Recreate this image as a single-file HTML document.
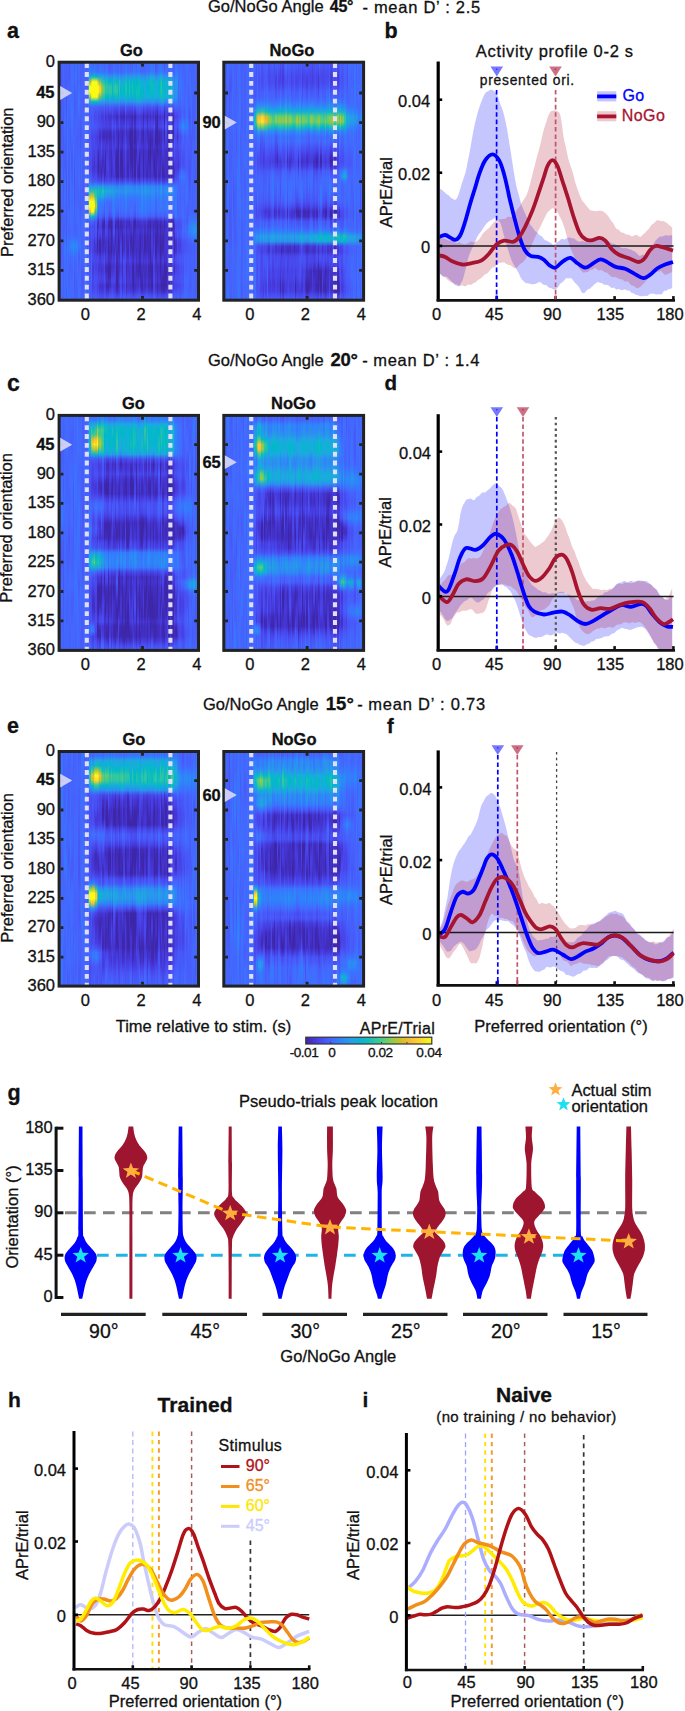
<!DOCTYPE html>
<html lang="en"><head><meta charset="utf-8"><title>Figure</title>
<style>html,body{margin:0;padding:0;background:#fff}
#fig{position:relative;width:685px;height:1711px;overflow:hidden;background:#fff;font-family:"Liberation Sans",Arial,sans-serif}
.hm{position:absolute;overflow:hidden}
.hm i{position:absolute;top:0;height:100%;display:block}
svg{position:absolute;left:0;top:0}
text{font-family:"Liberation Sans",Arial,sans-serif;fill:#111;stroke:#111;stroke-width:.3px}
</style></head>
<body><div id="fig">
<div class="hm" style="left:58.6px;top:61.8px;width:140.4px;height:239.0px"><i style="left:0.00px;width:1.70px;background:linear-gradient(#416bfe,#416bfe,#4269fe,#4466fd,#4563fd,#4563fd,#4465fd,#4367fd,#4269fe,#416bfe,#406cfe,#3f6eff,#3d70ff,#3d71ff,#3e6fff,#406dfe,#416bfe,#416bfe,#406cfe,#406dfe,#3f6efe,#406dfe,#406dfe,#406dfe,#3f6dfe,#406dfe,#416cfe,#426afe,#4368fe,#4466fd,#4564fd,#4563fc,#4563fd,#4465fd,#4368fe,#416bfe,#406dfe,#406dfe,#416bfe,#4368fe,#4466fd,#4465fd,#4466fd,#4368fe,#416bfe,#3f6efe,#3e6fff,#3f6fff,#3f6efe)"></i><i style="left:1.40px;width:1.70px;background:linear-gradient(#4465fd,#4464fd,#4564fd,#4564fd,#4465fd,#4367fd,#4368fd,#4367fd,#4466fd,#4367fd,#4269fe,#406cfe,#3f6eff,#3f6efe,#406cfe,#426afe,#4367fd,#4564fd,#4661fc,#465efb,#465efb,#465efb,#465ffb,#4660fc,#4660fb,#465ffb,#465ffb,#4561fc,#4563fc,#4464fd,#4464fd,#4563fc,#4660fc,#465efb,#475dfa,#475cfa,#475cfa,#475cfa,#475af9,#4758f8,#4756f7,#4757f7,#4759f9,#475dfa,#465ffb,#4561fc,#4563fc,#4564fd,#4465fd)"></i><i style="left:2.81px;width:1.70px;background:linear-gradient(#4561fc,#465ffb,#465efb,#465dfa,#475cfa,#475cfa,#475cfa,#465dfb,#465ffb,#465ffb,#465ffb,#465ffb,#465efb,#465efb,#465efb,#465ffb,#465ffb,#4660fc,#4561fc,#4563fd,#4465fd,#4367fd,#4269fe,#426afe,#416bfe,#416bfe,#426afe,#4368fd,#4465fd,#4562fc,#4660fc,#4660fb,#4661fc,#4563fc,#4465fd,#4466fd,#4465fd,#4563fd,#4661fc,#4660fc,#4562fc,#4466fd,#426afe,#406dfe,#3f6dfe,#406cfe,#4269fe,#4367fd,#4465fd)"></i><i style="left:4.21px;width:1.70px;background:linear-gradient(#4466fd,#4367fd,#4466fd,#4465fd,#4464fd,#4564fd,#4564fd,#4563fc,#4660fc,#465efb,#475bfa,#475bf9,#475dfa,#465efb,#465ffb,#465efb,#475bfa,#475af9,#475af9,#475cfa,#465dfa,#475dfa,#475cfa,#475bf9,#475bf9,#475bf9,#475bf9,#475dfa,#4660fb,#4562fc,#4563fd,#4562fc,#465ffb,#475cfa,#475bf9,#475dfa,#4661fc,#4465fd,#4466fd,#4464fd,#4561fc,#465ffb,#465efb,#465ffb,#4561fc,#4562fc,#4562fc,#4660fc,#465ffb)"></i><i style="left:5.62px;width:1.70px;background:linear-gradient(#4561fc,#4660fb,#4660fb,#4660fb,#4660fc,#4660fc,#4561fc,#4562fc,#4563fd,#4465fd,#4367fd,#4369fe,#426afe,#426afe,#4368fe,#4367fd,#4465fd,#4563fc,#4660fc,#465efb,#465efb,#4660fc,#4563fd,#4466fd,#4368fe,#426afe,#416cfe,#406cfe,#416cfe,#426afe,#4367fd,#4464fd,#4563fc,#4563fc,#4465fd,#4269fe,#3d70ff,#3876fe,#3875fe,#3c71ff,#406dfe,#426afe,#426afe,#416afe,#416bfe,#416cfe,#416bfe,#416afe,#426afe)"></i><i style="left:7.02px;width:1.70px;background:linear-gradient(#475af9,#475bf9,#475bfa,#475cfa,#475bf9,#475af9,#4758f8,#4757f7,#4756f7,#4757f7,#4759f8,#475bf9,#465dfa,#465efb,#465ffb,#465ffb,#465ffb,#465ffb,#465ffb,#465efb,#475cfa,#475af9,#4759f8,#4758f8,#4757f7,#4758f8,#4759f8,#475af9,#475bf9,#475bf9,#475bf9,#475af9,#4759f8,#4759f8,#4759f8,#475af9,#465ffb,#4564fd,#4465fd,#4464fd,#4465fd,#4466fd,#4466fd,#4466fd,#4466fd,#4564fd,#4561fc,#465efb,#475cfa)"></i><i style="left:8.42px;width:1.70px;background:linear-gradient(#4368fe,#4466fd,#4563fd,#4562fc,#4563fc,#4465fd,#4367fd,#4369fe,#426afe,#416bfe,#416bfe,#416cfe,#406dfe,#3f6eff,#3d71ff,#3a73fe,#3974fe,#3a74fe,#3b73fe,#3b72fe,#3b73fe,#3a74fe,#3975fe,#3875fe,#3975fe,#3b72fe,#3e70ff,#3f6dfe,#406cfe,#416bfe,#416bfe,#416bfe,#416cfe,#406dfe,#3f6eff,#3d70ff,#3876fe,#337afd,#3777fe,#3b72ff,#3d70ff,#3e70ff,#3f6fff,#3f6fff,#3e70ff,#3d71ff,#3c72ff,#3c71ff,#3d71ff)"></i><i style="left:9.83px;width:1.70px;background:linear-gradient(#475bf9,#475af9,#475bf9,#465dfa,#4561fc,#4465fd,#4368fe,#4269fe,#4368fd,#4466fd,#4465fd,#4465fd,#4465fd,#4465fd,#4465fd,#4465fd,#4464fd,#4563fd,#4661fc,#465efb,#475cfa,#475cfa,#475dfa,#465efb,#465efb,#465efb,#465dfb,#465efb,#465ffb,#4561fc,#4564fd,#4466fd,#4466fd,#4465fd,#4464fd,#4466fd,#3f6fff,#3777fe,#3c72ff,#416bfe,#4368fe,#4367fd,#4464fd,#4562fc,#4562fc,#4464fd,#4367fd,#426afe,#426afe)"></i><i style="left:11.23px;width:1.70px;background:linear-gradient(#4564fd,#4564fd,#4564fd,#4563fd,#4563fc,#4563fd,#4465fd,#4368fe,#426afe,#426afe,#4368fe,#4465fd,#4563fc,#4561fc,#465ffb,#465ffb,#465ffb,#4562fc,#4466fd,#426afe,#406dfe,#3f6eff,#3e6fff,#3e70ff,#3d71ff,#3d71ff,#3e70ff,#3e6fff,#3f6fff,#3e6fff,#3e6fff,#3f6eff,#416cfe,#4369fe,#4366fd,#4269fe,#3875fe,#307ffb,#3a74fe,#4465fd,#465ffb,#465ffb,#4562fc,#4466fd,#4269fe,#426afe,#4269fe,#4367fd,#4465fd)"></i><i style="left:12.64px;width:1.70px;background:linear-gradient(#4269fe,#416bfe,#406cfe,#406cfe,#416cfe,#416bfe,#416bfe,#416bfe,#3f6efe,#3d70ff,#3c72ff,#3c72ff,#3d70ff,#3f6efe,#416bfe,#4368fe,#4464fd,#4660fb,#475cfa,#475af9,#475af9,#475bfa,#465dfa,#465ffb,#4561fc,#4564fd,#4465fd,#4367fd,#4367fd,#4368fe,#4369fe,#426afe,#416bfe,#416bfe,#426afe,#406dfe,#327cfc,#2d88f6,#317dfc,#406dfe,#4367fd,#4564fd,#4563fc,#4563fd,#4466fd,#4368fe,#4368fe,#4367fd,#4465fd)"></i><i style="left:14.04px;width:1.70px;background:linear-gradient(#4269fe,#416bfe,#3f6efe,#3d70ff,#3d71ff,#3e70ff,#3e6fff,#3f6eff,#3f6eff,#3f6eff,#406cfe,#426afe,#4367fd,#4466fd,#4367fd,#426afe,#3f6eff,#3b72ff,#3974fe,#3975fe,#3974fe,#3a73fe,#3c71ff,#3e6fff,#3f6dfe,#406dfe,#3f6efe,#3d70ff,#3c72ff,#3c72ff,#3d70ff,#406cfe,#4368fe,#4464fd,#4564fd,#426afe,#3080fb,#2c90f0,#2e87f7,#3777fe,#3c71ff,#3d71ff,#3d70ff,#3e70ff,#3e6fff,#3e6fff,#3d70ff,#3c71ff,#3c71ff)"></i><i style="left:15.44px;width:1.70px;background:linear-gradient(#475cfa,#465dfb,#465ffb,#4660fc,#465ffb,#475cfa,#4759f8,#4757f7,#4758f8,#475af9,#475cfa,#465efb,#465ffb,#4660fc,#4561fc,#4562fc,#4562fc,#4561fc,#465ffb,#465dfa,#475bf9,#4757f7,#4854f5,#4852f4,#4852f4,#4853f5,#4755f6,#4756f7,#4758f8,#4759f8,#475bf9,#475cfa,#465dfa,#465ffb,#4562fc,#4368fe,#337afd,#2e87f7,#3678fd,#4465fd,#465efb,#475cfa,#475af9,#4758f8,#4757f7,#4758f8,#4759f8,#475af9,#475bf9)"></i><i style="left:16.85px;width:1.70px;background:linear-gradient(#406dfe,#3d70ff,#3c71ff,#3d71ff,#3f6efe,#426afe,#4465fd,#4562fc,#465ffb,#465ffb,#4660fc,#4563fc,#4464fd,#4465fd,#4563fd,#4562fc,#4561fc,#4562fc,#4564fd,#4465fd,#4466fd,#4466fd,#4367fd,#4367fd,#4466fd,#4464fd,#4562fc,#4562fc,#4564fd,#4366fd,#4368fe,#4367fd,#4564fd,#4561fc,#4660fc,#4466fd,#3578fd,#2e86f7,#327cfc,#406cfe,#4367fd,#4465fd,#4563fd,#4660fc,#465ffb,#465efb,#465ffb,#4661fc,#4562fc)"></i><i style="left:18.25px;width:1.70px;background:linear-gradient(#465efb,#475cfa,#475cfa,#475cfa,#475cfa,#465dfb,#4660fb,#4562fc,#4564fd,#4465fd,#4464fd,#4564fd,#4563fd,#4562fc,#4660fb,#465efb,#475cfa,#475dfa,#465ffb,#4561fc,#4562fc,#4562fc,#4661fc,#4660fb,#465ffb,#465efb,#465efb,#4660fb,#4563fc,#4466fd,#4369fe,#4269fe,#4368fe,#4466fd,#4465fd,#4368fe,#3677fe,#2e85f8,#2f80fa,#3777fe,#3b73fe,#3e6fff,#426afe,#4466fd,#4564fd,#4562fc,#4561fc,#465ffb,#465efb)"></i><i style="left:19.66px;width:1.70px;background:linear-gradient(#416bfe,#416bfe,#426afe,#4369fe,#4368fe,#416bfe,#3f6fff,#3b73fe,#3974fe,#3b72ff,#406dfe,#4367fd,#4563fc,#4660fb,#465ffb,#465ffb,#4661fc,#4562fc,#4464fd,#4466fd,#4367fd,#4367fd,#4368fd,#4368fe,#4269fe,#4368fe,#4465fd,#4562fc,#4562fc,#4563fd,#4466fd,#4368fe,#4269fe,#426afe,#426afe,#416bfe,#3d70ff,#3c72ff,#4367fd,#465ffb,#465ffb,#4562fc,#4465fd,#4367fd,#4368fe,#416bfe,#3f6efe,#3e70ff,#3d70ff)"></i><i style="left:21.06px;width:1.70px;background:linear-gradient(#465efb,#465efb,#475dfa,#475cfa,#475cfa,#465efb,#4561fc,#4563fd,#4564fd,#4563fc,#4561fc,#4660fb,#465dfb,#475bf9,#4758f8,#4756f6,#4756f6,#4757f7,#475af9,#465dfa,#465efb,#465ffb,#465ffb,#465ffb,#465ffb,#465ffb,#465ffb,#465dfb,#475cfa,#475cfa,#465dfa,#4660fb,#4562fc,#4564fd,#4465fd,#4367fd,#3f6eff,#3974fe,#3d70ff,#416bfe,#4369fe,#4269fe,#4269fe,#4368fe,#4367fd,#4466fd,#4466fd,#4367fd,#4367fd)"></i><i style="left:22.46px;width:1.70px;background:linear-gradient(#4466fd,#4466fd,#4465fd,#4465fd,#4465fd,#4466fd,#4367fd,#4366fd,#4465fd,#4563fc,#4562fc,#4561fc,#4660fc,#465efb,#475bfa,#475af9,#475dfa,#4562fc,#4367fd,#406cfe,#3e6fff,#3e70ff,#3f6efe,#416afe,#4367fd,#4466fd,#4466fd,#4466fd,#4367fd,#4367fd,#4466fd,#4466fd,#4367fd,#4367fd,#4465fd,#4563fd,#4464fd,#4367fd,#4465fd,#4561fc,#465ffb,#475bfa,#4758f8,#4757f8,#4759f8,#475af9,#475bf9,#475cfa,#465efb)"></i><i style="left:23.87px;width:1.70px;background:linear-gradient(#475dfa,#465efb,#4660fc,#4562fc,#4563fc,#4562fc,#4561fc,#4660fb,#465ffb,#465ffb,#4661fc,#4563fd,#4466fd,#4466fd,#4464fd,#4562fc,#4561fc,#4561fc,#4661fc,#4660fc,#465ffb,#465efb,#465dfb,#475cfa,#475bf9,#475af9,#475af9,#475cfa,#465ffb,#4562fc,#4466fd,#4269fe,#416bfe,#426afe,#4368fe,#4466fd,#4465fd,#4466fd,#4465fd,#4563fd,#4561fc,#465ffb,#475bf9,#4758f8,#4758f8,#475af9,#465efb,#4660fc,#4562fc)"></i><i style="left:25.27px;width:1.70px;background:linear-gradient(#416bfe,#416bfe,#416afe,#426afe,#4269fe,#4368fd,#4465fd,#4562fc,#4660fc,#4660fc,#4563fc,#4366fd,#4269fe,#426afe,#4369fe,#4368fe,#4367fd,#4466fd,#4563fd,#4660fc,#465efb,#465dfa,#475dfa,#465dfa,#465efb,#4660fb,#4562fc,#4465fd,#4367fd,#426afe,#406cfe,#3f6efe,#3f6efe,#406dfe,#416bfe,#4269fe,#426afe,#416bfe,#416cfe,#426afe,#4367fd,#4464fd,#4562fc,#4563fc,#4465fd,#4369fe,#416bfe,#416cfe,#416bfe)"></i><i style="left:26.68px;width:1.70px;background:linear-gradient(#4466fd,#4564fd,#4562fc,#4561fc,#4562fc,#4562fc,#4563fc,#4563fc,#4564fd,#4466fd,#4368fe,#426afe,#426afe,#4269fe,#4368fe,#4366fd,#4466fd,#4466fd,#4366fd,#4367fd,#4368fe,#426afe,#406cfe,#3f6dfe,#3f6dfe,#406cfe,#416bfe,#4269fe,#4367fd,#4465fd,#4464fd,#4464fd,#4465fd,#4564fd,#4562fc,#4561fc,#4563fd,#4368fe,#3f6efe,#3b72ff,#3974fe,#3a73fe,#3c71ff,#3e6fff,#3f6fff,#3f6eff,#3f6eff,#406cfe,#416bfe)"></i><i style="left:28.08px;width:1.70px;background:linear-gradient(#4466fd,#4367fd,#4367fd,#4466fd,#4464fd,#4561fc,#465ffb,#465ffb,#465ffb,#465ffb,#4660fc,#4562fc,#4465fd,#4366fd,#4465fd,#4561fc,#475dfa,#4758f8,#4854f6,#4852f4,#4852f4,#4854f5,#4756f6,#4758f8,#475af9,#475cfa,#475cfa,#475bfa,#475af9,#4758f8,#4757f7,#4756f7,#4755f6,#4755f6,#4755f6,#4854f5,#4853f5,#4854f5,#4755f6,#4756f7,#4757f7,#4758f8,#4758f8,#4759f8,#475af9,#475bfa,#475cfa,#465dfb,#465efb)"></i><i style="left:29.48px;width:1.70px;background:linear-gradient(#4369fe,#426afe,#416bfe,#3578fd,#2c8ff1,#1fa6e2,#1da8e0,#2a93ee,#337bfd,#406cfe,#4269fe,#4465fd,#4562fc,#465efb,#475bf9,#475bfa,#465ffb,#4563fc,#4564fd,#4563fd,#4562fc,#4561fc,#4563fd,#4367fd,#406dfe,#337bfc,#2d89f5,#2c90f0,#249de6,#23a0e5,#2d8bf4,#3e6fff,#4562fc,#4561fc,#4564fd,#4465fd,#4465fd,#4368fd,#4369fe,#4369fe,#4465fd,#465efb,#475bf9,#475cfa,#4660fc,#4465fd,#406cfe,#3c72ff,#3a73fe)"></i><i style="left:30.89px;width:1.70px;background:linear-gradient(#3876fe,#3677fe,#337bfd,#20a4e3,#93ca4b,#f9fb15,#f9fb15,#9fc941,#259ce7,#4660fb,#4759f8,#4757f7,#465dfa,#4561fc,#475cfa,#4757f7,#4757f7,#4755f6,#4850f2,#484df0,#484aee,#484aee,#484ff2,#4758f8,#4466fd,#269ae8,#2bc3a8,#c1c32c,#f9fb15,#f9fb15,#f9bb3d,#21a3e3,#475cfa,#4849ed,#484bee,#484bef,#4746ea,#4744e8,#4744e8,#484bef,#484ff2,#484ff2,#4852f4,#4757f7,#4759f8,#4756f6,#4759f8,#465dfa,#465ffb)"></i><i style="left:32.29px;width:1.70px;background:linear-gradient(#3e6fff,#3e6fff,#3975fe,#15afd9,#fccf30,#f9fb15,#f9fb15,#f5e427,#14b0d8,#4464fd,#475af9,#4854f5,#4755f6,#4854f5,#484aed,#4745e9,#484aee,#484ef1,#484df0,#484cf0,#4849ed,#4848ec,#484cf0,#4853f4,#465dfa,#2895ec,#2cc4a7,#f0ba36,#f9fb15,#f9fb15,#f9fb15,#1dc0b3,#406dfe,#4756f6,#4757f7,#4756f6,#484df0,#484ef1,#4853f5,#4561fc,#4367fd,#4563fc,#4661fc,#4562fc,#465ffb,#4757f7,#475af9,#465ffb,#4562fc)"></i><i style="left:33.70px;width:1.70px;background:linear-gradient(#4564fd,#4269fe,#3578fd,#09bcbe,#f9fb15,#f9fb15,#f9fb15,#f9fb15,#05b6cd,#4465fd,#475bfa,#4757f7,#475bf9,#475cfa,#484ff2,#4746ea,#4848ec,#4849ed,#4744e8,#4743e7,#463bdc,#4538d7,#463adb,#4746ea,#4755f6,#2895ec,#2ec4a5,#e0bc2a,#f9fb15,#f9fb15,#f9fb15,#05bbc1,#4562fc,#484bef,#4850f2,#484ff2,#4746ea,#4744e8,#4742e6,#484aee,#4747eb,#463cde,#463bdc,#4742e6,#4746eb,#4742e6,#484aee,#4755f6,#475af9)"></i><i style="left:35.10px;width:1.70px;background:linear-gradient(#3975fe,#3579fd,#2f81fa,#1cc0b3,#f9fb15,#f9fb15,#f9fb15,#f9fb15,#08bcbf,#4562fc,#4851f4,#4847ec,#484df0,#4853f5,#484aee,#484aee,#484aee,#4849ed,#473fe3,#4538d8,#43c,#4332ca,#4539d9,#4744e8,#4755f6,#2896ec,#22c1b0,#67cd6c,#f5e327,#f9fb15,#debc2a,#23a1e5,#4853f5,#4743e7,#4849ed,#4745e9,#4536d2,#4433cd,#4536d3,#4746ea,#484bee,#4747eb,#484aee,#484ef1,#4850f3,#484cef,#484ff1,#4759f8,#465dfb)"></i><i style="left:36.50px;width:1.70px;background:linear-gradient(#4269fe,#426afe,#3b72fe,#01b8c9,#f9fb15,#f9fb15,#f9fb15,#f9fb15,#01bac6,#4660fb,#4850f2,#484aee,#4851f3,#4756f6,#484bee,#4740e4,#4744e8,#4848ec,#4746ea,#4745ea,#4741e4,#463de0,#4740e4,#4848ec,#4757f7,#269ae8,#29c3aa,#2fc5a3,#73cd62,#bfc32e,#36c898,#2b92ee,#475bf9,#4757f7,#4756f6,#4851f3,#4742e6,#463adb,#4537d5,#4743e8,#4746ea,#473ee2,#4743e7,#484bef,#484ff2,#484bef,#4850f2,#475bf9,#465ffb)"></i><i style="left:37.91px;width:1.70px;background:linear-gradient(#4466fd,#4269fe,#3d71ff,#11b1d6,#fcd030,#f9fb15,#f9fb15,#f5ea24,#09b4d1,#4562fc,#4853f4,#484ef1,#484ff2,#4852f4,#4745e9,#463adb,#463ee1,#473fe2,#4538d7,#4536d3,#4332ca,#4230c3,#4332cb,#463adb,#484df0,#2a92ee,#07bcbf,#17aedb,#22a2e4,#1ea7e1,#2b91ef,#4464fd,#463adb,#402ab4,#4332c9,#3e28ad,#3e26a8,#3e26a8,#3f28ad,#4741e4,#484aed,#4746ea,#4744e9,#484aee,#4849ed,#463ddf,#4744e8,#4851f4,#4757f7)"></i><i style="left:39.31px;width:1.70px;background:linear-gradient(#465efb,#4660fc,#426afe,#1da9e0,#cfc028,#f9fb15,#f9fb15,#e3bc2c,#1ca9df,#475cfa,#484cef,#4742e6,#4848ec,#484ff2,#4744e8,#463de0,#4742e6,#463ee1,#4230c3,#3e27a9,#3e26a8,#3e26a8,#3e26a8,#4433cd,#4851f3,#249ee6,#2cc4a7,#18aedb,#2e86f7,#337bfc,#416afe,#4852f4,#4331c6,#4330c5,#4741e5,#4746ea,#4538d7,#4538d8,#4536d3,#4745e9,#4744e8,#4536d3,#4536d3,#4742e6,#4849ed,#4741e5,#484aee,#475af9,#4562fc)"></i><i style="left:40.72px;width:1.70px;background:linear-gradient(#3e6fff,#3c72ff,#3678fd,#1baade,#70cd65,#fdcc32,#feca33,#5ecd74,#23a0e5,#465dfa,#484ff2,#4746ea,#4849ed,#484aee,#4435d1,#412ebe,#4535d2,#463cde,#4539d8,#4539d9,#4434cf,#4331c8,#4331c6,#4536d3,#484bee,#2b92ee,#04bbc2,#20a4e3,#307ffb,#327bfc,#3777fe,#4367fd,#484aed,#473fe2,#4745e9,#463adb,#3e27ab,#3e26a8,#3e26a8,#4434ce,#463cdf,#4536d3,#4538d7,#4741e5,#4740e4,#4332ca,#463adb,#484ef1,#4757f7)"></i><i style="left:42.12px;width:1.70px;background:linear-gradient(#4367fd,#406cfe,#3975fe,#1da9e0,#47cb87,#c5c22a,#c0c32d,#3dca90,#249fe5,#475bf9,#4747eb,#4539d9,#4742e6,#4849ed,#473ee1,#463cde,#484aee,#4852f4,#484bef,#4744e8,#4536d2,#412dbd,#3e27aa,#412cba,#4744e8,#2b90ef,#0bbdbd,#1fa6e2,#327cfc,#3974fe,#3d70ff,#4563fc,#4747eb,#473ee1,#4849ed,#4745e9,#4537d5,#4536d4,#4433cd,#4740e3,#4741e5,#4433cd,#4332ca,#463bdd,#463ee1,#4433cb,#463bdd,#484cf0,#4854f5)"></i><i style="left:43.52px;width:1.70px;background:linear-gradient(#4367fd,#416cfe,#3a74fe,#20a4e3,#2fc5a3,#6ecd66,#6acd6a,#2bc3a8,#249de6,#475dfa,#4849ed,#463bdd,#4740e3,#4743e7,#4330c4,#402bb7,#4535d2,#463cde,#4435d1,#4331c8,#412cba,#422fc1,#43c,#4741e4,#4756f7,#23a0e5,#25c2ae,#1ca9e0,#317dfc,#3b72ff,#426afe,#4758f8,#4330c5,#3e27ac,#4331c5,#4331c6,#402ab5,#412dbc,#422fc1,#473fe2,#4746ea,#4639da,#4538d7,#4741e5,#4741e4,#4332ca,#463adc,#484df0,#4755f6)"></i><i style="left:44.93px;width:1.70px;background:linear-gradient(#4660fb,#4562fc,#426afe,#259de7,#23c1af,#55cc7c,#58cc79,#2dc4a6,#21a3e3,#4466fd,#4854f5,#4849ed,#4849ed,#4744e8,#4230c3,#402ab4,#4536d3,#4740e3,#463cdf,#463adb,#4434ce,#422fc2,#3f29b1,#4029b2,#463de0,#2f81fa,#1caadf,#2c8ef1,#4368fd,#4660fb,#4759f9,#484aee,#3e26a8,#3e26a8,#4331c6,#4433cd,#4230c3,#4433cd,#4537d6,#484bef,#4854f5,#4746ea,#4743e7,#484df0,#484ef1,#473ee2,#4849ed,#4756f6,#475cfa)"></i><i style="left:46.33px;width:1.70px;background:linear-gradient(#416cfe,#3f6efe,#3c71ff,#249de6,#08bcbf,#2bc3a8,#23c1af,#04b6cd,#2c8ef1,#4850f3,#463de0,#422fc3,#4538d7,#4741e5,#4434cf,#4230c4,#4537d6,#4537d6,#412dbb,#3e27a9,#3e26a8,#3e26a8,#3f28af,#4434ce,#484ff2,#2798ea,#02bac4,#23a0e5,#327cfc,#3479fd,#347afd,#3f6efe,#4853f5,#4745e9,#484cef,#4740e3,#4331c7,#422ebf,#412dbb,#4536d4,#463ada,#412dbc,#412ebe,#463bdc,#4741e5,#4536d4,#4744e8,#4854f5,#475dfa)"></i><i style="left:47.74px;width:1.70px;background:linear-gradient(#416cfe,#3e6fff,#3875fe,#22a2e4,#15bfb7,#30c5a1,#2ac3a9,#02bac4,#2797ea,#475cfa,#484aee,#463cdf,#4741e5,#4742e6,#422fc0,#3f29b0,#4332c8,#463adb,#4539d9,#463ddf,#4740e4,#4741e5,#463cde,#463adc,#484bee,#2d8cf3,#1aacdd,#2c8ff1,#406cfe,#426afe,#406dfe,#4464fd,#4747ec,#463cde,#4745e9,#463ee1,#4536d2,#4536d5,#4536d3,#473ee1,#463ee0,#412cba,#402ab5,#4331c8,#4432cb,#3e27ab,#4332cb,#484aee,#4756f6)"></i><i style="left:49.14px;width:1.70px;background:linear-gradient(#465efb,#465efb,#4564fd,#2a93ed,#01b8c9,#25c2ad,#20c1b1,#04b6cd,#2c8ff0,#4853f4,#4740e3,#4433cb,#463de0,#4745e9,#4434d0,#4331c8,#463adb,#4742e6,#463cdf,#463cdf,#4740e4,#4744e8,#4743e7,#4743e7,#4851f3,#2c8ff0,#1caadf,#2c8ef2,#3e6fff,#416bfe,#4368fd,#4759f9,#4332ca,#3f29b2,#4332c9,#412dbb,#3e26a8,#3e26a8,#3e26a8,#402bb7,#412dbb,#3e26a8,#3e26a8,#3e27ac,#412dbd,#3e27a9,#43c,#484bef,#4756f6)"></i><i style="left:50.54px;width:1.70px;background:linear-gradient(#475cfa,#475bf9,#4660fc,#2b91ef,#01b8c9,#2bc3a8,#2fc5a3,#10beba,#259ce7,#465efb,#484bee,#4434d0,#4538d8,#463de0,#412cba,#402ab3,#4331c6,#4536d4,#4332c9,#4332c8,#4434cf,#4435d1,#4434ce,#4536d2,#484cef,#2c8ff1,#1babde,#2c8ef1,#406cfe,#4563fd,#475dfa,#484ff1,#402ab4,#3e27a9,#4435d1,#4435d0,#422fc3,#412ebe,#402bb6,#4330c4,#4331c6,#3e26a8,#3e26a8,#3f29b2,#4330c5,#412dbc,#473fe3,#4756f7,#4561fc)"></i><i style="left:51.95px;width:1.70px;background:linear-gradient(#465dfb,#465efb,#4465fd,#2895ec,#02bac4,#2dc4a6,#2cc4a6,#05bbc1,#2797ea,#4759f8,#4743e7,#43c,#463cdf,#4744e8,#4331c7,#412dbb,#4330c4,#4434cd,#412ebe,#412dbb,#422ebf,#412dbd,#412cb9,#422ebf,#4848ec,#2d89f6,#23a0e5,#2e86f7,#416bfe,#4465fd,#4661fc,#4852f4,#3e27a9,#3e26a8,#3e26a8,#3e26a8,#3e26a8,#3e26a8,#3e26a8,#422fc0,#4538d8,#4331c6,#4434d0,#463ee1,#4743e7,#4539d9,#4746ea,#4757f7,#465ffb)"></i><i style="left:53.35px;width:1.70px;background:linear-gradient(#4465fd,#4561fc,#4562fc,#2d8bf4,#19addc,#01b8c9,#02bac3,#06b5ce,#2797eb,#465efb,#484ef1,#4741e5,#4850f2,#4759f8,#4742e6,#463cdf,#4740e3,#4745e9,#463cde,#4539d9,#4536d5,#4434cf,#4434cf,#4538d8,#4854f5,#2994ed,#1ca9df,#2994ed,#307ffb,#337afd,#3974fe,#4563fd,#4537d6,#422ec0,#4536d3,#4332c9,#422fc0,#4330c5,#4332c9,#463bdc,#473fe3,#43c,#4435d0,#463ee0,#4745e9,#463de0,#484cef,#465efb,#4367fd)"></i><i style="left:54.76px;width:1.70px;background:linear-gradient(#416afe,#406cfe,#3c72ff,#249fe6,#0bbdbd,#2bc3a7,#25c2ad,#01b9c6,#2896eb,#4759f8,#4743e7,#4434ce,#4740e3,#4849ed,#4434ce,#4331c6,#4435d0,#463ddf,#463ada,#463de0,#4741e5,#4741e5,#463cdf,#4538d7,#484df0,#2d89f5,#249de6,#2d8cf3,#327cfc,#327cfc,#327cfc,#3e6fff,#484ff2,#4848ec,#4852f4,#4747eb,#4539d9,#4332c9,#422ebf,#4434cf,#463cde,#4434cf,#4639d9,#4742e7,#4747eb,#463adb,#4742e6,#4854f5,#465dfb)"></i><i style="left:56.16px;width:1.70px;background:linear-gradient(#4563fc,#4464fd,#416bfe,#259be8,#0ebebb,#34c79c,#33c69e,#0bbdbc,#2896ec,#4854f5,#463cdf,#4332ca,#4744e9,#4854f5,#4741e5,#473ee1,#473fe2,#4740e4,#4433cd,#422ebf,#402bb8,#402bb8,#422ebf,#4332cb,#484cf0,#2d89f5,#2797eb,#3080fa,#406dfe,#416bfe,#4368fe,#475af9,#422fc1,#3e26a8,#402bb8,#3f29b2,#402bb7,#4332ca,#4639da,#4848ec,#484ff2,#4740e4,#463de0,#463ee1,#463ee0,#4332cb,#463adb,#4850f2,#475af9)"></i><i style="left:57.56px;width:1.70px;background:linear-gradient(#4562fc,#4563fd,#4368fd,#2896eb,#01bac5,#2ac3a9,#2dc4a6,#0abdbe,#2797eb,#4755f6,#463ddf,#412cba,#4435d0,#463ee1,#422fc2,#4331c7,#4434cf,#4535d2,#3f29b0,#3e26a8,#3e26a8,#3e26a8,#3e26a8,#3e26a8,#4741e5,#2f82f9,#2895ec,#2f82f9,#3c71ff,#416cfe,#4464fd,#4854f6,#412dbb,#402bb8,#4538d7,#4537d5,#4434ce,#4331c7,#412dbb,#412dbc,#402bb7,#3e26a8,#3e26a8,#3e26a8,#3e26a8,#3e26a8,#412cba,#4747eb,#4755f6)"></i><i style="left:58.97px;width:1.70px;background:linear-gradient(#4563fd,#4561fc,#4660fc,#2e87f7,#1ea7e1,#0cb3d3,#02b7cb,#08b4d0,#2895ec,#475af9,#4848ec,#4535d2,#463ddf,#4740e4,#402ab4,#3e26a8,#3e26a8,#3e27ac,#3e26a8,#3e26a8,#3e26a8,#3e26a8,#3e26a8,#3e26a8,#463ee1,#317efb,#2b91ef,#307ffb,#3f6dfe,#4466fd,#475dfa,#484bef,#3e26a8,#3e26a8,#3e27a9,#3e26a8,#3e26a8,#3e27ac,#402ab5,#4433cb,#4538d8,#412dbd,#402bb8,#412dbd,#4331c6,#412cb9,#4434cf,#484aee,#4853f5)"></i><i style="left:60.37px;width:1.70px;background:linear-gradient(#3e70ff,#3a73fe,#327cfc,#1ca9df,#28c3ab,#36c799,#2fc5a3,#0ebdbb,#249ee6,#4562fc,#484ff2,#473fe2,#484aee,#484ff2,#4435d1,#4434cd,#4538d7,#4743e7,#473ee2,#473fe3,#463cdf,#4539d8,#4537d5,#4538d7,#4755f6,#2b92ee,#249de6,#2d8af5,#327bfc,#3579fd,#3876fe,#4366fd,#4538d8,#4331c6,#4435d0,#422fc2,#412cb9,#402bb6,#402ab3,#422fc1,#4435d1,#422fc1,#4433cd,#4639da,#473ee2,#4535d2,#4639d9,#484ef1,#4757f7)"></i><i style="left:61.78px;width:1.70px;background:linear-gradient(#4564fd,#4562fc,#4563fd,#2d8cf3,#1aacdd,#06b5cf,#02b7cb,#11b1d6,#2d8df2,#4850f2,#4537d6,#402ab5,#4434cf,#463de0,#422ebf,#4230c4,#4332ca,#4434cf,#3f29b2,#3e26a8,#3e26a8,#3e26a8,#3e27a9,#402ab3,#4746ea,#2f82f9,#2d8df2,#347afd,#406dfe,#416bfe,#4368fe,#475af9,#412dbc,#3f28ae,#4331c7,#4433cd,#463adc,#4742e6,#4745e9,#4849ed,#484bee,#463cdf,#473fe2,#4745e9,#484cf0,#4746ea,#484ff2,#465dfb,#4465fd)"></i><i style="left:63.18px;width:1.70px;background:linear-gradient(#4367fd,#4368fe,#416cfe,#2797eb,#04b6cd,#0abdbd,#09bcbe,#06b5cf,#2c8ff1,#4850f3,#4639da,#412dbc,#4536d4,#463cde,#3f28ae,#3e27a9,#3f29b0,#422fc0,#3f29b0,#3f28ae,#3e27aa,#3e26a8,#3e26a8,#3e26a8,#4741e4,#2f80fa,#2c90f0,#2f81fa,#3776fe,#3975fe,#3d70ff,#4660fb,#4433cb,#402ab5,#412dbd,#3e27ab,#3e26a8,#3e26a8,#3e26a8,#412dbc,#4435d1,#422ebf,#422fc1,#4331c7,#4434d0,#422fc3,#4537d6,#484ef1,#4758f8)"></i><i style="left:64.58px;width:1.70px;background:linear-gradient(#4368fe,#4368fe,#426afe,#2a92ee,#14b0d8,#05b6ce,#05b6cd,#14b0d8,#2d8cf3,#484ff2,#4434d0,#3e28ac,#4433cd,#4740e3,#4332ca,#4435d1,#4538d8,#473ee1,#4536d3,#4434d0,#43c,#4331c8,#4330c5,#4230c3,#4849ed,#2e83f9,#2d8cf3,#347afd,#3f6dfe,#416cfe,#4269fe,#475cfa,#4434ce,#4332ca,#463adc,#4434cf,#4330c5,#4331c6,#4435d0,#4742e6,#4850f2,#4848ec,#4848ec,#4747eb,#4746ea,#463cde,#4744e9,#4758f8,#4562fc)"></i><i style="left:65.99px;width:1.70px;background:linear-gradient(#3b73fe,#3875fe,#327cfc,#1fa6e2,#13beb8,#23c1af,#1dc0b3,#07bcbf,#249fe5,#4465fd,#4852f4,#473fe2,#4849ed,#4852f4,#473fe2,#4743e7,#4849ed,#4853f4,#484aee,#4848ec,#4744e9,#4741e5,#473fe3,#4741e5,#475cfa,#2699e9,#20a4e3,#2b92ee,#2e83f9,#317efb,#3678fe,#4269fe,#473ee2,#463adb,#4743e7,#463ee1,#463ee0,#4740e4,#4743e7,#484aee,#4851f3,#4745e9,#4848ec,#484ef1,#4853f5,#4848ec,#484cef,#475cfa,#4564fd)"></i><i style="left:67.39px;width:1.70px;background:linear-gradient(#3d70ff,#3a74fe,#3579fd,#21a3e3,#0cbdbc,#20c1b1,#1fc1b1,#0abdbd,#259de7,#465dfa,#4744e8,#422fc1,#4435d1,#463cde,#412ebe,#4332ca,#4639d9,#4742e6,#4539d9,#4536d4,#4435d0,#4434cf,#4434cf,#4435d0,#484ef1,#2d8cf3,#2699e9,#2d8af5,#3080fb,#327cfc,#3a74fe,#4561fc,#4332ca,#402bb7,#422fc2,#402bb7,#402bb8,#422ebe,#4230c3,#4434cf,#4537d6,#412cb9,#402ab5,#412cba,#4230c3,#402ab3,#4230c3,#4847ec,#4853f5)"></i><i style="left:68.80px;width:1.70px;background:linear-gradient(#4466fd,#4466fd,#426afe,#2896eb,#09b4d1,#01b9c7,#01b8c8,#0eb2d4,#2c8ff1,#4852f4,#463bdd,#4230c4,#463ddf,#4747eb,#43c,#4332ca,#4332cb,#4536d4,#422fc2,#422ec0,#412dbc,#402bb8,#402ab5,#412cb8,#4849ed,#2e86f7,#2c90f0,#327cfc,#406cfe,#4269fe,#4466fd,#475bf9,#4332c9,#4330c5,#4538d8,#4433cd,#422fc1,#402bb8,#402ab3,#4330c5,#4639da,#4433cd,#4435d1,#4537d5,#463adb,#4435d0,#473fe2,#4756f7,#4561fc)"></i><i style="left:70.20px;width:1.70px;background:linear-gradient(#4368fd,#426afe,#3c71ff,#23a0e5,#0fbebb,#27c2ab,#26c2ad,#07bcc0,#2797eb,#4755f6,#463bdd,#412dbd,#4537d6,#463ddf,#3f29b0,#3e27ac,#402bb6,#4433cd,#4331c6,#43c,#4435d0,#4536d4,#4538d8,#463adb,#4852f4,#2d8df2,#2895ec,#2f80fa,#3d70ff,#416bfe,#4466fd,#4758f8,#412dbd,#402bb7,#4435d0,#4535d2,#463ada,#473fe2,#4740e3,#4743e7,#4744e8,#4434cf,#4331c8,#4332cb,#4536d5,#4433cd,#463de0,#4755f6,#465ffb)"></i><i style="left:71.60px;width:1.70px;background:linear-gradient(#465efb,#4562fc,#426afe,#2699e9,#03b7cc,#02bac4,#01b9c6,#09b4d1,#2b91ef,#4853f5,#463cdf,#412dbd,#4434d0,#4537d6,#3e26a8,#3e26a8,#3e26a8,#3e26a8,#3e26a8,#3e26a8,#3e27aa,#402bb6,#422fc3,#4433cd,#484df0,#2d87f7,#2c8ff1,#347afd,#406cfe,#406cfe,#406dfe,#4563fc,#463adb,#4331c8,#4332c9,#402ab3,#3e27ac,#402ab3,#422ebe,#4537d5,#4740e4,#4538d7,#4538d8,#4539d9,#4639da,#4332c9,#4639da,#4851f3,#475dfa)"></i><i style="left:73.01px;width:1.70px;background:linear-gradient(#465dfb,#465ffb,#4368fd,#259be8,#09bcbe,#22c1b0,#1dc0b3,#01b9c6,#2a92ee,#4850f3,#4536d3,#3e26a8,#412cb9,#4230c4,#3e26a8,#3e26a8,#3e26a8,#3e27ac,#3e26a8,#3e26a8,#3e26a8,#3e26a8,#3e26a8,#3f29b1,#4745e9,#2e85f8,#2b90f0,#317dfc,#3e6fff,#3f6dfe,#406dfe,#4562fc,#473fe2,#463adb,#463de0,#4332c9,#402bb7,#3f29b0,#3f29af,#422ebf,#4332cb,#3f28ae,#3e26a8,#3e27ab,#402bb7,#3f29b1,#4434cf,#484ff2,#475cfa)"></i><i style="left:74.41px;width:1.70px;background:linear-gradient(#3876fe,#3777fe,#3677fe,#249ee6,#02b7cb,#02bac3,#08bcbf,#02bac3,#259be8,#465dfa,#4849ed,#4435d1,#473fe2,#4747eb,#4433cd,#4332ca,#4331c7,#43c,#402bb7,#412dbb,#4230c4,#43c,#4434ce,#4332c9,#4848ec,#2e83f9,#2d8df2,#327cfc,#3e6fff,#416bfe,#4466fd,#4758f8,#422ebf,#3f29b2,#402bb8,#3e26a8,#3e26a8,#3e26a8,#3e27ac,#412ebe,#4330c5,#3e26a8,#3e26a8,#3e26a8,#3e26a8,#3e26a8,#402bb7,#4747eb,#4755f6)"></i><i style="left:75.82px;width:1.70px;background:linear-gradient(#4369fe,#416afe,#3e70ff,#259ce7,#01b8c9,#03bbc2,#03bbc3,#03b6cc,#2a93ee,#4852f4,#4535d2,#3e26a8,#402bb8,#4332c9,#3e26a8,#3e26a8,#3e26a8,#402bb7,#3e26a8,#3e27aa,#3e26a8,#3e26a8,#3e26a8,#3e26a8,#463de0,#337bfc,#2d88f6,#3876fe,#4368fd,#4562fc,#475dfa,#484ff2,#3e26a8,#3e26a8,#422fc1,#422ec0,#422fc1,#4230c3,#4331c6,#4537d7,#473fe3,#4435d1,#4433cd,#4332c9,#4332cb,#412dbb,#4536d2,#4850f2,#475cfa)"></i><i style="left:77.22px;width:1.70px;background:linear-gradient(#4563fd,#4563fd,#4369fe,#2796eb,#04b6cd,#07bcc0,#14bfb8,#0fbeba,#23a1e4,#4562fc,#484aee,#4435d0,#463ee1,#4746ea,#4331c8,#422fc0,#412cba,#422ec0,#3f29b2,#422ebf,#4536d3,#463ee1,#4743e8,#4744e8,#4756f7,#2c8ef1,#2895ec,#2f82fa,#3776fe,#3876fe,#3a73fe,#4465fd,#4538d8,#4332ca,#4538d7,#4434ce,#4332cb,#4331c6,#422ebe,#422fc3,#4432cb,#402ab5,#412cba,#4330c5,#4435d1,#4331c7,#463adc,#4854f5,#4660fb)"></i><i style="left:78.62px;width:1.70px;background:linear-gradient(#3d71ff,#3b73fe,#3777fe,#23a0e5,#01b9c6,#08bcbf,#0fbebb,#08bcbe,#249fe5,#4561fc,#484df0,#4538d8,#4741e5,#4848ec,#4433cb,#4434ce,#4639da,#4745e9,#473fe2,#463bdd,#4434d0,#422ec0,#402bb6,#402ab5,#4747eb,#2e85f8,#2c90f0,#317efb,#3d70ff,#3f6efe,#416bfe,#465efb,#43c,#4230c3,#4537d5,#4433cd,#4332ca,#4332c9,#4331c6,#4434ce,#4537d5,#412cb8,#402ab5,#412dbc,#43c,#4433cb,#4740e3,#4758f8,#4563fd)"></i><i style="left:80.03px;width:1.70px;background:linear-gradient(#3f6eff,#3c72ff,#3579fd,#20a5e2,#0cbdbc,#14bfb8,#14beb8,#0abdbd,#22a1e4,#4367fd,#4756f6,#4740e4,#4849ed,#4850f2,#463bdd,#463cdf,#463cdf,#463bdd,#412cb9,#3e26a8,#3e26a8,#3e26a8,#3e26a8,#3e26a8,#463cde,#317dfc,#2c8ef1,#2e83f9,#337bfd,#337afd,#3777fe,#4466fd,#4538d8,#4330c5,#4434cf,#422fc2,#422ebf,#412dbd,#402ab5,#402bb7,#412cba,#3e26a8,#3e27a9,#422fc0,#4639d9,#4538d8,#4743e7,#4757f8,#4661fc)"></i><i style="left:81.43px;width:1.70px;background:linear-gradient(#4367fd,#4367fd,#426afe,#2994ed,#12b1d7,#06b6ce,#01b9c7,#01b9c7,#259be7,#465efb,#4849ed,#4536d3,#4742e6,#484df0,#463bdc,#463bdc,#4639da,#463bdd,#4332c9,#4332ca,#4434ce,#4536d4,#4536d4,#4433cd,#4848ec,#307ffb,#2e87f7,#3777fe,#3f6eff,#3c71ff,#3c71ff,#4563fd,#4536d4,#422ebf,#4230c4,#3f28af,#3e26a8,#3e26a8,#3e26a8,#3f29b1,#412cba,#3e26a8,#3e26a8,#3e26a8,#412cb8,#412dbd,#463cdf,#4757f7,#4563fc)"></i><i style="left:82.84px;width:1.70px;background:linear-gradient(#4561fc,#4562fc,#4466fd,#2b92ee,#15afd9,#0bb4d2,#04b6cd,#03b7cc,#269ae9,#465ffb,#484aee,#4536d4,#463ee1,#4743e7,#412ebe,#412dbb,#422fc0,#4536d2,#4332ca,#4435d0,#4536d4,#4538d7,#4539d9,#463adc,#4854f6,#2b92ef,#249ee6,#2c8ff1,#2e86f7,#2e84f8,#307ffb,#416bfe,#463bdd,#4332ca,#4536d3,#4330c5,#422fc3,#4331c7,#4433cb,#4539d8,#463ee0,#4331c8,#422ebe,#402bb7,#402bb6,#3e26a8,#422fc1,#484ef1,#465dfa)"></i><i style="left:84.24px;width:1.70px;background:linear-gradient(#4660fc,#4562fc,#4368fe,#2797eb,#06b6ce,#01b9c7,#01b8c8,#0ab4d1,#2c8ff1,#484ff2,#4535d2,#3e27a9,#422ebf,#4434cf,#3e26a8,#3f28ad,#402bb7,#4330c5,#3f28af,#3e26a9,#3e26a8,#3e26a8,#3e26a8,#3e26a8,#463cdf,#347afd,#2d8af4,#307efb,#3678fd,#3479fd,#3876fe,#4464fd,#4639d9,#4433cd,#463bdc,#4537d6,#4536d3,#4434ce,#4230c3,#4331c6,#4435d0,#412ebe,#4331c6,#4434cf,#4537d6,#4331c6,#4536d3,#484bef,#4854f5)"></i><i style="left:85.64px;width:1.70px;background:linear-gradient(#4563fd,#4563fd,#4366fd,#2c8ef1,#1ea8e0,#1caadf,#18addb,#15afd9,#2a93ee,#4759f8,#4742e6,#4433cd,#4741e4,#484cf0,#4538d8,#4536d4,#4435d1,#4538d7,#4331c7,#4332cb,#4434ce,#4434cf,#4435d0,#4536d3,#4852f4,#2c8ff1,#269ae9,#2d89f5,#317efb,#327cfc,#3678fe,#4466fd,#4536d4,#412ebd,#422fc2,#3f28af,#3e26a8,#3e27ab,#3f29b2,#4331c8,#4539d9,#4230c4,#422ebf,#422ebe,#4330c5,#412dbc,#4537d6,#4853f5,#4660fb)"></i><i style="left:87.05px;width:1.70px;background:linear-gradient(#426afe,#416cfe,#3c71ff,#249de6,#01b8ca,#01b8c8,#02b7cb,#0bb3d2,#2a92ee,#4756f7,#473fe3,#4331c6,#463cde,#4747eb,#4435d1,#4536d5,#4538d8,#463cdf,#43c,#4332ca,#4331c7,#422fc1,#412cba,#402bb6,#4746eb,#2e87f7,#2896ec,#2e87f7,#317dfc,#327cfc,#3479fd,#426afe,#4740e3,#4537d7,#463bdc,#4433cb,#422ec0,#412dbc,#412dbd,#4433cd,#4639da,#422fc3,#422fc1,#4331c6,#4536d4,#4435d1,#4744e8,#475cfa,#4367fd)"></i><i style="left:88.45px;width:1.70px;background:linear-gradient(#4465fd,#4368fd,#3f6eff,#259be8,#04b6cd,#03b7cc,#08b4d1,#16afda,#2d8bf4,#484ef1,#4537d5,#3f28af,#4230c3,#4435d1,#3f28ad,#412cba,#4332ca,#463adb,#43c,#4331c8,#422fc1,#412cbb,#402bb6,#402bb6,#4745e9,#2e84f9,#2b91ef,#2f82fa,#3677fe,#3776fe,#3b72fe,#4562fc,#4434ce,#402bb6,#412dbc,#3e27ac,#3e27ab,#402ab5,#422ec0,#4536d3,#463de0,#43c,#4433cb,#4434d0,#4538d8,#4434ce,#463de0,#4854f5,#465ffb)"></i><i style="left:89.86px;width:1.70px;background:linear-gradient(#426afe,#426afe,#406dfe,#2797eb,#0fb2d5,#08b4d1,#08b4d0,#12b1d6,#2c90f0,#4854f6,#4740e3,#4433cb,#473fe2,#4747ec,#4331c8,#422ebe,#402bb7,#412dbd,#3e27aa,#3f29af,#402bb8,#422fc1,#4331c7,#4332c9,#484bee,#2e86f7,#2b92ef,#2f82f9,#3678fd,#3875fe,#3e6fff,#465efb,#422fc2,#402ab5,#4331c5,#412dbc,#412cb9,#402bb8,#402ab5,#422ec0,#4433cb,#402ab3,#3f29b2,#402ab4,#412dbc,#402ab4,#4435d1,#4852f4,#465ffb)"></i><i style="left:91.26px;width:1.70px;background:linear-gradient(#3f6efe,#3a74fe,#327cfc,#1da8e0,#0ebdbb,#04bbc2,#04b6cc,#14b0d8,#2d8df2,#4851f3,#463adb,#422fc0,#463bdd,#4743e7,#412ebd,#3f29b0,#3e26a8,#3f28ad,#3e26a8,#3e26a8,#3e27a9,#3f29b2,#402bb7,#402bb6,#4744e8,#307ffb,#2d89f5,#3777fe,#416bfe,#4269fe,#4466fd,#4757f7,#402ab5,#3e26a8,#402bb6,#3e28ac,#3e27ac,#3e28ac,#3e26a8,#3e27ac,#402ab3,#3e26a8,#3e26a8,#402ab5,#4331c7,#422ebf,#4536d3,#484ef1,#4759f8)"></i><i style="left:92.66px;width:1.70px;background:linear-gradient(#3a73fe,#3776fe,#327cfc,#20a5e2,#08bcbf,#0bbdbd,#07bcbf,#01b9c8,#2798ea,#475bf9,#4745e9,#4535d2,#4742e6,#4849ed,#4331c7,#412cbb,#402bb6,#422fc2,#412cba,#4332c9,#4537d5,#4639da,#4538d7,#4435d1,#484df1,#2d89f5,#2796eb,#2d88f6,#317efb,#337afd,#3a73fe,#4562fc,#4434cf,#4331c7,#463bdd,#463bdd,#463ee0,#463de0,#4538d8,#4535d2,#4332ca,#3e26a8,#3e26a8,#3e26a8,#3e26a8,#3e26a8,#422ebf,#484cef,#4759f8)"></i><i style="left:94.07px;width:1.70px;background:linear-gradient(#416bfe,#406cfe,#3b73fe,#23a0e5,#06bcc0,#0ebdbb,#06bcc0,#06b5cf,#2c90f0,#4851f4,#4536d4,#412cb9,#463adb,#4849ed,#4537d6,#4538d7,#4537d5,#4538d7,#422ebf,#412cb8,#402bb6,#412cba,#422fc1,#4331c7,#484df0,#2d88f6,#2a93ed,#2e85f8,#317dfc,#327cfc,#3876fe,#4563fc,#4331c6,#402ab3,#422fc0,#402bb7,#412cba,#4331c6,#4536d3,#4742e6,#484cef,#4742e6,#4742e7,#4745e9,#4747eb,#463de0,#4743e7,#4758f8,#4562fc)"></i><i style="left:95.47px;width:1.70px;background:linear-gradient(#317dfc,#317dfc,#317efb,#23a0e5,#0bb3d2,#11b1d6,#12b1d6,#13b0d7,#2a93ee,#4759f8,#4743e7,#4537d6,#484aed,#4757f7,#4740e4,#463bdc,#4535d2,#4435d0,#402bb6,#3f28af,#3e26a9,#3e26a8,#3e26a8,#3f29b1,#4849ed,#2d89f5,#2796eb,#2d88f6,#317efb,#347afd,#3b72fe,#4660fc,#4330c5,#412ebe,#4538d7,#4539d9,#463cde,#473fe2,#4740e3,#4745e9,#484aee,#473fe3,#4742e6,#4747eb,#484cf0,#4743e8,#484bef,#465ffb,#416bfe)"></i><i style="left:96.88px;width:1.70px;background:linear-gradient(#4757f7,#4759f8,#4660fb,#2c8ff1,#17aeda,#12b1d6,#12b1d6,#18aedb,#2d8bf4,#484ff2,#4539d9,#3f29b0,#412dbc,#422ec0,#3e26a8,#3e26a8,#3e26a8,#422ebf,#402bb6,#402cb8,#402bb7,#402bb6,#4029b3,#3f28ad,#463ee1,#3677fe,#2f82f9,#3d71ff,#4466fd,#4564fd,#4660fc,#4854f5,#412cba,#3f29b1,#412dbc,#3e26a8,#3e26a8,#3e26a8,#3e26a8,#3f29b1,#4332cb,#422fc1,#4332ca,#4435d0,#4537d5,#4331c6,#4539d9,#484ff2,#475af9)"></i><i style="left:98.28px;width:1.70px;background:linear-gradient(#4561fc,#4563fd,#4368fd,#2b92ee,#19addc,#18aedb,#17aeda,#1babde,#2e86f7,#4746eb,#412cb9,#3e26a8,#3e26a8,#3f28ae,#3e26a8,#3e26a8,#3e26a8,#3e27aa,#3e27aa,#412cbb,#4332c8,#4536d3,#463adb,#463de0,#4853f5,#2c90f0,#259be8,#2d88f6,#327cfc,#3777fe,#3e6fff,#475bf9,#402bb8,#3e26a8,#3e26a8,#3e26a8,#3e27ab,#412ebd,#4332c8,#4537d5,#463ada,#422ebf,#412dbb,#412dbc,#422ebf,#3e28ac,#412dbd,#4744e9,#4850f3)"></i><i style="left:99.68px;width:1.70px;background:linear-gradient(#406dfe,#3f6fff,#3b73fe,#259de7,#03b7cc,#02b7cb,#04b6cd,#0bb4d2,#2994ed,#4759f8,#4747eb,#4435d1,#463ddf,#4741e5,#412cb9,#402ab3,#402ab5,#4331c6,#412dbd,#4230c4,#4331c7,#4230c4,#412dbd,#402ab3,#4740e4,#337afd,#2e87f7,#347afd,#3b73fe,#3a74fe,#3e70ff,#465ffb,#4433cb,#412dbd,#4332cb,#422ebf,#412dbd,#422fc0,#4230c3,#4435d0,#4639da,#4330c5,#4331c7,#4433cd,#4536d3,#422fc2,#4435d1,#484cf0,#4757f7)"></i><i style="left:101.09px;width:1.70px;background:linear-gradient(#3677fe,#3479fd,#317dfc,#1fa6e2,#0cbdbc,#17bfb6,#1abfb5,#0bbdbd,#259ce7,#475bf9,#4742e6,#4331c8,#463cdf,#4745e9,#4331c7,#422fc1,#422ebf,#4332c9,#412cb9,#412cba,#412cba,#412cb9,#412dbb,#422fc1,#484cef,#2d8cf3,#2798ea,#2e87f7,#347afd,#3876fe,#3e70ff,#465efb,#412dbd,#3e26a8,#3e27a9,#3e26a8,#3e26a8,#3e26a8,#3e26a8,#3e27ac,#402bb7,#3e26a8,#3e26a8,#3f29b1,#422fc2,#412cbb,#4435d0,#484ef1,#4759f8)"></i><i style="left:102.49px;width:1.70px;background:linear-gradient(#3e70ff,#3876fe,#307ffb,#19addc,#29c3aa,#2bc3a8,#25c2ae,#12beb9,#23a0e5,#4563fd,#484ff2,#4539d9,#4740e4,#4745e9,#422fc1,#412cba,#412cba,#4332c9,#422ec0,#4332c8,#4434cf,#4536d4,#4539d9,#463cde,#4756f7,#2a93ed,#249ee6,#2d8bf3,#317efb,#3678fd,#3e6fff,#465dfb,#422fc2,#412cba,#4433cd,#4230c3,#412cbb,#402ab3,#3f28ae,#412dbc,#4434ce,#412dbd,#422ebe,#412dbc,#402bb8,#3e26a8,#402bb7,#4849ed,#4759f9)"></i><i style="left:103.90px;width:1.70px;background:linear-gradient(#4269fe,#416cfe,#3c72ff,#249de7,#01b8ca,#02bbc3,#0abdbd,#0abdbe,#23a0e5,#4561fc,#484bef,#4537d6,#4743e7,#484df0,#4639d9,#463adc,#463de0,#4743e7,#4639da,#4435d1,#4230c4,#402bb7,#3e27ac,#3e26a8,#463de0,#3677fe,#2e83f9,#3776fe,#3e70ff,#3b72ff,#3c71ff,#4564fd,#4537d5,#422fc0,#4230c4,#3f29af,#3e26a8,#3e27ac,#402bb7,#4435d1,#473ee1,#4433cd,#422fc1,#402ab4,#3f28ae,#3e26a8,#402ab4,#4848ec,#4758f8)"></i><i style="left:105.30px;width:1.70px;background:linear-gradient(#475bf9,#465dfa,#4563fc,#2b92ee,#11b1d6,#08b5d0,#07b5d0,#13b0d7,#2d89f5,#4747eb,#402bb7,#3e26a8,#3e26a8,#412dbc,#3e26a8,#3e26a8,#412cb9,#4535d2,#43c,#4435d1,#4434cf,#4331c8,#412dbd,#3f29b2,#463ee1,#347afd,#2d88f6,#3678fd,#406dfe,#426afe,#4564fd,#4854f5,#402ab4,#3e27ab,#422fc2,#4230c3,#4332ca,#4434ce,#4331c8,#4330c4,#412dbc,#3e26a8,#3e26a8,#3e26a8,#3e26a8,#3e26a8,#402ab3,#4848ec,#4758f8)"></i><i style="left:106.70px;width:1.70px;background:linear-gradient(#4369fe,#4269fe,#406dfe,#2797eb,#11b1d6,#0fb2d5,#12b1d6,#18addb,#2d8cf3,#4853f5,#4745e9,#463cde,#4850f3,#465efb,#4849ed,#4744e8,#463cdf,#4639da,#422fc1,#422ebf,#422fc2,#422fc3,#422ec0,#412dbc,#4745e9,#2f81fa,#2c8ef1,#3080fa,#3677fe,#3777fe,#3b72fe,#4561fc,#4435d0,#422fc2,#4435d1,#43c,#4434ce,#4434d0,#4332ca,#4433cb,#43c,#3e28ac,#3e26a8,#3e27ab,#3f29b2,#3e26a8,#4230c3,#484df0,#475bfa)"></i><i style="left:108.11px;width:1.70px;background:linear-gradient(#426afe,#4269fe,#416bfe,#2994ed,#17aeda,#13b0d8,#11b1d6,#13b1d7,#2a92ee,#4758f8,#4743e7,#4332ca,#463adb,#473fe3,#412dbb,#412dbc,#4230c3,#4536d3,#4230c4,#4330c5,#4330c5,#4330c5,#422fc2,#412dbd,#4746ea,#2e83f9,#2b92ee,#2e86f7,#317efb,#317dfc,#3579fd,#4369fe,#463cde,#4435d0,#463ada,#4435d1,#4435d0,#4536d4,#4538d7,#463ee1,#4742e6,#4433cd,#4330c5,#4331c6,#4434d0,#4331c8,#463bdd,#4854f6,#4660fb)"></i><i style="left:109.51px;width:1.70px;background:linear-gradient(#4466fd,#4465fd,#426afe,#2896eb,#09b4d1,#01b7ca,#01b8ca,#0ab4d2,#2c8ff0,#4851f3,#4639da,#422fc2,#463de0,#4744e8,#412dbb,#3e27aa,#3e26a8,#3e27a9,#3e26a8,#3e26a8,#3e26a8,#3e26a8,#3e26a8,#4029b3,#4747ec,#2e84f8,#2d8df2,#3579fd,#416bfe,#426afe,#4368fe,#475cfa,#4331c6,#412cb9,#4330c5,#402cb8,#402bb7,#422ebf,#4432cb,#463cde,#4744e8,#4538d7,#4434cf,#4332c9,#4332c8,#402bb6,#4332ca,#484df0,#475af9)"></i><i style="left:110.92px;width:1.70px;background:linear-gradient(#3e6fff,#3b73fe,#3578fd,#22a2e4,#01b9c7,#01b9c7,#01b9c8,#02b7cb,#269ae8,#4660fc,#484ff2,#463cdf,#4747eb,#484ff2,#463bdd,#463ee1,#4741e5,#4747eb,#463ddf,#463bdc,#4538d7,#4434d0,#4332cb,#4332ca,#484ef1,#2d8cf3,#2798ea,#2e86f8,#3777fe,#3d70ff,#4269fe,#475bf9,#4331c6,#4331c7,#463bdd,#4538d7,#4435d1,#4433cb,#4331c7,#4535d2,#463cde,#4434ce,#4537d5,#463adc,#463de0,#4434cf,#4539d8,#4850f2,#475bf9)"></i><i style="left:112.32px;width:1.70px;background:linear-gradient(#4561fc,#4465fd,#3f6fff,#249fe5,#05bbc1,#0ebebb,#0fbebb,#02bbc3,#2699e9,#4759f8,#4741e5,#4331c7,#463cdf,#4847ec,#4535d2,#4536d4,#4537d6,#463adc,#4330c5,#422ebf,#412dbc,#412cb9,#3f29b2,#3e26a8,#463bdd,#3b73fe,#317efb,#406dfe,#4563fc,#4561fc,#465efb,#4852f4,#3e27a9,#3e26a8,#402ab3,#3e27aa,#3e27ab,#3f29b1,#402bb6,#4331c8,#4538d8,#4331c6,#4332c9,#4433cb,#43c,#402ab5,#422ebf,#4746ea,#4852f4)"></i><i style="left:113.72px;width:1.70px;background:linear-gradient(#4563fd,#4562fc,#4563fc,#2e84f8,#259be8,#249ee6,#23a1e4,#23a1e4,#2e85f8,#4851f3,#4538d7,#3f28ad,#412cba,#4230c3,#3e26a8,#3e26a8,#4230c3,#463ddf,#4539d9,#4536d3,#4331c8,#412dbb,#402ab4,#412cb9,#4746ea,#317efb,#2d8bf4,#3080fb,#3777fe,#3c72ff,#4368fe,#4854f6,#3e28ad,#3e26a8,#4331c6,#4536d2,#463adb,#4741e5,#4743e7,#484cf0,#4850f3,#473fe2,#463de0,#4741e5,#4743e7,#4538d8,#4744e8,#4757f7,#4660fc)"></i><i style="left:115.13px;width:1.70px;background:linear-gradient(#4563fd,#4660fc,#465efb,#3a73fe,#2e85f8,#2d89f5,#2c8ef1,#2b91ef,#307efb,#465ffb,#484df0,#463cdf,#4848ec,#4852f4,#4849ed,#4848ec,#4757f7,#4755f6,#4755f6,#484ef1,#473fe3,#4435d0,#4331c7,#4536d3,#484cef,#406dfe,#3875fe,#3f6efe,#426afe,#416cfe,#416bfe,#4465fd,#463ddf,#4230c4,#4435d1,#422fc2,#3e26a8,#3e26a8,#3e26a8,#4332ca,#463de0,#422fc1,#422fc2,#463cdf,#4746ea,#4740e4,#484ff2,#4563fd,#416bfe)"></i><i style="left:116.53px;width:1.70px;background:linear-gradient(#3d70ff,#3b72ff,#3975fe,#2e86f7,#2995ec,#2796eb,#2895ec,#2c90f0,#317dfc,#4562fc,#4851f3,#4745e9,#4851f4,#475bfa,#484df1,#4848ec,#484aee,#484bef,#4744e8,#4743e7,#463ee1,#463bdd,#473fe3,#4848ec,#4758f8,#3b72ff,#337bfc,#3479fd,#3479fd,#337bfd,#3479fd,#3975fe,#4853f4,#484aee,#484ef1,#4848ec,#43c,#4330c5,#4433cb,#4848ec,#484cf0,#4740e3,#4740e3,#484aed,#484df0,#4742e6,#484cef,#475bf9,#4562fc)"></i><i style="left:117.94px;width:1.70px;background:linear-gradient(#416bfe,#3e6fff,#3876fe,#2e85f8,#2c90f0,#2c8ff0,#2d8cf3,#2e87f7,#3579fd,#4465fd,#4854f5,#4746ea,#484cef,#484ff2,#463de0,#4330c5,#463de0,#4743e7,#4741e5,#4742e6,#463ee1,#463de0,#4746ea,#4852f4,#465dfa,#406cfe,#416bfe,#4561fc,#475bf9,#475af9,#465efb,#4564fd,#4852f4,#4851f3,#475cfa,#4759f8,#484cef,#4747eb,#4848ec,#4755f6,#4757f8,#484aee,#4849ed,#484cf0,#484cf0,#4742e6,#484ff1,#465ffb,#4368fe)"></i><i style="left:119.34px;width:1.70px;background:linear-gradient(#4564fd,#4464fd,#4464fd,#4269fe,#416bfe,#4367fd,#4466fd,#4367fd,#4564fd,#475dfa,#4854f5,#484df0,#4757f7,#465efb,#484ef1,#4746ea,#484bef,#484cf0,#4744e8,#473fe2,#4538d8,#4332c9,#4742e6,#4851f3,#4757f7,#4465fd,#416bfe,#416bfe,#4269fe,#4367fd,#4465fd,#4563fc,#484ef1,#4848ec,#4850f2,#484df0,#463de0,#463cdf,#473fe2,#484ef1,#4850f2,#4745e9,#4743e7,#484aee,#484df0,#4848ec,#4756f7,#4366fd,#3f6efe)"></i><i style="left:120.74px;width:1.70px;background:linear-gradient(#4465fd,#4367fd,#426afe,#3e70ff,#3a73fe,#3c71ff,#3f6eff,#416bfe,#4466fd,#465ffb,#4756f7,#4852f4,#4562fc,#416cfe,#475af9,#484df0,#4850f3,#4852f4,#484cf0,#4849ed,#4744e9,#4745e9,#4758f8,#426afe,#4563fd,#4465fd,#4464fd,#4562fc,#4562fc,#4563fd,#4564fd,#4464fd,#4853f5,#4850f2,#4755f6,#4851f3,#4741e5,#473ee2,#4743e7,#4853f5,#4758f8,#4850f3,#484df1,#4851f3,#4850f3,#4848ec,#484ff2,#4759f8,#465efb)"></i><i style="left:122.15px;width:1.70px;background:linear-gradient(#4269fe,#426afe,#416bfe,#3e6fff,#3b73fe,#3974fe,#3875fe,#3875fe,#3c71ff,#4269fe,#4661fc,#465ffb,#3a74fe,#3080fb,#4369fe,#4757f7,#4757f7,#475af9,#4759f8,#475af9,#4759f8,#475af9,#3e6fff,#3080fa,#3e6fff,#406cfe,#426afe,#4368fe,#4367fd,#4367fd,#4466fd,#4465fd,#4755f6,#4852f4,#4759f8,#4757f7,#484aee,#4746ea,#4745e9,#4850f2,#4853f5,#484ff2,#4850f2,#4755f6,#4756f7,#4850f2,#4755f6,#465efb,#4562fc)"></i><i style="left:123.55px;width:1.70px;background:linear-gradient(#4563fd,#4563fc,#4464fd,#4368fe,#416bfe,#416bfe,#416bfe,#426afe,#4368fe,#4465fd,#4660fc,#4563fd,#327cfc,#2d8bf3,#3677fe,#4564fd,#4561fc,#465efb,#4756f7,#4852f4,#484ff1,#4851f3,#4367fd,#337afd,#416bfe,#4368fe,#4368fd,#4367fd,#4368fd,#4269fe,#416bfe,#406dfe,#4464fd,#4465fd,#416bfe,#4464fd,#4755f6,#4850f3,#484ff2,#4757f7,#4758f8,#4851f4,#4850f2,#4853f5,#4854f5,#4851f3,#475af9,#4564fd,#4369fe)"></i><i style="left:124.96px;width:1.70px;background:linear-gradient(#4367fd,#4465fd,#4562fc,#4562fc,#4563fc,#4464fd,#4465fd,#4465fd,#4563fc,#465ffb,#475bf9,#465dfb,#3b73fe,#307ffb,#426afe,#4758f8,#4757f7,#4758f8,#4854f6,#4853f5,#4850f3,#4852f4,#4563fd,#3b73fe,#4368fe,#4367fd,#4466fd,#4564fd,#4563fc,#4562fc,#4562fc,#4563fc,#475dfa,#4660fb,#4465fd,#465ffb,#4853f5,#4852f4,#4756f6,#4561fc,#4466fd,#4563fd,#4464fd,#4368fe,#4269fe,#4465fd,#426afe,#3d70ff,#3b72ff)"></i><i style="left:126.36px;width:1.70px;background:linear-gradient(#426afe,#4368fe,#4465fd,#4563fd,#4563fc,#4563fc,#4464fd,#4368fd,#426afe,#4369fe,#4563fd,#4562fc,#3c71ff,#327cfc,#416bfe,#465ffb,#4561fc,#4562fc,#465ffb,#465dfa,#475af9,#475af9,#4465fd,#3f6fff,#4269fe,#4368fe,#4367fd,#4367fd,#4368fe,#4269fe,#4269fe,#416bfe,#4367fd,#406dfe,#3d71ff,#4367fd,#4759f8,#4854f5,#4853f5,#475af9,#475cfa,#475bf9,#465dfa,#4563fc,#4465fd,#4561fc,#4564fd,#4368fd,#4269fe)"></i><i style="left:127.76px;width:1.70px;background:linear-gradient(#426afe,#406cfe,#406cfe,#406cfe,#416bfe,#4269fe,#4369fe,#4269fe,#416bfe,#416cfe,#416bfe,#406dfe,#337bfc,#2f81fa,#3e6fff,#4661fc,#465ffb,#465ffb,#465efb,#465efb,#475cfa,#475cfa,#4562fc,#4368fe,#426afe,#3f6eff,#3e70ff,#3e6fff,#416bfe,#4465fd,#465ffb,#465dfa,#475bf9,#4464fd,#416bfe,#4564fd,#4759f8,#4758f8,#475af9,#4660fb,#4561fc,#465ffb,#4660fc,#4465fd,#4368fe,#4465fd,#4367fd,#426afe,#4269fe)"></i><i style="left:129.17px;width:1.70px;background:linear-gradient(#4269fe,#4368fe,#4466fd,#4564fd,#4562fc,#4660fb,#465efb,#465dfb,#465efb,#465efb,#475bf9,#475af9,#4562fc,#4269fe,#4563fc,#465efb,#4660fb,#465ffb,#475bfa,#4759f8,#4755f6,#4854f5,#4757f7,#475bf9,#465efb,#4660fc,#4660fb,#465ffb,#465efb,#465dfa,#465dfb,#4562fc,#4369fe,#3578fd,#317efb,#3e70ff,#465efb,#4759f8,#4759f9,#4660fb,#4563fc,#4562fc,#4563fc,#4465fd,#4465fd,#4660fb,#4660fc,#4563fc,#4564fd)"></i><i style="left:130.57px;width:1.70px;background:linear-gradient(#4465fd,#4367fd,#4368fe,#426afe,#416afe,#426afe,#4269fe,#4367fd,#4465fd,#4661fc,#475bf9,#4757f7,#475bf9,#465ffb,#475cfa,#475af9,#475cfa,#475cfa,#4759f8,#4758f8,#4755f6,#4853f5,#4853f5,#4854f5,#4756f7,#475af9,#475cfa,#465ffb,#4562fc,#4564fd,#4465fd,#4369fe,#3d70ff,#3080fa,#2e84f8,#3974fe,#4561fc,#475bf9,#475bf9,#465ffb,#4660fc,#465efb,#465dfb,#465dfb,#475dfa,#475bf9,#4660fb,#4465fd,#4368fd)"></i><i style="left:131.98px;width:1.70px;background:linear-gradient(#4465fd,#4563fd,#4561fc,#4661fc,#4562fc,#4464fd,#4367fd,#4269fe,#416cfe,#3f6eff,#3f6eff,#3f6eff,#3e6fff,#406cfe,#4563fc,#475bf9,#4759f8,#4759f8,#4759f8,#475af9,#475cfa,#465efb,#4561fc,#4465fd,#4269fe,#416cfe,#426afe,#4367fd,#4465fd,#4465fd,#4465fd,#426afe,#3a74fe,#2e85f8,#2d89f6,#3677fe,#4562fc,#475bf9,#475bf9,#465ffb,#4660fc,#465efb,#475dfa,#465efb,#465efb,#465efb,#4561fc,#4465fd,#4367fd)"></i><i style="left:133.38px;width:1.70px;background:linear-gradient(#4561fc,#4562fc,#4564fd,#4466fd,#4466fd,#4465fd,#4464fd,#4564fd,#4563fc,#4561fc,#465efb,#475bf9,#475cfa,#465dfb,#475cfa,#465efb,#4561fc,#4564fd,#4563fd,#4464fd,#4465fd,#4367fd,#4368fd,#4366fd,#4564fd,#4561fc,#465efb,#465efb,#4660fb,#4561fc,#4562fc,#4368fe,#3975fe,#2d88f6,#2d8df2,#317dfc,#4269fe,#4563fc,#4562fc,#4564fd,#4563fc,#4660fb,#4660fb,#4563fc,#4465fd,#4465fd,#4368fd,#426afe,#416bfe)"></i><i style="left:134.78px;width:1.70px;background:linear-gradient(#4564fd,#4563fd,#4564fd,#4465fd,#4367fd,#4367fd,#4564fd,#4660fc,#465efb,#465efb,#465efb,#465efb,#4660fb,#4660fb,#465dfa,#475cfa,#465ffb,#4660fc,#4660fb,#4660fb,#465ffb,#465ffb,#465ffb,#465ffb,#4660fb,#4562fc,#4563fc,#4564fd,#4465fd,#4465fd,#4465fd,#426afe,#3777fe,#2d8bf3,#2b91ef,#307ffb,#4368fe,#465dfb,#475af9,#475cfa,#465efb,#465ffb,#4562fc,#4464fd,#4464fd,#4562fc,#4562fc,#4563fd,#4564fd)"></i><i style="left:136.19px;width:1.70px;background:linear-gradient(#4368fe,#4368fe,#4367fd,#4466fd,#4465fd,#4464fd,#4562fc,#4661fc,#4660fb,#4660fb,#4660fb,#4660fc,#4563fd,#4466fd,#4366fd,#4367fd,#4369fe,#4368fe,#4466fd,#4563fd,#4661fc,#465efb,#475cfa,#475dfa,#4660fb,#4563fd,#4465fd,#4464fd,#4563fd,#4562fc,#4563fc,#416afe,#327bfc,#2b90ef,#2994ed,#2f81fa,#426afe,#4561fc,#4661fc,#4564fd,#4465fd,#4562fc,#4660fc,#465ffb,#465efb,#475cfa,#465dfb,#465ffb,#4561fc)"></i><i style="left:137.59px;width:1.70px;background:linear-gradient(#4661fc,#465ffb,#465dfa,#475cfa,#475dfa,#465ffb,#4563fc,#4366fd,#4269fe,#416bfe,#416bfe,#416bfe,#406cfe,#406cfe,#426afe,#4367fd,#4367fd,#4366fd,#4465fd,#4563fc,#4561fc,#4660fc,#4661fc,#4561fc,#4563fd,#4564fd,#4563fc,#4661fc,#465ffb,#465ffb,#4660fb,#4466fd,#3c72ff,#2e83f9,#2e87f7,#3578fd,#4368fe,#4564fd,#4465fd,#4367fd,#4368fe,#4367fd,#4465fd,#4563fc,#465ffb,#475dfa,#465efb,#4561fc,#4563fd)"></i><i style="left:139.00px;width:1.70px;background:linear-gradient(#3d71ff,#3b73fe,#3a73fe,#3c71ff,#3f6efe,#4269fe,#4465fd,#4562fc,#4660fc,#465efb,#475cfa,#475bf9,#475dfa,#4661fc,#4465fd,#4269fe,#406dfe,#3f6efe,#416bfe,#4368fd,#4464fd,#4562fc,#4561fc,#4660fc,#4661fc,#4561fc,#4561fc,#4563fc,#4465fd,#4466fd,#4368fe,#406cfe,#3777fe,#2e86f8,#2d89f5,#327bfc,#416bfe,#4464fd,#4562fc,#4563fc,#4563fc,#4563fc,#4465fd,#4369fe,#416bfe,#406cfe,#3f6fff,#3d70ff,#3d70ff)"></i></div><div class="hm" style="left:223.2px;top:61.8px;width:140.8px;height:239.0px"><i style="left:0.00px;width:1.71px;background:linear-gradient(#4466fd,#4466fd,#4466fd,#4367fd,#4368fe,#4269fe,#4269fe,#4367fd,#4564fd,#4561fc,#465ffb,#465ffb,#4660fb,#4563fc,#4466fd,#426afe,#416cfe,#416cfe,#426afe,#4368fd,#4367fd,#4367fd,#4269fe,#416bfe,#416bfe,#4269fe,#4367fd,#4466fd,#4367fd,#4368fe,#4368fe,#4368fd,#4367fd,#4466fd,#4465fd,#4465fd,#4564fd,#4563fd,#4563fc,#4564fd,#4465fd,#4466fd,#4465fd,#4563fd,#4563fc,#4563fd,#4564fd,#4564fd,#4564fd)"></i><i style="left:1.41px;width:1.71px;background:linear-gradient(#4368fe,#4369fe,#4368fe,#4466fd,#4563fd,#4660fc,#465ffb,#4660fb,#4562fc,#4466fd,#4368fe,#4368fe,#4466fd,#4563fd,#4562fc,#4562fc,#4465fd,#426afe,#3e6fff,#3b73fe,#3974fe,#3a73fe,#3c71ff,#3f6eff,#416bfe,#4369fe,#4367fd,#4367fd,#4367fd,#4366fd,#4465fd,#4563fc,#4562fc,#4562fc,#4563fd,#4465fd,#4369fe,#416bfe,#406dfe,#416cfe,#4269fe,#4367fd,#4466fd,#4465fd,#4465fd,#4465fd,#4466fd,#4367fd,#4368fe)"></i><i style="left:2.82px;width:1.71px;background:linear-gradient(#4759f8,#4759f8,#475af9,#475cfa,#475dfa,#475cfa,#475bf9,#475af9,#475cfa,#465efb,#4660fb,#4561fc,#4561fc,#4561fc,#4562fc,#4562fc,#4563fd,#4563fd,#4562fc,#4561fc,#465ffb,#465dfb,#475cfa,#475af9,#4759f8,#4758f8,#4758f8,#475af9,#465dfb,#4660fc,#4562fc,#4563fc,#4564fd,#4465fd,#4466fd,#4466fd,#4466fd,#4465fd,#4464fd,#4564fd,#4563fd,#4563fd,#4563fd,#4564fd,#4464fd,#4465fd,#4465fd,#4564fd,#4562fc)"></i><i style="left:4.22px;width:1.71px;background:linear-gradient(#3c71ff,#3d70ff,#3f6eff,#416bfe,#4368fe,#4367fd,#4367fd,#4269fe,#426afe,#426afe,#4368fe,#4367fd,#4466fd,#4368fe,#416bfe,#3f6eff,#3d70ff,#3d70ff,#3e70ff,#3f6fff,#3f6dfe,#406dfe,#406dfe,#3f6eff,#3d71ff,#3b73fe,#3b73fe,#3c71ff,#3e6fff,#406dfe,#416cfe,#416bfe,#416bfe,#416bfe,#416bfe,#406cfe,#406cfe,#416bfe,#4269fe,#4367fd,#4465fd,#4564fd,#4564fd,#4465fd,#4367fd,#416bfe,#3d71ff,#3975fe,#3777fe)"></i><i style="left:5.63px;width:1.71px;background:linear-gradient(#4661fc,#4661fc,#465ffb,#475cfa,#4758f8,#4755f6,#4755f6,#4756f7,#4758f8,#4759f8,#4759f8,#4758f8,#4758f8,#4758f8,#475af9,#475dfa,#465ffb,#465ffb,#465efb,#475bf9,#4759f8,#4759f8,#475bf9,#465ffb,#4562fc,#4563fd,#4562fc,#465ffb,#475bf9,#4758f8,#4757f7,#4756f7,#4756f6,#4756f7,#4757f7,#4759f9,#475cfa,#465dfb,#465efb,#465efb,#465efb,#465dfa,#465efb,#4660fb,#4563fc,#4465fd,#4465fd,#4562fc,#465ffb)"></i><i style="left:7.04px;width:1.71px;background:linear-gradient(#4465fd,#4562fc,#465dfa,#4759f8,#4757f7,#4757f7,#4759f9,#475dfa,#465ffb,#4561fc,#4562fc,#4562fc,#4563fc,#4562fc,#4562fc,#4661fc,#4660fc,#465ffb,#465efb,#475dfa,#475cfa,#475dfa,#465ffb,#4561fc,#4561fc,#4660fc,#465efb,#465dfa,#475dfa,#475dfa,#475dfa,#475cfa,#475bf9,#4759f8,#4759f8,#4759f8,#475bfa,#465efb,#4660fc,#4561fc,#4562fc,#4562fc,#4562fc,#4563fc,#4563fc,#4562fc,#4660fc,#465ffb,#465efb)"></i><i style="left:8.45px;width:1.71px;background:linear-gradient(#3f6dfe,#416bfe,#4368fe,#4466fd,#4466fd,#4368fe,#416bfe,#406dfe,#406dfe,#416cfe,#426afe,#4367fd,#4465fd,#4562fc,#4660fc,#465ffb,#465ffb,#465ffb,#4561fc,#4564fd,#4466fd,#4366fd,#4466fd,#4466fd,#4367fd,#4368fe,#4269fe,#416bfe,#406cfe,#3f6eff,#3f6fff,#3f6efe,#406cfe,#406cfe,#3f6efe,#3d70ff,#3d71ff,#3e6fff,#416cfe,#4269fe,#4367fd,#4466fd,#4466fd,#4367fd,#4368fe,#4269fe,#416afe,#416bfe,#416cfe)"></i><i style="left:9.86px;width:1.71px;background:linear-gradient(#4465fd,#4466fd,#4367fd,#4368fe,#4368fe,#4367fd,#4564fd,#4561fc,#4660fc,#4561fc,#4465fd,#4269fe,#406dfe,#3f6fff,#3f6efe,#416bfe,#4368fe,#4366fd,#4465fd,#4564fd,#4563fd,#4561fc,#465ffb,#475cfa,#4759f9,#4758f8,#4756f7,#4755f6,#4755f6,#4757f7,#4759f8,#475cfa,#465dfa,#465efb,#465efb,#465ffb,#4561fc,#4464fd,#4368fd,#426afe,#426afe,#4368fd,#4465fd,#4563fc,#4562fc,#4563fc,#4563fc,#4561fc,#4660fb)"></i><i style="left:11.26px;width:1.71px;background:linear-gradient(#4660fb,#4661fc,#4563fc,#4464fd,#4465fd,#4465fd,#4465fd,#4465fd,#4464fd,#4564fd,#4563fd,#4563fd,#4563fd,#4563fd,#4563fd,#4563fd,#4563fd,#4563fd,#4564fd,#4464fd,#4466fd,#4367fd,#4367fd,#4466fd,#4563fd,#4661fc,#465efb,#475cfa,#475cfa,#475cfa,#465dfa,#465efb,#465efb,#475dfa,#475cfa,#475dfa,#465ffb,#4562fc,#4564fd,#4464fd,#4464fd,#4464fd,#4465fd,#4465fd,#4466fd,#4466fd,#4366fd,#4366fd,#4466fd)"></i><i style="left:12.67px;width:1.71px;background:linear-gradient(#465ffb,#465dfa,#475bf9,#4759f9,#4759f8,#4759f8,#475bf9,#465efb,#4661fc,#4563fc,#4564fd,#4563fc,#4661fc,#465efb,#475bfa,#475af9,#475af9,#475af9,#475cfa,#465ffb,#4563fc,#4466fd,#4368fe,#4367fd,#4465fd,#4562fc,#4660fc,#4661fc,#4562fc,#4464fd,#4465fd,#4465fd,#4564fd,#4561fc,#465ffb,#465efb,#465efb,#4660fb,#4562fc,#4564fd,#4466fd,#4368fe,#426afe,#426afe,#4269fe,#4367fd,#4465fd,#4564fd,#4563fd)"></i><i style="left:14.08px;width:1.71px;background:linear-gradient(#4366fd,#4367fd,#4269fe,#426afe,#426afe,#4368fe,#4367fd,#4367fd,#4367fd,#4368fe,#426afe,#416cfe,#406dfe,#406cfe,#426afe,#4368fd,#4466fd,#4466fd,#4367fd,#4269fe,#416bfe,#3f6efe,#3e70ff,#3c71ff,#3c72ff,#3c71ff,#3d70ff,#3e6fff,#3f6eff,#406dfe,#416cfe,#416bfe,#416afe,#426afe,#426afe,#4269fe,#4269fe,#426afe,#416cfe,#406dfe,#406dfe,#3f6dfe,#3f6efe,#3f6eff,#3e70ff,#3c71ff,#3b73fe,#3a73fe,#3b72ff)"></i><i style="left:15.49px;width:1.71px;background:linear-gradient(#406dfe,#416bfe,#426afe,#4269fe,#416afe,#406cfe,#3f6eff,#3e70ff,#3d70ff,#3d70ff,#3d70ff,#3c71ff,#3b73fe,#3974fe,#3875fe,#3875fe,#3975fe,#3a74fe,#3a74fe,#3975fe,#3876fe,#3777fe,#3777fe,#3876fe,#3a73fe,#3c71ff,#3e6fff,#3e6fff,#3f6eff,#3f6dfe,#416cfe,#426afe,#4368fd,#4367fd,#4269fe,#416bfe,#3f6dfe,#3f6fff,#3e6fff,#3f6eff,#3f6efe,#406dfe,#3f6dfe,#3e6fff,#3c71ff,#3a73fe,#3a74fe,#3a74fe,#3a73fe)"></i><i style="left:16.90px;width:1.71px;background:linear-gradient(#4562fc,#4562fc,#4564fd,#4466fd,#4368fe,#426afe,#426afe,#416bfe,#416cfe,#406dfe,#3f6eff,#3e6fff,#3f6efe,#426afe,#4465fd,#4660fc,#465efb,#465dfa,#465efb,#4660fb,#4561fc,#4562fc,#4563fc,#4563fd,#4465fd,#4269fe,#3f6dfe,#3c71ff,#3a73fe,#3a74fe,#3b73fe,#3d71ff,#3e6fff,#3e6fff,#3e70ff,#3d71ff,#3c72ff,#3c72ff,#3d71ff,#3f6fff,#406cfe,#426afe,#4368fd,#4466fd,#4464fd,#4465fd,#4366fd,#4369fe,#426afe)"></i><i style="left:18.30px;width:1.71px;background:linear-gradient(#465dfb,#465dfa,#465efb,#465efb,#465ffb,#4660fb,#4660fb,#4660fc,#4660fb,#465ffb,#465dfa,#475cfa,#475cfa,#465efb,#4661fc,#4564fd,#4465fd,#4465fd,#4564fd,#4562fc,#4561fc,#4561fc,#4562fc,#4563fc,#4563fc,#4562fc,#4561fc,#4561fc,#4563fc,#4465fd,#4465fd,#4563fd,#465ffb,#475dfa,#475cfa,#465dfa,#465efb,#465ffb,#465ffb,#465efb,#465efb,#465ffb,#4660fc,#4660fb,#465efb,#475cfa,#475bf9,#475cfa,#465efb)"></i><i style="left:19.71px;width:1.71px;background:linear-gradient(#4466fd,#4465fd,#4465fd,#4466fd,#4466fd,#4367fd,#4367fd,#4367fd,#4368fe,#4269fe,#416afe,#416bfe,#426afe,#426afe,#426afe,#426afe,#416afe,#416bfe,#416bfe,#416afe,#426afe,#4368fe,#4368fd,#4368fe,#4269fe,#416cfe,#3f6eff,#3d70ff,#3d71ff,#3e70ff,#3f6eff,#406dfe,#416cfe,#416afe,#4369fe,#4367fd,#4466fd,#4367fd,#4269fe,#406dfe,#3e6fff,#3e70ff,#3e70ff,#3e6fff,#3e6fff,#3d70ff,#3d70ff,#3e70ff,#3f6fff)"></i><i style="left:21.12px;width:1.71px;background:linear-gradient(#4561fc,#4660fc,#465ffb,#465ffb,#465ffb,#465ffb,#465ffb,#465efb,#465efb,#465efb,#465efb,#465efb,#465dfa,#465efb,#465ffb,#4562fc,#4465fd,#4367fd,#4368fe,#4269fe,#4369fe,#4466fd,#4562fc,#465efb,#475cfa,#475cfa,#465efb,#4660fc,#4562fc,#4563fc,#4564fd,#4465fd,#4465fd,#4465fd,#4465fd,#4465fd,#4465fd,#4465fd,#4465fd,#4466fd,#4366fd,#4367fd,#4368fe,#4368fe,#4367fd,#4466fd,#4464fd,#4563fd,#4563fc)"></i><i style="left:22.53px;width:1.71px;background:linear-gradient(#4563fd,#4563fd,#4564fd,#4465fd,#4466fd,#4367fd,#4368fe,#4367fd,#4367fd,#4367fd,#4369fe,#416cfe,#3e6fff,#3d71ff,#3d71ff,#3e6fff,#3f6dfe,#416cfe,#416bfe,#426afe,#4269fe,#4269fe,#4269fe,#416bfe,#406dfe,#3f6eff,#3f6eff,#3f6eff,#3d70ff,#3a73fe,#3876fe,#3677fe,#3677fe,#3876fe,#3a74fe,#3c72ff,#3d70ff,#3e6fff,#3e6fff,#3e6fff,#3d70ff,#3c71ff,#3c72ff,#3d70ff,#406dfe,#426afe,#4369fe,#4368fe,#4368fd)"></i><i style="left:23.94px;width:1.71px;background:linear-gradient(#4368fe,#4368fe,#4368fd,#4368fe,#426afe,#416bfe,#416bfe,#4269fe,#4269fe,#426afe,#416cfe,#3f6dfe,#3f6efe,#406dfe,#416cfe,#426afe,#4269fe,#4368fe,#4368fe,#4368fd,#4367fd,#4367fd,#4368fd,#4269fe,#416bfe,#406cfe,#3f6dfe,#3f6efe,#406dfe,#406cfe,#416bfe,#416bfe,#416bfe,#426afe,#4368fe,#4367fd,#4369fe,#406cfe,#3e70ff,#3b73fe,#3a74fe,#3b73fe,#3e70ff,#416cfe,#4368fe,#4466fd,#4367fd,#4369fe,#416bfe)"></i><i style="left:25.34px;width:1.71px;background:linear-gradient(#416bfe,#426afe,#4366fd,#4563fd,#4561fc,#4561fc,#4561fc,#4562fc,#4562fc,#4561fc,#465ffb,#465dfb,#475cfa,#475bf9,#475bf9,#475cfa,#465efb,#4561fc,#4564fd,#4466fd,#4367fd,#4367fd,#4466fd,#4465fd,#4563fc,#4561fc,#4660fb,#4660fb,#4561fc,#4562fc,#4562fc,#4661fc,#465efb,#475cfa,#475bfa,#465dfb,#4561fc,#4464fd,#4466fd,#4367fd,#4466fd,#4465fd,#4466fd,#4367fd,#4369fe,#426afe,#416bfe,#426afe,#4369fe)"></i><i style="left:26.75px;width:1.71px;background:linear-gradient(#465efb,#475bfa,#475bf9,#475bf9,#475cfa,#465ffb,#4563fc,#4368fe,#406dfe,#3c72ff,#3a74fe,#3a73fe,#3d71ff,#3f6efe,#416bfe,#426afe,#4269fe,#4368fe,#4367fd,#4466fd,#4464fd,#4563fd,#4562fc,#4660fb,#465efb,#475cfa,#475bf9,#475af9,#475bf9,#475dfa,#465ffb,#4661fc,#4562fc,#4563fd,#4564fd,#4465fd,#4368fd,#416bfe,#3f6efe,#3f6eff,#406cfe,#426afe,#4368fe,#4367fd,#4465fd,#4563fd,#4561fc,#4561fc,#4562fc)"></i><i style="left:28.16px;width:1.71px;background:linear-gradient(#465efb,#465ffb,#4660fb,#4660fb,#465ffb,#465efb,#4660fb,#4563fd,#4367fd,#426afe,#426afe,#4369fe,#4367fd,#4465fd,#4563fc,#4563fc,#4465fd,#4369fe,#406dfe,#3d70ff,#3c71ff,#3e6fff,#416bfe,#4367fd,#4563fc,#4660fc,#465ffb,#465ffb,#4660fc,#4562fc,#4464fd,#4465fd,#4464fd,#4562fc,#465efb,#475cfa,#475bfa,#475dfa,#465ffb,#4561fc,#4562fc,#4561fc,#4562fc,#4563fd,#4465fd,#4368fe,#416bfe,#3f6efe,#3f6eff)"></i><i style="left:29.57px;width:1.71px;background:linear-gradient(#3974fe,#3776fe,#3b73fe,#416bfe,#4563fd,#465efb,#475cfa,#475bf9,#475cfa,#4660fb,#416bfe,#347afd,#327cfc,#3d70ff,#4561fc,#465ffb,#4564fd,#4368fe,#426afe,#4367fd,#4562fc,#465dfb,#475bfa,#475bfa,#465ffb,#4366fd,#3f6efe,#3b72fe,#3a73fe,#3c71ff,#3f6efe,#406dfe,#3e6fff,#3d70ff,#3776fe,#307ffb,#327cfc,#416cfe,#4368fe,#4368fe,#4269fe,#4269fe,#4368fd,#4563fd,#465dfa,#4758f8,#4755f6,#4756f7,#4759f8)"></i><i style="left:30.98px;width:1.71px;background:linear-gradient(#4562fc,#4660fb,#475cfa,#4758f8,#4756f7,#4756f7,#4757f8,#4758f8,#4561fc,#3876fe,#2798ea,#04bbc1,#1ac0b5,#1babde,#327cfc,#4367fd,#4562fc,#465dfa,#4758f8,#4755f6,#4853f5,#4757f7,#465dfb,#4561fc,#4562fc,#4561fc,#465ffb,#475dfa,#475bfa,#4759f8,#4755f6,#4756f7,#465efb,#4562fc,#3c71ff,#2d8cf3,#2d88f6,#4563fd,#4563fc,#4368fe,#4269fe,#426afe,#416bfe,#3f6eff,#3e6fff,#3f6eff,#406cfe,#406dfe,#416cfe)"></i><i style="left:32.38px;width:1.71px;background:linear-gradient(#4759f8,#4756f6,#4852f4,#4852f4,#4854f5,#4757f7,#475bf9,#465dfa,#426afe,#2e85f8,#16afd9,#56cc7b,#6acd6a,#01b9c6,#317dfc,#4562fc,#4660fb,#465efb,#475cfa,#475bf9,#475bf9,#4660fc,#4368fe,#4369fe,#4466fd,#4562fc,#475dfa,#4757f7,#4852f4,#484bef,#4745e9,#484aee,#475af9,#4563fd,#3479fd,#269ae9,#2c90f0,#4757f7,#4851f3,#4755f6,#4755f6,#4755f6,#4854f5,#4755f6,#4853f5,#4852f4,#4853f4,#475af9,#465ffb)"></i><i style="left:33.79px;width:1.71px;background:linear-gradient(#4466fd,#4368fe,#4368fe,#4368fe,#4368fe,#426afe,#406cfe,#406dfe,#337afd,#2896eb,#1cc0b3,#dabd28,#f2ba38,#48cb86,#2a92ee,#3b73fe,#406cfe,#4563fc,#4758f8,#484ef1,#4747eb,#484aee,#4854f5,#475af9,#4561fc,#4369fe,#3e6fff,#3c71ff,#3f6eff,#4464fd,#4756f7,#4853f5,#475cfa,#465dfa,#3e6fff,#2b91ef,#2d8bf4,#4851f3,#484ff2,#4755f6,#4853f5,#4850f3,#484df0,#484ff2,#4850f3,#4852f4,#4755f6,#475cfa,#4660fb)"></i><i style="left:35.20px;width:1.71px;background:linear-gradient(#465ffb,#475bfa,#4755f6,#4851f3,#4850f2,#4854f5,#475bf9,#465ffb,#3d70ff,#2b91ef,#1ec0b2,#f5ba3a,#fcd030,#7fcc5a,#259be8,#3677fe,#3e6fff,#4464fd,#475af9,#4852f4,#484cf0,#4852f4,#465ffb,#4564fd,#4466fd,#4465fd,#4562fc,#465ffb,#475bf9,#4853f5,#484aee,#484df0,#465dfa,#4661fc,#3a73fe,#2994ed,#2d8cf3,#484cf0,#484cef,#4759f8,#475bf9,#475cfa,#475bf9,#465dfa,#475af9,#4755f6,#4851f4,#4756f7,#475af9)"></i><i style="left:36.61px;width:1.71px;background:linear-gradient(#4466fd,#4367fd,#4563fd,#465efb,#475bf9,#475bf9,#465efb,#465ffb,#3f6fff,#2c90f0,#21c1b0,#fabb3d,#fdce31,#4ecc81,#2d89f6,#465ffb,#4756f6,#484cef,#4745e9,#4742e6,#4742e6,#484bef,#475bf9,#4561fc,#4465fd,#4465fd,#4564fd,#4561fc,#465efb,#4758f8,#484ff2,#4756f7,#406dfe,#3974fe,#2d88f6,#1da8e0,#269ae8,#484ff2,#4746ea,#484ef1,#484cf0,#484bee,#4848ec,#4849ed,#4747eb,#4745e9,#4747eb,#4852f4,#475af9)"></i><i style="left:38.02px;width:1.71px;background:linear-gradient(#4756f7,#4755f6,#484ff2,#484bef,#484bef,#4851f3,#475bf9,#4660fc,#3d71ff,#2a93ed,#30c5a1,#fbd22f,#f5eb23,#7acc5d,#2d8cf3,#4660fb,#4758f8,#4851f3,#484cf0,#4849ed,#4746ea,#484df0,#475bfa,#4561fc,#4465fd,#4366fd,#4465fd,#4561fc,#475cfa,#4851f3,#4743e7,#4746ea,#475bf9,#4561fc,#3875fe,#2699ea,#2c8ef2,#4744e8,#463ee1,#4849ed,#4849ed,#4849ed,#4848ec,#484aee,#4747eb,#4743e7,#4743e7,#484ff2,#4757f7)"></i><i style="left:39.42px;width:1.71px;background:linear-gradient(#465efb,#475cfa,#4755f6,#4851f3,#4850f3,#4755f6,#465dfa,#4660fb,#3e6fff,#2b91ef,#2bc4a7,#fec934,#f5e327,#7dcc5b,#2a92ee,#4368fe,#465ffb,#4853f5,#4747eb,#463de0,#4538d7,#4740e3,#4852f4,#4759f8,#465dfa,#465dfa,#475bf9,#4758f8,#4854f5,#484cef,#4740e3,#4747eb,#4561fc,#406dfe,#2e85f8,#1ca9e0,#259ce7,#484df0,#4747eb,#4755f6,#4757f7,#4756f6,#4850f2,#484df0,#4744e8,#463cdf,#463bdd,#4746eb,#4850f3)"></i><i style="left:40.83px;width:1.71px;background:linear-gradient(#475cfa,#465dfa,#475af9,#4757f7,#4757f8,#465efb,#4269fe,#3f6efe,#317dfc,#2699e9,#27c2ac,#f0ba36,#fec438,#4ecc81,#2d8df2,#4466fd,#475dfa,#4850f2,#4747eb,#4741e5,#473fe2,#4747eb,#4757f7,#475bf9,#465dfa,#465ffb,#4661fc,#4661fc,#475dfa,#4850f2,#463bdd,#463ee1,#4854f6,#475bf9,#3d71ff,#2896ec,#2c8ff0,#4746ea,#4745e9,#4755f6,#4755f6,#4850f2,#4848ec,#4848ec,#4746ea,#4745ea,#484aed,#4758f8,#4562fc)"></i><i style="left:42.24px;width:1.71px;background:linear-gradient(#465ffb,#4660fc,#475cfa,#4759f8,#4758f8,#475bfa,#4562fc,#4563fc,#3c71ff,#2c8ff0,#0bbdbd,#d1bf27,#f3ba38,#49cb85,#2b92ee,#3c71ff,#406cfe,#4563fc,#4759f9,#4850f3,#4747eb,#4849ed,#4756f7,#475bf9,#465ffb,#4562fc,#4561fc,#475dfa,#4755f6,#4848ec,#4435d1,#473fe2,#465dfb,#426afe,#2f81fa,#21a3e3,#2797ea,#4747eb,#4745e9,#4755f6,#4757f7,#4756f6,#4850f2,#484df1,#4745e9,#463ee1,#463ee1,#484cef,#4757f7)"></i><i style="left:43.65px;width:1.71px;background:linear-gradient(#4562fc,#465ffb,#4758f8,#4755f6,#4758f8,#4561fc,#3f6eff,#3a74fe,#2e83f9,#259ce7,#1bc0b4,#c1c32c,#d7be28,#37c897,#2b92ef,#3975fe,#3d70ff,#4564fd,#4758f8,#484ef1,#4745e9,#484ff2,#4660fc,#4367fd,#406cfe,#3e6fff,#3e6fff,#416bfe,#4564fd,#4755f6,#463ee1,#4741e5,#465ffb,#4368fd,#317dfc,#259be8,#2c8ff0,#4740e4,#4537d5,#4852f4,#475af9,#4660fb,#4561fc,#4466fd,#4562fc,#475bfa,#4759f8,#4563fc,#4269fe)"></i><i style="left:45.06px;width:1.71px;background:linear-gradient(#484ff2,#484ff2,#484aee,#4747ec,#4849ed,#4851f3,#465dfa,#4562fc,#3b72fe,#2c8ff1,#01b8c9,#8acb51,#a1c840,#22c1af,#2e84f8,#4368fe,#4367fd,#465efb,#4853f5,#4849ed,#4745e9,#4747eb,#4758f8,#465dfa,#465efb,#465dfa,#475af9,#4757f7,#4852f4,#4745e9,#4433cd,#4435d1,#4850f3,#4759f8,#3f6eff,#2a93ee,#2e87f7,#4435d1,#4331c6,#4745e9,#4849ed,#4747eb,#4740e4,#473fe2,#463adc,#463adb,#463ee1,#484ff2,#4759f8)"></i><i style="left:46.46px;width:1.71px;background:linear-gradient(#475bfa,#4759f8,#4851f3,#484bef,#484aee,#4851f3,#465efb,#4564fd,#3b73fe,#2d8bf4,#12b1d6,#5bcc76,#86cb55,#26c2ad,#2d8df2,#3b72fe,#3f6efe,#4660fc,#4852f4,#4745e9,#463adb,#4745e9,#475bf9,#4466fd,#416cfe,#406cfe,#426afe,#4465fd,#465ffb,#4851f4,#463ee1,#4740e4,#475cfa,#4464fd,#327dfc,#21a3e3,#259de7,#4850f2,#484aee,#4757f7,#4755f6,#4850f2,#4746ea,#4743e7,#463ddf,#4536d2,#463cdf,#484ef1,#475af9)"></i><i style="left:47.87px;width:1.71px;background:linear-gradient(#475af9,#4759f8,#4853f4,#484ef1,#484ef1,#4854f5,#465efb,#4661fc,#3e6fff,#2d8af5,#0fb2d5,#61cd71,#7fcc5a,#16bfb7,#2e84f8,#4368fd,#4563fd,#4758f8,#484ff2,#4848ec,#4747eb,#4850f3,#4465fd,#416bfe,#416cfe,#416bfe,#426afe,#4269fe,#4465fd,#4756f7,#4743e7,#4745ea,#4561fc,#416bfe,#2e83f9,#1ea7e1,#249ee6,#484df0,#4745ea,#4854f5,#4853f5,#4851f3,#484cef,#484cef,#4746ea,#4741e4,#4743e7,#4755f6,#4561fc)"></i><i style="left:49.28px;width:1.71px;background:linear-gradient(#4661fc,#465dfa,#4854f5,#484ef1,#484ef1,#4755f6,#4660fb,#4563fc,#3d71ff,#2d87f7,#1babde,#3ac993,#5bcc76,#15bfb7,#2d8cf3,#3a73fe,#3f6efe,#465ffb,#4852f4,#4848ec,#4740e4,#484ef1,#4366fd,#3d71ff,#3875fe,#3975fe,#3b73fe,#3e70ff,#426afe,#475cfa,#484bef,#484ef1,#4369fe,#3c72ff,#2e87f7,#1da8e0,#259de7,#4744e8,#4537d6,#4747ec,#4745e9,#4741e5,#463cdf,#4740e3,#4539d9,#4639da,#473ee2,#4853f5,#465efb)"></i><i style="left:50.69px;width:1.71px;background:linear-gradient(#4850f3,#484ff2,#484bef,#484bef,#484ef1,#4755f6,#4660fb,#4562fc,#3e6fff,#2e86f7,#1babde,#3cc992,#55cc7b,#06bcc0,#2e84f8,#416afe,#4466fd,#4759f9,#484ef1,#4744e8,#473ee1,#4848ec,#475cfa,#4660fc,#4660fc,#465ffb,#475cfa,#4758f8,#4851f3,#4742e7,#412cba,#4331c7,#4755f6,#4562fc,#327cfc,#22a2e4,#269ae9,#4746ea,#4740e3,#4852f4,#4852f4,#484ef1,#4745e9,#4742e6,#4538d7,#4536d3,#463bdc,#4850f3,#475dfa)"></i><i style="left:52.10px;width:1.71px;background:linear-gradient(#465efb,#475af9,#484ef1,#4743e7,#473fe2,#4744e8,#4851f3,#4758f8,#416cfe,#2d8cf3,#03b7cc,#81cc59,#8dcb4f,#09bcbe,#3579fd,#4759f8,#4854f5,#4849ed,#4740e4,#4537d5,#4434cf,#4741e5,#4758f8,#4660fc,#4563fd,#4562fc,#465dfb,#4758f8,#4851f4,#4744e8,#4332ca,#4639d9,#475af9,#4465fd,#337afd,#259ce7,#2c8ef1,#4435d0,#4332c8,#4848ec,#484cf0,#484cf0,#4747eb,#4747eb,#4744e8,#4741e5,#4745ea,#4854f6,#465ffb)"></i><i style="left:53.50px;width:1.71px;background:linear-gradient(#475af9,#475af9,#4755f6,#4853f5,#4854f6,#475af9,#4563fd,#4464fd,#3c71ff,#2d88f6,#17aeda,#4bcb84,#6bcd69,#0fbeba,#2f82f9,#4562fc,#4759f8,#4849ed,#463bdd,#412dbb,#402ab4,#463bdd,#4756f7,#4562fc,#426afe,#3f6eff,#3f6fff,#406dfe,#4367fd,#4758f8,#4849ed,#484cf0,#4465fd,#406cfe,#2f81fa,#21a3e4,#2798ea,#4740e3,#4639da,#484df0,#484ff2,#484df0,#4747eb,#4746eb,#473fe2,#463adb,#463cde,#4850f2,#465dfa)"></i><i style="left:54.91px;width:1.71px;background:linear-gradient(#475bf9,#4757f7,#484cf0,#4744e8,#4741e5,#4849ed,#4758f8,#4561fc,#3876fe,#2a92ee,#01b8ca,#76cc61,#8ccb50,#21c1b0,#2d8af4,#3d70ff,#406cfe,#465ffb,#4852f4,#4747eb,#463cde,#4743e7,#4758f8,#465ffb,#4465fd,#4367fd,#4465fd,#4660fc,#4757f7,#4746ea,#4330c5,#4537d6,#475cfa,#4367fd,#317dfc,#249fe5,#2994ed,#463adc,#4536d3,#484bef,#484df0,#484aed,#4742e6,#4743e7,#463cdf,#463bdd,#473ee1,#4851f3,#475bfa)"></i><i style="left:56.32px;width:1.71px;background:linear-gradient(#484df0,#4849ed,#4742e6,#473ee2,#4743e7,#4851f3,#4466fd,#3a73fe,#2e87f7,#249fe6,#08bcbf,#79cc5e,#89cb52,#29c3aa,#2b92ee,#327cfc,#3479fd,#4368fe,#4756f6,#4746eb,#4537d6,#463ee0,#4852f4,#4757f7,#4756f7,#4852f4,#484ff2,#4850f2,#4851f3,#484aee,#463de0,#4745e9,#4561fc,#426afe,#307ffb,#22a2e4,#2797ea,#463de0,#4536d4,#4848ec,#4747eb,#4741e5,#4538d7,#4536d4,#402bb7,#3e27ab,#3f29af,#473fe2,#484df0)"></i><i style="left:57.73px;width:1.71px;background:linear-gradient(#4756f7,#4854f5,#484ef1,#484aee,#484bee,#4851f4,#465efb,#4464fd,#3876fe,#2b90f0,#06b5cf,#66cd6d,#81cc59,#20c1b1,#2d8df3,#3875fe,#3974fe,#4367fd,#4758f8,#484bef,#463cde,#4743e7,#4759f8,#4561fc,#4368fd,#416bfe,#406cfe,#426afe,#4564fd,#4853f5,#473ee1,#4743e7,#4563fc,#406dfe,#2f82f9,#21a3e4,#2a93ed,#4331c5,#3e26a8,#463cde,#4740e4,#4743e7,#4742e6,#4747eb,#4743e8,#4740e4,#4742e6,#4853f5,#465efb)"></i><i style="left:59.14px;width:1.71px;background:linear-gradient(#484aee,#4847ec,#473fe2,#4639da,#463adc,#4744e8,#4854f5,#475cfa,#406dfe,#2d89f5,#0db3d3,#69cd6b,#89cb53,#1dc0b3,#2e86f8,#426afe,#4367fd,#475af9,#484df0,#4849ec,#4745e9,#484cef,#4465fd,#416cfe,#406dfe,#426afe,#4466fd,#4562fc,#475bfa,#484cef,#4539d9,#463bdc,#4757f7,#465efb,#3b73fe,#2797eb,#2d8bf4,#4330c5,#422ec0,#4745e9,#484aee,#4848ec,#473fe3,#463ddf,#4434ce,#412ebd,#412dbc,#473fe2,#484cef)"></i><i style="left:60.54px;width:1.71px;background:linear-gradient(#4758f8,#4757f8,#4851f3,#484cf0,#484bef,#4851f3,#475cfa,#4562fc,#3a74fe,#2c8ff0,#09b4d1,#5acc78,#6bcd69,#0ebdbb,#2e87f7,#406dfe,#4368fd,#4759f9,#484df0,#4741e5,#463cdf,#4849ed,#4562fc,#426afe,#3f6dfe,#3f6efe,#406cfe,#4269fe,#4564fd,#4854f5,#463bdd,#463bde,#465efb,#4269fe,#2f82f9,#1fa6e1,#259de7,#4740e4,#4536d4,#484aed,#4848ec,#4744e8,#473fe2,#4742e6,#463adc,#4537d7,#463adb,#4851f3,#465ffb)"></i><i style="left:61.95px;width:1.71px;background:linear-gradient(#3f6eff,#416bfe,#465ffb,#4854f6,#4851f3,#4758f8,#4369fe,#3b73fe,#2e87f7,#23a0e5,#1bc0b4,#acc738,#c1c32c,#36c899,#2994ed,#347afd,#3777fe,#426afe,#465efb,#4759f9,#4850f3,#4757f7,#4466fd,#416bfe,#3f6eff,#3c71ff,#3a74fe,#3974fe,#3d70ff,#4660fb,#484ef1,#484df1,#4367fd,#3f6efe,#2f82fa,#22a2e4,#2796eb,#4536d4,#4331c7,#484aee,#484ff2,#484ff2,#4849ec,#4848ec,#4740e4,#463bdd,#463de0,#4852f4,#465efb)"></i><i style="left:63.36px;width:1.71px;background:linear-gradient(#475cfa,#4758f8,#484ff2,#4849ed,#484aee,#4853f5,#4660fb,#4562fc,#3f6fff,#2e86f7,#19acdc,#44cb8a,#5ecd74,#06bcc0,#2f80fa,#4564fd,#465efb,#484ff2,#4741e5,#4332c9,#412cba,#4537d6,#4755f6,#465ffb,#4562fc,#4660fc,#475cfa,#4758f8,#4851f3,#4741e5,#402bb6,#412dbb,#484ef1,#4757f7,#3f6dfe,#2994ed,#2d8df3,#4332c9,#422ebf,#4743e7,#4743e7,#4740e4,#463bdd,#473fe2,#463de0,#463de0,#4742e6,#4853f5,#465ffb)"></i><i style="left:64.77px;width:1.71px;background:linear-gradient(#4562fc,#4660fb,#4758f8,#4853f5,#4854f5,#475bf9,#4465fd,#4368fe,#3776fe,#2c8ef1,#0db3d4,#59cc79,#79cc5e,#23c1af,#2c8ff1,#3578fd,#3876fe,#4367fd,#4758f8,#484cf0,#463ee0,#4743e7,#475af9,#4563fc,#426afe,#406dfe,#3f6eff,#406dfe,#4369fe,#475bf9,#484ef1,#4852f4,#4269fe,#3e6fff,#2f81fa,#21a2e4,#2896ec,#4435d0,#412dbb,#4741e5,#4743e7,#4744e8,#4741e5,#4746ea,#4747eb,#4746ea,#484aee,#4759f8,#4464fd)"></i><i style="left:66.18px;width:1.71px;background:linear-gradient(#475dfa,#465dfa,#4756f7,#4851f3,#4850f3,#4757f7,#4564fd,#426afe,#317dfc,#2798ea,#05bbc1,#8acb51,#95ca49,#1ec0b2,#2e87f7,#406cfe,#4368fe,#475af9,#484bef,#463bde,#4331c6,#4537d5,#4854f5,#4661fc,#426afe,#3f6eff,#3f6eff,#416bfe,#4464fd,#4853f5,#463cde,#463cde,#475bf9,#4464fd,#347afd,#259de7,#2b90ef,#4331c7,#412ebe,#4747eb,#484df0,#484df0,#4747eb,#4746ea,#473fe2,#463adb,#463de0,#4851f3,#465dfb)"></i><i style="left:67.58px;width:1.71px;background:linear-gradient(#4759f8,#4756f6,#484bef,#4743e7,#4741e5,#4848ec,#4757f7,#465ffb,#3c71ff,#2d8df2,#0bb3d2,#63cd70,#7dcc5b,#14bfb8,#2f82fa,#4563fd,#465dfa,#4850f2,#4744e8,#463adb,#4537d5,#4746ea,#465ffb,#426afe,#3f6fff,#3e6fff,#3f6fff,#416cfe,#4464fd,#4850f3,#4435d1,#4331c8,#4850f3,#475bf9,#3875fe,#23a0e5,#2797eb,#463ada,#4434cd,#4747eb,#4848ec,#4745ea,#473fe3,#4742e6,#463ee0,#463bdd,#4740e4,#4852f4,#465efb)"></i><i style="left:68.99px;width:1.71px;background:linear-gradient(#475bfa,#4759f8,#4850f3,#484aee,#4849ed,#4850f3,#475bfa,#465efb,#416bfe,#2e84f8,#1aabdd,#42ca8b,#5dcc74,#07bcbf,#2e83f9,#4269fe,#4466fd,#4759f8,#484cf0,#4742e6,#463cdf,#484aee,#4561fc,#4269fe,#416bfe,#4269fe,#4367fd,#4563fd,#465dfa,#484cf0,#4435d0,#4536d5,#4758f8,#4562fc,#337bfd,#22a2e4,#2699ea,#4539d9,#4332ca,#4747eb,#484aee,#4849ed,#4744e8,#4747eb,#4742e6,#463de0,#4740e3,#4852f4,#465efb)"></i><i style="left:70.40px;width:1.71px;background:linear-gradient(#4660fb,#465ffb,#4759f8,#4756f6,#4757f7,#465dfb,#4368fe,#416bfe,#3677fe,#2d8df2,#14b0d8,#45cb88,#57cc7a,#02bac5,#2f81fa,#4367fd,#4466fd,#475cfa,#4853f5,#484df0,#4746ea,#4850f3,#4465fd,#406dfe,#3c72ff,#3b72ff,#3e6fff,#4269fe,#4660fb,#484df1,#4434ce,#4435d0,#4755f6,#475bf9,#406cfe,#2c8ef1,#2e85f8,#3f29b2,#402ab4,#4746ea,#484bef,#484cef,#4747eb,#484bef,#4746ea,#4741e5,#4743e7,#4756f6,#4562fc)"></i><i style="left:71.81px;width:1.71px;background:linear-gradient(#4758f8,#4756f6,#484df0,#4746ea,#4746ea,#484df0,#4758f8,#475bf9,#4269fe,#2e83f9,#1babde,#43ca8b,#62cd71,#11beba,#2d89f5,#3a73fe,#3a73fe,#4466fd,#4758f8,#4852f4,#4745e9,#484bee,#475cfa,#4561fc,#4561fc,#465dfa,#4758f8,#4854f5,#4850f2,#4744e8,#4434cf,#463ee1,#4660fb,#4269fe,#317efb,#21a2e4,#2796eb,#4535d2,#4331c5,#4746ea,#4849ed,#4747eb,#463ee1,#4639da,#422ebe,#3e26a8,#3e26a8,#463bdc,#484cef)"></i><i style="left:73.22px;width:1.71px;background:linear-gradient(#4759f8,#4758f8,#484ef1,#4746ea,#4744e8,#484bef,#4759f9,#4661fc,#3b73fe,#2c8ff1,#03b7cb,#84cc56,#acc739,#32c69f,#2b91ef,#3777fe,#3b73fe,#4464fd,#4757f7,#4852f4,#4849ed,#4852f4,#4562fc,#4368fe,#4369fe,#4465fd,#465efb,#4755f6,#484bef,#463adb,#3e26a8,#412cb9,#4852f4,#465ffb,#3678fd,#22a2e4,#2798ea,#4536d4,#4331c7,#4747ec,#484cef,#484bee,#4745e9,#4744e8,#463de0,#4538d8,#463adc,#484ef1,#475af9)"></i><i style="left:74.62px;width:1.71px;background:linear-gradient(#4852f4,#4851f4,#484bef,#4747ec,#4848ec,#484ff2,#475bf9,#465ffb,#3f6efe,#2e87f7,#17aeda,#4ecc81,#72cd63,#1cc0b3,#2d8bf4,#3b72ff,#3f6fff,#465efb,#484bef,#4536d4,#3f29b2,#422ebf,#484cef,#4759f8,#4562fc,#4465fd,#4562fc,#475bf9,#4851f3,#463ddf,#3e26a8,#3e27ab,#484df0,#4759f9,#3d71ff,#2699e9,#2c90f0,#4331c8,#4331c6,#4849ed,#484df0,#484bef,#4747eb,#484aee,#4745e9,#463de0,#463cde,#484df0,#4758f8)"></i><i style="left:76.03px;width:1.71px;background:linear-gradient(#4758f8,#4756f6,#484ef1,#4849ed,#484bee,#4755f6,#4465fd,#3f6fff,#2f80fa,#2797ea,#01b9c8,#7acc5e,#9fc942,#31c6a0,#2994ed,#347afd,#3974fe,#4464fd,#4757f7,#4852f4,#484bee,#4755f6,#4465fd,#416bfe,#3f6dfe,#3f6eff,#406cfe,#4466fd,#475af9,#4745e9,#402bb6,#412dbc,#4852f4,#465efb,#3579fd,#1fa6e1,#239fe5,#4741e5,#463cdf,#4851f4,#4854f5,#4852f4,#4850f2,#4850f3,#4849ec,#473fe3,#463cdf,#484df0,#4758f8)"></i><i style="left:77.44px;width:1.71px;background:linear-gradient(#465efb,#475cfa,#4756f6,#4852f4,#4854f5,#475af9,#4561fc,#465efb,#4367fd,#327cfc,#23a1e5,#2bc3a8,#39c994,#05b6ce,#317dfb,#4465fd,#4563fd,#4756f7,#4848ec,#4536d4,#412ebe,#4536d3,#4757f7,#4465fd,#3e6fff,#3974fe,#3974fe,#3e70ff,#4367fd,#4755f6,#4742e6,#484bee,#406cfe,#347afd,#2b91ef,#02bac5,#0db3d4,#4759f8,#484df0,#4757f7,#4854f5,#484ef1,#4746ea,#4745e9,#463ddf,#4435d0,#4536d2,#484ef1,#465dfa)"></i><i style="left:78.85px;width:1.71px;background:linear-gradient(#4756f7,#4850f3,#4744e8,#463bdc,#463adb,#4741e6,#4850f2,#4757f7,#426afe,#2d89f5,#09b4d1,#6ecd66,#87cb54,#1bc0b4,#2e86f7,#416afe,#4466fd,#4756f7,#4747eb,#4538d8,#4331c6,#4639d9,#4854f5,#465ffb,#4367fd,#406cfe,#3e6fff,#3f6eff,#4368fd,#4854f6,#463cde,#463adb,#4758f8,#4563fd,#307ffb,#17aeda,#1fa6e2,#4848ec,#4740e3,#484ff2,#484df0,#4746ea,#463cde,#463cde,#4538d7,#4434cf,#4537d6,#484cf0,#475af9)"></i><i style="left:80.26px;width:1.71px;background:linear-gradient(#4758f8,#4854f6,#484bee,#4744e8,#4746ea,#4850f2,#465ffb,#4465fd,#3975fe,#2c8ef1,#0ab4d2,#61cd72,#7ccc5c,#1bc0b4,#2d88f6,#406dfe,#4367fd,#4758f8,#484aee,#463de0,#4536d3,#4740e4,#475af9,#4561fc,#4464fd,#4563fd,#465ffb,#4758f8,#484ff2,#463de0,#3e26a8,#402bb7,#4851f3,#475cfa,#3974fe,#22a2e4,#259be8,#463bdd,#4639da,#4850f3,#4851f3,#484bef,#4742e6,#4745e9,#4744e8,#4741e4,#4743e7,#4854f5,#465efb)"></i><i style="left:81.66px;width:1.71px;background:linear-gradient(#465efb,#4759f9,#484ff2,#4747eb,#4747eb,#484ff2,#475bf9,#4661fc,#3b72fe,#2c8ef2,#0ab4d2,#58cc79,#64cd6f,#06bcc1,#2e83f9,#416bfe,#426afe,#475dfa,#484ef1,#4741e5,#4539d8,#4745ea,#4660fc,#416bfe,#3d70ff,#3e6fff,#416bfe,#4464fd,#475bf9,#4746eb,#402bb8,#412cb9,#4850f2,#475bfa,#3974fe,#22a1e4,#2797eb,#4434ce,#4433cb,#484cef,#484ff2,#484aee,#473fe2,#463bdd,#4332cb,#412cba,#4330c5,#484bef,#475cfa)"></i><i style="left:83.07px;width:1.71px;background:linear-gradient(#4759f8,#4758f8,#484df0,#4742e6,#463ddf,#4742e6,#4850f2,#4757f7,#4368fe,#2e84f8,#18aedb,#4dcc82,#66cd6d,#08bcbf,#2f81fa,#4466fd,#4562fc,#4852f4,#4742e6,#4434d0,#422fc1,#4639d9,#4853f4,#475af9,#475dfa,#475bfa,#4758f8,#4854f5,#484ef1,#473fe2,#412cb9,#422fc1,#484ef1,#4757f7,#3f6eff,#249fe6,#2895ec,#4330c5,#402bb7,#463ee1,#463ee1,#4538d8,#412ebe,#422ec0,#402ab4,#3e26a8,#3e26a8,#463adb,#484aee)"></i><i style="left:84.48px;width:1.71px;background:linear-gradient(#4855f6,#4854f5,#484ef1,#4849ed,#484aee,#4852f4,#4660fb,#4466fd,#3875fe,#2d8df2,#16afd9,#38c896,#38c895,#13b0d8,#3b72fe,#475bfa,#475af9,#484ff2,#4742e6,#4536d4,#4433cb,#4742e6,#4660fc,#3f6eff,#3876fe,#3974fe,#406cfe,#4661fc,#4852f4,#463cde,#3e26a8,#3e26a8,#484aee,#4756f7,#3f6dfe,#259ce7,#2a93ee,#4230c3,#422fc1,#4747ec,#484aed,#4743e7,#4434cf,#4331c7,#402bb8,#3e26a8,#3f29b1,#4742e6,#4851f4)"></i><i style="left:85.89px;width:1.71px;background:linear-gradient(#475af9,#4755f6,#484bef,#4745ea,#4848ec,#4852f4,#4660fc,#4465fd,#3a73fe,#2d8af4,#17aeda,#41ca8c,#51cc7f,#01b8c9,#337bfd,#465efb,#4759f8,#484df0,#4744e8,#463ee1,#463cde,#4848ec,#475cfa,#4661fc,#4661fc,#465dfa,#4759f8,#4854f5,#484ef1,#4740e4,#412cb9,#4332c9,#4756f7,#4561fc,#347afd,#1caadf,#239fe5,#4539d8,#4434ce,#4849ed,#4848ec,#473fe3,#4230c4,#422ebe,#402bb6,#3e28ac,#412cb9,#4745e9,#4755f6)"></i><i style="left:87.30px;width:1.71px;background:linear-gradient(#4854f5,#4852f4,#484aee,#4744e8,#4744e8,#484aee,#4757f8,#465efb,#3c72ff,#2c90f0,#02b7ca,#7dcc5b,#99c946,#28c3ab,#2d8cf3,#3e70ff,#426afe,#475af9,#484bef,#4740e4,#463bdd,#484aed,#4561fc,#426afe,#3f6efe,#406dfe,#4368fe,#4562fc,#475af9,#484bef,#4639da,#4742e6,#4563fd,#3f6eff,#2e86f7,#08b4d1,#1da8e0,#473ee1,#4435d0,#4747eb,#4745e9,#463bdd,#412cb9,#412dbc,#412dbd,#412dbb,#4434cf,#484ff2,#465ffb)"></i><i style="left:88.70px;width:1.71px;background:linear-gradient(#484ff2,#484aee,#4741e4,#463cde,#463ee0,#4848ec,#4758f8,#4561fc,#3876fe,#2a93ee,#01b9c7,#7ecc5b,#8fcb4e,#1dc0b3,#2d87f7,#406cfe,#4367fd,#4758f8,#484aed,#473ee2,#463cde,#484df0,#4464fd,#416bfe,#416bfe,#4367fd,#4562fc,#465dfb,#4757f7,#4848ec,#4332ca,#4537d6,#465dfa,#416bfe,#2e85f8,#09b4d1,#1ea7e1,#4639da,#4330c5,#4746ea,#4848ec,#4741e5,#4538d8,#463cdf,#463cde,#4537d5,#463adb,#4851f3,#4660fb)"></i><i style="left:90.11px;width:1.71px;background:linear-gradient(#4852f4,#4851f3,#484bee,#4746ea,#4746ea,#484ef1,#475af9,#4660fb,#3d70ff,#2d8bf4,#11b1d6,#52cc7e,#61cd72,#03bbc3,#307ffb,#4466fd,#4563fd,#4755f6,#4746ea,#4538d8,#422ebe,#43c,#484bef,#4854f5,#4759f8,#475af9,#4759f8,#4757f7,#4852f4,#4742e6,#412cba,#412cb9,#484aed,#4854f5,#3f6fff,#1da8e0,#249fe5,#4536d3,#422fc1,#4740e4,#473ee1,#4434ce,#402ab4,#422ec0,#4332ca,#4332c8,#4537d5,#484bee,#4757f7)"></i><i style="left:91.52px;width:1.71px;background:linear-gradient(#4758f8,#4756f7,#484ff2,#484cef,#484ff1,#4757f7,#4562fc,#4464fd,#3c71ff,#2d89f5,#17aeda,#47cb87,#5fcd73,#08bcbf,#2e83f9,#4368fe,#4563fc,#4853f5,#4744e8,#4435d0,#412dbb,#4434d0,#4852f4,#465efb,#4466fd,#426afe,#4368fe,#4562fc,#475af9,#4849ed,#4536d3,#463de0,#465efb,#4367fd,#317dfc,#19addc,#23a1e4,#4536d4,#4331c6,#4746ea,#4744e8,#4537d6,#412dbc,#4230c4,#4230c4,#402bb7,#422ec0,#4848ec,#4759f8)"></i><i style="left:92.93px;width:1.71px;background:linear-gradient(#4757f7,#4755f6,#484cf0,#4745e9,#4745e9,#484cef,#4758f8,#465dfa,#406cfe,#2e86f7,#18aedb,#50cc7f,#79cc5e,#1ec0b2,#2d88f6,#416bfe,#4563fc,#4850f3,#463ee1,#412cb8,#3e26a8,#402cb8,#484aee,#4756f7,#475dfa,#465efb,#475dfa,#4759f8,#4852f4,#4741e5,#3f29b2,#402bb6,#484df1,#475af9,#3578fd,#0cb3d3,#18addb,#4848ec,#4740e4,#4850f2,#484bef,#463de0,#412dbb,#412dbb,#412cba,#3f28af,#412dbc,#4848ec,#4759f8)"></i><i style="left:94.34px;width:1.71px;background:linear-gradient(#4852f4,#484ef1,#4742e6,#4539d9,#4535d2,#463adc,#4848ec,#4852f4,#4466fd,#2e86f7,#0db3d3,#73cd62,#9ac945,#29c3aa,#2d89f5,#406cfe,#4466fd,#4756f7,#4747eb,#463bde,#4435d2,#4742e6,#475af9,#4564fd,#4368fe,#4368fe,#4367fd,#4367fd,#4465fd,#4759f8,#484cef,#484cef,#4561fc,#4368fd,#307ffb,#0ab4d2,#1ea7e1,#4536d4,#402bb8,#463bdc,#4537d5,#3e27ab,#3e26a8,#3e26a8,#3e26a8,#3e26a8,#3e26a8,#463cdf,#484ef1)"></i><i style="left:95.74px;width:1.71px;background:linear-gradient(#426afe,#4465fd,#4758f8,#484df0,#484aed,#4850f2,#475cfa,#4660fb,#3e6fff,#2d89f5,#0fb2d4,#6ccd68,#9dc943,#2fc5a2,#2b91ef,#3875fe,#3c71ff,#4465fd,#4759f8,#4852f4,#4744e8,#4747eb,#4759f9,#465ffb,#4562fc,#4464fd,#4464fd,#4563fc,#465efb,#484ff2,#463de0,#4746eb,#4367fd,#3b72ff,#2d89f5,#01b9c8,#16aeda,#4745e9,#473ee1,#4851f3,#484df0,#463bdd,#402ab3,#402ab4,#412dbb,#412dbd,#4536d4,#4855f6,#4466fd)"></i><i style="left:97.15px;width:1.71px;background:linear-gradient(#4758f8,#4755f6,#484df0,#4849ed,#484cef,#4755f6,#4563fd,#4369fe,#3677fe,#2c8ef1,#12b1d6,#4ccb83,#60cd72,#06bcc0,#2f82f9,#4466fd,#4660fb,#484ff1,#463ee1,#412cba,#3e26a8,#422fc1,#4850f3,#465ffb,#416bfe,#3a74fe,#3578fd,#3678fd,#3b72ff,#4660fb,#484df0,#484cf0,#4367fd,#3d71ff,#2d8bf4,#09bdbe,#09b4d1,#484aee,#4740e3,#4851f3,#484cf0,#463bdd,#3f29b0,#3e26a8,#3e26a8,#3e26a8,#3e26a8,#4742e6,#4755f6)"></i><i style="left:98.56px;width:1.71px;background:linear-gradient(#4756f7,#4853f4,#4849ed,#4744e8,#4745e9,#484ef1,#475bf9,#4660fc,#3d70ff,#2d8af4,#14b0d8,#48cb86,#57cc7a,#02bac4,#2f82f9,#406cfe,#406cfe,#4661fc,#4854f5,#484ef1,#4744e8,#484ef1,#4660fb,#4466fd,#4368fe,#4367fd,#4466fd,#4564fd,#465efb,#484df1,#4536d4,#4536d4,#4756f7,#465ffb,#3678fe,#16aeda,#22a2e4,#4332ca,#422ebe,#4746ea,#4849ed,#4744e8,#4639d9,#4740e3,#4743e7,#463ee1,#463de0,#4851f4,#465efb)"></i><i style="left:99.97px;width:1.71px;background:linear-gradient(#4852f4,#4850f3,#484aee,#4747eb,#4849ed,#4850f3,#475cfa,#465ffb,#406dfe,#2e86f8,#1babde,#3bc993,#4fcc80,#02bac4,#2e84f8,#3f6dfe,#416cfe,#465efb,#4850f2,#4745e9,#463ee1,#484aee,#4561fc,#4368fe,#426afe,#4368fd,#4562fc,#475cfa,#4854f5,#4743e8,#412dbd,#4433cd,#4759f9,#4465fd,#2f81fa,#01b8ca,#14b0d8,#4743e7,#463cde,#4851f3,#4850f2,#4745e9,#4332ca,#4331c7,#422fc1,#402ab4,#412cba,#4849ed,#475bf9)"></i><i style="left:101.38px;width:1.71px;background:linear-gradient(#4757f7,#4756f7,#484ff2,#484bef,#484bef,#4851f3,#475af9,#475cfa,#426afe,#2e84f8,#18aedb,#59cc78,#90ca4d,#32c69f,#2896eb,#317dfb,#3876fe,#4661fc,#484df0,#463ddf,#4434ce,#463de0,#4758f8,#4561fc,#4464fd,#4563fd,#465ffb,#4759f8,#4850f2,#463ddf,#3e26a8,#3e27a9,#484bef,#4759f8,#3678fd,#05b6ce,#15afd9,#4741e5,#4536d3,#4746ea,#4740e4,#4331c6,#3e26a8,#3f29b0,#3f29b1,#3e26a8,#3e26a8,#4639d9,#484bee)"></i><i style="left:102.78px;width:1.71px;background:linear-gradient(#4759f8,#4756f6,#484df1,#4849ed,#484df0,#4759f8,#4269fe,#3e6fff,#327cfc,#2c8ff0,#14b0d8,#3dc990,#47cb87,#03b7cc,#327cfc,#4563fc,#4562fc,#4757f7,#484cf0,#4744e8,#463de0,#484bee,#4562fc,#406cfe,#3f6fff,#416afe,#4562fc,#4756f7,#4849ed,#4537d6,#3e26a8,#402ab5,#4755f6,#4464fd,#2f82fa,#02bac4,#0db3d3,#4747ec,#4742e6,#4853f5,#484ef1,#463de0,#412dbb,#422fc3,#4332ca,#422fc1,#422ebe,#4746ea,#4755f6)"></i><i style="left:104.19px;width:1.71px;background:linear-gradient(#4853f5,#4852f4,#484cf0,#4849ed,#484cef,#4755f6,#4464fd,#426afe,#3579fd,#2b91ef,#07b5d0,#61cd72,#73cd63,#0cbdbc,#2f82f9,#4368fe,#4367fd,#475bf9,#484ff2,#4847ec,#473ee1,#4848ec,#465dfa,#4466fd,#4269fe,#4269fe,#4368fe,#4465fd,#4660fb,#4850f2,#473fe2,#4744e9,#4661fc,#4367fd,#317efb,#07b5d0,#1da8e0,#4435d1,#4330c5,#4746ea,#4745ea,#463cde,#422fc0,#4331c5,#4331c7,#422fc0,#4332c9,#484cf0,#475dfa)"></i><i style="left:105.60px;width:1.71px;background:linear-gradient(#475dfa,#475dfa,#4758f8,#4757f7,#475dfa,#4269fe,#327cfc,#2f82f9,#2c8ff1,#22a2e4,#0cbdbc,#7bcc5d,#87cb54,#25c2ae,#2c90f0,#3777fe,#3e70ff,#475cfa,#484bee,#463adb,#4535d2,#4746ea,#4465fd,#3a74fe,#327cfc,#3080fb,#307efb,#3578fd,#416cfe,#4755f6,#4538d7,#4537d6,#475bf9,#4466fd,#2e84f9,#08bcbf,#09b4d1,#4741e5,#4537d6,#484ef1,#484ff1,#4745e9,#4538d7,#463de0,#4743e7,#4743e8,#484aee,#4660fb,#3f6dfe)"></i><i style="left:107.01px;width:1.71px;background:linear-gradient(#484ff2,#484bef,#4740e3,#4539d9,#4639da,#4743e7,#4853f5,#475bf9,#406dfe,#2d8af4,#07b5d0,#78cc5f,#95ca49,#20c1b1,#2e84f9,#4465fd,#465efb,#484cef,#463adb,#402ab5,#3e26a8,#422ebf,#484df0,#465dfb,#426afe,#3e6fff,#406cfe,#4562fc,#4755f6,#473fe2,#3e27ac,#3e26a8,#4742e6,#484aed,#4464fd,#1caadf,#21a3e3,#43c,#4331c8,#4747eb,#4848ec,#4741e5,#4332c8,#4332ca,#4332c9,#422ebf,#4331c6,#4848ec,#4757f7)"></i><i style="left:108.42px;width:1.71px;background:linear-gradient(#4758f8,#4853f5,#4848ec,#4740e4,#4740e4,#484aee,#475cfa,#4367fd,#317dfc,#269ae9,#0ebebb,#a0c941,#b2c535,#32c69f,#2b92ee,#3776fe,#3f6eff,#4759f8,#4744e8,#4331c7,#402ab4,#4434ce,#4851f4,#475af9,#4660fb,#4562fc,#4563fc,#4661fc,#475bf9,#484bef,#4537d5,#463cde,#475cfa,#4564fd,#317dfc,#01b9c7,#10b2d5,#4743e7,#4742e6,#4757f7,#4755f6,#484cef,#4536d3,#43c,#4330c5,#412cba,#4230c4,#484cef,#475cfa)"></i><i style="left:109.82px;width:1.71px;background:linear-gradient(#465dfa,#475cfa,#4854f5,#484ef1,#484ef1,#4757f7,#4464fd,#426afe,#347afd,#2a93ee,#01b8c8,#86cb54,#acc738,#35c79a,#2797eb,#307ffb,#327bfc,#426afe,#475af9,#4850f3,#4745e9,#484cef,#465ffb,#4466fd,#426afe,#406cfe,#3f6eff,#3f6eff,#416bfe,#475cfa,#484cf0,#484ef1,#4368fe,#3b72ff,#2c8ef1,#32c69f,#1abfb5,#4755f6,#4848ec,#4854f5,#484ef1,#473fe3,#4331c7,#4332cb,#4332ca,#422ebf,#4332cb,#484ff2,#465ffb)"></i><i style="left:111.23px;width:1.71px;background:linear-gradient(#4759f8,#4759f9,#4852f4,#484cf0,#484aee,#484ff2,#4759f8,#465dfa,#406cfe,#2e87f7,#15afd9,#4bcb84,#59cc78,#01b9c7,#317dfc,#4564fd,#4561fc,#4851f3,#473fe3,#4230c4,#3f29b2,#4433cd,#484ff2,#4759f8,#465efb,#465ffb,#465dfa,#4758f8,#484ff2,#463cde,#3e26a8,#3e26a8,#4746ea,#4851f3,#406dfe,#0db3d3,#1ea7e1,#412dbc,#3f28ad,#473fe3,#4745e9,#4743e7,#4535d2,#43c,#412cba,#3e26a8,#3e26a8,#463cde,#484cf0)"></i><i style="left:112.64px;width:1.71px;background:linear-gradient(#4465fd,#4464fd,#475cfa,#4853f5,#4850f2,#4853f5,#475cfa,#465efb,#406dfe,#2d88f6,#0db3d3,#78cc5f,#aac73a,#33c69d,#2b92ee,#3876fe,#3e70ff,#465ffb,#4850f2,#4743e7,#4536d4,#463bdc,#4852f4,#4759f8,#475cfa,#465dfa,#475cfa,#4757f7,#484ff2,#463ddf,#3e26a8,#412cb8,#4853f5,#4561fc,#2f80fa,#14beb8,#05b6ce,#463de0,#4537d5,#484df1,#4850f2,#484df0,#4740e3,#463ee1,#4435d2,#3f29b0,#3e27ab,#473fe3,#4850f2)"></i><i style="left:114.05px;width:1.71px;background:linear-gradient(#4853f4,#484df0,#4742e7,#463cde,#463cde,#4745e9,#4854f5,#465efb,#3875fe,#2796eb,#10beba,#a1c840,#96ca49,#03bbc2,#3776fe,#4759f8,#4756f6,#484df0,#4746ea,#4740e3,#463de0,#4848ec,#465efb,#4465fd,#4368fe,#426afe,#416bfe,#426afe,#4563fc,#4851f4,#463bdc,#463ddf,#475cfa,#4367fd,#2e84f9,#1dc0b3,#04b6cd,#463de0,#4433cd,#4747eb,#4745e9,#463cde,#412cb9,#402ab5,#3e26a8,#3e26a8,#3e26a8,#463adb,#484cef)"></i><i style="left:115.46px;width:1.71px;background:linear-gradient(#4757f7,#4854f5,#484df0,#4849ed,#484aed,#4851f3,#465efb,#4464fd,#3975fe,#2d8df2,#11b1d6,#49cb85,#5acc78,#03bbc3,#2e86f7,#3b73fe,#3875fe,#3f6efe,#4564fd,#4758f8,#4853f5,#4854f6,#4368fe,#3b72ff,#3a74fe,#3974fe,#3c71ff,#426afe,#465ffb,#484cef,#4331c7,#4332ca,#4853f5,#465efb,#317dfb,#16bfb7,#01b8c9,#484bee,#4743e7,#4755f6,#4756f7,#4851f3,#4747eb,#4742e6,#4537d5,#402ab5,#402ab3,#4745e9,#4756f7)"></i><i style="left:116.86px;width:1.71px;background:linear-gradient(#4367fd,#4367fd,#4562fc,#465dfa,#475bf9,#465dfa,#4464fd,#4368fe,#337afd,#2798ea,#16bfb7,#bdc32e,#d2bf27,#38c896,#2a92ee,#3974fe,#406dfe,#4561fc,#4757f7,#4850f3,#484df1,#4757f7,#3c71ff,#317efb,#3e6fff,#406dfe,#3f6efe,#3f6eff,#416bfe,#465efb,#484bee,#4849ed,#475bf9,#465efb,#3678fe,#01b8c8,#17aeda,#4744e8,#463de0,#484ff2,#4853f5,#4854f5,#484ff2,#4853f5,#4852f4,#484ef1,#4851f3,#4660fb,#426afe)"></i><i style="left:118.27px;width:1.71px;background:linear-gradient(#475dfa,#475af9,#4854f5,#4852f4,#4853f5,#4758f8,#465efb,#465ffb,#416bfe,#2e84f8,#17aeda,#57cc7a,#72cd64,#05bbc1,#317efb,#4563fc,#4660fb,#475af9,#4755f6,#4850f3,#484df0,#4854f5,#3579fd,#2c90f0,#4269fe,#4660fb,#4660fc,#4562fc,#4562fc,#475bf9,#484bee,#4747eb,#4853f5,#4854f5,#3f6eff,#03b7cc,#16afda,#4746eb,#473fe2,#484bef,#484bef,#4848ec,#4741e5,#4742e6,#4740e3,#463adc,#473ee1,#4852f4,#465dfa)"></i><i style="left:119.68px;width:1.71px;background:linear-gradient(#465dfa,#475cfa,#4758f8,#4755f6,#4854f6,#4758f8,#465dfb,#465ffb,#406dfe,#2d88f6,#0bb3d2,#6bcd69,#7ccc5c,#09bcbe,#2f80fa,#4466fd,#4562fc,#475af9,#4853f5,#484ef1,#484cef,#4854f5,#2d88f6,#1caadf,#3e6fff,#4561fc,#4561fc,#4561fc,#4660fb,#4758f8,#484bef,#4849ed,#4756f7,#475af9,#3579fd,#20c1b1,#05bbc1,#4758f8,#4852f4,#475cfa,#475cfa,#4757f7,#484ff2,#484cf0,#4747eb,#473fe3,#4740e4,#484ef1,#4756f7)"></i><i style="left:121.09px;width:1.71px;background:linear-gradient(#4465fd,#4465fd,#4563fd,#4561fc,#4562fc,#4465fd,#416bfe,#3f6efe,#3678fe,#2d8af5,#1babde,#31c6a0,#35c799,#0ab4d2,#2e86f7,#3974fe,#3b72ff,#416bfe,#4563fc,#475cfa,#4759f8,#4660fb,#2b92ee,#13b0d7,#3579fd,#4368fe,#4368fd,#4368fe,#4369fe,#4464fd,#475bf9,#475cfa,#4269fe,#3f6fff,#2e85f8,#1ec0b2,#01b8c8,#4660fc,#4757f7,#465ffb,#465efb,#475bf9,#4755f6,#4755f6,#4851f3,#484aee,#484bef,#4758f8,#4660fb)"></i><i style="left:122.50px;width:1.71px;background:linear-gradient(#4561fc,#4660fb,#465dfa,#475cfa,#475cfa,#465ffb,#4563fd,#4464fd,#4269fe,#3776fe,#2b91ef,#12b1d6,#06b5cf,#23a0e5,#317efb,#3b73fe,#3b72ff,#406cfe,#4466fd,#465ffb,#475bf9,#465ffb,#2f82fa,#269ae9,#3678fe,#3f6eff,#416cfe,#4367fd,#4562fc,#475af9,#4851f3,#4853f5,#4660fb,#4465fd,#3777fe,#0fb2d4,#1ea7e1,#4756f7,#484ef1,#4757f7,#475af9,#475cfa,#475cfa,#465efb,#475dfa,#4757f7,#4759f8,#4465fd,#406cfe)"></i><i style="left:123.90px;width:1.71px;background:linear-gradient(#475bfa,#4757f8,#4852f4,#484ff2,#484ff2,#4854f5,#475bf9,#4660fb,#4466fd,#3c72ff,#2d8bf3,#1da9e0,#1caadf,#2c90f0,#3e6fff,#4466fd,#4466fd,#4564fd,#4661fc,#465efb,#475bf9,#465dfa,#416bfe,#3a74fe,#4466fd,#4465fd,#4368fd,#4367fd,#4563fd,#475cfa,#4854f5,#4756f7,#4562fc,#4465fd,#3b73fe,#18addb,#22a2e4,#4758f8,#4853f4,#475bf9,#465ffb,#4660fc,#465ffb,#465ffb,#475bf9,#4854f5,#4853f4,#475bf9,#4660fb)"></i><i style="left:125.31px;width:1.71px;background:linear-gradient(#416cfe,#406dfe,#416cfe,#426afe,#4368fe,#4367fd,#4466fd,#4464fd,#4466fd,#3e70ff,#2d89f5,#20a5e3,#1fa6e1,#2c8ff1,#3975fe,#406cfe,#426afe,#4465fd,#465ffb,#475bf9,#4757f7,#475af9,#4563fc,#426afe,#416cfe,#3f6fff,#3d70ff,#3e6fff,#406dfe,#4367fd,#4660fc,#4660fb,#4367fd,#4367fd,#3c72ff,#1ca9df,#23a0e5,#465ffb,#475af9,#4561fc,#4563fc,#4562fc,#4660fb,#465ffb,#475cfa,#4758f8,#475af9,#4562fc,#4368fd)"></i><i style="left:126.72px;width:1.71px;background:linear-gradient(#416cfe,#416bfe,#4367fd,#4563fd,#4562fc,#4564fd,#4368fe,#426afe,#406cfe,#3b73fe,#2d87f7,#249fe5,#249fe6,#2d87f7,#3e70ff,#4369fe,#4368fd,#4564fd,#465ffb,#475af9,#4756f7,#4759f8,#4660fc,#4564fd,#4464fd,#4464fd,#4464fd,#4465fd,#4466fd,#4464fd,#465ffb,#465efb,#4563fd,#4464fd,#3f6fff,#1ea6e1,#239fe5,#4563fc,#465ffb,#4464fd,#4465fd,#4564fd,#4562fc,#4562fc,#4660fc,#475dfa,#475cfa,#4561fc,#4464fd)"></i><i style="left:128.13px;width:1.71px;background:linear-gradient(#4368fd,#4367fd,#4465fd,#4564fd,#4465fd,#4367fd,#426afe,#416bfe,#406cfe,#3c72ff,#2e85f8,#259be8,#269ae8,#2e85f8,#3b72ff,#406dfe,#416bfe,#4466fd,#4661fc,#475cfa,#475bf9,#465dfb,#4563fc,#4564fd,#4563fc,#4561fc,#4660fb,#4660fb,#4561fc,#4561fc,#465ffb,#465ffb,#4564fd,#4464fd,#3f6efe,#21a4e3,#259de7,#4564fd,#4660fc,#4367fd,#426afe,#416bfe,#4269fe,#4369fe,#4465fd,#4660fc,#465ffb,#4464fd,#4367fd)"></i><i style="left:129.54px;width:1.71px;background:linear-gradient(#4368fe,#4369fe,#4367fd,#4564fd,#4561fc,#4660fc,#4561fc,#4563fd,#4368fe,#3a74fe,#2d8bf4,#21a3e3,#21a3e3,#2d8df2,#3579fd,#3c71ff,#3e6fff,#406cfe,#426afe,#4269fe,#4368fd,#4369fe,#416bfe,#416cfe,#416bfe,#4368fe,#4464fd,#4660fc,#475cfa,#4758f8,#4854f5,#4854f6,#475bf9,#465ffb,#416bfe,#22a2e4,#259de7,#4368fd,#4564fd,#4368fe,#4269fe,#4368fe,#4367fd,#4367fd,#4367fd,#4466fd,#4368fe,#3f6efe,#3e6fff)"></i><i style="left:130.94px;width:1.71px;background:linear-gradient(#406cfe,#3f6fff,#3d71ff,#3b72fe,#3b73fe,#3a74fe,#3975fe,#3a74fe,#3c72ff,#3b73fe,#2f80fa,#2a92ee,#2b92ee,#307ffb,#3f6eff,#426afe,#416bfe,#406dfe,#3f6fff,#3e6fff,#406dfe,#406cfe,#406dfe,#406cfe,#406dfe,#3f6dfe,#3f6efe,#3f6fff,#3d70ff,#3d70ff,#3f6efe,#406dfe,#3e6fff,#3f6eff,#3875fe,#20a4e3,#259ce7,#4368fe,#4562fc,#4465fd,#4465fd,#4466fd,#4367fd,#4269fe,#426afe,#4368fe,#4368fe,#406cfe,#3f6eff)"></i><i style="left:132.35px;width:1.71px;background:linear-gradient(#475cfa,#465efb,#4660fb,#4561fc,#4561fc,#4661fc,#4561fc,#4561fc,#4564fd,#416bfe,#317dfc,#2b91ef,#2c8ef1,#3677fe,#4465fd,#465ffb,#465ffb,#465efb,#465dfa,#475cfa,#475bf9,#465efb,#4563fd,#4367fd,#4368fe,#4367fd,#4465fd,#4563fc,#4561fc,#465ffb,#475cfa,#475af9,#475cfa,#475bf9,#4562fc,#2994ed,#2c8ef1,#465dfa,#4759f8,#475cfa,#465dfb,#465ffb,#465ffb,#465efb,#475cfa,#4759f9,#4759f8,#475cfa,#465efb)"></i><i style="left:133.76px;width:1.71px;background:linear-gradient(#3c72ff,#3c72ff,#3d70ff,#3f6efe,#416bfe,#416bfe,#416bfe,#416bfe,#416bfe,#3d70ff,#3080fa,#2b91ef,#2c8ff1,#327cfc,#3f6eff,#406cfe,#406dfe,#416cfe,#4369fe,#4465fd,#4563fc,#4563fd,#4367fd,#4269fe,#416cfe,#406dfe,#3f6efe,#3f6eff,#3f6eff,#406cfe,#4368fe,#4464fd,#4563fd,#4562fc,#4368fd,#2895ec,#2b92ee,#4269fe,#4269fe,#3f6eff,#3c71ff,#3b73fe,#3b73fe,#3b73fe,#3c71ff,#3f6eff,#3f6efe,#3e6fff,#3e6fff)"></i><i style="left:135.17px;width:1.71px;background:linear-gradient(#4464fd,#4564fd,#4563fd,#4465fd,#4367fd,#416bfe,#406dfe,#416bfe,#4368fd,#4466fd,#3e6fff,#327cfc,#327bfc,#406dfe,#4563fd,#4563fc,#4465fd,#4466fd,#4465fd,#4564fd,#4562fc,#4562fc,#4465fd,#4368fe,#416bfe,#406dfe,#406dfe,#416bfe,#4269fe,#4466fd,#4563fc,#4562fc,#4564fd,#4466fd,#406dfe,#2699ea,#2a92ee,#4368fe,#4564fd,#4466fd,#4367fd,#4367fd,#4466fd,#4367fd,#4368fe,#4269fe,#416bfe,#3f6eff,#3f6eff)"></i><i style="left:136.58px;width:1.71px;background:linear-gradient(#4466fd,#4465fd,#4465fd,#4465fd,#4466fd,#4466fd,#4466fd,#4464fd,#4563fd,#4465fd,#3d70ff,#307ffb,#317efb,#3e6fff,#4366fd,#4466fd,#4368fe,#4369fe,#4269fe,#4369fe,#4368fe,#4368fe,#4368fd,#4465fd,#4561fc,#475cfa,#4758f8,#4755f6,#4755f6,#4756f7,#4758f8,#475bf9,#465efb,#465ffb,#4564fd,#2d8cf3,#2d88f6,#4563fc,#4561fc,#4464fd,#4465fd,#4465fd,#4464fd,#4464fd,#4563fd,#4561fc,#465ffb,#4660fb,#4661fc)"></i><i style="left:137.98px;width:1.71px;background:linear-gradient(#3f6dfe,#406cfe,#426afe,#4368fe,#4466fd,#4367fd,#4269fe,#406cfe,#3e70ff,#3876fe,#2f83f9,#2b90f0,#2c90f0,#2e83f9,#337afd,#3578fd,#3677fe,#3975fe,#3c72ff,#3f6fff,#406dfe,#416cfe,#416cfe,#416bfe,#426afe,#4369fe,#4368fe,#4367fd,#4465fd,#4562fc,#4561fc,#4563fc,#4368fd,#416bfe,#3a73fe,#2699e9,#2994ed,#3c72ff,#3e6fff,#3d70ff,#3e6fff,#406dfe,#406cfe,#406dfe,#3f6efe,#3f6eff,#3f6efe,#406dfe,#416cfe)"></i><i style="left:139.39px;width:1.71px;background:linear-gradient(#475cfa,#465dfa,#465dfb,#465dfa,#475cfa,#475af9,#475af9,#475bf9,#475cfa,#465ffb,#4368fe,#3a74fe,#3b72ff,#4466fd,#465dfb,#475cfa,#475dfa,#475dfa,#475cfa,#475bf9,#475af9,#475bf9,#475dfa,#465efb,#4660fb,#4660fc,#4660fc,#4661fc,#4561fc,#4562fc,#4562fc,#4561fc,#4561fc,#4660fb,#4563fc,#2e85f8,#317dfb,#475bf9,#4757f7,#4758f8,#4758f8,#4757f7,#4757f7,#4756f7,#4756f6,#4755f6,#4756f7,#4759f8,#475bf9)"></i></div><div class="hm" style="left:58.6px;top:414.9px;width:140.4px;height:236.0px"><i style="left:0.00px;width:1.70px;background:linear-gradient(#3e70ff,#3d70ff,#3c71ff,#3a74fe,#3875fe,#3975fe,#3b72fe,#3d70ff,#3f6fff,#3f6eff,#3f6efe,#406cfe,#426afe,#4367fd,#4465fd,#4466fd,#4368fe,#416bfe,#3f6efe,#3e70ff,#3d71ff,#3c71ff,#3c71ff,#3d71ff,#3d70ff,#3d70ff,#3d71ff,#3b72ff,#3a73fe,#3a73fe,#3c72ff,#3e6fff,#406cfe,#426afe,#4269fe,#4269fe,#416bfe,#3f6efe,#3d71ff,#3c72ff,#3d71ff,#3f6eff,#406dfe,#406cfe,#406cfe,#406cfe,#406cfe,#406cfe,#406dfe)"></i><i style="left:1.40px;width:1.70px;background:linear-gradient(#4464fd,#4564fd,#4464fd,#4465fd,#4465fd,#4465fd,#4465fd,#4368fe,#416bfe,#3e6fff,#3c72ff,#3b72ff,#3c71ff,#3e6fff,#406cfe,#4369fe,#4466fd,#4564fd,#4563fd,#4564fd,#4465fd,#4367fd,#416bfe,#3f6eff,#3d71ff,#3c72ff,#3c71ff,#3f6fff,#416bfe,#4368fe,#4466fd,#4464fd,#4464fd,#4464fd,#4465fd,#4366fd,#4367fd,#4368fd,#4368fd,#4368fe,#4368fe,#4368fe,#4466fd,#4564fd,#4563fc,#4563fd,#4465fd,#4368fd,#4269fe)"></i><i style="left:2.81px;width:1.70px;background:linear-gradient(#4367fd,#4368fd,#4369fe,#4269fe,#4368fe,#4466fd,#4564fd,#4562fc,#4660fc,#4660fc,#4562fc,#4465fd,#4368fe,#416cfe,#3f6eff,#3d70ff,#3c72ff,#3b73fe,#3a74fe,#3875fe,#3776fe,#3876fe,#3b72fe,#3f6dfe,#4368fe,#4564fd,#4660fc,#465dfb,#475bf9,#475af9,#475cfa,#465ffb,#4564fd,#4367fd,#426afe,#416bfe,#406dfe,#406dfe,#416bfe,#4368fe,#4465fd,#4564fd,#4564fd,#4464fd,#4465fd,#4564fd,#4563fd,#4564fd,#4464fd)"></i><i style="left:4.21px;width:1.70px;background:linear-gradient(#4563fc,#4563fd,#4562fc,#4660fc,#465efb,#475dfa,#475cfa,#475bfa,#475cfa,#465efb,#4660fc,#4561fc,#4660fb,#475dfa,#475af9,#475af9,#475cfa,#4561fc,#4367fd,#416bfe,#3f6efe,#3f6efe,#416bfe,#4466fd,#4561fc,#475dfa,#475af9,#4758f8,#4757f7,#4758f8,#4758f8,#4758f8,#4758f8,#4757f7,#4756f6,#4755f6,#4855f6,#4756f6,#4758f8,#475af9,#475af9,#475bf9,#475bf9,#475cfa,#465dfb,#465ffb,#4660fb,#4660fc,#4561fc)"></i><i style="left:5.62px;width:1.70px;background:linear-gradient(#426afe,#4269fe,#4367fd,#4466fd,#4466fd,#4367fd,#4368fe,#4269fe,#4368fe,#4367fd,#4366fd,#4367fd,#4368fe,#426afe,#416bfe,#416bfe,#426afe,#4269fe,#416afe,#406cfe,#406cfe,#416bfe,#4269fe,#4367fd,#4366fd,#4367fd,#4368fd,#4368fe,#4368fe,#4368fe,#4269fe,#416afe,#416bfe,#426afe,#4269fe,#4368fe,#4368fe,#4368fd,#4367fd,#4367fd,#4368fe,#4269fe,#416afe,#416afe,#4269fe,#4367fd,#4466fd,#4466fd,#4466fd)"></i><i style="left:7.02px;width:1.70px;background:linear-gradient(#4368fd,#4368fe,#4369fe,#4269fe,#426afe,#426afe,#426afe,#4368fe,#4366fd,#4465fd,#4563fd,#4563fc,#4563fc,#4562fc,#4561fc,#4660fb,#465ffb,#465ffb,#4561fc,#4563fd,#4366fd,#4269fe,#416bfe,#426afe,#4367fd,#4563fd,#4660fb,#465efb,#465ffb,#4561fc,#4464fd,#4368fd,#426afe,#426afe,#4368fe,#4367fd,#4466fd,#4466fd,#4464fd,#4562fc,#465ffb,#475dfa,#475cfa,#475dfa,#465ffb,#4562fc,#4464fd,#4466fd,#4366fd)"></i><i style="left:8.42px;width:1.70px;background:linear-gradient(#4269fe,#416bfe,#406dfe,#3f6eff,#3f6eff,#3f6eff,#3f6eff,#3f6efe,#406cfe,#426afe,#4367fd,#4564fd,#4561fc,#4561fc,#4562fc,#4464fd,#4367fd,#4369fe,#426afe,#426afe,#426afe,#426afe,#426afe,#416afe,#426afe,#4269fe,#4466fd,#4562fc,#465efb,#475cfa,#475bfa,#465dfa,#4660fb,#4563fc,#4465fd,#4366fd,#4466fd,#4465fd,#4563fc,#4561fc,#4561fc,#4563fc,#4466fd,#4368fe,#4269fe,#426afe,#4269fe,#4269fe,#4269fe)"></i><i style="left:9.83px;width:1.70px;background:linear-gradient(#4563fc,#4464fd,#4466fd,#4367fd,#4368fe,#4367fd,#4466fd,#4465fd,#4465fd,#4465fd,#4367fd,#4368fe,#4368fe,#4367fd,#4465fd,#4562fc,#4561fc,#4562fc,#4464fd,#4367fd,#4366fd,#4564fd,#4661fc,#465efb,#475cfa,#475af9,#475af9,#475bf9,#465efb,#4660fb,#4562fc,#4564fd,#4466fd,#4369fe,#426afe,#4368fe,#4466fd,#4465fd,#4465fd,#4465fd,#4465fd,#4465fd,#4564fd,#4563fc,#4562fc,#4561fc,#4660fc,#4561fc,#4562fc)"></i><i style="left:11.23px;width:1.70px;background:linear-gradient(#4368fd,#4366fd,#4465fd,#4564fd,#4564fd,#4564fd,#4465fd,#4465fd,#4466fd,#4367fd,#4367fd,#4368fe,#426afe,#416bfe,#416bfe,#426afe,#4367fd,#4465fd,#4465fd,#4465fd,#4466fd,#4367fd,#4368fe,#4367fd,#4466fd,#4464fd,#4563fd,#4563fd,#4564fd,#4465fd,#4368fd,#426afe,#416bfe,#406cfe,#416cfe,#426afe,#4369fe,#4367fd,#4367fd,#4366fd,#4466fd,#4466fd,#4465fd,#4464fd,#4563fd,#4562fc,#4661fc,#4660fc,#4562fc)"></i><i style="left:12.64px;width:1.70px;background:linear-gradient(#4466fd,#4466fd,#4465fd,#4562fc,#4660fb,#465efb,#465efb,#465ffb,#4562fc,#4465fd,#4368fe,#4269fe,#4269fe,#426afe,#426afe,#416bfe,#416cfe,#416bfe,#416bfe,#426afe,#426afe,#426afe,#4369fe,#4366fd,#4464fd,#4563fc,#4562fc,#4562fc,#4561fc,#4660fc,#4660fb,#4561fc,#4563fd,#4466fd,#4367fd,#4466fd,#4562fc,#465efb,#475cfa,#475cfa,#465efb,#4561fc,#4563fd,#4466fd,#4367fd,#4367fd,#4367fd,#4368fd,#4368fd)"></i><i style="left:14.04px;width:1.70px;background:linear-gradient(#465efb,#465efb,#465ffb,#4660fc,#4562fc,#4465fd,#4367fd,#4367fd,#4367fd,#4465fd,#4464fd,#4464fd,#4563fd,#4561fc,#465dfa,#4759f9,#4757f7,#4755f6,#4756f6,#4757f7,#4759f9,#475bf9,#475cfa,#475cfa,#475cfa,#475cfa,#475dfa,#465dfb,#465efb,#465ffb,#465ffb,#4660fc,#4563fc,#4465fd,#4465fd,#4564fd,#4562fc,#4661fc,#4561fc,#4563fd,#4466fd,#4368fe,#426afe,#426afe,#4269fe,#4368fe,#4465fd,#4563fc,#4661fc)"></i><i style="left:15.44px;width:1.70px;background:linear-gradient(#3e6fff,#3e6fff,#3f6efe,#416cfe,#426afe,#426afe,#426afe,#4269fe,#4369fe,#426afe,#406cfe,#3e70ff,#3a73fe,#3876fe,#3776fe,#3876fe,#3975fe,#3a74fe,#3b73fe,#3d71ff,#3f6eff,#406cfe,#406cfe,#3f6dfe,#3e6fff,#3e70ff,#3f6fff,#406cfe,#426afe,#426afe,#416bfe,#406cfe,#3f6efe,#3e6fff,#3e6fff,#3f6efe,#406dfe,#406cfe,#406cfe,#416bfe,#4269fe,#4466fd,#4564fd,#4564fd,#4465fd,#4466fd,#4466fd,#4466fd,#4466fd)"></i><i style="left:16.85px;width:1.70px;background:linear-gradient(#4367fd,#4367fd,#4367fd,#4368fd,#4368fe,#4367fd,#4466fd,#4465fd,#4466fd,#4368fe,#406cfe,#3f6fff,#3e6fff,#3e6fff,#3e70ff,#3d70ff,#3d70ff,#3e6fff,#406cfe,#4269fe,#4367fd,#4466fd,#4466fd,#4367fd,#4269fe,#416bfe,#416cfe,#416cfe,#406cfe,#406dfe,#3f6eff,#3e70ff,#3d70ff,#3d71ff,#3d71ff,#3d70ff,#3e6fff,#406dfe,#426afe,#4368fe,#4368fd,#4367fd,#4367fd,#4465fd,#4563fd,#4561fc,#4660fc,#4661fc,#4563fc)"></i><i style="left:18.25px;width:1.70px;background:linear-gradient(#3677fe,#3579fd,#3579fd,#3678fe,#3876fe,#3a74fe,#3a73fe,#3a73fe,#3b72ff,#3e6fff,#406cfe,#4269fe,#4368fd,#4368fd,#4368fe,#4368fe,#4368fe,#4368fe,#4368fe,#4269fe,#426afe,#416afe,#416bfe,#406dfe,#3e6fff,#3c71ff,#3b72ff,#3c72ff,#3d70ff,#3f6eff,#416cfe,#426afe,#4269fe,#4269fe,#416bfe,#3f6eff,#3c72ff,#3975fe,#3777fe,#3677fe,#3777fe,#3876fe,#3a74fe,#3c71ff,#3e6fff,#3f6eff,#3e6fff,#3d70ff,#3c71ff)"></i><i style="left:19.66px;width:1.70px;background:linear-gradient(#4465fd,#4465fd,#4367fd,#4369fe,#426afe,#426afe,#4269fe,#4369fe,#4368fe,#4367fd,#4465fd,#4464fd,#4465fd,#4366fd,#4368fe,#426afe,#416bfe,#406dfe,#3e6fff,#3d71ff,#3c71ff,#3c71ff,#3d71ff,#3d70ff,#3e70ff,#3f6eff,#406cfe,#416afe,#426afe,#426afe,#426afe,#4368fe,#4465fd,#4562fc,#465ffb,#465ffb,#4661fc,#4562fc,#4464fd,#4465fd,#4465fd,#4464fd,#4564fd,#4464fd,#4466fd,#4367fd,#4367fd,#4367fd,#4367fd)"></i><i style="left:21.06px;width:1.70px;background:linear-gradient(#4465fd,#4465fd,#4466fd,#4369fe,#416bfe,#406cfe,#416cfe,#416bfe,#426afe,#4368fe,#4466fd,#4464fd,#4564fd,#4465fd,#4466fd,#4466fd,#4465fd,#4564fd,#4563fd,#4563fd,#4563fd,#4562fc,#4661fc,#465efb,#475cfa,#475cfa,#475cfa,#465efb,#465ffb,#4660fb,#4561fc,#4563fc,#4465fd,#4368fe,#426afe,#416bfe,#416bfe,#426afe,#4368fe,#4466fd,#4464fd,#4464fd,#4464fd,#4564fd,#4562fc,#4660fc,#465efb,#465dfb,#465efb)"></i><i style="left:22.46px;width:1.70px;background:linear-gradient(#426afe,#426afe,#426afe,#4369fe,#4368fe,#4369fe,#4269fe,#4269fe,#4368fe,#4367fd,#4464fd,#4561fc,#465ffb,#475cfa,#475cfa,#475cfa,#465efb,#4661fc,#4562fc,#4563fd,#4564fd,#4563fd,#4562fc,#465ffb,#475cfa,#4759f8,#4758f8,#4759f8,#475cfa,#4660fb,#4563fd,#4465fd,#4466fd,#4466fd,#4367fd,#4367fd,#4367fd,#4465fd,#4562fc,#465ffb,#465dfa,#475bf9,#475af9,#4759f8,#4759f8,#475af9,#475cfa,#465efb,#4660fc)"></i><i style="left:23.87px;width:1.70px;background:linear-gradient(#465efb,#465dfa,#475cfa,#475cfa,#465efb,#4660fc,#4562fc,#4564fd,#4464fd,#4564fd,#4562fc,#465ffb,#475dfa,#475bf9,#475bf9,#475bf9,#475bf9,#475af9,#4759f8,#4757f7,#4757f7,#4758f8,#4759f8,#475af9,#475bf9,#475bf9,#475af9,#4759f8,#4757f7,#4756f7,#4756f6,#4756f7,#4758f8,#475bf9,#465ffb,#4563fc,#4466fd,#4367fd,#4466fd,#4465fd,#4563fc,#4660fc,#465efb,#475cfa,#475af9,#475af9,#475cfa,#465efb,#4660fb)"></i><i style="left:25.27px;width:1.70px;background:linear-gradient(#4269fe,#4368fe,#4368fd,#4367fd,#4368fd,#4368fe,#4369fe,#4369fe,#4369fe,#4269fe,#416bfe,#406cfe,#3f6efe,#3e6fff,#3e6fff,#3f6eff,#406cfe,#416bfe,#426afe,#426afe,#416bfe,#406cfe,#406dfe,#406cfe,#416bfe,#4369fe,#4368fe,#4269fe,#416bfe,#416cfe,#416bfe,#416afe,#426afe,#4269fe,#4368fe,#4367fd,#4367fd,#4368fd,#4369fe,#4368fe,#4466fd,#4563fc,#4660fc,#4660fc,#4563fd,#4368fe,#3f6eff,#3b72ff,#3b73fe)"></i><i style="left:26.68px;width:1.70px;background:linear-gradient(#4563fc,#4561fc,#465ffb,#465ffb,#465ffb,#4660fb,#4660fc,#4561fc,#4562fc,#4562fc,#4562fc,#4561fc,#465ffb,#465dfa,#475bfa,#475bfa,#465efb,#4562fc,#4466fd,#4368fe,#4368fe,#4466fd,#4564fd,#4561fc,#465efb,#475bfa,#4759f8,#4758f8,#4758f8,#475af9,#465dfa,#4660fc,#4562fc,#4562fc,#4562fc,#4562fc,#4564fd,#4465fd,#4466fd,#4466fd,#4466fd,#4466fd,#4367fd,#4368fe,#4367fd,#4466fd,#4465fd,#4564fd,#4563fd)"></i><i style="left:28.08px;width:1.70px;background:linear-gradient(#4564fd,#4368fe,#406cfe,#3f6eff,#3f6eff,#406dfe,#416bfe,#426afe,#4269fe,#4368fe,#4368fd,#4466fd,#4465fd,#4464fd,#4465fd,#4465fd,#4563fd,#465ffb,#475af9,#4756f7,#4755f6,#4755f6,#4757f7,#4758f8,#4758f8,#4757f7,#4756f7,#4757f7,#475af9,#465dfb,#465ffb,#465ffb,#465dfa,#475af9,#475af9,#475cfa,#4661fc,#4465fd,#4367fd,#4367fd,#4464fd,#4562fc,#4660fb,#465efb,#475dfa,#475bf9,#475af9,#475af9,#475bf9)"></i><i style="left:29.48px;width:1.70px;background:linear-gradient(#426afe,#406dfe,#317dfc,#2e86f8,#2e86f7,#2c8ff0,#2896ec,#2c90f0,#2e83f9,#3d70ff,#416bfe,#4269fe,#4269fe,#4368fe,#4466fd,#4563fd,#4562fc,#4563fd,#4368fd,#416bfe,#406cfe,#406dfe,#3f6eff,#3e70ff,#406dfe,#4367fd,#4465fd,#4464fd,#3f6dfe,#3776fe,#337afd,#3a73fe,#4368fd,#4465fd,#4367fd,#4368fe,#426afe,#416bfe,#4269fe,#4368fe,#4369fe,#416bfe,#3f6dfe,#406dfe,#4269fe,#4661fc,#465ffb,#4660fb,#4562fc)"></i><i style="left:30.89px;width:1.70px;background:linear-gradient(#3f6eff,#3975fe,#259ce7,#19acdc,#1baade,#01b9c7,#0ebdbb,#18aedb,#2d8bf3,#4756f7,#4852f4,#4853f5,#4756f6,#4853f5,#4850f3,#4850f2,#4853f5,#475bf9,#4366fd,#416afe,#4367fd,#4563fd,#4269fe,#3876fe,#3677fe,#406dfe,#416bfe,#406dfe,#2a93ed,#16afda,#05b6ce,#239fe5,#406dfe,#475bfa,#4757f7,#484ff2,#484aee,#4849ed,#484cef,#484ef1,#4850f3,#4851f4,#4852f4,#4465fd,#406dfe,#484ff2,#4759f9,#4465fd,#406cfe)"></i><i style="left:32.29px;width:1.70px;background:linear-gradient(#3b73fe,#2f81fa,#01b8ca,#39c895,#4ccb83,#cac129,#ebba31,#5ecd74,#1ca9df,#475af9,#484ff1,#484cf0,#484df0,#4746ea,#4740e3,#473fe3,#4746ea,#4854f5,#4563fd,#4369fe,#4564fd,#465ffb,#4561fc,#4269fe,#4465fd,#4758f8,#4759f8,#465dfb,#2a93ee,#02b7cb,#1cc0b4,#1aabdd,#406cfe,#4757f7,#4854f5,#484cef,#4746ea,#4744e8,#4744e8,#4744e8,#4746eb,#484cf0,#4854f5,#327cfc,#2d88f6,#484bee,#484ef1,#4756f7,#465dfa)"></i><i style="left:33.70px;width:1.70px;background:linear-gradient(#4368fd,#3d71ff,#1da8e0,#11beb9,#33c69d,#e0bc2a,#fbd12f,#a6c83d,#10b2d5,#4758f8,#4848ec,#4745e9,#4746ea,#4740e3,#463bdd,#463de0,#4745e9,#4853f4,#4661fc,#4661fc,#4755f6,#484aed,#4747eb,#484ef1,#484df1,#4744e8,#484cef,#4755f6,#2896eb,#17bfb6,#3bc993,#0cb3d2,#4466fd,#484aee,#4747eb,#473fe2,#4537d6,#4332cb,#4230c3,#422fc2,#4536d4,#463de0,#4747eb,#406cfe,#347afd,#463ddf,#4743e7,#484bef,#4851f4)"></i><i style="left:35.10px;width:1.70px;background:linear-gradient(#3f6efe,#3777fe,#16aeda,#24c1af,#42ca8c,#febf3b,#f6f020,#d4bf28,#01b9c6,#465ffb,#4851f3,#4851f3,#4854f5,#4849ed,#463bdd,#4536d4,#463ee1,#4850f3,#4465fd,#4368fe,#475cfa,#484ff2,#484bef,#4853f5,#4851f3,#4746eb,#4850f3,#475bf9,#22a1e4,#33c69e,#62cd70,#03bbc2,#3f6eff,#4850f3,#484ff2,#4848ec,#463ee1,#4537d5,#4332c9,#4230c3,#4332c8,#463cdf,#4746ea,#4759f8,#4563fc,#4849ed,#4758f8,#4563fd,#4269fe)"></i><i style="left:36.50px;width:1.70px;background:linear-gradient(#4369fe,#3a73fe,#17aedb,#29c3aa,#45cb88,#f8ba3d,#f7dc2a,#9dc943,#15afd9,#4755f6,#4848ec,#484bef,#4852f4,#4848ec,#463bdd,#4538d8,#4741e4,#4757f7,#3e70ff,#3975fe,#4369fe,#475bf9,#4756f6,#475bf9,#4755f6,#4745e9,#484bee,#484ef1,#2c8ef2,#05b6ce,#1dc0b3,#1aabdd,#4562fc,#4848ec,#484cef,#4747eb,#4743e7,#4741e5,#4741e4,#473fe3,#4741e5,#484aee,#4850f2,#484df1,#484aee,#463bdd,#484df0,#4758f8,#4661fc)"></i><i style="left:37.91px;width:1.70px;background:linear-gradient(#3678fe,#2d89f5,#29c3aa,#97ca47,#cdc028,#f5e924,#f9fb15,#eeba34,#0abdbd,#465efb,#484bef,#484cf0,#4854f6,#4853f5,#4849ed,#4745e9,#4747eb,#4854f6,#4269fe,#406cfe,#4660fc,#4851f3,#4747eb,#4848ec,#4740e3,#422fc2,#473fe3,#4849ed,#2c8ef1,#04b6cc,#16bfb7,#21a3e3,#4853f4,#4434cf,#4433cd,#3e26a8,#3e26a8,#3e26a8,#3e26a8,#3e27a9,#402bb6,#4332c9,#4639d9,#3e26a8,#3e26a8,#3e26a8,#463adb,#4848ec,#4854f5)"></i><i style="left:39.31px;width:1.70px;background:linear-gradient(#3d71ff,#2f81fa,#07bcc0,#47cb87,#45cb88,#a2c83f,#b9c430,#31c5a1,#259ce7,#4746ea,#4639d9,#463cdf,#4744e8,#4537d7,#422ec0,#422fc0,#4538d8,#4850f2,#4466fd,#4466fd,#4755f6,#4743e7,#463cdf,#4744e8,#4745e9,#4742e6,#4850f3,#475af9,#249de6,#0fbeba,#2cc4a7,#1aabdd,#475af9,#4537d6,#4433cb,#3e26a8,#3e26a8,#3e26a8,#3e26a8,#3e26a8,#3e26a8,#422fc1,#4536d4,#402ab4,#3f28af,#4029b3,#4742e6,#484ff2,#4758f8)"></i><i style="left:40.72px;width:1.70px;background:linear-gradient(#3f6eff,#327cfc,#05b6ce,#33c79d,#37c897,#8ecb4f,#c0c32d,#5fcd73,#11b1d6,#4756f6,#4740e4,#473fe3,#4746ea,#4539d8,#422ebf,#412dbc,#4536d4,#484ff2,#4367fd,#4368fe,#4759f8,#4745e9,#4535d2,#463adc,#4435d0,#4331c7,#4746ea,#4853f5,#2797ea,#03b7cc,#0abdbd,#20a4e3,#4758f8,#4538d7,#4434ce,#3e27ab,#3e26a8,#3e26a8,#3e27a9,#412dbc,#4536d4,#4746ea,#484bef,#4331c6,#3f28ad,#3e26a8,#4536d4,#4744e8,#4851f3)"></i><i style="left:42.12px;width:1.70px;background:linear-gradient(#317dfc,#2d8cf3,#1dc0b3,#57cc7a,#43ca8b,#66cd6d,#78cc5f,#38c896,#18aedb,#4755f6,#4740e4,#4741e5,#484aee,#463cdf,#412ebe,#3f29b1,#4230c3,#484bef,#4369fe,#3b72fe,#416cfe,#475dfa,#4756f6,#484ff2,#4743e7,#4536d3,#4746ea,#484bef,#2e85f8,#259be7,#22a2e4,#2d8cf3,#4849ed,#402ab4,#3f28ae,#3e26a8,#3e26a8,#3e26a8,#402ab3,#4230c4,#4435d1,#4744e8,#484ff2,#463ddf,#4741e5,#4746ea,#475bf9,#416afe,#3a73fe)"></i><i style="left:43.52px;width:1.70px;background:linear-gradient(#2e84f9,#2c8ef1,#0ebebb,#3eca8f,#32c69e,#3bc992,#49cb85,#35c79a,#05b6ce,#4466fd,#4757f7,#4755f6,#4757f7,#484ef1,#473fe3,#463de0,#4742e6,#4854f5,#4367fd,#4367fd,#475cfa,#484cf0,#463de0,#463de0,#463bdc,#4536d5,#484aee,#484ef1,#2e85f8,#2796eb,#249ee6,#2b92ee,#4758f8,#4742e6,#4741e5,#43c,#4332ca,#4537d6,#463de0,#4742e6,#4743e7,#484cef,#484ff1,#4537d7,#4538d7,#463cde,#4756f7,#4269fe,#3974fe)"></i><i style="left:44.93px;width:1.70px;background:linear-gradient(#3f6eff,#3479fd,#17aedb,#09bcbe,#03b7cb,#02b7cb,#01b9c6,#05b6ce,#249ee6,#484bef,#4537d5,#4536d3,#463ee1,#4332c9,#3f28ae,#3f29b0,#412dbb,#4740e4,#4854f5,#4854f5,#4848ec,#4537d6,#3f28af,#3f28af,#3f28ad,#3e26a8,#4537d7,#473fe3,#3777fe,#2e86f7,#2d89f5,#3777fe,#463adb,#3e26a8,#3e26a8,#3e26a8,#3f28ae,#422fc2,#4433cb,#4331c7,#412dbb,#4330c5,#4536d3,#402ab4,#412cba,#412cba,#463cde,#484aed,#4853f5)"></i><i style="left:46.33px;width:1.70px;background:linear-gradient(#3a73fe,#2f81fa,#09b4d1,#1cc0b3,#01bac5,#03b7cc,#02b7cb,#07b5cf,#22a2e4,#4853f5,#4746eb,#4848ec,#484aee,#4538d8,#3f28ad,#3e26a8,#3f29b0,#4741e5,#4758f8,#4758f8,#484bef,#4538d7,#3e27aa,#3e27ab,#402ab3,#422ebf,#4744e9,#484aee,#2f81fa,#2d8df2,#2b91ef,#2e87f7,#4852f4,#4744e8,#4743e7,#422fc2,#3f29af,#3e26a8,#3e26a8,#3e26a8,#3e26a8,#412cb8,#4536d4,#412dbd,#422fc2,#422fc1,#4741e5,#4850f3,#475cfa)"></i><i style="left:47.74px;width:1.70px;background:linear-gradient(#3479fd,#2e84f9,#10b2d5,#06bcc0,#0ab4d1,#14b0d8,#16aeda,#1baade,#2994ed,#4743e7,#422ec0,#422fc1,#4639da,#412cb8,#3e26a8,#3e26a8,#3e26a8,#4538d8,#484df0,#484ef1,#4747eb,#4537d6,#3f28ad,#3e27ab,#402ab4,#412cb9,#473ee1,#4745e9,#327cfc,#2d89f5,#2b91ef,#2d8bf4,#4757f7,#4848ec,#4743e7,#4230c4,#412cb8,#402ab5,#412cba,#4330c5,#4433cd,#463ada,#463ee1,#412cba,#3f28ae,#3e26a8,#4537d5,#484cef,#475af9)"></i><i style="left:49.14px;width:1.70px;background:linear-gradient(#4562fc,#416bfe,#239fe5,#06b5cf,#03b7cc,#01b9c8,#01b9c7,#08b4d1,#269ae9,#4741e5,#412cb8,#402bb7,#4435d1,#402ab4,#3e26a8,#3e26a8,#3e26a8,#4538d7,#484bee,#484cef,#4746ea,#4435d1,#3e26a8,#3e26a8,#3e26a8,#3e26a8,#3f29b1,#4332c9,#4563fd,#416bfe,#406dfe,#4564fd,#4433cb,#3e26a8,#3e26a8,#3e26a8,#3e26a8,#3e26a8,#3e26a8,#3f28ae,#3e27ac,#3f29b1,#412cba,#3e26a8,#3e26a8,#3e26a8,#412ebe,#4741e4,#484ff2)"></i><i style="left:50.54px;width:1.70px;background:linear-gradient(#416bfe,#3a74fe,#21a3e3,#07b5cf,#07b5cf,#03b7cc,#01b8c9,#06b5cf,#23a0e5,#484bef,#4538d8,#463bdc,#4745e9,#463de0,#4536d3,#4536d3,#4536d2,#4848ec,#475bf9,#475af9,#4850f3,#463cde,#3f29b0,#3f28af,#3f28af,#3f29af,#4538d8,#4742e6,#317dfc,#2d89f5,#2c8ef2,#2e85f8,#484ef1,#463cde,#463bdd,#422ec0,#412cba,#412cb9,#412ebe,#4330c5,#4433cb,#4538d8,#4741e5,#4536d3,#4538d8,#463cdf,#4854f6,#465ffb,#426afe)"></i><i style="left:51.95px;width:1.70px;background:linear-gradient(#3f6fff,#3579fd,#1ca9e0,#01bac5,#02bac4,#04bbc1,#09bcbe,#04bbc2,#1da9e0,#4852f4,#463de0,#463bdd,#4742e6,#4536d3,#412ebd,#402ab5,#3e26a8,#4538d7,#4849ed,#484aee,#4747eb,#4538d7,#412dbc,#4332ca,#4536d3,#4537d5,#4746ea,#4746ea,#337afd,#2f80fa,#2f80fa,#3876fe,#4740e4,#412ebe,#422fc1,#3e26a8,#3e26a8,#3e26a8,#3f28ad,#402ab5,#412cbb,#4332c9,#463bdd,#4331c6,#422ebf,#402ab3,#4434cf,#4745ea,#4852f4)"></i><i style="left:53.35px;width:1.70px;background:linear-gradient(#3479fd,#2e86f7,#07b5d0,#20c1b1,#12beb9,#01b9c6,#0db3d3,#1ca9df,#2b91ef,#4742e6,#422ebe,#4331c7,#463de0,#402ab5,#3e26a8,#3e26a8,#3e26a8,#4536d3,#4854f5,#475bf9,#475bfa,#4853f5,#4741e5,#4742e6,#473fe3,#463adb,#4743e7,#4746ea,#317dfc,#2e86f7,#2d89f5,#2f80fa,#4848ec,#4432cb,#4536d3,#4230c4,#4332ca,#4435d1,#4538d8,#463adc,#463adc,#463bdd,#4740e4,#4433cb,#4332cb,#4434cd,#4747ec,#475af9,#4367fd)"></i><i style="left:54.76px;width:1.70px;background:linear-gradient(#4465fd,#3f6eff,#249ee6,#0eb2d4,#07b5d0,#03b7cc,#01b8c8,#04b6cd,#23a1e4,#484bee,#4433cd,#4435d0,#4740e4,#4536d4,#43c,#4435d1,#4536d3,#484cef,#4759f8,#4758f8,#4853f4,#4744e8,#4434ce,#4332ca,#422ebf,#402ab3,#43c,#463adb,#3876fe,#3080fa,#2e83f9,#337bfd,#4744e8,#4230c3,#4330c5,#3e27ab,#3e27aa,#402ab4,#422fc2,#4332ca,#4331c7,#422fc1,#4332ca,#3f28ae,#3f28af,#3f29b1,#4538d7,#484ef1,#475cfa)"></i><i style="left:56.16px;width:1.70px;background:linear-gradient(#4369fe,#3875fe,#1ea8e1,#01b9c8,#01b9c8,#01b8c9,#04b6cd,#12b1d7,#2796eb,#473fe2,#3f29b1,#412cba,#4538d7,#422fc2,#412cb9,#412cb8,#402ab3,#4537d7,#4848ec,#4746ea,#4741e5,#4331c7,#3f28ae,#412cba,#422ec0,#422ebe,#4537d6,#463cdf,#3b73fe,#327cfc,#307efb,#3876fe,#4740e4,#4331c8,#4536d4,#4230c3,#412ebe,#412cb8,#402bb6,#402bb6,#402bb7,#412cba,#4332c9,#3e27a9,#3e26a8,#3e26a8,#412cb8,#4742e6,#4853f5)"></i><i style="left:57.56px;width:1.70px;background:linear-gradient(#3579fd,#2f82fa,#18aedb,#08bcbf,#19bfb5,#29c3aa,#30c5a1,#2ac3a9,#0fb2d4,#475cfa,#4848ec,#4747eb,#484ff2,#463ddf,#4434d0,#43c,#43c,#4849ed,#475bf9,#475bfa,#4756f6,#4742e6,#412ebe,#402ab3,#3e27ac,#3f28ad,#4535d2,#4742e6,#317efb,#2d88f6,#2d8cf3,#2e87f7,#4756f7,#4851f3,#4758f8,#484cef,#4741e5,#4536d2,#422ebf,#402ab3,#3e27aa,#3e26a8,#402bb7,#3e26a8,#3f29b0,#422fc0,#4743e7,#4758f8,#4465fd)"></i><i style="left:58.97px;width:1.70px;background:linear-gradient(#347afd,#2e86f7,#0cb3d3,#0ebebb,#02bac4,#03b7cc,#09b4d1,#14b0d8,#259be8,#4849ed,#463adc,#4744e8,#4852f4,#473fe2,#4434cd,#422ebf,#4029b3,#4537d6,#484cef,#484ef1,#484cef,#463bdd,#412dbb,#412cb9,#412dbb,#4330c5,#4742e6,#484ff2,#2e84f9,#2d8bf3,#2d8cf3,#307ffb,#4742e6,#3f29b2,#3f29b0,#3e26a8,#3e26a8,#3e26a8,#3e26a8,#3e26a8,#402ab4,#4332c9,#4746ea,#4744e8,#4746ea,#4742e6,#484df0,#4757f8,#4563fd)"></i><i style="left:60.37px;width:1.70px;background:linear-gradient(#3777fe,#2e83f9,#13b0d7,#02bac3,#06b5cf,#14b0d8,#19addc,#1babde,#2699e9,#4747eb,#4435d1,#4536d3,#463de0,#422fc0,#402ab4,#402ab3,#3f29b0,#4537d6,#4849ed,#4849ed,#4746ea,#4535d2,#3f28ae,#3e27aa,#3e26a8,#3e26a8,#4230c3,#4536d4,#3f6dfe,#3c71ff,#406dfe,#465ffb,#412cb8,#3e26a8,#3e26a8,#3e26a8,#3e26a8,#3e26a8,#3e26a8,#3f28ad,#412cba,#4230c3,#4538d7,#422ebf,#402ab4,#3e26a8,#4230c3,#4743e7,#4852f4)"></i><i style="left:61.78px;width:1.70px;background:linear-gradient(#3b72ff,#317dfc,#1baadf,#03b7cc,#0bb3d2,#15afd9,#1babde,#21a3e3,#2d8bf4,#463adb,#3f28af,#4331c6,#4742e6,#4537d7,#4435d1,#4536d2,#4435d2,#4747eb,#4854f6,#4852f4,#484df0,#463de0,#4331c6,#4332c8,#4332ca,#4434ce,#4743e7,#4850f3,#2e85f8,#2d8df2,#2d8df2,#2f81fa,#4745e9,#422fc1,#4331c6,#412dbb,#422fc2,#4433cb,#4536d3,#4538d7,#4536d4,#4332ca,#4434cf,#3f29b1,#3f28ad,#3f29b1,#4538d8,#484ff2,#465efb)"></i><i style="left:63.18px;width:1.70px;background:linear-gradient(#3777fe,#2f81fa,#19addc,#01bac5,#01b9c6,#01b9c6,#01bac5,#03b7cc,#22a1e4,#484bef,#4535d2,#4537d5,#4742e7,#4536d4,#4435d1,#4538d7,#4538d7,#484aee,#4757f7,#4756f7,#4851f3,#473fe3,#422ebf,#402bb6,#3f28af,#3f28ad,#4332cb,#463bde,#3677fe,#2f81fa,#2e83f9,#3578fd,#473ee2,#402ab4,#412dbb,#3f28ae,#3e27aa,#3e26a8,#3e26a8,#3e26a8,#3e26a8,#3e26a8,#3f28ae,#3e26a8,#3e26a8,#3e26a8,#4433cb,#4849ed,#4759f8)"></i><i style="left:64.58px;width:1.70px;background:linear-gradient(#3b73fe,#317dfc,#1caadf,#04b6cd,#0cb3d3,#13b0d7,#15afd8,#17aeda,#259be8,#4849ed,#4537d6,#463adb,#4744e8,#4433cd,#412ebe,#412cba,#402bb6,#4639da,#484cef,#484df0,#4849ed,#4538d7,#402bb6,#3f29b2,#3f29b0,#402ab3,#4536d3,#4742e6,#327dfc,#2e87f7,#2d8cf3,#2e85f8,#484ef1,#463cde,#463cde,#43c,#4331c6,#422fc0,#412dbd,#412dbd,#422ec0,#422fc2,#4435d1,#3f29b2,#3e26a8,#3e26a8,#3f29b2,#4742e6,#4755f6)"></i><i style="left:65.99px;width:1.70px;background:linear-gradient(#3b72fe,#337bfd,#1fa5e2,#0ab4d2,#09b4d1,#07b5d0,#06b5cf,#0fb2d4,#259de7,#4848ec,#4331c8,#4332c9,#4538d8,#402ab4,#3e26a8,#3e28ac,#402bb7,#4741e5,#4756f6,#4757f7,#4854f5,#4746ea,#463adc,#473fe2,#4742e6,#4741e5,#484df0,#4755f6,#2d88f6,#2c90f0,#2b90f0,#2e85f8,#484aed,#4434d0,#4536d3,#422fc0,#402bb8,#3f28af,#3e26a8,#3e26a8,#3e26a8,#3e26a8,#3e27a9,#3e26a8,#3e26a8,#3e28ac,#4535d2,#484ef1,#465ffb)"></i><i style="left:67.39px;width:1.70px;background:linear-gradient(#3e6fff,#3479fd,#1ea7e1,#08b5d0,#0db3d3,#0fb2d5,#10b2d5,#18aedb,#2797eb,#4741e5,#422fc1,#4330c5,#4537d6,#3f29b1,#3e26a8,#3e26a8,#3e26a8,#4230c4,#4743e7,#4743e7,#473fe2,#412cbb,#3e26a8,#3e26a8,#3e26a8,#3e26a8,#402bb7,#4331c6,#426afe,#3b73fe,#3876fe,#416cfe,#4434cf,#3e26a8,#3e26a8,#3e26a8,#3e26a8,#412dbb,#4331c8,#4332ca,#422fc1,#402ab3,#402bb7,#3e26a8,#3e26a8,#3e26a8,#402bb7,#4741e4,#4851f3)"></i><i style="left:68.80px;width:1.70px;background:linear-gradient(#3a74fe,#317dfc,#1da8e0,#0bb3d2,#14b0d8,#16aeda,#13b1d7,#12b1d6,#249fe5,#484cf0,#4538d7,#4639da,#4743e7,#4435d0,#4331c8,#4332c9,#4331c6,#473fe3,#484ff2,#484df0,#4848ec,#4435d0,#3f28af,#3e27a9,#3e26a8,#3e26a8,#3e27ab,#422fc1,#3f6efe,#3579fd,#327cfc,#3975fe,#473fe2,#412dbd,#4433cd,#4331c6,#4330c5,#422ebf,#402ab5,#3e26a8,#3e26a8,#3e26a8,#3e27a9,#3e26a8,#3e26a8,#3f28af,#4537d5,#484ef1,#465dfa)"></i><i style="left:70.20px;width:1.70px;background:linear-gradient(#3777fe,#2f81fa,#1aabdd,#01b8c8,#01b8c9,#01b8c8,#01b9c8,#04b6cd,#22a2e4,#484ff1,#4539d9,#463cdf,#4849ed,#4639da,#4435d0,#4435d1,#4537d5,#484df0,#465dfa,#475cfa,#4854f6,#463ee1,#412dbb,#402bb6,#402bb6,#412dbd,#463cde,#4848ec,#2f83f9,#2d8af4,#2d8cf3,#2e83f9,#484aee,#4434d0,#4538d8,#4536d3,#463bdd,#4740e4,#4743e7,#4741e5,#463bdd,#4435d0,#4536d3,#402ab5,#3e27ab,#3e26a8,#4230c4,#484aee,#475cfa)"></i><i style="left:71.60px;width:1.70px;background:linear-gradient(#3b72ff,#337afd,#1fa6e2,#03b7cc,#01bac5,#09bcbe,#0fbeba,#03bbc2,#20a5e2,#484cef,#422ec0,#412cb8,#4332c9,#3e27a9,#3e26a8,#3e26a8,#3e27ab,#4537d7,#484ff1,#484ff2,#484cef,#463adc,#4332c9,#4537d6,#463cdf,#473fe3,#484bef,#4850f3,#2f82fa,#2e85f8,#2f82f9,#3677fe,#473fe3,#402bb6,#422fc1,#412cb8,#412dbd,#4230c3,#4433cb,#4536d4,#4539d9,#4539d9,#463ee1,#4331c7,#412cba,#3f29b0,#4433cd,#484bef,#475bf9)"></i><i style="left:73.01px;width:1.70px;background:linear-gradient(#3d71ff,#327bfc,#1ea8e1,#04b6cc,#05b6cd,#07b5d0,#0cb3d3,#16afda,#2698ea,#4745e9,#412dbd,#422fc2,#4537d6,#402ab5,#3e26a8,#3e26a8,#3e27a9,#4536d5,#484ef1,#484ef1,#484bee,#4536d5,#402cb8,#412cb9,#412cba,#422ebe,#463bdd,#4848ec,#2e84f9,#2d8df2,#2c90f0,#2d88f6,#484ff2,#463bdc,#463ddf,#4536d3,#4536d3,#4537d6,#463bdc,#4740e3,#4743e7,#4743e7,#4747eb,#4538d7,#4433cb,#422ec0,#4538d7,#484ef1,#465efb)"></i><i style="left:74.41px;width:1.70px;background:linear-gradient(#327cfc,#2e87f7,#0bb3d2,#1ac0b5,#1cc0b3,#1fc0b2,#21c1b0,#18bfb6,#15afd9,#475bfa,#4848ec,#4744e9,#4745e9,#412ebd,#3e26a8,#3e26a8,#3e26a8,#463ada,#4853f5,#4755f6,#4852f4,#473fe2,#4332c8,#4332ca,#4433cb,#43c,#463ee1,#4745e9,#327cfc,#3080fa,#307ffb,#3975fe,#473fe2,#422ebe,#4537d5,#4537d5,#4539d9,#4537d5,#4433cb,#422fc1,#412cba,#412dbb,#4536d3,#4433cb,#4537d5,#463bdc,#484ef1,#4660fb,#3f6eff)"></i><i style="left:75.82px;width:1.70px;background:linear-gradient(#3876fe,#3080fa,#19addc,#07bcbf,#10beba,#14bfb8,#11beb9,#02bac4,#1fa5e2,#484ff2,#4536d5,#463adb,#484aed,#473fe3,#4740e4,#4744e8,#4745ea,#4758f8,#4561fc,#475bf9,#4850f3,#4538d8,#412dbb,#4330c5,#4434ce,#4537d6,#4746eb,#4852f4,#2d8af5,#2b92ee,#2a93ee,#2d88f6,#484df0,#4537d5,#463bdd,#4539d9,#473ee1,#4745e9,#484bef,#484df0,#4849ed,#4741e5,#4740e4,#4332c8,#422ebf,#412dbb,#463ada,#4852f4,#4562fc)"></i><i style="left:77.22px;width:1.70px;background:linear-gradient(#3d70ff,#327cfc,#1babde,#01b9c8,#03b7cb,#08b4d1,#10b2d5,#19addc,#2796eb,#4741e5,#402ab4,#3f28af,#412cb8,#3e26a8,#3e26a8,#3e26a8,#3e26a8,#412dbc,#4746ea,#4849ed,#4848ec,#4538d7,#412cb9,#412cba,#412dbb,#412ebe,#463adb,#4747eb,#3080fb,#2d89f5,#2d8cf3,#2f80fa,#4743e7,#3f29b2,#3e26a8,#3e26a8,#3e26a8,#3e26a8,#3e26a8,#3e26a8,#3e26a8,#3e26a8,#402bb7,#3e27a9,#3e26a8,#3e26a8,#422ebf,#4744e8,#4855f6)"></i><i style="left:78.62px;width:1.70px;background:linear-gradient(#416bfe,#3d70ff,#269ae9,#1baade,#18addb,#11b2d5,#05b6ce,#03b7cc,#1fa6e2,#4853f5,#473fe2,#4742e6,#484ff2,#473ee2,#4538d7,#4435d1,#43c,#4745e9,#4758f8,#4758f8,#4854f6,#4744e8,#4536d4,#4538d7,#4639d9,#4639d9,#4742e6,#4744e8,#3678fe,#327bfc,#317dfb,#3579fd,#4746ea,#4536d3,#463ddf,#4537d6,#4434cf,#4331c6,#4230c3,#4332c9,#4536d4,#4639da,#4741e5,#4434cf,#4230c4,#412ebe,#463bdd,#4854f5,#4464fd)"></i><i style="left:80.03px;width:1.70px;background:linear-gradient(#4563fc,#4269fe,#2895ec,#1ea7e1,#1baade,#16afd9,#0eb3d4,#11b1d6,#259be8,#4744e8,#4330c5,#4433cd,#473fe3,#4433cd,#4330c5,#422ebf,#3f29b2,#43c,#4742e7,#4742e6,#4740e4,#4432cb,#402bb6,#412ebe,#422fc1,#422fc0,#4538d7,#4740e3,#3777fe,#3080fb,#2f82fa,#3579fd,#4740e4,#422ebf,#4230c3,#3f29b1,#3e27aa,#3e26a8,#3e26a8,#3e26a8,#3e26a8,#3f28ad,#422fc0,#3e27ab,#3e26a9,#3e27a9,#4332ca,#4745e9,#4852f4)"></i><i style="left:81.43px;width:1.70px;background:linear-gradient(#3776fe,#307ffb,#1da8e0,#10b2d5,#1aacdd,#1da8e0,#1ea7e1,#1fa6e2,#2994ed,#4745e9,#4535d2,#463cdf,#484bee,#463cde,#4538d8,#4538d7,#4434ce,#473fe2,#484bef,#4847ec,#4742e6,#422fc0,#3e26a8,#3e26a8,#3e27a9,#3e27aa,#422fc2,#4434cf,#3f6eff,#3776fe,#337bfc,#3876fe,#4742e6,#4332ca,#4538d7,#43c,#4331c7,#422ebf,#412cb9,#412cb9,#412dbd,#4230c3,#4538d8,#4331c6,#412ebd,#3f29b2,#4332cb,#4747eb,#4756f7)"></i><i style="left:82.84px;width:1.70px;background:linear-gradient(#3e70ff,#337bfd,#1baadf,#02bac4,#08bcbf,#12beb9,#19bfb5,#0cbdbc,#1ca9df,#484ff2,#463bdc,#4639da,#4741e5,#4331c7,#412cb9,#402bb8,#402cb8,#463cdf,#484df0,#484aee,#4742e6,#412cba,#3e26a8,#3e26a8,#3e26a8,#3e26a8,#3f29b1,#4331c8,#406cfe,#3776fe,#347afd,#3d71ff,#463adc,#402ab4,#422fc2,#412dbd,#422fc1,#422fc2,#412ebd,#402bb6,#3f29b1,#3f29b0,#4331c6,#412cb9,#422ebe,#4230c4,#4740e3,#4851f3,#465ffb)"></i><i style="left:84.24px;width:1.70px;background:linear-gradient(#3c71ff,#3578fd,#23a0e5,#1aabdd,#1da9e0,#1baade,#14b0d8,#0bb4d2,#1fa6e2,#4757f7,#4848ec,#484df0,#4755f6,#473fe2,#4434d0,#4331c6,#422fc2,#4740e4,#4853f5,#4851f3,#4849ed,#4230c3,#3e26a8,#3e26a8,#402bb6,#4230c3,#463de0,#4848ec,#2e83f9,#2d8bf3,#2d8df2,#2e84f9,#4848ec,#4331c7,#4434d0,#4433cd,#4538d8,#463cde,#463cde,#4539d9,#4535d2,#43c,#4539d9,#4331c6,#4230c4,#4230c4,#4740e3,#4757f7,#4368fd)"></i><i style="left:85.64px;width:1.70px;background:linear-gradient(#2e84f9,#2b91ef,#06bcc0,#30c5a1,#2ac3a9,#1dc0b3,#0cbdbc,#01b8c9,#22a2e4,#484bef,#4331c7,#4332c9,#463ddf,#4433cd,#4435d0,#4538d7,#4536d5,#4744e9,#4853f5,#484ff2,#4849ed,#4434d0,#412cba,#4331c7,#4435d1,#4536d4,#473fe2,#4743e7,#347afd,#317efb,#307efb,#3777fe,#4742e6,#422ec0,#4332c9,#402bb7,#3e27ab,#3e26a8,#3e26a8,#3e26a8,#3e26a8,#3e27aa,#4331c7,#412dbc,#422ebf,#422fc1,#463ee1,#4755f6,#4465fd)"></i><i style="left:87.05px;width:1.70px;background:linear-gradient(#406cfe,#3974fe,#23a0e5,#14b0d8,#15afd9,#17aeda,#19acdc,#1ea7e1,#2c90f0,#463de0,#3f29b0,#412dbd,#4538d8,#412ebe,#402bb8,#412cb9,#402ab5,#4538d7,#484bee,#484aee,#4745e9,#4330c5,#3e26a8,#3e26a8,#3e26a8,#3e26a8,#402bb7,#4332c8,#3f6eff,#3777fe,#337afd,#3b72ff,#463bdd,#3e26a9,#3f28af,#3e26a8,#3e26a8,#3e26a8,#3f28ae,#412cbb,#4330c5,#43c,#463bdc,#43c,#4332c8,#4230c4,#463cde,#4850f2,#465efb)"></i><i style="left:88.45px;width:1.70px;background:linear-gradient(#3678fd,#2e83f9,#13b0d7,#15bfb7,#22c1af,#2bc3a8,#2fc5a3,#26c2ac,#10b2d5,#475cfa,#4848ec,#4848ec,#4851f3,#463de0,#4536d4,#4434d0,#4433cd,#4747ec,#475cfa,#465efb,#4759f8,#4745e9,#4433cb,#4330c5,#4230c3,#4230c3,#463adb,#4744e8,#2f80fa,#2d89f6,#2d8af4,#3080fa,#4745e9,#412cba,#422fc0,#402bb8,#422ebf,#4330c5,#4330c5,#412ebe,#402ab4,#3f28ae,#422ebf,#3f28ae,#3f28ad,#3e27ab,#4433cb,#484df0,#465efb)"></i><i style="left:89.86px;width:1.70px;background:linear-gradient(#337bfc,#2f83f9,#19acdc,#01b8ca,#04b6cd,#05b6ce,#07b5d0,#14b0d8,#2698ea,#4744e8,#4331c6,#4434cf,#463ee1,#422fc1,#3f29b2,#3f29af,#402ab3,#473ee1,#4755f6,#475af9,#4757f7,#4849ed,#4536d2,#4433cd,#4434ce,#4537d5,#4747eb,#4853f5,#2e87f7,#2c8ef1,#2c8ef1,#2e83f9,#4747eb,#4332ca,#4433cd,#412dbc,#402bb6,#3e27ab,#3e26a8,#3e26a8,#3e27ab,#402bb7,#4535d2,#4332ca,#4434cf,#4434cf,#4741e5,#4852f4,#465ffb)"></i><i style="left:91.26px;width:1.70px;background:linear-gradient(#3678fd,#2f82f9,#16aeda,#04bbc2,#02bbc3,#02bac4,#02bac4,#01b9c6,#1aabdd,#475bfa,#4851f3,#484ff2,#4850f2,#43c,#3e27a9,#3e26a8,#3e26a8,#4433cd,#484ff2,#4853f5,#4851f3,#473fe3,#422fc3,#412dbc,#402bb7,#402bb6,#4435d1,#463de0,#3579fd,#2f82fa,#2e83f9,#3579fd,#463de0,#3e26a8,#3e26a8,#3e26a8,#3e26a8,#3e26a8,#3e26a8,#3e26a8,#3e26a8,#3e26a8,#402ab3,#3e26a8,#3e26a8,#3f28ad,#4537d6,#4851f3,#4561fc)"></i><i style="left:92.66px;width:1.70px;background:linear-gradient(#426afe,#3875fe,#20a5e3,#06b5cf,#07b5d0,#0db3d3,#11b1d6,#17aeda,#269ae9,#4746ea,#422fc0,#4330c5,#463cdf,#4434ce,#4435d1,#4538d7,#4536d5,#4746ea,#4854f6,#4853f5,#484ff2,#463ee1,#4332c9,#4332ca,#4433cb,#4434cf,#4741e5,#4849ed,#317dfc,#2f80fa,#307ffb,#3876fe,#4740e4,#4230c4,#4435d0,#422ebf,#3f29b2,#3e26a8,#3e26a8,#3e26a8,#3e26a8,#3e26a8,#412dbd,#3f29b2,#422ebf,#4435d0,#484cef,#465efb,#406dfe)"></i><i style="left:94.07px;width:1.70px;background:linear-gradient(#3776fe,#2f81fa,#15afd8,#0abdbe,#08bcbf,#02bac4,#04b6cd,#19acdc,#2c8ff1,#4538d8,#3e26a8,#3f28af,#4435d2,#412cba,#402ab4,#402ab5,#402bb6,#463cde,#484ff2,#4850f2,#484bef,#4538d7,#402ab4,#3f28ae,#3e27aa,#3e27ab,#4332c9,#463adb,#3a73fe,#337bfd,#317dfc,#3975fe,#473fe3,#422ec0,#4332ca,#422ebf,#422ebf,#412dbd,#402bb6,#3e27ab,#3e26a8,#3e26a8,#412dbb,#3f29b2,#412cb8,#412dbc,#463cde,#4851f3,#4660fc)"></i><i style="left:95.47px;width:1.70px;background:linear-gradient(#3a73fe,#307ffb,#18addb,#03bbc3,#01bac5,#01b8c9,#04b6cd,#11b2d5,#269ae8,#4746ea,#422fc2,#4434ce,#4743e7,#4539d9,#4536d4,#4434cf,#422fc0,#4538d7,#484aee,#484aed,#4848ec,#463ada,#4432cb,#4536d4,#4538d7,#4538d7,#4744e8,#484df1,#2e84f8,#2d8cf3,#2d8cf3,#2f82fa,#4747eb,#4331c8,#4433cd,#422ebf,#412dbc,#402bb7,#3f29b1,#3f28ad,#3e27ab,#3e26a8,#402bb7,#3e26a8,#3e26a8,#3e26a8,#422fc1,#484bee,#465dfb)"></i><i style="left:96.88px;width:1.70px;background:linear-gradient(#3777fe,#307ffb,#1ea8e1,#07b5d0,#0ab4d1,#0cb3d3,#0ab4d2,#0cb3d3,#21a3e3,#4853f5,#473fe2,#4742e6,#484bee,#4537d5,#422fc1,#402bb7,#3f28ae,#4536d3,#484ef1,#4850f2,#484ef1,#463cdf,#4330c5,#422fc2,#412dbd,#412dbb,#4537d6,#4741e5,#317efb,#2e86f7,#2d88f6,#2f80fa,#4849ed,#4432cb,#4435d1,#422fc2,#412ebe,#412cba,#402bb7,#402ab4,#3f29b1,#3f29b0,#422fc2,#3f29b1,#3f29b2,#402ab4,#4537d6,#4851f3,#4660fc)"></i><i style="left:98.28px;width:1.70px;background:linear-gradient(#3776fe,#2f80fa,#1aacdd,#03b7cc,#08b4d1,#0ab4d1,#06b5cf,#08b4d1,#22a1e4,#484bef,#4536d3,#4536d2,#473ee1,#4332c8,#4230c4,#4331c6,#4331c6,#4742e7,#4755f6,#4757f7,#4755f6,#4849ed,#4536d2,#4330c5,#402bb7,#402ab3,#4435d1,#4742e6,#327cfc,#2e84f9,#2e83f9,#3776fe,#463cde,#3e27ac,#402ab3,#3e26a8,#3e26a8,#3e26a8,#3e26a8,#3e26a8,#3e27a9,#3f29b2,#4433cb,#412dbd,#412dbc,#412dbb,#4639d9,#484df1,#475cfa)"></i><i style="left:99.68px;width:1.70px;background:linear-gradient(#3e6fff,#3579fd,#1fa6e2,#01b8ca,#04bbc2,#12beb9,#1ec0b2,#17bfb6,#16aeda,#475af9,#484aee,#4851f4,#4562fc,#4854f5,#484df1,#4849ed,#4744e8,#4757f7,#4563fd,#4464fd,#4660fc,#4853f5,#4740e4,#463cde,#4538d8,#4536d3,#4740e4,#4849ed,#2f81fa,#2d88f6,#2d88f6,#307ffb,#4747eb,#4433cd,#4538d7,#43c,#4433cb,#4433cb,#4434ce,#4435d0,#4434cf,#4332ca,#4537d6,#422fc2,#422fc1,#422fc0,#463cde,#4853f5,#4563fd)"></i><i style="left:101.09px;width:1.70px;background:linear-gradient(#3579fd,#2e85f8,#0cb3d3,#16bfb7,#11beba,#08bcbf,#01b9c6,#0fb2d4,#2797ea,#473fe2,#3e26a8,#3e26a8,#402ab4,#3e26a8,#3e26a8,#412ebe,#4435d0,#484ef1,#465dfa,#475cfa,#4854f5,#473fe3,#422ec0,#412dbb,#402bb8,#402ab4,#4331c8,#4537d7,#3974fe,#3080fb,#2e86f7,#2f82fa,#484cef,#463cdf,#4741e5,#463adc,#4536d3,#4230c3,#3f29b2,#3e27ab,#3f29b2,#422fc0,#463cde,#4537d6,#4537d6,#4435d1,#4742e6,#4853f5,#4661fc)"></i><i style="left:102.49px;width:1.70px;background:linear-gradient(#3777fe,#2f81fa,#16aeda,#16bfb7,#28c2ab,#2cc4a6,#26c2ad,#06bcc0,#21a4e3,#484df0,#4435d1,#4639da,#4848ec,#463cdf,#463bdd,#463ee1,#473fe3,#4756f6,#4465fd,#4466fd,#4561fc,#4853f5,#4743e7,#4743e7,#4742e6,#473fe3,#4849ed,#4850f3,#2e87f7,#2c8ff0,#2b92ee,#2d89f5,#484ff1,#4434cf,#4331c7,#3e28ac,#3e26a8,#3f28af,#422fc1,#4536d4,#463cdf,#463cde,#473ee1,#4230c4,#412cba,#412dbb,#473fe2,#475af9,#406dfe)"></i><i style="left:103.90px;width:1.70px;background:linear-gradient(#3579fd,#2e84f8,#11b1d5,#10beba,#0cbdbc,#07bcc0,#03bbc2,#01b8c9,#20a4e3,#4850f2,#4639da,#463bdc,#4747eb,#4538d7,#4432cb,#422ebf,#3f28af,#4332c8,#4744e9,#4743e7,#4741e4,#422fc2,#3f28af,#412cb9,#412dbc,#412dbb,#4435d0,#463bdc,#3777fe,#2f81fa,#2d89f5,#2e87f7,#4853f5,#4746ea,#4747eb,#463de0,#463adb,#4537d6,#4434cd,#422fc1,#402ab4,#3e27ab,#412dbb,#3e27ab,#3f28af,#3f29b0,#4434cf,#484bef,#475bf9)"></i><i style="left:105.30px;width:1.70px;background:linear-gradient(#3f6eff,#3479fd,#1ea7e1,#01b9c8,#03bbc3,#0bbdbd,#17bfb6,#19bfb6,#0fb2d5,#465ffb,#484ef1,#4849ed,#484cf0,#4537d6,#4331c8,#4331c6,#4332c9,#4747eb,#475af9,#475bf9,#4756f6,#4743e7,#43c,#4331c8,#4330c5,#4331c6,#473ee1,#484df1,#2d88f6,#2a93ee,#2895ec,#2d89f5,#484bee,#422fc0,#402bb7,#3e26a8,#3e26a8,#3f29b0,#402bb7,#412cba,#412cb9,#402bb7,#4332c9,#402bb6,#3f29b1,#3e26a8,#422fc1,#4746ea,#4756f7)"></i><i style="left:106.70px;width:1.70px;background:linear-gradient(#3a74fe,#307ffb,#1aacdd,#01b9c6,#01b9c7,#01b9c7,#01b9c8,#07b5cf,#249fe6,#4849ed,#4332ca,#4536d3,#4742e6,#4535d2,#4433cd,#4435d1,#4536d4,#484bee,#475bf9,#4759f8,#4852f4,#463cde,#412cb8,#402ab5,#402bb7,#412dbc,#4538d7,#4741e5,#317dfc,#2e86f7,#2d89f5,#317efb,#4741e5,#3e27a9,#3e26a8,#3e26a8,#3e26a8,#3e26a8,#3e27ab,#3e28ac,#3f29b2,#412cba,#4536d4,#4332ca,#4434cd,#4434cf,#4744e8,#4757f7,#4466fd)"></i><i style="left:108.11px;width:1.70px;background:linear-gradient(#3e6fff,#337afd,#1caadf,#03bbc2,#0cbdbc,#10beba,#0cbdbc,#01b8c8,#249fe5,#4745e9,#402ab5,#402bb7,#4435d1,#402bb6,#3f28ad,#3e27ab,#3e26a8,#4434d0,#484aed,#4849ed,#4745e9,#4331c8,#3f29b2,#412dbc,#4330c5,#4433cb,#463ee1,#4745ea,#327bfc,#3080fb,#2f80fa,#3579fd,#4743e7,#422fc1,#422fc0,#3e26a8,#3e26a8,#3e26a8,#3f29b1,#422fc2,#4434cf,#4538d8,#4745e9,#473fe2,#4740e4,#4740e3,#484ef1,#475af9,#4466fd)"></i><i style="left:109.51px;width:1.70px;background:linear-gradient(#416bfe,#3c71ff,#259be8,#1da8e0,#1fa6e1,#1da8e0,#1aacdd,#1aabdd,#2995ec,#463de0,#3e26a8,#3e26a8,#412dbd,#3e26a8,#3e26a8,#3e26a8,#3f28af,#463bde,#484ff2,#484df1,#4746ea,#4332c8,#3e26a8,#3f28ad,#402ab4,#402bb7,#43c,#4538d8,#3d70ff,#3677fe,#3578fd,#3f6dfe,#4536d5,#3e26a8,#402bb6,#402ab5,#422ebf,#4330c5,#4331c6,#422fc2,#412cb9,#3f28ad,#402ab4,#3e26a8,#3e26a8,#3e26a8,#3f28af,#4740e4,#4852f4)"></i><i style="left:110.92px;width:1.70px;background:linear-gradient(#3875fe,#317dfc,#1ea7e1,#03b7cc,#01bac5,#0bbdbd,#18bfb6,#12beb9,#18aedb,#4757f7,#463bdc,#43c,#43c,#3e26a8,#3e26a8,#3e26a8,#3e26a8,#4538d7,#4851f3,#4852f4,#484ef1,#4538d8,#412cb9,#412cb9,#412dbc,#422fc1,#463adb,#4743e7,#317dfc,#2f82f9,#2f82f9,#3678fd,#473ee1,#3e26a8,#3e27aa,#3e26a8,#3e26a8,#3e26a8,#3f29b1,#422fc1,#43c,#4535d2,#473fe2,#4539d8,#463adb,#4639da,#4848ec,#4759f9,#4367fd)"></i><i style="left:112.32px;width:1.70px;background:linear-gradient(#3d70ff,#3677fe,#22a1e4,#17aeda,#19addc,#19addc,#18aedb,#1babde,#2994ed,#463ee1,#3e27aa,#3e26a8,#412cb8,#3e26a8,#3e26a8,#3e26a8,#3e26a8,#412ebd,#4747eb,#484bee,#4848ec,#4435d2,#3f29b0,#3e27ac,#3e26a8,#3e26a8,#3f29b2,#422ec0,#4367fd,#3e6fff,#3a73fe,#406cfe,#4536d3,#3e26a8,#3e26a8,#3e26a8,#3e26a8,#3e26a8,#3e26a8,#3e26a8,#3e26a8,#3e27aa,#4230c4,#402bb6,#402bb6,#402ab3,#4435d1,#4849ed,#4757f7)"></i><i style="left:113.72px;width:1.70px;background:linear-gradient(#3876fe,#307efb,#20a4e3,#10b2d5,#10b2d5,#0fb2d4,#0cb3d3,#13b0d8,#259be8,#484ef1,#4435d0,#4433cd,#463adc,#422fc2,#412cb9,#422fc1,#4330c5,#4745ea,#4757f7,#4756f6,#484ff2,#4537d6,#3e26a8,#3e26a8,#3e26a8,#3e27ab,#43c,#463cde,#3b72fe,#337bfc,#307ffb,#337bfd,#484aee,#4539d9,#463cde,#4331c6,#412dbb,#3f29b0,#3e26a8,#3e26a8,#3e26a8,#3e26a8,#402bb6,#3e26a8,#3e26a8,#3e26a8,#4434cf,#484df0,#475cfa)"></i><i style="left:115.13px;width:1.70px;background:linear-gradient(#406cfe,#3d71ff,#2d8cf3,#2797ea,#2797eb,#2995ec,#2b91ef,#2d8af5,#3479fd,#484bee,#463cdf,#4742e6,#484df0,#4740e4,#4433cb,#422fc0,#4434ce,#484aee,#475bf9,#465dfa,#4759f9,#484aed,#422ebe,#412dbb,#402bb7,#3f28af,#473fe2,#4747eb,#426afe,#3e6fff,#3c71ff,#416cfe,#484aee,#4434cf,#4536d4,#402bb8,#3e27a9,#402ab4,#422fc1,#4434ce,#463adb,#4848ec,#484cef,#43c,#422fc1,#412dbc,#4849ed,#475af9,#4466fd)"></i><i style="left:116.53px;width:1.70px;background:linear-gradient(#4464fd,#4367fd,#337afd,#2f82f9,#2f82fa,#2f82fa,#2f83f9,#2e83f9,#337bfd,#4758f8,#4849ed,#4849ed,#484ff2,#4744e8,#4538d8,#4537d5,#4740e4,#4854f5,#4464fd,#4466fd,#4661fc,#4850f3,#4536d3,#4330c5,#4331c7,#4331c7,#484aed,#4850f2,#416bfe,#3d70ff,#3974fe,#3a74fe,#475cfa,#4850f2,#4755f6,#484df0,#463ee1,#4536d2,#4332ca,#4331c6,#4332c9,#4539d9,#4740e3,#402bb8,#3e26a8,#3e27ac,#4743e8,#4853f5,#465ffb)"></i><i style="left:117.94px;width:1.70px;background:linear-gradient(#4465fd,#4368fe,#3875fe,#327cfc,#317dfc,#327cfc,#337afd,#3776fe,#3f6efe,#4854f6,#4849ed,#484df0,#4854f5,#484bee,#463ee1,#463cdf,#4848ec,#465ffb,#3b73fe,#3a74fe,#4269fe,#4755f6,#4537d5,#412dbb,#4331c7,#4536d4,#4759f8,#4562fc,#337bfd,#317dfc,#327cfc,#3677fe,#465ffb,#4850f3,#4854f5,#4848ec,#4742e6,#4744e8,#4849ed,#484df1,#4850f3,#4850f3,#4852f4,#463de0,#4435d0,#4434cf,#484df0,#4759f8,#4563fd)"></i><i style="left:119.34px;width:1.70px;background:linear-gradient(#406cfe,#416bfe,#3e6fff,#3e6fff,#3e6fff,#3c72ff,#3777fe,#337bfc,#3579fd,#4563fd,#4755f6,#4852f4,#4756f7,#484ff1,#4744e8,#4741e5,#4747eb,#4759f8,#416bfe,#3e6fff,#4368fe,#4758f8,#463de0,#412dbc,#412dbd,#4331c7,#4854f5,#475cfa,#3b72ff,#3678fd,#327cfc,#337bfd,#4367fd,#475bfa,#4661fc,#4757f7,#4851f4,#4851f3,#4853f5,#4854f5,#4851f3,#4756f7,#4758f8,#4747eb,#473fe3,#4740e3,#4755f6,#465ffb,#4466fd)"></i><i style="left:120.74px;width:1.70px;background:linear-gradient(#4465fd,#4466fd,#406dfe,#3c71ff,#3b72fe,#3b72fe,#3c71ff,#3f6eff,#4269fe,#475af9,#4851f3,#4853f5,#4759f8,#4854f5,#484df0,#484cf0,#4755f6,#4368fd,#347afd,#337bfc,#3d70ff,#465efb,#4745e9,#412cba,#3f29b2,#422fc0,#484bef,#4850f3,#4660fb,#4563fc,#4466fd,#4368fe,#465dfa,#4757f7,#465ffb,#4756f7,#4849ed,#4742e6,#473fe3,#463ee1,#4741e5,#484bef,#4853f5,#484aee,#4848ec,#484aee,#475bf9,#4563fc,#4368fe)"></i><i style="left:122.15px;width:1.70px;background:linear-gradient(#4466fd,#4368fe,#406dfe,#3f6fff,#3f6fff,#3f6eff,#3f6efe,#406cfe,#4369fe,#475bfa,#4852f4,#4852f4,#4756f6,#4850f3,#4849ed,#4848ec,#484ef1,#465efb,#3d70ff,#3a74fe,#426afe,#475bf9,#4747eb,#422fc2,#412ebe,#4539d9,#484ff2,#4851f3,#475bfa,#465efb,#4562fc,#4465fd,#465efb,#475bf9,#4367fd,#465efb,#484cf0,#4745e9,#4742e6,#4742e6,#4744e8,#4849ed,#484df0,#4744e8,#4743e7,#4747eb,#4757f7,#465ffb,#4564fd)"></i><i style="left:123.55px;width:1.70px;background:linear-gradient(#475bf9,#475bf9,#475cfa,#465dfb,#465efb,#4660fb,#4660fb,#465ffb,#475dfa,#4853f5,#484aee,#4849ed,#484aee,#4744e8,#473ee2,#4740e3,#484aed,#475cfa,#3f6dfe,#3f6efe,#4660fb,#484ef1,#463bdc,#3e26a8,#3e26a8,#4331c6,#4848ec,#484cf0,#4757f7,#4758f8,#475af9,#475cfa,#4755f6,#4854f5,#4465fd,#465ffb,#484bee,#4744e8,#4741e5,#4740e4,#4743e7,#4849ed,#484df0,#4744e8,#4740e3,#4740e4,#484df0,#4853f5,#4758f8)"></i><i style="left:124.96px;width:1.70px;background:linear-gradient(#4465fd,#4367fd,#426afe,#416bfe,#426afe,#4367fd,#4563fd,#4660fb,#465dfa,#4756f7,#4851f3,#4850f3,#4851f3,#484bef,#4745e9,#4745e9,#484ef1,#4561fc,#3579fd,#2f80fa,#3876fe,#4563fd,#4850f3,#463adb,#4434ce,#4745e9,#4757f7,#4758f8,#475cfa,#4758f8,#4756f7,#4757f7,#4852f4,#4854f6,#406dfe,#4368fd,#4850f3,#484bef,#484cef,#484df1,#4850f3,#4756f7,#475af9,#4852f4,#484ef1,#484cf0,#4854f5,#4757f7,#475bf9)"></i><i style="left:126.36px;width:1.70px;background:linear-gradient(#4369fe,#416bfe,#406dfe,#406dfe,#416bfe,#4368fe,#4466fd,#4465fd,#4466fd,#4563fd,#4660fc,#4660fb,#465efb,#4756f7,#484ef1,#484cf0,#4854f5,#4367fd,#327cfc,#2f81fa,#3876fe,#4466fd,#4757f7,#4746ea,#463ee1,#484aee,#4759f8,#475cfa,#4563fd,#4562fc,#4660fb,#475dfa,#4854f6,#4756f7,#3975fe,#3b72fe,#4757f7,#4851f4,#4852f4,#4853f4,#4756f6,#475bf9,#465efb,#4756f7,#4851f4,#4851f3,#475af9,#4660fb,#4464fd)"></i><i style="left:127.76px;width:1.70px;background:linear-gradient(#475cfa,#475cfa,#465efb,#4562fc,#4367fd,#426afe,#416bfe,#4368fe,#4563fc,#4759f8,#4852f4,#4853f5,#4759f8,#475cfa,#475cfa,#465dfa,#4660fc,#416bfe,#337bfd,#317efb,#3a74fe,#4466fd,#475bf9,#4852f4,#4850f3,#475cfa,#4368fe,#416cfe,#3b72ff,#3c72ff,#3e6fff,#416bfe,#4661fc,#4562fc,#2e83f9,#327cfc,#4757f7,#484ff2,#4851f3,#4755f6,#475af9,#4660fc,#4563fc,#475dfa,#475af9,#475af9,#4563fc,#4367fd,#4269fe)"></i><i style="left:129.17px;width:1.70px;background:linear-gradient(#465efb,#465efb,#4660fb,#4563fc,#4465fd,#4465fd,#4562fc,#465ffb,#475cfa,#4757f7,#4854f5,#4755f6,#4757f7,#4755f6,#4853f5,#4755f6,#475bf9,#4367fd,#3974fe,#3975fe,#426afe,#465ffb,#4758f8,#4853f5,#4851f3,#4755f6,#475af9,#475af9,#465efb,#465ffb,#4561fc,#4563fd,#4561fc,#4269fe,#2b92ee,#2d8cf3,#4660fb,#4854f5,#4852f4,#4851f3,#4852f4,#4756f7,#4759f8,#4756f7,#4755f6,#4756f6,#475cfa,#4660fb,#4562fc)"></i><i style="left:130.57px;width:1.70px;background:linear-gradient(#4465fd,#4562fc,#4660fc,#465efb,#475cfa,#475dfa,#465ffb,#4464fd,#426afe,#416cfe,#406dfe,#3e6fff,#3d70ff,#416cfe,#4466fd,#4563fc,#4464fd,#406dfe,#3579fd,#327cfc,#3875fe,#406cfe,#4465fd,#465efb,#475cfa,#465ffb,#4466fd,#4368fd,#416bfe,#426afe,#4368fe,#4466fd,#4563fc,#406cfe,#2699e9,#2896eb,#426afe,#465ffb,#4660fc,#4563fc,#4466fd,#4368fd,#4367fd,#4661fc,#465ffb,#4562fc,#426afe,#406dfe,#3f6dfe)"></i><i style="left:131.98px;width:1.70px;background:linear-gradient(#4562fc,#4561fc,#4660fc,#4660fc,#4660fc,#4561fc,#4562fc,#4562fc,#4562fc,#465ffb,#475bf9,#475af9,#475af9,#4758f8,#4755f6,#4755f6,#4759f9,#4564fd,#3d71ff,#3777fe,#3974fe,#3f6dfe,#4367fd,#4561fc,#465dfb,#465efb,#4561fc,#4561fc,#4563fd,#4562fc,#4660fb,#465efb,#475cfa,#4368fe,#2699e9,#2797eb,#4369fe,#475cfa,#475bfa,#475cfa,#465ffb,#4464fd,#4368fe,#4466fd,#4563fc,#4660fc,#4563fc,#4564fd,#4465fd)"></i><i style="left:133.38px;width:1.70px;background:linear-gradient(#4563fc,#4464fd,#4367fd,#426afe,#416bfe,#416bfe,#4369fe,#4465fd,#4562fc,#465dfb,#475bf9,#465efb,#4563fd,#4367fd,#4367fd,#4367fd,#4466fd,#4367fd,#426afe,#4269fe,#4564fd,#465efb,#475bf9,#475af9,#475cfa,#4660fc,#4367fd,#4269fe,#406cfe,#416bfe,#426afe,#4269fe,#4465fd,#3f6eff,#269ae8,#2895ec,#4368fe,#4660fb,#4563fd,#4466fd,#4466fd,#4564fd,#4561fc,#475bf9,#4758f8,#4758f8,#475cfa,#4660fb,#4563fd)"></i><i style="left:134.78px;width:1.70px;background:linear-gradient(#3875fe,#3677fe,#3678fe,#3876fe,#3a73fe,#3d71ff,#3e6fff,#3e6fff,#3e70ff,#3f6eff,#406dfe,#406dfe,#406dfe,#4369fe,#4564fd,#4561fc,#4562fc,#4367fd,#3f6efe,#3d71ff,#3e70ff,#406dfe,#426afe,#4369fe,#4269fe,#416bfe,#3f6dfe,#406cfe,#406dfe,#416cfe,#406cfe,#3f6efe,#3f6efe,#347afd,#1fa5e2,#22a2e4,#3777fe,#4269fe,#4466fd,#4564fd,#4562fc,#4563fd,#4564fd,#4561fc,#465ffb,#465efb,#4660fc,#4563fc,#4465fd)"></i><i style="left:136.19px;width:1.70px;background:linear-gradient(#4464fd,#4464fd,#4464fd,#4564fd,#4563fc,#4561fc,#465ffb,#475cfa,#475af9,#4757f7,#4755f6,#4757f7,#475bf9,#465dfa,#465efb,#465efb,#465ffb,#4561fc,#4465fd,#4366fd,#4367fd,#4367fd,#4465fd,#4562fc,#465ffb,#475dfa,#465dfa,#475cfa,#465efb,#465dfb,#465dfb,#465efb,#465efb,#4269fe,#2993ed,#2b90f0,#4466fd,#475bf9,#4759f8,#4759f8,#4759f8,#475af9,#475bf9,#475af9,#475bf9,#465dfa,#4561fc,#4563fd,#4564fd)"></i><i style="left:137.59px;width:1.70px;background:linear-gradient(#426afe,#416bfe,#416bfe,#4369fe,#4465fd,#4561fc,#465ffb,#4660fb,#4561fc,#4660fb,#465dfa,#475bf9,#475af9,#4759f8,#4759f8,#475af9,#475cfa,#465ffb,#4562fc,#4564fd,#4465fd,#4465fd,#4564fd,#4562fc,#4562fc,#4464fd,#4269fe,#406dfe,#3d70ff,#3e70ff,#3f6efe,#416cfe,#4368fe,#3f6eff,#2c8ff1,#2d8bf4,#4368fe,#4660fb,#465ffb,#465efb,#475cfa,#475bfa,#475bf9,#475af9,#475cfa,#465efb,#4563fc,#4465fd,#4367fd)"></i><i style="left:139.00px;width:1.70px;background:linear-gradient(#3f6efe,#416cfe,#426afe,#426afe,#406dfe,#3c71ff,#3974fe,#3974fe,#3c71ff,#406cfe,#4367fd,#4466fd,#4367fd,#4368fe,#4269fe,#416cfe,#3e6fff,#3a73fe,#3677fe,#3578fd,#3777fe,#3974fe,#3d71ff,#3e6fff,#3f6eff,#3e6fff,#3c72ff,#3b72ff,#3c72ff,#3f6fff,#416cfe,#416afe,#416bfe,#3776fe,#2797eb,#2699e9,#307ffb,#3776fe,#3b72ff,#3e6fff,#3f6eff,#3e6fff,#3e70ff,#3f6eff,#3f6efe,#3f6eff,#3d71ff,#3c72ff,#3b72ff)"></i></div><div class="hm" style="left:223.2px;top:414.9px;width:140.8px;height:236.0px"><i style="left:0.00px;width:1.71px;background:linear-gradient(#426afe,#416bfe,#406cfe,#406dfe,#3f6eff,#3e6fff,#3f6eff,#416bfe,#4367fd,#4562fc,#465ffb,#465efb,#465ffb,#4561fc,#4562fc,#4562fc,#4563fc,#4465fd,#4368fe,#426afe,#4269fe,#4367fd,#4465fd,#4464fd,#4564fd,#4564fd,#4465fd,#4466fd,#4367fd,#4367fd,#4465fd,#4563fc,#4660fb,#465efb,#465dfa,#465efb,#4561fc,#4466fd,#416bfe,#3d70ff,#3a73fe,#3975fe,#3974fe,#3a74fe,#3b73fe,#3d70ff,#406dfe,#4269fe,#4367fd)"></i><i style="left:1.41px;width:1.71px;background:linear-gradient(#416bfe,#416bfe,#416bfe,#416bfe,#426afe,#4368fd,#4466fd,#4465fd,#4465fd,#4368fe,#406cfe,#3e6fff,#3e70ff,#3f6dfe,#426afe,#4367fd,#4466fd,#4466fd,#4466fd,#4464fd,#4562fc,#465ffb,#465efb,#465ffb,#4660fc,#4563fc,#4465fd,#4466fd,#4466fd,#4466fd,#4466fd,#4466fd,#4367fd,#4368fe,#416bfe,#3f6eff,#3d70ff,#3d71ff,#3e70ff,#3f6efe,#406dfe,#406cfe,#416bfe,#4269fe,#4367fd,#4466fd,#4367fd,#4368fe,#426afe)"></i><i style="left:2.82px;width:1.71px;background:linear-gradient(#4369fe,#416afe,#416bfe,#426afe,#4367fd,#4464fd,#4562fc,#4660fb,#465efb,#475bf9,#4759f8,#4759f9,#475cfa,#465ffb,#4562fc,#4563fc,#4562fc,#4660fc,#465efb,#475dfa,#465dfa,#465efb,#4561fc,#4464fd,#4366fd,#4367fd,#4466fd,#4465fd,#4564fd,#4464fd,#4465fd,#4465fd,#4563fd,#4561fc,#4661fc,#4562fc,#4564fd,#4465fd,#4464fd,#4562fc,#4561fc,#4660fc,#4660fc,#4561fc,#4562fc,#4562fc,#4561fc,#4660fb,#465ffb)"></i><i style="left:4.22px;width:1.71px;background:linear-gradient(#3b72ff,#3875fe,#3777fe,#3776fe,#3a74fe,#3d70ff,#406cfe,#426afe,#4368fd,#4466fd,#4464fd,#4564fd,#4464fd,#4466fd,#4269fe,#406dfe,#3c72ff,#3875fe,#3777fe,#3876fe,#3b73fe,#3e6fff,#406dfe,#416cfe,#416cfe,#406cfe,#406cfe,#406cfe,#416bfe,#426afe,#426afe,#426afe,#426afe,#416bfe,#416cfe,#416bfe,#426afe,#4368fd,#4466fd,#4464fd,#4563fd,#4563fd,#4564fd,#4465fd,#4367fd,#4269fe,#406cfe,#3f6eff,#3e6fff)"></i><i style="left:5.63px;width:1.71px;background:linear-gradient(#4269fe,#4369fe,#4368fe,#4368fe,#4369fe,#4269fe,#426afe,#4269fe,#4368fe,#4466fd,#4465fd,#4465fd,#4366fd,#4269fe,#426afe,#4369fe,#4466fd,#4564fd,#4562fc,#4561fc,#4660fc,#465ffb,#465ffb,#465ffb,#4660fb,#4660fc,#4661fc,#4561fc,#4562fc,#4465fd,#4368fe,#406cfe,#3e6fff,#3e6fff,#406dfe,#426afe,#4367fd,#4464fd,#4562fc,#465ffb,#475cfa,#475af9,#4759f8,#4759f9,#475bf9,#475dfa,#465efb,#4660fb,#4561fc)"></i><i style="left:7.04px;width:1.71px;background:linear-gradient(#475bf9,#475af9,#475bf9,#475cfa,#465efb,#4660fc,#4562fc,#4563fc,#4562fc,#4660fc,#465efb,#475cfa,#475bfa,#475dfa,#4660fb,#4564fd,#4466fd,#4465fd,#4563fd,#4562fc,#4562fc,#4562fc,#4660fc,#465efb,#475bf9,#4759f8,#4759f8,#475bf9,#475dfa,#465efb,#465dfb,#475cfa,#475bfa,#475bfa,#465dfa,#4660fc,#4562fc,#4563fd,#4563fd,#4563fd,#4464fd,#4466fd,#4367fd,#4368fe,#4368fe,#4367fd,#4465fd,#4564fd,#4562fc)"></i><i style="left:8.45px;width:1.71px;background:linear-gradient(#4563fc,#4563fc,#4563fc,#4562fc,#4661fc,#465ffb,#465ffb,#465ffb,#4561fc,#4564fd,#4367fd,#4369fe,#4368fe,#4367fd,#4466fd,#4466fd,#4466fd,#4564fd,#4660fb,#475cfa,#475bf9,#475dfa,#4660fb,#4562fc,#4562fc,#4661fc,#4660fb,#465ffb,#465ffb,#465ffb,#465efb,#465efb,#465ffb,#465efb,#465dfa,#475bf9,#4759f9,#475af9,#475bfa,#465dfa,#465dfa,#475bf9,#4758f8,#4756f7,#4758f8,#475cfa,#4660fc,#4563fd,#4465fd)"></i><i style="left:9.86px;width:1.71px;background:linear-gradient(#3d71ff,#3a73fe,#3a73fe,#3b72ff,#3d70ff,#3e6fff,#3f6eff,#406cfe,#426afe,#4269fe,#426afe,#406dfe,#3e70ff,#3c72ff,#3b73fe,#3c72ff,#3e70ff,#3f6dfe,#406cfe,#406cfe,#3f6dfe,#3f6efe,#406dfe,#426afe,#4367fd,#4466fd,#4367fd,#4368fe,#4368fe,#4466fd,#4564fd,#4562fc,#4563fd,#4465fd,#4368fe,#426afe,#406cfe,#3f6dfe,#3f6eff,#3e6fff,#3f6fff,#3f6efe,#406cfe,#416bfe,#426afe,#426afe,#4269fe,#4368fe,#4367fd)"></i><i style="left:11.26px;width:1.71px;background:linear-gradient(#426afe,#416cfe,#406cfe,#416bfe,#4269fe,#4368fd,#4367fd,#4269fe,#416bfe,#406dfe,#3f6eff,#3f6efe,#406cfe,#416bfe,#4269fe,#4368fe,#4368fe,#4368fe,#4368fd,#4367fd,#4466fd,#4367fd,#4369fe,#416bfe,#416cfe,#426afe,#4466fd,#4563fc,#4660fb,#465dfb,#475cfa,#475cfa,#465ffb,#4562fc,#4465fd,#4466fd,#4465fd,#4563fc,#4661fc,#4660fb,#4660fb,#4562fc,#4367fd,#406dfe,#3a74fe,#3578fd,#3579fd,#3777fe,#3b73fe)"></i><i style="left:12.67px;width:1.71px;background:linear-gradient(#4660fb,#465efb,#465dfa,#465dfa,#465efb,#4660fc,#4561fc,#4562fc,#4561fc,#4661fc,#4561fc,#4562fc,#4564fd,#4465fd,#4368fe,#416afe,#406cfe,#406cfe,#416bfe,#4269fe,#4369fe,#4369fe,#4368fe,#4465fd,#4561fc,#475dfa,#4759f8,#4757f7,#4758f8,#475bf9,#465ffb,#4562fc,#4465fd,#4367fd,#4368fe,#4269fe,#4269fe,#4369fe,#4367fd,#4564fd,#4561fc,#465ffb,#465ffb,#4561fc,#4563fd,#4464fd,#4465fd,#4465fd,#4465fd)"></i><i style="left:14.08px;width:1.71px;background:linear-gradient(#3a74fe,#3b73fe,#3d71ff,#3f6eff,#406cfe,#416bfe,#426afe,#426afe,#426afe,#416cfe,#406cfe,#416cfe,#426afe,#4368fe,#4269fe,#416bfe,#3f6efe,#3f6efe,#416bfe,#4367fd,#4562fc,#465ffb,#465ffb,#4661fc,#4464fd,#4367fd,#4269fe,#426afe,#416bfe,#406cfe,#3f6efe,#3f6fff,#3f6efe,#416bfe,#4269fe,#4368fe,#4369fe,#4369fe,#4368fd,#4367fd,#4366fd,#4368fd,#4269fe,#416afe,#426afe,#4269fe,#4367fd,#4465fd,#4564fd)"></i><i style="left:15.49px;width:1.71px;background:linear-gradient(#4367fd,#4367fd,#4466fd,#4466fd,#4564fd,#4562fc,#4660fc,#4660fc,#4561fc,#4562fc,#4562fc,#4562fc,#4561fc,#4561fc,#4562fc,#4562fc,#4563fd,#4564fd,#4465fd,#4466fd,#4367fd,#4368fe,#4368fe,#4367fd,#4368fe,#426afe,#406dfe,#3e6fff,#3c72ff,#3a74fe,#3777fe,#3479fd,#347afd,#3678fd,#3974fe,#3d70ff,#406cfe,#4269fe,#4367fd,#4367fd,#4368fe,#426afe,#416cfe,#406dfe,#3f6efe,#3f6eff,#3e6fff,#3e6fff,#3f6eff)"></i><i style="left:16.90px;width:1.71px;background:linear-gradient(#4466fd,#4369fe,#416bfe,#406cfe,#416cfe,#416afe,#4269fe,#4269fe,#426afe,#416bfe,#416cfe,#416bfe,#426afe,#4368fe,#4367fd,#4466fd,#4466fd,#4465fd,#4464fd,#4563fd,#4563fd,#4563fd,#4564fd,#4465fd,#4465fd,#4465fd,#4465fd,#4562fc,#4660fb,#465efb,#465dfa,#465dfb,#465ffb,#4660fc,#4562fc,#4564fd,#4466fd,#4369fe,#416bfe,#406dfe,#3f6efe,#3f6efe,#406cfe,#416bfe,#4269fe,#4269fe,#4269fe,#426afe,#426afe)"></i><i style="left:18.30px;width:1.71px;background:linear-gradient(#4465fd,#4465fd,#4367fd,#4269fe,#416cfe,#3f6dfe,#3f6fff,#3e70ff,#3d70ff,#3d70ff,#3e70ff,#3e6fff,#3e6fff,#3f6efe,#416cfe,#416bfe,#416bfe,#416bfe,#4269fe,#4465fd,#4561fc,#465efb,#465dfa,#465dfa,#465ffb,#4563fd,#4367fd,#4269fe,#426afe,#4368fe,#4368fd,#4367fd,#4367fd,#4367fd,#4368fd,#426afe,#406cfe,#3e6fff,#3c72ff,#3c71ff,#3f6efe,#4269fe,#4465fd,#4563fd,#4564fd,#4465fd,#4466fd,#4465fd,#4465fd)"></i><i style="left:19.71px;width:1.71px;background:linear-gradient(#475af9,#475af9,#475bf9,#465dfa,#465ffb,#4660fc,#4562fc,#4563fd,#4564fd,#4563fd,#4563fc,#4563fd,#4465fd,#4466fd,#4466fd,#4465fd,#4562fc,#4660fc,#4660fb,#4561fc,#4564fd,#4465fd,#4464fd,#4562fc,#4660fc,#4660fb,#4660fc,#4561fc,#4561fc,#4562fc,#4464fd,#4367fd,#4269fe,#416bfe,#416bfe,#416cfe,#416bfe,#4269fe,#4466fd,#4561fc,#465efb,#475dfa,#465dfa,#465ffb,#4561fc,#4562fc,#4563fc,#4562fc,#4562fc)"></i><i style="left:21.12px;width:1.71px;background:linear-gradient(#3f6efe,#3e6fff,#3e6fff,#3e6fff,#3f6eff,#406dfe,#416bfe,#4269fe,#4368fd,#4368fd,#4368fe,#4369fe,#4369fe,#4368fe,#4367fd,#4466fd,#4466fd,#4368fe,#426afe,#406dfe,#3d70ff,#3c72ff,#3b72ff,#3d71ff,#3f6efe,#416bfe,#4368fe,#4466fd,#4465fd,#4466fd,#4368fe,#416afe,#416cfe,#416cfe,#426afe,#4368fd,#4465fd,#4564fd,#4564fd,#4564fd,#4465fd,#4367fd,#426afe,#406dfe,#406dfe,#416cfe,#4269fe,#4367fd,#4466fd)"></i><i style="left:22.53px;width:1.71px;background:linear-gradient(#406dfe,#3f6eff,#406dfe,#416bfe,#4367fd,#4563fd,#4561fc,#4562fc,#4464fd,#4367fd,#426afe,#426afe,#4367fd,#4563fc,#465efb,#475af9,#4759f8,#475af9,#465dfa,#4660fb,#4561fc,#4660fc,#465efb,#475cfa,#475bf9,#475cfa,#465ffb,#4562fc,#4465fd,#4466fd,#4367fd,#4368fe,#4269fe,#4368fe,#4466fd,#4564fd,#4563fc,#4562fc,#4562fc,#4660fc,#465efb,#475dfa,#475bf9,#4759f8,#4758f8,#4759f8,#475bf9,#465ffb,#4562fc)"></i><i style="left:23.94px;width:1.71px;background:linear-gradient(#4466fd,#4465fd,#4465fd,#4367fd,#4369fe,#4269fe,#426afe,#426afe,#406cfe,#3d70ff,#3975fe,#3777fe,#3776fe,#3b73fe,#3f6eff,#4269fe,#4465fd,#4563fc,#4464fd,#4368fe,#3f6eff,#3b72ff,#3a74fe,#3a73fe,#3b72ff,#3c72ff,#3b72fe,#3b72fe,#3c71ff,#3e70ff,#3e6fff,#3e6fff,#3e6fff,#3f6dfe,#406dfe,#3f6eff,#3c71ff,#3975fe,#3777fe,#3876fe,#3a73fe,#3e6fff,#406cfe,#416bfe,#406cfe,#3e6fff,#3c72ff,#3b72fe,#3c72ff)"></i><i style="left:25.34px;width:1.71px;background:linear-gradient(#3a73fe,#3975fe,#3974fe,#3c72ff,#3e6fff,#3f6eff,#3e6fff,#3d70ff,#3c71ff,#3c72ff,#3c71ff,#3d70ff,#3e6fff,#3f6efe,#406dfe,#416cfe,#416afe,#4369fe,#4367fd,#4466fd,#4466fd,#4368fe,#416bfe,#3f6dfe,#3e70ff,#3c71ff,#3c71ff,#3e70ff,#406dfe,#426afe,#4368fd,#4466fd,#4465fd,#4466fd,#4367fd,#426afe,#416cfe,#3f6dfe,#3f6fff,#3f6eff,#406cfe,#4269fe,#4465fd,#4563fc,#4561fc,#4660fc,#4660fb,#4660fc,#4561fc)"></i><i style="left:26.75px;width:1.71px;background:linear-gradient(#4366fd,#4367fd,#4368fe,#4269fe,#4269fe,#4369fe,#4367fd,#4367fd,#4367fd,#4368fd,#4269fe,#426afe,#426afe,#4368fe,#4466fd,#4563fc,#4660fc,#465ffb,#4660fc,#4563fd,#4367fd,#4269fe,#426afe,#4269fe,#4366fd,#4564fd,#4561fc,#4660fc,#4660fc,#4562fc,#4564fd,#4465fd,#4466fd,#4466fd,#4465fd,#4564fd,#4564fd,#4464fd,#4464fd,#4563fd,#4562fc,#4561fc,#4661fc,#4561fc,#4563fd,#4466fd,#4368fe,#4369fe,#4368fe)"></i><i style="left:28.16px;width:1.71px;background:linear-gradient(#4366fd,#4367fd,#4368fd,#4368fe,#4367fd,#4466fd,#4464fd,#4562fc,#4660fc,#465ffb,#465efb,#465efb,#465ffb,#4562fc,#4464fd,#4464fd,#4562fc,#4660fc,#4660fc,#4562fc,#4465fd,#4368fe,#416bfe,#3f6efe,#3e6fff,#3e6fff,#3e70ff,#3d70ff,#3d71ff,#3d70ff,#3f6eff,#406cfe,#416bfe,#426afe,#4269fe,#4367fd,#4465fd,#4563fd,#4564fd,#4466fd,#4368fe,#416bfe,#406dfe,#406cfe,#426afe,#4367fd,#4464fd,#4563fc,#4562fc)"></i><i style="left:29.57px;width:1.71px;background:linear-gradient(#3776fe,#347afd,#3080fa,#307ffb,#317dfc,#3080fa,#2e85f8,#2f81fa,#3777fe,#3f6efe,#3f6efe,#3b73fe,#347afd,#327cfc,#3974fe,#406cfe,#406dfe,#3e6fff,#3e6fff,#3f6eff,#416bfe,#4465fd,#465dfb,#4757f8,#4854f5,#4854f5,#4756f6,#4757f7,#475af9,#4563fc,#3d71ff,#317efb,#337bfd,#3e6fff,#3f6eff,#416bfe,#4269fe,#4366fd,#4562fc,#465efb,#475cfa,#475cfa,#465ffb,#4368fd,#3f6efe,#426afe,#4369fe,#4368fd,#4367fd)"></i><i style="left:30.98px;width:1.71px;background:linear-gradient(#465efb,#4562fc,#2e85f8,#2c90f0,#2798ea,#16afd9,#1fc0b2,#0abdbd,#21a3e3,#2e87f7,#2f82f9,#2d8df2,#23a0e5,#21a4e3,#2d88f6,#465efb,#4757f7,#4756f7,#4759f8,#465ffb,#4563fc,#4562fc,#475af9,#4853f5,#484ff2,#4850f2,#4755f6,#4755f6,#4759f9,#3876fe,#2699e9,#09b4d1,#22a2e4,#3c72ff,#4660fb,#4757f8,#4854f5,#4852f4,#4853f5,#4755f6,#4758f8,#4759f8,#475bf9,#3677fe,#2e86f7,#4466fd,#4563fc,#4465fd,#4466fd)"></i><i style="left:32.38px;width:1.71px;background:linear-gradient(#4755f6,#475af9,#2e84f8,#2b92ef,#2798ea,#0cb3d3,#33c79d,#19bfb6,#259be8,#3777fe,#3875fe,#2d8af4,#19acdc,#02b7cb,#2798ea,#4562fc,#4755f6,#4851f3,#484df1,#484df0,#484bef,#4747ec,#4741e4,#463ee1,#463cde,#463cdf,#4742e6,#4742e6,#484aee,#3f6eff,#259ce7,#0abdbd,#1aacdd,#3b72ff,#4562fc,#4759f8,#4854f5,#4851f3,#484ff2,#484cef,#4747ec,#473fe2,#463de0,#4368fe,#2e83f9,#4759f9,#4759f8,#465efb,#4660fc)"></i><i style="left:33.79px;width:1.71px;background:linear-gradient(#4269fe,#3e6fff,#249fe6,#17aeda,#09b4d1,#3cc991,#dabd28,#b3c534,#12beb9,#269ae9,#2a92ee,#23a1e5,#06bcc0,#1bc0b4,#259be8,#465dfb,#484ff2,#484ff2,#4851f3,#4755f6,#4854f5,#484ef1,#4740e4,#4742e6,#484aee,#4853f4,#465ffb,#465ffb,#4466fd,#2d8af4,#0ab4d2,#3cc991,#01b8c8,#317dfc,#416bfe,#4561fc,#475cfa,#4759f8,#4758f8,#4757f7,#4756f7,#4850f2,#484df1,#347afd,#2994ed,#4269fe,#4367fd,#4269fe,#4369fe)"></i><i style="left:35.20px;width:1.71px;background:linear-gradient(#406dfe,#3777fe,#1babde,#01b8c9,#02bac3,#63cd6f,#fec835,#febd3c,#44cb8a,#1aabdd,#22a1e4,#19addc,#2bc3a8,#31c6a0,#259be8,#4757f7,#4747eb,#4746ea,#4747eb,#484bee,#484aee,#4744e8,#4538d8,#4538d7,#463adc,#4741e5,#484ef1,#484ef1,#4757f8,#2f82fa,#10b2d5,#40ca8d,#01b8c9,#3974fe,#465ffb,#4850f2,#4849ed,#4746ea,#4848ec,#484bee,#484cf0,#4848ec,#4745e9,#4562fc,#317dfc,#4660fc,#4660fb,#4562fc,#4561fc)"></i><i style="left:36.61px;width:1.71px;background:linear-gradient(#3d70ff,#3678fe,#1da8e0,#0bb4d2,#06b5cf,#49cb85,#fec03a,#fcbd3d,#4ccb83,#12b1d6,#19acdc,#08bcbf,#8ecb4e,#a6c83d,#15afd8,#4561fc,#484aee,#4746ea,#4848ec,#484ef1,#4850f3,#484bee,#463cdf,#4537d5,#4435d1,#4639da,#4849ed,#484bef,#4759f8,#2d88f6,#01b9c7,#6bcd69,#19bfb5,#307ffb,#4466fd,#4852f4,#4848ec,#4743e7,#4744e8,#4745e9,#4745e9,#463bdd,#4538d8,#484df0,#4563fd,#465dfb,#4563fc,#4368fe,#416afe)"></i><i style="left:38.02px;width:1.71px;background:linear-gradient(#465dfa,#4660fb,#2c8ef1,#2699ea,#259de7,#08bcbf,#9bc945,#8dcb4f,#0abdbd,#269be8,#2699ea,#14b0d8,#60cd72,#94ca4a,#14b0d8,#4466fd,#4853f5,#4852f4,#4851f4,#4851f4,#484aee,#463adb,#3e27ab,#3e26a8,#3e26a8,#3e26a8,#463adb,#4741e5,#4852f4,#2f82f9,#08b4d0,#52cc7e,#07bcbf,#3678fe,#4660fb,#484aee,#463ee1,#4639da,#4539d9,#4537d6,#4331c6,#3f29b1,#3e26a8,#422fc0,#4745e9,#4849ed,#484cf0,#484ef1,#484ff2)"></i><i style="left:39.42px;width:1.71px;background:linear-gradient(#465efb,#4660fc,#2d8cf3,#2796eb,#249fe6,#07bcbf,#7acc5d,#7bcc5d,#1bc0b4,#20a4e3,#23a0e5,#12b1d7,#48cb86,#67cd6d,#1da9e0,#4660fb,#484bef,#484df1,#4853f5,#4758f8,#475af9,#4757f7,#4745e9,#463de0,#4639da,#463cde,#4848ec,#4746eb,#4851f3,#327bfc,#21a3e3,#10beba,#19addc,#3a73fe,#4465fd,#4755f6,#484ef1,#484ef1,#4850f2,#484ff2,#484df0,#4742e6,#463adb,#473fe3,#4851f3,#4757f7,#475bfa,#465efb,#465ffb)"></i><i style="left:40.83px;width:1.71px;background:linear-gradient(#4853f5,#4755f6,#317efb,#2d87f7,#2a93ee,#0cb3d3,#37c897,#33c79d,#10b2d5,#2c8ef1,#2e87f7,#2699e9,#12beb9,#34c79b,#22a2e4,#475dfa,#484df0,#4848ec,#4740e4,#463de0,#4537d5,#3e27aa,#3e26a8,#3e26a8,#3e26a8,#3e27a9,#4538d8,#463bdd,#4849ed,#3975fe,#259be7,#04b6cd,#20a4e3,#406dfe,#4660fb,#484cf0,#4849ed,#4848ec,#484aee,#4848ec,#4740e3,#4330c5,#3e27ab,#402bb6,#463de0,#4848ec,#484ff2,#4854f6,#4757f7)"></i><i style="left:42.24px;width:1.71px;background:linear-gradient(#4466fd,#416bfe,#2994ec,#259ce7,#1fa5e2,#02bac5,#30c5a2,#22c1b0,#17aeda,#2b90f0,#2d8df2,#23a0e5,#18bfb6,#30c5a1,#23a1e4,#4759f8,#463ddf,#4435d1,#4332c8,#4539d8,#4639da,#4433cb,#412cb8,#4330c5,#4332c9,#4332c8,#4741e5,#4744e8,#4854f6,#2e86f7,#1ca9df,#02bbc3,#1fa6e1,#3f6eff,#465dfa,#4744e8,#4538d7,#4536d4,#463adb,#463ddf,#463cde,#4331c6,#402ab5,#402bb7,#463de0,#4848ec,#4851f4,#4759f8,#465dfa)"></i><i style="left:43.65px;width:1.71px;background:linear-gradient(#4466fd,#4465fd,#2e86f7,#2e86f7,#2c90f0,#1aabdd,#15bfb7,#26c2ac,#01b9c8,#249fe5,#2896eb,#249fe5,#09b4d1,#07b5d0,#2d8df2,#484df0,#4433cd,#4539d8,#4744e8,#484ff2,#4851f4,#484aee,#4435d1,#4331c6,#422ebe,#412dbc,#463de0,#4741e5,#4851f3,#327cfc,#2994ed,#22a2e4,#2a93ed,#416bfe,#4563fc,#484ff2,#484bef,#484cef,#4851f3,#4852f4,#4850f2,#4742e6,#463de0,#463ee1,#484ff2,#4759f8,#4660fb,#4563fd,#4564fd)"></i><i style="left:45.06px;width:1.71px;background:linear-gradient(#465dfa,#475cfa,#317dfc,#3080fa,#2d8cf3,#21a4e3,#0db3d3,#0cb3d3,#1fa6e1,#2c90f0,#2c90f0,#23a1e4,#03b7cc,#01b9c7,#2797eb,#4854f5,#4433cd,#422fc1,#4230c4,#463bde,#463de0,#43c,#3f29b1,#412cb9,#4330c5,#4535d2,#484bef,#484ff2,#4759f8,#2e84f9,#2698ea,#22a1e4,#2b92ee,#406cfe,#4465fd,#484ff2,#4746ea,#463de0,#463bdc,#4639d9,#4538d8,#4331c7,#4435d1,#463ddf,#4755f6,#4563fc,#426afe,#426afe,#4466fd)"></i><i style="left:46.46px;width:1.71px;background:linear-gradient(#4759f8,#475cfa,#2f82fa,#2e85f8,#2b91ef,#1ea7e1,#0bb4d2,#07b5d0,#1aabdd,#2896eb,#2995ec,#21a2e4,#11b2d5,#18aedb,#2e86f7,#4743e7,#3e26a8,#3e26a8,#3f28ae,#4331c6,#4433cb,#402bb7,#3e26a8,#3e26a8,#3e28ad,#412cb9,#463ddf,#4740e3,#484df0,#327bfc,#2896ec,#21a4e3,#2699e9,#3875fe,#426afe,#484ef1,#4849ed,#4746ea,#4849ed,#484aee,#4746ea,#4435d0,#4330c4,#402bb8,#463adc,#4744e8,#484aee,#484df0,#484df0)"></i><i style="left:47.87px;width:1.71px;background:linear-gradient(#475cfa,#475af9,#327cfc,#307efb,#2d8bf4,#21a3e3,#11b1d6,#0bb3d2,#1baade,#2895ec,#2a93ed,#22a1e4,#12b1d6,#11b1d6,#2994ed,#4755f6,#4639da,#4536d3,#4537d5,#463ee1,#4740e3,#4539d8,#4433cb,#4536d4,#4538d7,#4537d5,#4741e5,#463ee1,#4849ed,#3b72ff,#2e85f8,#2d8cf3,#3080fb,#465efb,#4756f7,#473fe2,#4536d3,#4435d1,#4537d6,#4538d7,#4536d2,#402bb7,#402ab3,#3e27ab,#4639da,#4746eb,#4852f4,#4759f8,#475bf9)"></i><i style="left:49.28px;width:1.71px;background:linear-gradient(#4563fc,#4464fd,#2d89f5,#2c8ff1,#259ce7,#11b1d6,#02bbc3,#01b8c8,#1baade,#2c8ff0,#2d8af5,#2896ec,#20a4e3,#20a4e3,#2d8bf4,#484ff2,#422fc2,#402bb6,#402ab3,#422fc0,#4330c5,#412cba,#402ab3,#422fc2,#4332c9,#4433cb,#4740e4,#4746ea,#4759f8,#2d89f5,#259de7,#22a1e4,#2994ed,#3a74fe,#406cfe,#4853f5,#484bef,#4744e8,#4740e4,#463bdd,#4536d3,#402bb6,#3f29b1,#3e27aa,#4435d1,#4746ea,#484ff2,#4755f6,#4758f8)"></i><i style="left:50.69px;width:1.71px;background:linear-gradient(#4466fd,#4466fd,#2d89f6,#2d8df2,#269ae9,#18aedb,#04b6cd,#08b4d1,#1ca9e0,#2995ec,#2895ec,#20a4e3,#0db3d3,#0eb2d4,#2699e9,#475cfa,#463de0,#4639d9,#4538d8,#463cde,#4639da,#4230c3,#402ab3,#412dbb,#4230c3,#4331c7,#463cde,#463bdc,#484df0,#3579fd,#2d8df3,#2797eb,#2b91ef,#3876fe,#3d70ff,#4758f8,#4851f4,#484bef,#4849ed,#4744e8,#473ee2,#4433cd,#4332c9,#422fc2,#4740e4,#4852f4,#465efb,#4466fd,#4369fe)"></i><i style="left:52.10px;width:1.71px;background:linear-gradient(#4466fd,#4366fd,#2d89f5,#2d8cf3,#2699ea,#17aeda,#01b9c7,#01b8ca,#1baade,#2b90ef,#2d8cf3,#2699ea,#1ea7e1,#1da8e0,#2b90f0,#4757f7,#463ee1,#4741e5,#4747eb,#4852f4,#4853f5,#4746eb,#463adb,#4537d5,#4435d0,#4434d0,#4742e6,#4745e9,#4854f6,#2f82fa,#2994ed,#2699e9,#2c8ef1,#3f6dfe,#4465fd,#4849ed,#463bdc,#4435d0,#4433cd,#4332cb,#4332ca,#422fc2,#4435d1,#463adc,#4853f5,#475cfa,#4563fd,#4465fd,#4563fd)"></i><i style="left:53.50px;width:1.71px;background:linear-gradient(#4759f9,#4759f9,#327cfc,#307ffb,#2d8af4,#23a0e5,#14b0d8,#0ab4d2,#19addc,#2699e9,#2797eb,#21a3e3,#14b0d8,#16afda,#2995ec,#4758f8,#463cdf,#463bdd,#473fe2,#4849ed,#4849ed,#463bde,#4331c8,#422ebf,#402bb7,#402ab3,#43c,#4536d3,#4849ed,#3579fd,#2c8ef2,#2896eb,#2c8ef2,#3f6fff,#4367fd,#484aee,#473fe2,#4539d9,#4538d7,#4435d0,#4330c5,#3f28ad,#3e26a9,#3e26a8,#4537d6,#484bef,#4759f9,#4561fc,#4563fc)"></i><i style="left:54.91px;width:1.71px;background:linear-gradient(#4368fd,#416bfe,#2c8ef2,#2c8ff1,#2797eb,#1ca9df,#0bb4d2,#0cb3d3,#1da9e0,#2994ed,#2994ed,#20a4e3,#0cb3d3,#0fb2d4,#2798ea,#4759f8,#4639da,#4538d8,#463ee0,#484aee,#484df0,#4741e5,#4537d5,#4434ce,#4331c7,#4230c3,#4538d8,#4537d5,#4746eb,#3d70ff,#2f82fa,#2d8bf3,#2e87f7,#416cfe,#4466fd,#484aee,#463ee1,#463adb,#463cdf,#473fe2,#473ee2,#4537d5,#4536d3,#4434ce,#4747eb,#4755f6,#465ffb,#4563fc,#4561fc)"></i><i style="left:56.32px;width:1.71px;background:linear-gradient(#4757f8,#4758f8,#317dfc,#2f82f9,#2c8ff1,#21a2e4,#1aacdd,#1da8e0,#269ae9,#2f82fa,#3080fa,#2c8ff1,#249fe6,#249fe5,#2e85f8,#4747eb,#3f28af,#3e27aa,#402ab4,#4434ce,#4538d8,#4332cb,#4230c4,#4331c8,#4332c8,#4331c8,#463bde,#4740e3,#4850f3,#307ffb,#2b90ef,#2b92ee,#2f81fa,#475cfa,#4852f4,#4537d5,#402bb8,#402ab4,#412cb9,#412cb8,#3f29b2,#3e26a8,#3e26a8,#3e27ab,#4538d7,#4848ec,#4853f5,#4759f8,#475af9)"></i><i style="left:57.73px;width:1.71px;background:linear-gradient(#465dfa,#465efb,#2e83f9,#2d8af5,#2699e9,#13b0d7,#03bbc2,#01b9c7,#1baade,#2c8ef1,#2d88f6,#2895ec,#1fa6e2,#1babde,#2797eb,#465dfa,#4743e7,#4741e5,#4742e6,#4849ed,#4746ea,#4536d2,#412cba,#3f29b1,#3e28ac,#3f28ad,#4331c6,#4433cd,#4746eb,#3b73fe,#2e83f9,#2d8bf4,#2e86f8,#406cfe,#426afe,#4850f3,#4849ed,#4743e7,#4743e7,#4740e3,#463ada,#4330c4,#422ebf,#422fc2,#4746ea,#4757f7,#4562fc,#4466fd,#4563fd)"></i><i style="left:59.14px;width:1.71px;background:linear-gradient(#4755f6,#4854f6,#3876fe,#327cfc,#2d8bf3,#20a5e2,#0cb3d3,#0ab4d2,#1da8e0,#2b90f0,#2d8df2,#269be8,#1da9e0,#1da8e0,#2d8df2,#484ff1,#4331c7,#4230c3,#4331c7,#4536d3,#43c,#3e28ac,#3e26a8,#3e26a8,#3e27aa,#402ab4,#4536d3,#463de0,#4850f2,#3080fb,#2b91ef,#2895ec,#2d89f6,#4466fd,#475bf9,#4538d7,#3e27ac,#3e26a8,#3e26a8,#3f28ad,#412dbd,#422fc2,#43c,#43c,#4745e9,#4850f3,#475bf9,#465ffb,#465dfa)"></i><i style="left:60.54px;width:1.71px;background:linear-gradient(#4561fc,#4563fc,#2e85f8,#2e86f7,#2d8df2,#249ee6,#1ea7e1,#1ea7e1,#259ce7,#2d89f6,#2d88f6,#2797eb,#20a5e2,#20a4e3,#2d8af5,#484df1,#4230c3,#4331c8,#4539d9,#484bee,#4755f6,#4850f2,#484bef,#4745e9,#463adb,#4331c8,#4434cf,#4435d1,#4849ed,#3579fd,#2d89f5,#2d8af4,#327bfc,#475af9,#4854f5,#4536d3,#4330c5,#4331c7,#4535d2,#4538d8,#4539d9,#4536d4,#4537d6,#4537d5,#4848ec,#4854f5,#465dfb,#4561fc,#465ffb)"></i><i style="left:61.95px;width:1.71px;background:linear-gradient(#4464fd,#4466fd,#2d89f5,#2d8cf3,#2896ec,#1ca9df,#0ab4d2,#0cb3d3,#1ea7e1,#2c90f0,#2d8bf4,#2796eb,#21a3e3,#21a4e3,#2d8cf3,#484ff2,#422fc0,#402ab4,#3f29b0,#422ebf,#4230c3,#402ab5,#412cb9,#422fc2,#422fc1,#412dbc,#43c,#4537d5,#484ef1,#2f82fa,#2895ec,#2699e9,#2d8bf4,#4368fd,#465ffb,#4744e8,#4639da,#4536d4,#4538d8,#4539d9,#4539d9,#4536d3,#4537d5,#4435d1,#4743e8,#484ef1,#4756f6,#4759f8,#4759f8)"></i><i style="left:63.36px;width:1.71px;background:linear-gradient(#475cfa,#465dfa,#2f81fa,#2e86f8,#2c90f0,#22a2e4,#1caadf,#20a5e3,#2896ec,#2f81fa,#2e84f8,#2699e9,#18addb,#14b0d8,#2895ec,#4854f6,#4331c6,#422ec0,#4332ca,#463ee1,#4742e6,#4538d8,#4434ce,#4332c9,#422fc1,#412dbb,#4434ce,#4538d7,#484ff2,#2f81fa,#2994ed,#2699e9,#2c8ef2,#416cfe,#4660fb,#463adb,#412cb9,#3f29b1,#412dbd,#4330c5,#422fc2,#402bb6,#412cba,#4230c3,#4745e9,#4756f6,#4561fc,#4466fd,#4466fd)"></i><i style="left:64.77px;width:1.71px;background:linear-gradient(#4563fd,#4367fd,#2d8cf3,#2c8ff0,#269ae9,#19addc,#06b6ce,#0db3d3,#20a4e3,#2d89f5,#2e84f8,#2c90f0,#249ee6,#249fe6,#2e86f7,#484aee,#402bb7,#402ab3,#412dbc,#4536d5,#463adb,#4331c7,#412cbb,#3f29b2,#3e26a8,#3e26a8,#3e26a8,#3e26a8,#463cdf,#3f6eff,#2e85f8,#2c8ff1,#2d88f6,#426afe,#4563fc,#4745e9,#4536d4,#4331c8,#4332c8,#422fc2,#402ab5,#3e26a8,#3e26a8,#3e26a8,#4331c6,#4744e8,#4850f3,#4758f8,#475af9)"></i><i style="left:66.18px;width:1.71px;background:linear-gradient(#426afe,#416cfe,#2c8ef2,#2c8ff1,#2797ea,#1baade,#04b6cd,#01b9c7,#0ab4d1,#22a2e4,#23a0e5,#1baade,#0db3d3,#15afd9,#2994ed,#4757f7,#4538d7,#463adb,#4741e5,#484cf0,#4848ec,#4536d3,#422ebf,#412cb9,#402ab5,#3f29af,#412dbc,#412dbd,#4744e8,#3876fe,#2d8bf4,#2a93ed,#2d8af4,#406cfe,#4368fe,#4852f4,#484bef,#484aee,#484ef1,#484ef1,#4848ec,#463de0,#4435d1,#422ebe,#4538d7,#484aee,#4755f6,#475bf9,#475cfa)"></i><i style="left:67.58px;width:1.71px;background:linear-gradient(#4660fb,#465efb,#317efb,#2f80fa,#2d8df2,#20a5e2,#0bb3d2,#08b4d0,#1caadf,#2a92ee,#2c8ff0,#249de6,#19addc,#16afd9,#2797eb,#4758f8,#4539d9,#4435d0,#4535d2,#463ddf,#463cde,#4330c5,#412cb9,#402bb7,#402bb7,#402bb8,#4433cd,#4537d6,#484cf0,#317dfc,#2c8ef1,#2c90f0,#2f82fa,#4660fb,#4758f8,#463adc,#4433cb,#43c,#4538d7,#4539d9,#4536d2,#4331c6,#4332c9,#4434ce,#4747eb,#4853f5,#475cfa,#465ffb,#465efb)"></i><i style="left:68.99px;width:1.71px;background:linear-gradient(#4367fd,#4465fd,#2e84f8,#2e85f8,#2b90f0,#1ea7e1,#08b5d0,#06b5cf,#1ca9df,#2c8ff1,#2d88f6,#2a93ed,#20a5e2,#19addc,#259be8,#4562fc,#4746ea,#4741e5,#4742e6,#484ef1,#4851f4,#4848ec,#4747eb,#4747ec,#4744e8,#463ddf,#473ee1,#463cdf,#484ff2,#3080fb,#2b91ef,#2896ec,#2d8af5,#4269fe,#4561fc,#4743e7,#4536d3,#4332ca,#4332c9,#422fc0,#3f29b0,#3e26a8,#3e26a8,#3e26a8,#4435d0,#484cef,#475af9,#4661fc,#4561fc)"></i><i style="left:70.40px;width:1.71px;background:linear-gradient(#4564fd,#4564fd,#2e86f7,#2d88f6,#2c90f0,#239fe5,#1fa5e2,#22a1e4,#2896ec,#2e84f8,#2d88f6,#269ae8,#1aabdd,#18addb,#2895ec,#4757f8,#4435d1,#4330c5,#4331c8,#463adc,#463de0,#43c,#422fc0,#422ebf,#4230c3,#4332c9,#463bdd,#473fe3,#4853f5,#2e84f9,#2896ec,#2699e9,#2d8cf3,#416bfe,#4561fc,#4740e4,#4332c9,#412cba,#412cba,#412cba,#412cba,#402bb7,#422ebe,#4230c3,#4742e6,#4854f5,#4562fc,#426afe,#416bfe)"></i><i style="left:71.81px;width:1.71px;background:linear-gradient(#465ffb,#4660fb,#2f82fa,#2e84f9,#2c90f0,#1da8e0,#06b6ce,#05b6cd,#1da9e0,#2d8cf3,#2e83f9,#2d8bf3,#2797eb,#2796eb,#317efb,#4744e8,#3f29af,#402ab4,#4331c5,#463de0,#4740e4,#4434d0,#422ebf,#402ab5,#3e26a9,#3e26a8,#3f29b2,#412ebd,#4743e8,#3677fe,#2d8df2,#2b91ef,#2f82fa,#465dfb,#4854f5,#4434ce,#3f29b1,#3e27aa,#402ab6,#422ec0,#4332c9,#4435d1,#463de0,#4744e8,#4759f8,#475bfa,#4563fc,#4564fd,#4660fc)"></i><i style="left:73.22px;width:1.71px;background:linear-gradient(#475bf9,#4759f8,#3678fd,#3578fd,#2f82f9,#2797eb,#20a5e3,#1ea7e1,#249de6,#2d8af5,#2d8bf4,#259be8,#1aabdd,#19acdc,#2994ed,#4758f8,#4639da,#4538d7,#463cdf,#484bef,#4852f4,#4849ed,#4747eb,#4746ea,#4744e8,#4742e6,#484aee,#484bee,#4756f7,#2e84f8,#2895ec,#2698ea,#2d8bf3,#4368fe,#465dfa,#463adb,#412dbd,#402bb7,#4331c7,#4537d6,#463adc,#4539d8,#4639d9,#4538d8,#484cef,#4759f8,#4465fd,#416cfe,#426afe)"></i><i style="left:74.62px;width:1.71px;background:linear-gradient(#4561fc,#4660fb,#3080fb,#2f80fa,#2d8af5,#249ee6,#1ca9df,#1caadf,#22a1e4,#2a93ee,#2699e9,#16afda,#0bbdbd,#08bcbe,#22a2e4,#465efb,#463ddf,#4639d9,#463de0,#4849ed,#484bee,#463cde,#4435d2,#4332ca,#422fc2,#412dbc,#4332ca,#43c,#4746ea,#3975fe,#2e87f7,#2d8cf3,#2f82f9,#4563fd,#465efb,#4744e8,#463adc,#4539d9,#463adb,#4537d6,#4331c7,#3f29b1,#3e26a8,#3e26a8,#3e27aa,#4536d4,#473fe2,#4747eb,#484ef1)"></i><i style="left:76.03px;width:1.71px;background:linear-gradient(#465ffb,#465efb,#307ffb,#3080fb,#2d8af5,#23a0e5,#17aeda,#14b0d8,#20a5e2,#2c8ff1,#2c8ef2,#259ce7,#1babde,#1da9e0,#2c8ef1,#4851f3,#4434ce,#43c,#4434cf,#463adb,#4538d7,#412ebe,#412cb9,#422fc0,#4332ca,#4537d6,#4746ea,#484cf0,#4757f8,#2e83f9,#2c8ef1,#2d8bf3,#327bfc,#475cfa,#4758f8,#473fe2,#4538d7,#4538d7,#463cdf,#463ddf,#4538d8,#4331c7,#412dbd,#402ab4,#4536d3,#4747eb,#4853f5,#475af9,#475bf9)"></i><i style="left:77.44px;width:1.71px;background:linear-gradient(#4562fc,#4564fd,#2e86f7,#2d88f6,#2b90ef,#21a3e3,#13b0d7,#0db3d3,#1aacdd,#2699e9,#269ae8,#1caadf,#05b6cd,#08b4d1,#269ae9,#475af9,#463adc,#4538d7,#463adc,#4744e9,#4746eb,#463cde,#463ada,#463bdc,#463adb,#4537d6,#463ada,#4535d2,#4745e9,#3c72ff,#2e84f8,#2d8cf3,#2e84f9,#4367fd,#4564fd,#484ef1,#4745e9,#4743e7,#4744e9,#473fe3,#4435d1,#402ab3,#3e27a9,#402ab3,#4743e7,#4759f9,#4368fd,#416bfe,#4466fd)"></i><i style="left:78.85px;width:1.71px;background:linear-gradient(#4759f8,#4759f8,#327cfc,#2f81fa,#2c8ff1,#1fa6e2,#0db3d3,#0bb4d2,#1da9e0,#2b91ef,#2d8cf3,#2796eb,#23a1e4,#249de6,#2f81fa,#4745e9,#3e27ab,#3e26a9,#3e28ad,#412cb9,#3f29b0,#3e26a8,#3e26a8,#3e26a8,#3e26a8,#3e26a8,#3e26a8,#3f28ae,#463de0,#3f6fff,#2e84f8,#2d89f5,#327bfc,#4759f8,#4850f3,#4331c6,#3e27ab,#3e26a8,#3e27aa,#3f29b0,#402ab5,#402ab4,#412cba,#412cba,#4639da,#4747ec,#4852f4,#4757f8,#4758f8)"></i><i style="left:80.26px;width:1.71px;background:linear-gradient(#4563fd,#4366fd,#2d8bf3,#2c90f0,#269ae9,#1aacdd,#07b5d0,#0eb2d4,#20a5e2,#2d8cf3,#2d88f6,#2895ec,#20a4e3,#1fa6e2,#2c8ff0,#4755f6,#4639d9,#4639da,#463bdd,#4740e3,#463adb,#412dbd,#412cba,#4434cf,#473fe3,#4848ec,#4851f3,#484aee,#484ff2,#3777fe,#2e85f8,#2d8cf3,#2e87f7,#406dfe,#4369fe,#484ff2,#473fe3,#4538d8,#4537d5,#43c,#412dbc,#3e26a8,#3e26a8,#3f29b0,#463de0,#4852f4,#465efb,#4563fd,#4562fc)"></i><i style="left:81.66px;width:1.71px;background:linear-gradient(#4564fd,#4563fd,#2e84f9,#2e84f9,#2c8ef1,#20a5e2,#0ab4d2,#05b6ce,#1aacdd,#2896ec,#2995ec,#1fa5e2,#06b5cf,#03b7cb,#239fe5,#4660fc,#4742e6,#463ee0,#473fe3,#484aee,#484ef1,#4744e8,#4740e4,#473fe2,#463cdf,#4639da,#473ee1,#463cdf,#484cef,#3579fd,#2d89f5,#2c8ef1,#2e85f8,#4466fd,#4660fc,#4745e9,#463bdd,#463bdd,#4741e5,#4743e8,#4740e4,#4639d9,#4537d7,#4538d8,#484ff2,#465efb,#3f6efe,#3975fe,#3b73fe)"></i><i style="left:83.07px;width:1.71px;background:linear-gradient(#4660fb,#465ffb,#2f82f9,#2e85f8,#2c90f0,#21a4e3,#16afd9,#14b0d8,#1fa6e1,#2a93ee,#2b92ee,#239fe5,#19addc,#1aacdd,#2a93ee,#4755f6,#4536d2,#4434ce,#4536d4,#473fe2,#463ee1,#4331c8,#422ebe,#422fc1,#4331c6,#4332ca,#4539d9,#4538d7,#4848ec,#3876fe,#2d88f6,#2b91ef,#2d8af4,#406cfe,#4563fd,#4742e6,#4332c9,#412cba,#412cba,#402bb8,#3f29b0,#3e26a8,#3e26a8,#3e27aa,#4537d6,#484df0,#475cfa,#4465fd,#4367fd)"></i><i style="left:84.48px;width:1.71px;background:linear-gradient(#4564fd,#4562fc,#2f82f9,#2e85f8,#2a92ee,#1caadf,#02b7cb,#02b7cb,#1babde,#2b91ef,#2d8bf3,#2797ea,#1da8e0,#19addc,#259be7,#4465fd,#484ff2,#4850f3,#4851f3,#4755f6,#484df0,#4538d8,#4332c8,#4331c7,#4332c9,#4432cb,#463bdc,#4740e3,#4757f7,#2d8af4,#259de7,#23a0e5,#2a93ee,#3c72ff,#4269fe,#484df0,#4744e8,#4745e9,#484df0,#484ff2,#484bef,#4744e8,#4742e7,#4741e5,#4850f3,#4759f9,#4660fb,#4562fc,#4562fc)"></i><i style="left:85.89px;width:1.71px;background:linear-gradient(#4368fe,#416afe,#2d8df2,#2c8ff1,#2797ea,#1da9e0,#12b1d6,#19addc,#259de7,#2e85f8,#2e85f8,#2797ea,#1aacdd,#14b0d8,#2699e9,#475cfa,#463ee1,#463cdf,#4740e3,#4848ec,#4743e7,#4332c8,#402ab4,#3f29b0,#402ab4,#412dbb,#4536d3,#463bdc,#4851f3,#2e84f8,#2699e9,#22a1e4,#2798ea,#3578fd,#406cfe,#484bef,#4535d2,#422ebe,#4330c5,#4536d3,#463ddf,#4740e3,#4744e8,#4744e8,#4756f7,#465efb,#4269fe,#3f6eff,#416bfe)"></i><i style="left:87.30px;width:1.71px;background:linear-gradient(#465ffb,#4561fc,#2e86f7,#2d89f5,#2b92ee,#21a4e3,#19acdc,#1da9e0,#2699e9,#2f81fa,#307ffb,#2b91ef,#1ea7e1,#19addc,#2796eb,#4757f7,#43c,#412dbd,#422fc2,#463adc,#473fe3,#4435d1,#4230c3,#402cb8,#3f29b0,#3f29b0,#4332c9,#4537d6,#484df0,#317dfc,#2c8ef1,#2b91ef,#2e84f8,#4562fc,#475bf9,#463de0,#4434ce,#4433cb,#4536d2,#4536d4,#4434cf,#4230c4,#422fc1,#412dbc,#4539d9,#4848ec,#4852f4,#4758f8,#475af9)"></i><i style="left:88.70px;width:1.71px;background:linear-gradient(#475af9,#475bfa,#2f81fa,#2e85f8,#2b91ef,#20a4e3,#16afda,#19addc,#22a1e4,#2d8df2,#2c90f0,#21a3e3,#05b6ce,#01b8c9,#239fe5,#465dfa,#463cde,#4536d3,#4435d1,#463bdc,#4538d8,#412ebd,#402bb8,#412dbc,#422ebe,#412ebe,#4434cf,#4536d4,#484aee,#327cfc,#2c8ef1,#2b92ee,#2e84f9,#4660fc,#4757f7,#4537d5,#412dbc,#402bb6,#412dbc,#422ebf,#412ebe,#402bb6,#402bb7,#412cb9,#463cde,#484df0,#4759f8,#465efb,#465efb)"></i><i style="left:90.11px;width:1.71px;background:linear-gradient(#4562fc,#4563fd,#2e86f7,#2d89f6,#2994ed,#1baade,#02b7cb,#01b8c9,#16afd9,#2798ea,#2995ec,#21a3e3,#0db3d3,#09b4d1,#269ae8,#4758f8,#43c,#412dbd,#4230c3,#463bdd,#4742e6,#463bdd,#4539d9,#4536d4,#4331c8,#402bb8,#412ebe,#412ebe,#4742e6,#3c71ff,#2f82f9,#2e86f7,#327cfc,#4660fc,#4660fb,#484ef1,#4848ec,#4744e8,#473fe2,#4435d2,#412cba,#3e26a8,#3e26a8,#3e26a8,#4331c6,#4746ea,#4854f5,#475bf9,#475dfa)"></i><i style="left:91.52px;width:1.71px;background:linear-gradient(#465dfb,#4561fc,#2e86f7,#2d88f6,#2b90ef,#23a1e4,#1ca9e0,#1ea7e1,#259de7,#2d8bf4,#2c8ff1,#22a2e4,#0cb3d3,#0bb4d2,#2699e9,#4759f8,#463bdc,#4536d4,#4435d1,#4538d8,#4535d2,#402ab5,#3e27ac,#3e28ac,#3e28ac,#3f28ad,#422fc2,#43c,#4849ed,#317efb,#2994ed,#259be8,#2c8ff1,#416bfe,#4660fc,#473fe2,#422ebf,#3e28ac,#3f28ae,#402ab5,#412dbc,#422fc0,#4434cf,#463ada,#4850f3,#475af9,#4563fd,#4466fd,#4562fc)"></i><i style="left:92.93px;width:1.71px;background:linear-gradient(#4564fd,#4563fd,#2e84f8,#2e87f7,#2b91ef,#1fa6e2,#10b2d5,#0bb3d2,#19acdc,#269be8,#259be8,#1da8e0,#0cb3d3,#12b1d6,#2798ea,#475bf9,#463cde,#463ada,#463bdd,#4742e6,#4740e3,#4332c9,#422ebf,#4330c5,#4434cf,#4539d9,#4745e9,#4848ec,#4756f7,#2e84f9,#2a93ee,#2896eb,#2d8bf4,#416bfe,#4564fd,#4746eb,#4538d8,#4332cb,#4331c8,#422fc3,#412cba,#3f28ae,#3f29b1,#412cba,#4742e6,#4758f8,#4367fd,#3f6dfe,#406cfe)"></i><i style="left:94.34px;width:1.71px;background:linear-gradient(#4757f7,#4759f8,#2f80fa,#2d89f5,#269ae9,#10b2d5,#05bbc1,#01bac5,#19acdc,#2b91ef,#2d8cf3,#2699e9,#1da8e0,#1da8e0,#2d8df2,#484ef1,#412dbc,#402bb6,#412dbb,#4435d0,#4537d6,#4330c5,#4230c3,#4331c8,#43c,#4536d3,#4741e5,#4746ea,#4853f5,#307ffb,#2d8bf4,#2d89f5,#3677fe,#4755f6,#484df0,#422fc0,#3f29b0,#402ab5,#4332c8,#4538d7,#463bdc,#4537d7,#4536d3,#4332cb,#4740e3,#484df1,#4758f8,#465ffb,#465ffb)"></i><i style="left:95.74px;width:1.71px;background:linear-gradient(#4561fc,#4563fd,#2d89f5,#2c8ff0,#249de6,#0bb4d2,#0fbebb,#11beb9,#05b6ce,#23a1e5,#249ee6,#19acdc,#01b9c7,#01b9c7,#22a2e4,#4562fc,#4745e9,#4740e4,#4743e7,#484ef1,#4850f2,#4743e7,#463cdf,#4538d7,#4331c8,#402bb6,#412cb9,#402bb6,#473fe2,#3f6efe,#3080fb,#2e84f8,#3479fd,#475cfa,#4758f8,#463adb,#4331c6,#422fc0,#4332c9,#4435d0,#4535d2,#4434ce,#4537d6,#463bdd,#4853f5,#465efb,#4269fe,#406cfe,#4368fd)"></i><i style="left:97.15px;width:1.71px;background:linear-gradient(#4368fe,#4368fe,#2d89f5,#2d8af5,#2a93ee,#1da8e0,#07b5d0,#06b5cf,#1caadf,#2a92ee,#2c8ff1,#259ce7,#19acdc,#15afd9,#269ae9,#465dfb,#463cde,#4537d7,#4538d7,#4740e3,#473fe3,#4435d2,#4434d0,#4538d7,#463bdd,#463ddf,#4744e8,#4743e7,#4854f5,#2f82f9,#2994ed,#2699e9,#2b91ef,#3a73fe,#406cfe,#4850f3,#4741e5,#463cdf,#4741e5,#4744e9,#4743e7,#463adb,#4435d1,#4332c9,#4743e7,#4757f7,#4465fd,#406cfe,#406dfe)"></i><i style="left:98.56px;width:1.71px;background:linear-gradient(#4464fd,#4564fd,#2e86f8,#2d88f6,#2a93ed,#1da8e0,#0cb3d2,#0bb3d2,#1ca9df,#2994ed,#2a93ee,#23a0e5,#19addc,#1babde,#2b91ef,#4756f6,#4537d6,#4539d9,#463de0,#4745e9,#4742e6,#43c,#412dbd,#412cba,#412cba,#422ebe,#4537d5,#463cde,#4852f4,#2e86f8,#269ae8,#23a0e5,#2995ec,#3a74fe,#416afe,#484ff2,#4742e6,#473fe2,#4742e6,#4743e7,#4741e5,#463cde,#4539d9,#4434cf,#4740e4,#484ff2,#475bf9,#4562fc,#4564fd)"></i><i style="left:99.97px;width:1.71px;background:linear-gradient(#475cfa,#475af9,#337bfd,#317dfc,#2d89f5,#23a0e5,#17aeda,#17aeda,#22a1e4,#2d8af5,#2d88f6,#2798ea,#1ca9df,#1aacdd,#2a93ee,#4755f6,#43c,#4230c3,#4331c8,#463bdc,#473fe3,#4537d5,#4434ce,#4230c4,#402ab5,#3e27aa,#412dbb,#4330c4,#4745ea,#3a74fe,#2e84f8,#2d89f6,#317efb,#465ffb,#4757f7,#4536d4,#412dbc,#402bb7,#422fc0,#4330c5,#4330c5,#422fc0,#4331c7,#4433cd,#4747eb,#4755f6,#4660fc,#4465fd,#4564fd)"></i><i style="left:101.38px;width:1.71px;background:linear-gradient(#3b72ff,#3a74fe,#2994ed,#2994ed,#259be8,#1babde,#11b1d6,#19acdc,#259ce7,#2e83f9,#2f82fa,#2a93ed,#1da9e0,#16aeda,#2699ea,#475af9,#4536d5,#4432cb,#4435d1,#4741e5,#4745e9,#463adb,#4536d4,#4536d3,#4536d4,#4537d6,#4740e4,#4742e6,#4854f5,#2e84f8,#2896eb,#259ce7,#2a93ee,#3a74fe,#406cfe,#4850f3,#4740e3,#4538d7,#4536d4,#4433cd,#422ebf,#3e27ab,#3e26a8,#3e26a8,#4332ca,#4849ed,#4758f8,#4660fc,#4563fc)"></i><i style="left:102.78px;width:1.71px;background:linear-gradient(#4369fe,#426afe,#2d8cf3,#2c8ef2,#2798ea,#1babde,#0ab4d2,#11b2d5,#20a5e3,#2d8df2,#2d8cf3,#259be7,#19addb,#15afd9,#2896ec,#4755f6,#4332c9,#412dbc,#412dbd,#43c,#4331c8,#3e26a8,#3e26a8,#3e26a8,#3e26a8,#3e26a8,#3e27aa,#422fc0,#4849ed,#307efb,#2a93ee,#2798ea,#2d8bf3,#426afe,#4660fb,#4740e3,#4332ca,#412ebe,#422fc1,#422fc1,#412ebd,#402ab3,#3f29b0,#3e27a9,#4332ca,#4745e9,#4852f4,#475bf9,#465dfa)"></i><i style="left:104.19px;width:1.71px;background:linear-gradient(#426afe,#416bfe,#2d8df3,#2c8ff1,#2798ea,#1babde,#0ab4d1,#0fb2d4,#1fa6e2,#2c90f0,#2c8ef1,#249ee6,#15afd9,#12b1d6,#2798ea,#4756f7,#4230c4,#3f29b1,#3e27ac,#412cbb,#412dbc,#3e26a8,#3e26a8,#3e28ad,#412cb9,#4331c5,#463cdf,#4743e7,#4756f7,#2d88f6,#2798ea,#2699ea,#2d88f6,#4563fd,#4759f9,#4538d7,#422ec0,#412dbb,#4331c7,#4535d2,#463adb,#463cde,#4740e4,#473fe2,#484df0,#4854f5,#475bf9,#465dfa,#475cfa)"></i><i style="left:105.60px;width:1.71px;background:linear-gradient(#465efb,#465dfb,#317efb,#307ffb,#2d88f6,#259de7,#1baade,#1aabdd,#23a1e4,#2d8cf3,#2d8cf3,#259ce7,#19addc,#19acdc,#2b90ef,#484ff2,#402ab3,#3e26a8,#3f28ae,#43c,#4538d8,#4332c9,#422fc2,#422fc2,#422fc1,#422ebe,#4432cb,#4331c7,#4742e6,#3d70ff,#2e83f9,#2d8bf4,#2e83f9,#4465fd,#465ffb,#4741e5,#4434cf,#422fc2,#422ebf,#402bb8,#3f29b1,#3f28ae,#412ebe,#4433cd,#484aee,#4758f8,#4563fc,#4367fd,#4465fd)"></i><i style="left:107.01px;width:1.71px;background:linear-gradient(#4366fd,#4464fd,#2f82f9,#3080fa,#2d89f6,#249ee6,#19addc,#18aedb,#22a2e4,#2d8af4,#2d88f6,#2797eb,#1fa6e1,#1fa6e2,#2d8bf3,#484ef1,#4331c6,#4330c5,#4433cb,#463adc,#463cdf,#4433cd,#4331c6,#4331c7,#4230c4,#422ec0,#4332ca,#4330c5,#4740e3,#416cfe,#327cfc,#2f82fa,#3578fd,#475bfa,#4756f7,#4639d9,#4330c5,#422ebf,#4230c3,#422fc1,#412cba,#3f28ae,#3f28ae,#3f28af,#4537d6,#4848ec,#4854f5,#4759f8,#4758f8)"></i><i style="left:108.42px;width:1.71px;background:linear-gradient(#4660fc,#4562fc,#2e87f7,#2d8af4,#2a93ed,#1fa6e2,#14b0d8,#14b0d8,#1fa6e2,#2b92ee,#2994ed,#20a5e3,#0cb3d3,#11b1d6,#2796eb,#4758f8,#463adb,#463cdf,#4743e7,#484ef1,#484ff1,#473fe3,#4537d5,#4434d0,#4331c8,#412dbd,#4230c3,#4330c5,#4848ec,#3080fb,#2797eb,#249ee6,#2b91ef,#3f6dfe,#4563fd,#4745ea,#463adb,#4537d6,#4539d9,#4537d6,#4434ce,#4230c3,#422fc2,#422fc0,#463de0,#484ef1,#4759f8,#465efb,#465ffb)"></i><i style="left:109.82px;width:1.71px;background:linear-gradient(#4367fd,#416bfe,#2b92ef,#2699e9,#1ea7e1,#02bac5,#20c1b1,#13beb9,#0cb3d3,#259be8,#2797eb,#20a4e3,#11b2d5,#0fb2d4,#269ae8,#475bf9,#4536d4,#4332c9,#4434cf,#473fe3,#4743e7,#4435d2,#412dbc,#402ab5,#402ab5,#422ebf,#463adb,#4742e6,#4756f7,#2d89f5,#2699e9,#269ae8,#2d8cf3,#4269fe,#4561fc,#4740e3,#4331c7,#402bb7,#402bb6,#402bb6,#402ab4,#3f28ae,#3f29b2,#3f29b1,#4434cf,#4745e9,#484ef1,#4854f6,#4757f8)"></i><i style="left:111.23px;width:1.71px;background:linear-gradient(#475af9,#475af9,#327dfc,#307ffb,#2d8bf4,#23a1e5,#17aeda,#16aeda,#21a3e4,#2d8cf3,#2d8bf3,#259de7,#15afd9,#12b1d6,#2798ea,#475af9,#463cdf,#4539d9,#4536d4,#4539d9,#4538d8,#4331c6,#422fc1,#4331c8,#4332c8,#4330c5,#4435d0,#4537d6,#484cef,#307ffb,#2b91ef,#2a93ed,#2e86f7,#4366fd,#4561fc,#4742e6,#4435d0,#4230c3,#422ebf,#402bb7,#3e27ac,#3e26a8,#3e26a8,#3e26a8,#422ebf,#473fe3,#484aee,#4850f2,#4852f4)"></i><i style="left:112.64px;width:1.71px;background:linear-gradient(#4758f8,#4853f5,#3e6fff,#3e70ff,#317efb,#269be8,#16afd9,#0bb3d2,#1da9e0,#2c8ef1,#2e87f7,#2b91ef,#249ee6,#249fe5,#2e87f7,#484cef,#422fc2,#4331c6,#4535d2,#4741e4,#4743e7,#4434cf,#3f29b0,#3e26a8,#3e27ab,#402bb6,#4433cd,#4536d3,#4745e9,#3b72fe,#2f82fa,#2e84f8,#327cfc,#4465fd,#4368fe,#4746ea,#4535d2,#4230c4,#4330c5,#4331c8,#4332ca,#4332c9,#4435d2,#4537d6,#484aee,#4853f5,#475cfa,#465ffb,#465efb)"></i><i style="left:114.05px;width:1.71px;background:linear-gradient(#465dfb,#475bf9,#3975fe,#3974fe,#317dfc,#2c90f0,#259de7,#249ee6,#2994ed,#2f82f9,#2e83f9,#2a92ee,#23a0e5,#259de7,#2f82fa,#484aed,#402ab5,#402bb6,#422ebf,#4435d1,#463bdc,#4230c4,#3e28ac,#402bb7,#422fc1,#4332ca,#463cdf,#4742e6,#4852f4,#2f83f9,#2b92ee,#2b91ef,#2e86f7,#3777fe,#2f82fa,#4854f5,#4639da,#4434ce,#4434ce,#4331c7,#402cb8,#3e26a8,#3e26a8,#3e26a8,#412cba,#473fe2,#484aee,#4851f3,#4854f5)"></i><i style="left:115.46px;width:1.71px;background:linear-gradient(#4755f6,#4755f6,#4562fc,#4464fd,#416bfe,#3678fd,#2f80fa,#2f80fa,#3579fd,#416bfe,#416bfe,#3578fd,#2d89f5,#2c8ef2,#327cfc,#4755f6,#4435d1,#402ab5,#422ebe,#4435d0,#463cdf,#4539d9,#3e26a8,#3e26a8,#3e26a8,#3e27aa,#463bdd,#4742e6,#4758f8,#317dfc,#2d89f5,#2e84f8,#3579fd,#317dfc,#259de7,#4563fc,#4539d9,#4331c7,#4332ca,#4434d0,#4332c9,#402bb8,#402ab3,#4536d3,#484ff2,#465ffb,#4369fe,#406cfe,#426afe)"></i><i style="left:116.86px;width:1.71px;background:linear-gradient(#4563fd,#4562fc,#416bfe,#416cfe,#3d70ff,#337bfc,#2f82f9,#2e84f8,#2f81fa,#337afd,#327cfc,#2e86f7,#2b92ee,#2896ec,#2d89f5,#406cfe,#4851f4,#484cf0,#484bef,#4851f3,#4757f7,#4851f3,#4434cf,#4332c8,#4535d2,#4538d8,#484ef1,#484ff2,#4759f8,#3c71ff,#3974fe,#406dfe,#416bfe,#2c8ef2,#13beb8,#2d8cf3,#4851f3,#484aee,#484df1,#484ff2,#484ef1,#4746ea,#463bdd,#463cde,#484aed,#484ef1,#4851f3,#4854f6,#4757f7)"></i><i style="left:118.27px;width:1.71px;background:linear-gradient(#475cfa,#475af9,#465ffb,#465efb,#4561fc,#4368fe,#3f6eff,#3b72fe,#3b73fe,#3f6fff,#3e6fff,#3875fe,#317dfc,#307ffb,#3b72fe,#475cfa,#4747eb,#4746eb,#4849ed,#4850f2,#4756f7,#4851f3,#4330c5,#3e26a8,#3e26a8,#3e26a8,#473fe3,#4746ea,#4758f8,#3777fe,#317efb,#3b73fe,#3f6fff,#2798ea,#2dc4a6,#2d89f6,#463ee1,#4535d2,#463adb,#4740e4,#4743e7,#463adb,#4330c5,#4434cf,#4849ed,#4854f5,#475cfa,#4661fc,#4561fc)"></i><i style="left:119.68px;width:1.71px;background:linear-gradient(#3e6fff,#3e70ff,#3974fe,#3a73fe,#3b73fe,#3a73fe,#3a73fe,#3b72ff,#3b72ff,#3a74fe,#327cfc,#2d87f7,#2994ed,#2699e9,#2c8ef1,#3875fe,#475cfa,#4758f8,#4759f8,#4660fc,#426afe,#4466fd,#4746eb,#422fc1,#4331c7,#473fe2,#475af9,#4660fb,#3e70ff,#2d8cf3,#2b90f0,#2e83f9,#317efb,#1fa6e1,#4bcb84,#23a0e5,#475cfa,#4854f6,#4758f8,#475bf9,#475bfa,#4852f4,#4849ed,#484df0,#475af9,#4561fc,#4368fe,#3f6dfe,#3e70ff)"></i><i style="left:121.09px;width:1.71px;background:linear-gradient(#426afe,#416cfe,#3f6fff,#406dfe,#426afe,#4368fe,#4368fd,#4367fd,#4465fd,#4563fd,#4465fd,#3f6eff,#327cfc,#2e83f9,#3579fd,#4562fc,#484df0,#4849ed,#484bef,#4756f6,#4466fd,#4368fe,#484cef,#4433cd,#422fc1,#463cdf,#4851f3,#4854f5,#4563fc,#3080fa,#2e85f8,#3875fe,#3d70ff,#2896ec,#1bc0b4,#2b90f0,#4756f7,#4851f3,#4755f6,#475bf9,#475dfa,#4852f4,#4848ec,#484aee,#4757f7,#465ffb,#4465fd,#4368fe,#4368fd)"></i><i style="left:122.50px;width:1.71px;background:linear-gradient(#4756f7,#4755f6,#4757f7,#475af9,#465ffb,#4563fd,#4465fd,#4465fd,#4564fd,#4562fc,#4464fd,#3f6efe,#317efb,#2d89f5,#2f82f9,#3f6dfe,#4757f7,#484ff2,#484bef,#4850f3,#465efb,#4562fc,#4848ec,#4332c9,#4230c3,#463cde,#484cf0,#4851f3,#4561fc,#2f80fa,#2e84f8,#3e6fff,#4367fd,#307ffb,#21a3e3,#337afd,#4755f6,#4851f3,#4853f5,#4758f8,#4758f8,#484bef,#4741e5,#4744e8,#4850f3,#4758f8,#475cfa,#465ffb,#465ffb)"></i><i style="left:123.90px;width:1.71px;background:linear-gradient(#4368fd,#4466fd,#4367fd,#4368fe,#416bfe,#3f6efe,#3d70ff,#3b72fe,#3975fe,#3777fe,#337afd,#2f81fa,#2d8cf3,#2c90f0,#2e84f8,#3f6eff,#475bf9,#4757f7,#4758f8,#465ffb,#3e6fff,#3b73fe,#4757f7,#4744e8,#4742e6,#484ef1,#475cfa,#4561fc,#3c71ff,#2c8ff1,#2c90f0,#3579fd,#416cfe,#3777fe,#2a93ee,#3677fe,#465ffb,#475bfa,#465dfa,#4464fd,#416bfe,#4660fc,#4757f7,#4757f7,#465efb,#4562fc,#4465fd,#4367fd,#4368fe)"></i><i style="left:125.31px;width:1.71px;background:linear-gradient(#4465fd,#4464fd,#4563fd,#4561fc,#4561fc,#4562fc,#4563fd,#4563fd,#4562fc,#4660fb,#4562fc,#416bfe,#317dfc,#2d88f6,#2f82fa,#3e6fff,#465dfb,#4759f9,#4759f9,#4660fc,#3974fe,#317dfc,#4564fd,#4853f4,#484ef1,#4850f2,#4854f5,#4853f5,#4660fc,#3080fb,#2e84f8,#3e6fff,#4367fd,#3875fe,#22a1e4,#2f82fa,#4661fc,#465efb,#4561fc,#416bfe,#3b72ff,#4562fc,#4755f6,#4854f6,#475bf9,#465ffb,#4563fd,#4466fd,#4367fd)"></i><i style="left:126.72px;width:1.71px;background:linear-gradient(#4367fd,#4368fd,#4368fe,#4466fd,#4464fd,#4465fd,#4368fe,#3f6dfe,#3c71ff,#3b72ff,#3c72ff,#3777fe,#2e84f9,#2d8df2,#2e86f7,#3a74fe,#4563fd,#4660fb,#4660fb,#4466fd,#3479fd,#307ffb,#4564fd,#4853f5,#4852f4,#4758f8,#4561fc,#4563fc,#3d70ff,#2d8df2,#2c8ff1,#3974fe,#4367fd,#3678fd,#05b6ce,#2c8ef1,#465ffb,#465efb,#4563fc,#3d70ff,#3578fd,#4466fd,#4759f8,#475af9,#4563fc,#4369fe,#406dfe,#3e6fff,#3f6fff)"></i><i style="left:128.13px;width:1.71px;background:linear-gradient(#4466fd,#4465fd,#4466fd,#4369fe,#406cfe,#3e6fff,#3e70ff,#3e6fff,#3e6fff,#3d70ff,#3a73fe,#327dfc,#2d8cf3,#2994ed,#2d8af5,#3974fe,#4661fc,#475bf9,#475af9,#4562fc,#3578fd,#2f81fa,#4366fd,#4755f6,#4850f3,#4852f4,#4758f8,#475bf9,#426afe,#2d8af4,#2c8ff0,#3578fd,#406cfe,#327cfc,#04b6cd,#2d8df2,#465dfa,#475bfa,#4561fc,#3d71ff,#327cfc,#4368fe,#475af9,#475bf9,#4562fc,#4564fd,#4464fd,#4465fd,#4465fd)"></i><i style="left:129.54px;width:1.71px;background:linear-gradient(#3c71ff,#3d70ff,#406cfe,#4466fd,#4562fc,#4660fc,#4562fc,#4564fd,#4466fd,#4367fd,#426afe,#3974fe,#2e86f8,#2c90f0,#2d88f6,#3975fe,#4464fd,#4660fc,#4661fc,#4367fd,#327cfc,#2e83f9,#426afe,#475af9,#4758f8,#475bf9,#465ffb,#465ffb,#416bfe,#2d89f5,#2c8ef2,#3678fe,#406dfe,#3975fe,#2797eb,#347afd,#465dfa,#4759f8,#475bf9,#416bfe,#3578fd,#4367fd,#475bfa,#465efb,#4465fd,#4367fd,#4368fd,#4367fd,#4366fd)"></i><i style="left:130.94px;width:1.71px;background:linear-gradient(#4563fc,#4661fc,#465efb,#475af9,#4758f8,#4758f8,#4759f8,#4759f8,#4759f9,#475bf9,#465ffb,#426afe,#317dfc,#2d88f6,#2f81fa,#3f6eff,#465efb,#4759f8,#4759f8,#4660fb,#3777fe,#2e84f9,#3d71ff,#4466fd,#4465fd,#4466fd,#4367fd,#4466fd,#3f6fff,#2e87f7,#2e86f7,#416bfe,#465ffb,#4661fc,#3f6efe,#465ffb,#4852f4,#484ff2,#4854f5,#4269fe,#337bfc,#4269fe,#4759f8,#4755f6,#4758f8,#475bf9,#465ffb,#4562fc,#4464fd)"></i><i style="left:132.35px;width:1.71px;background:linear-gradient(#3d70ff,#3b73fe,#3975fe,#3974fe,#3b72fe,#3e70ff,#3f6dfe,#406cfe,#416cfe,#406cfe,#3f6eff,#3875fe,#2e83f9,#2d8cf3,#2d87f6,#337afd,#3e6fff,#406dfe,#3f6dfe,#3a73fe,#2e85f8,#2d8cf3,#3a74fe,#4563fc,#465efb,#465ffb,#4563fc,#4564fd,#3f6eff,#2d88f6,#2d8cf3,#3578fd,#3e70ff,#3975fe,#2d8bf4,#3777fe,#4465fd,#4464fd,#426afe,#317efb,#2d8af4,#3875fe,#4563fc,#4561fc,#4465fd,#4368fe,#426afe,#416bfe,#416bfe)"></i><i style="left:133.76px;width:1.71px;background:linear-gradient(#4269fe,#4269fe,#426afe,#426afe,#416bfe,#416cfe,#416cfe,#416bfe,#4368fe,#4465fd,#4564fd,#4369fe,#3776fe,#2f81fa,#307ffb,#3b73fe,#4369fe,#4466fd,#4465fd,#4269fe,#337afd,#2f82fa,#3f6efe,#4562fc,#4561fc,#4563fc,#4466fd,#4367fd,#3c72ff,#2d8bf4,#2c8ff1,#327bfc,#3c71ff,#317dfc,#1aacdd,#2d87f7,#4660fb,#465dfa,#4562fc,#3876fe,#2e85f8,#3a74fe,#4564fd,#4563fc,#4367fd,#426afe,#406dfe,#3f6efe,#406dfe)"></i><i style="left:135.17px;width:1.71px;background:linear-gradient(#4563fd,#4564fd,#4466fd,#4368fd,#426afe,#406cfe,#406dfe,#406dfe,#406cfe,#426afe,#4369fe,#406dfe,#3578fd,#2f82fa,#307ffb,#3a74fe,#4269fe,#4466fd,#4564fd,#4466fd,#3a74fe,#347afd,#4368fd,#465dfa,#475cfa,#465dfa,#465ffb,#4661fc,#416afe,#2f81fa,#2e83f9,#3f6eff,#4564fd,#3876fe,#07b5cf,#2b91ef,#4562fc,#4661fc,#4465fd,#3876fe,#2f82f9,#3b72fe,#4465fd,#4563fd,#4465fd,#4466fd,#4466fd,#4466fd,#4466fd)"></i><i style="left:136.58px;width:1.71px;background:linear-gradient(#416bfe,#416bfe,#426afe,#4367fd,#4464fd,#4563fc,#4561fc,#4661fc,#4660fc,#4661fc,#4563fc,#4368fe,#3b72ff,#3578fd,#3a73fe,#426afe,#4466fd,#4368fe,#416bfe,#3c72ff,#3080fa,#2e86f8,#3875fe,#4369fe,#4564fd,#4561fc,#4562fc,#4563fd,#406cfe,#307ffb,#307ffb,#416bfe,#4562fc,#3f6efe,#249ee6,#2e85f8,#4367fd,#4367fd,#416bfe,#3678fd,#2f81fa,#3b73fe,#4368fd,#4368fe,#406dfe,#3d70ff,#3b72ff,#3c71ff,#3e6fff)"></i><i style="left:137.98px;width:1.71px;background:linear-gradient(#4464fd,#4466fd,#4367fd,#4368fd,#4369fe,#416afe,#416cfe,#406cfe,#406cfe,#406dfe,#3f6eff,#3a73fe,#327cfc,#307ffb,#3677fe,#4269fe,#4660fb,#465dfa,#465efb,#4562fc,#406dfe,#3d71ff,#4562fc,#4759f8,#4756f7,#4757f7,#4759f9,#475cfa,#4464fd,#3876fe,#3876fe,#4465fd,#475dfa,#4660fb,#3b73fe,#4269fe,#4561fc,#4561fc,#4562fc,#4369fe,#406dfe,#4660fc,#4759f8,#475cfa,#4561fc,#4465fd,#4367fd,#4368fe,#4367fd)"></i><i style="left:139.39px;width:1.71px;background:linear-gradient(#4466fd,#4466fd,#4466fd,#4367fd,#426afe,#406dfe,#3f6eff,#406dfe,#406cfe,#3f6dfe,#3d70ff,#3876fe,#317dfc,#2f81fa,#327cfc,#3b72ff,#416bfe,#4368fe,#4369fe,#3f6efe,#337afd,#2f81fa,#3777fe,#3e6fff,#3f6dfe,#406dfe,#406dfe,#416bfe,#3f6eff,#337bfc,#327bfc,#3f6dfe,#4466fd,#4466fd,#4368fe,#4465fd,#4562fc,#4661fc,#4561fc,#4368fe,#3d70ff,#406cfe,#426afe,#406dfe,#3d70ff,#3d70ff,#3f6fff,#406cfe,#426afe)"></i></div><div class="hm" style="left:58.6px;top:751.0px;width:140.4px;height:235.6px"><i style="left:0.00px;width:1.70px;background:linear-gradient(#406cfe,#406cfe,#416bfe,#4369fe,#4466fd,#4563fd,#4561fc,#4561fc,#4563fd,#4466fd,#4366fd,#4465fd,#4561fc,#465efb,#475bf9,#4759f9,#475af9,#465dfa,#4562fc,#4466fd,#426afe,#406dfe,#3f6efe,#406dfe,#416cfe,#4269fe,#4367fd,#4564fd,#4562fc,#4661fc,#4561fc,#4563fc,#4466fd,#4368fe,#416bfe,#406cfe,#406dfe,#416bfe,#4368fe,#4464fd,#4561fc,#4660fb,#4661fc,#4562fc,#4464fd,#4367fd,#4269fe,#416afe,#416bfe)"></i><i style="left:1.40px;width:1.70px;background:linear-gradient(#4368fe,#426afe,#406cfe,#406cfe,#416bfe,#4369fe,#4367fd,#4465fd,#4465fd,#4367fd,#4269fe,#406cfe,#3f6eff,#3f6eff,#3f6dfe,#406cfe,#416bfe,#426afe,#426afe,#4269fe,#4368fe,#4367fd,#4367fd,#4367fd,#4367fd,#4466fd,#4466fd,#4466fd,#4367fd,#4367fd,#4367fd,#4367fd,#4367fd,#4367fd,#4368fe,#4368fe,#4367fd,#4465fd,#4563fd,#4562fc,#4561fc,#4562fc,#4465fd,#4269fe,#3f6dfe,#3d70ff,#3d71ff,#3e6fff,#406cfe)"></i><i style="left:2.81px;width:1.70px;background:linear-gradient(#3f6efe,#3e70ff,#3b73fe,#3876fe,#3777fe,#3776fe,#3875fe,#3975fe,#3876fe,#3678fe,#3578fd,#3776fe,#3b73fe,#3e6fff,#3f6efe,#3f6eff,#3f6eff,#406dfe,#426afe,#4367fd,#4465fd,#4464fd,#4464fd,#4564fd,#4564fd,#4465fd,#4466fd,#4368fd,#4368fe,#4367fd,#4367fd,#4368fd,#4369fe,#426afe,#416afe,#416bfe,#406cfe,#406dfe,#3f6efe,#3e6fff,#3d71ff,#3b73fe,#3a74fe,#3975fe,#3875fe,#3875fe,#3975fe,#3a74fe,#3b72fe)"></i><i style="left:4.21px;width:1.70px;background:linear-gradient(#4564fd,#4562fc,#4561fc,#4660fc,#4660fb,#4660fb,#4660fc,#4562fc,#4563fd,#4464fd,#4466fd,#4367fd,#4368fd,#4368fe,#4269fe,#426afe,#426afe,#426afe,#426afe,#4269fe,#4368fe,#4368fd,#4367fd,#4367fd,#4367fd,#4367fd,#4367fd,#4367fd,#4466fd,#4466fd,#4367fd,#4368fe,#426afe,#416bfe,#406cfe,#406dfe,#3f6dfe,#406dfe,#416bfe,#4368fe,#4465fd,#4562fc,#4661fc,#4661fc,#4562fc,#4562fc,#4562fc,#4561fc,#4561fc)"></i><i style="left:5.62px;width:1.70px;background:linear-gradient(#4369fe,#4368fe,#4367fd,#4465fd,#4563fd,#4562fc,#4561fc,#4561fc,#4562fc,#4562fc,#4562fc,#4561fc,#4562fc,#4464fd,#4368fe,#406dfe,#3e70ff,#3e70ff,#3e6fff,#3e6fff,#3d70ff,#3b73fe,#3975fe,#3975fe,#3b72ff,#3f6efe,#4269fe,#4466fd,#4466fd,#4367fd,#4369fe,#426afe,#426afe,#426afe,#4369fe,#4367fd,#4466fd,#4465fd,#4564fd,#4563fc,#4562fc,#4561fc,#4561fc,#4562fc,#4562fc,#4563fc,#4563fd,#4464fd,#4465fd)"></i><i style="left:7.02px;width:1.70px;background:linear-gradient(#3c71ff,#3d70ff,#3f6efe,#426afe,#4367fd,#4466fd,#4367fd,#426afe,#3f6efe,#3c72ff,#3875fe,#3678fe,#3579fd,#3677fe,#3974fe,#3d70ff,#416cfe,#4368fe,#4466fd,#4466fd,#4368fe,#406cfe,#3d71ff,#3974fe,#3875fe,#3a73fe,#3d70ff,#406cfe,#426afe,#4368fd,#4466fd,#4466fd,#4367fd,#4269fe,#406cfe,#3e6fff,#3d71ff,#3d71ff,#3e6fff,#406dfe,#416cfe,#416cfe,#3f6dfe,#3f6fff,#3e6fff,#3f6eff,#3f6eff,#3f6efe,#3f6dfe)"></i><i style="left:8.42px;width:1.70px;background:linear-gradient(#4464fd,#4465fd,#4466fd,#4464fd,#4563fc,#4562fc,#4563fc,#4564fd,#4466fd,#4466fd,#4466fd,#4464fd,#4562fc,#4661fc,#4660fb,#4661fc,#4562fc,#4563fd,#4563fd,#4562fc,#4661fc,#4660fb,#4661fc,#4562fc,#4563fd,#4564fd,#4465fd,#4465fd,#4367fd,#4368fe,#426afe,#416bfe,#416bfe,#426afe,#4367fd,#4564fd,#4561fc,#4661fc,#4561fc,#4562fc,#4564fd,#4465fd,#4466fd,#4465fd,#4561fc,#465efb,#475bf9,#475bf9,#475dfa)"></i><i style="left:9.83px;width:1.70px;background:linear-gradient(#4368fe,#4465fd,#4563fc,#4561fc,#4561fc,#4561fc,#4561fc,#4660fb,#465efb,#475dfa,#465dfa,#465efb,#4660fc,#4562fc,#4464fd,#4367fd,#4269fe,#426afe,#4368fd,#4563fd,#465ffb,#475cfa,#465dfa,#4660fb,#4564fd,#4367fd,#426afe,#416cfe,#406cfe,#416bfe,#4269fe,#4367fd,#4464fd,#4563fc,#4563fd,#4464fd,#4466fd,#4367fd,#4369fe,#426afe,#406cfe,#3f6dfe,#3f6efe,#416cfe,#4368fe,#4563fd,#4660fb,#465ffb,#4660fb)"></i><i style="left:11.23px;width:1.70px;background:linear-gradient(#4561fc,#4661fc,#4561fc,#4563fc,#4465fd,#4368fe,#416bfe,#3f6dfe,#3f6fff,#3e6fff,#3e6fff,#3f6efe,#416cfe,#426afe,#4368fe,#4368fe,#4269fe,#406cfe,#3f6eff,#3d71ff,#3c72ff,#3d70ff,#406cfe,#4367fd,#4562fc,#465ffb,#465ffb,#4561fc,#4464fd,#4368fe,#416cfe,#3f6fff,#3d70ff,#3e70ff,#406dfe,#4368fe,#4464fd,#4563fc,#4563fd,#4465fd,#4466fd,#4367fd,#4368fe,#4269fe,#4269fe,#426afe,#416bfe,#416bfe,#416bfe)"></i><i style="left:12.64px;width:1.70px;background:linear-gradient(#3e6fff,#3d70ff,#3f6eff,#426afe,#4466fd,#4564fd,#4563fc,#4562fc,#4562fc,#4561fc,#4561fc,#4661fc,#4561fc,#4562fc,#4563fc,#4464fd,#4466fd,#4367fd,#4367fd,#4466fd,#4564fd,#4661fc,#465dfa,#475bf9,#475af9,#475dfa,#4561fc,#4466fd,#426afe,#416cfe,#406cfe,#406cfe,#406cfe,#416bfe,#416bfe,#426afe,#426afe,#416afe,#416bfe,#426afe,#4369fe,#4367fd,#4466fd,#4564fd,#4562fc,#4561fc,#4661fc,#4562fc,#4563fd)"></i><i style="left:14.04px;width:1.70px;background:linear-gradient(#465ffb,#465ffb,#465efb,#465dfa,#465dfa,#465efb,#4660fb,#4562fc,#4564fd,#4564fd,#4563fc,#4562fc,#4561fc,#4661fc,#4660fb,#465ffb,#465dfb,#475cfa,#475bf9,#475bf9,#475bf9,#475bf9,#475cfa,#465dfa,#465ffb,#4562fc,#4465fd,#4367fd,#4368fe,#4368fe,#4367fd,#4367fd,#4466fd,#4465fd,#4564fd,#4562fc,#465ffb,#465dfa,#475cfa,#475cfa,#465efb,#4562fc,#4465fd,#4465fd,#4563fc,#465ffb,#475bf9,#4759f8,#4759f8)"></i><i style="left:15.44px;width:1.70px;background:linear-gradient(#4561fc,#4561fc,#4562fc,#4564fd,#4466fd,#4367fd,#4367fd,#4465fd,#4562fc,#4660fb,#4660fc,#4563fc,#4466fd,#4368fe,#4269fe,#426afe,#416bfe,#406cfe,#3f6dfe,#3f6eff,#3f6eff,#3f6eff,#3f6efe,#406dfe,#416afe,#4368fd,#4465fd,#4563fd,#4562fc,#4562fc,#4562fc,#4562fc,#4562fc,#4562fc,#4562fc,#4563fc,#4563fd,#4465fd,#4368fd,#426afe,#416bfe,#426afe,#4367fd,#4465fd,#4464fd,#4464fd,#4465fd,#4367fd,#4368fe)"></i><i style="left:16.85px;width:1.70px;background:linear-gradient(#4466fd,#4465fd,#4464fd,#4464fd,#4465fd,#4466fd,#4367fd,#4367fd,#4465fd,#4563fc,#4562fc,#4563fd,#4465fd,#4466fd,#4367fd,#4367fd,#4367fd,#4367fd,#4367fd,#4367fd,#4367fd,#4466fd,#4465fd,#4466fd,#4466fd,#4466fd,#4465fd,#4564fd,#4563fd,#4563fd,#4563fc,#4562fc,#4561fc,#4561fc,#4562fc,#4562fc,#4562fc,#4562fc,#4564fd,#4466fd,#4367fd,#4465fd,#4562fc,#465ffb,#465efb,#465ffb,#4561fc,#4564fd,#4465fd)"></i><i style="left:18.25px;width:1.70px;background:linear-gradient(#416bfe,#416bfe,#426afe,#4369fe,#4368fe,#4368fe,#4269fe,#4368fe,#4368fd,#4367fd,#4368fd,#4368fe,#4368fe,#4368fe,#4368fe,#4369fe,#426afe,#406cfe,#3f6efe,#3f6efe,#406dfe,#416bfe,#426afe,#426afe,#416afe,#416bfe,#416bfe,#416bfe,#4269fe,#4367fd,#4466fd,#4465fd,#4464fd,#4564fd,#4563fd,#4563fd,#4465fd,#4466fd,#4367fd,#4367fd,#4367fd,#4367fd,#4269fe,#416bfe,#3f6dfe,#3f6eff,#3f6eff,#3f6dfe,#406cfe)"></i><i style="left:19.66px;width:1.70px;background:linear-gradient(#475bf9,#465dfa,#4660fb,#4563fc,#4465fd,#4465fd,#4465fd,#4563fd,#4561fc,#465ffb,#465dfb,#465dfa,#465dfa,#465dfa,#465dfa,#475cfa,#475af9,#4759f9,#4758f8,#4757f7,#4756f7,#4756f6,#4755f6,#4854f6,#4854f5,#4853f5,#4755f6,#4759f8,#465dfb,#4660fc,#4561fc,#465efb,#475bf9,#4759f8,#475af9,#475cfa,#465ffb,#4660fc,#4561fc,#4561fc,#4561fc,#4561fc,#4660fc,#465efb,#475bfa,#4759f9,#4759f8,#475bf9,#465dfa)"></i><i style="left:21.06px;width:1.70px;background:linear-gradient(#465ffb,#465efb,#465ffb,#4561fc,#4563fd,#4465fd,#4465fd,#4465fd,#4464fd,#4465fd,#4466fd,#4368fe,#4269fe,#426afe,#4369fe,#4367fd,#4465fd,#4465fd,#4465fd,#4465fd,#4564fd,#4561fc,#4660fb,#4660fb,#4660fb,#4660fb,#465ffb,#4660fc,#4562fc,#4464fd,#4466fd,#4367fd,#4465fd,#4563fc,#4660fb,#465efb,#465ffb,#4660fb,#4561fc,#4661fc,#4660fb,#465ffb,#465efb,#465efb,#465dfb,#465dfa,#465dfb,#465efb,#4660fc)"></i><i style="left:22.46px;width:1.70px;background:linear-gradient(#3e6fff,#3c72ff,#3a74fe,#3a74fe,#3c72ff,#3f6fff,#406cfe,#406dfe,#3e6fff,#3c71ff,#3c72ff,#3e70ff,#406dfe,#426afe,#4367fd,#4367fd,#4367fd,#4367fd,#4367fd,#4367fd,#4466fd,#4466fd,#4367fd,#4368fe,#416bfe,#406dfe,#3f6efe,#406dfe,#406cfe,#416bfe,#416bfe,#3f6eff,#3b72ff,#3975fe,#3974fe,#3d71ff,#406cfe,#4367fd,#4563fd,#4661fc,#4660fb,#4660fb,#4561fc,#4562fc,#4564fd,#4465fd,#4366fd,#4367fd,#4368fe)"></i><i style="left:23.87px;width:1.70px;background:linear-gradient(#3579fd,#3677fe,#3a73fe,#3f6eff,#4269fe,#4367fd,#4466fd,#4368fd,#426afe,#416cfe,#406dfe,#416cfe,#426afe,#4368fd,#4367fd,#4269fe,#406dfe,#3e6fff,#3e70ff,#3f6eff,#406cfe,#406cfe,#406cfe,#406cfe,#416bfe,#4269fe,#4368fe,#4368fe,#4369fe,#4368fe,#4368fe,#4369fe,#416bfe,#406dfe,#3e6fff,#3d71ff,#3d71ff,#3e6fff,#416bfe,#4368fe,#4466fd,#4466fd,#4366fd,#4367fd,#4367fd,#4367fd,#4367fd,#4366fd,#4367fd)"></i><i style="left:25.27px;width:1.70px;background:linear-gradient(#475af9,#475af9,#475cfa,#465ffb,#4562fc,#4464fd,#4465fd,#4465fd,#4465fd,#4564fd,#4562fc,#4660fc,#465efb,#475dfa,#475cfa,#475bf9,#4759f9,#4758f8,#4757f7,#4758f8,#475af9,#465efb,#4660fb,#4660fc,#465ffb,#465efb,#475dfa,#475dfa,#465dfb,#465efb,#475dfa,#475bf9,#475af9,#475af9,#475cfa,#465efb,#4661fc,#4563fd,#4465fd,#4367fd,#4368fe,#4367fd,#4466fd,#4563fc,#4661fc,#465ffb,#465ffb,#4660fc,#4561fc)"></i><i style="left:26.68px;width:1.70px;background:linear-gradient(#4465fd,#4563fd,#4562fc,#4563fd,#4466fd,#4269fe,#3f6efe,#3d70ff,#3c71ff,#3d70ff,#3e6fff,#406dfe,#416bfe,#4368fe,#4466fd,#4465fd,#4466fd,#4368fe,#426afe,#416cfe,#416bfe,#4269fe,#4367fd,#4465fd,#4564fd,#4563fd,#4563fd,#4563fc,#4563fd,#4465fd,#4368fe,#416bfe,#3f6eff,#3e6fff,#3e6fff,#3f6efe,#406dfe,#416bfe,#4269fe,#4366fd,#4464fd,#4564fd,#4564fd,#4564fd,#4564fd,#4564fd,#4465fd,#4367fd,#4269fe)"></i><i style="left:28.08px;width:1.70px;background:linear-gradient(#426afe,#416bfe,#416bfe,#426afe,#4368fd,#4464fd,#4561fc,#465dfa,#4759f8,#4756f7,#4755f6,#4756f6,#4757f7,#4757f7,#4755f6,#4853f5,#4851f4,#4852f4,#4853f5,#4755f6,#4758f8,#475cfa,#4660fb,#4563fd,#4563fd,#4562fc,#4660fc,#4660fb,#465ffb,#465efb,#475cfa,#475cfa,#475dfa,#465ffb,#4561fc,#4562fc,#4562fc,#4561fc,#4661fc,#4661fc,#4660fc,#465ffb,#465efb,#465efb,#465ffb,#4660fc,#4562fc,#4562fc,#4562fc)"></i><i style="left:29.48px;width:1.70px;background:linear-gradient(#4660fc,#465efb,#4466fd,#4466fd,#426afe,#3f6fff,#426afe,#4660fb,#4757f7,#4850f2,#4852f4,#4854f5,#4756f7,#4759f8,#465dfa,#4562fc,#4368fe,#416bfe,#4367fd,#4561fc,#475cfa,#4759f9,#4758f8,#4756f7,#4756f6,#4757f8,#465efb,#416bfe,#2d8df2,#1aacdd,#14b0d8,#2797eb,#337afd,#406dfe,#4466fd,#4561fc,#465efb,#465efb,#4561fc,#4464fd,#4367fd,#426afe,#4368fe,#4564fd,#4563fd,#4465fd,#4367fd,#4369fe,#4269fe)"></i><i style="left:30.89px;width:1.70px;background:linear-gradient(#4563fc,#4367fd,#2d8cf3,#259be8,#05b6ce,#37c898,#29c3aa,#1fa5e2,#307efb,#4755f6,#4852f4,#4852f4,#4851f3,#484ff2,#484ef1,#4851f4,#475dfa,#4366fd,#4562fc,#4757f7,#484ef1,#4849ed,#4746ea,#4747eb,#4849ed,#4851f3,#465efb,#2f82f9,#62cd71,#f9fb15,#f9fb15,#7dcc5c,#2e85f8,#4853f5,#4747ec,#4747eb,#484bef,#484ff2,#4851f3,#4852f4,#4758f8,#4465fd,#4563fc,#4854f5,#484aee,#4849ed,#484cef,#484ff2,#4853f5)"></i><i style="left:32.29px;width:1.70px;background:linear-gradient(#426afe,#3974fe,#1ea7e1,#01b8c9,#59cc78,#e1bc2b,#a0c841,#01b8ca,#2e87f7,#4852f4,#484df1,#484ef1,#484df0,#484bef,#484cef,#4851f3,#4660fc,#406dfe,#4465fd,#4756f7,#484bef,#4745e9,#4741e5,#4740e4,#473fe2,#4743e7,#4850f3,#337afd,#8bcb51,#f9fb15,#f9fb15,#febf3b,#249fe5,#4561fc,#4755f6,#4852f4,#4851f4,#484ef1,#4849ed,#4746eb,#484ff1,#4367fd,#416bfe,#475cfa,#4854f6,#4756f7,#475af9,#475bf9,#475cfa)"></i><i style="left:33.70px;width:1.70px;background:linear-gradient(#465efb,#4661fc,#2c8ff0,#20a5e2,#36c799,#edba33,#bfc32d,#07bcc0,#2c8ff1,#4759f8,#4757f7,#4758f8,#4755f6,#4851f3,#484ff2,#4852f4,#4562fc,#3e6fff,#4464fd,#4852f4,#4743e7,#463cde,#4434d0,#4537d5,#463ada,#4848ec,#475bf9,#2d88f6,#c2c22c,#f9fb15,#f9fb15,#f6ba3b,#2896ec,#4853f5,#4743e7,#463ee0,#4743e7,#4746ea,#4849ed,#484df0,#475af9,#3479fd,#337bfc,#4563fd,#4757f7,#4757f7,#4759f8,#475af9,#475cfa)"></i><i style="left:35.10px;width:1.70px;background:linear-gradient(#4367fd,#406cfe,#249fe6,#09b4d1,#86cb55,#f5ec22,#fdce31,#38c896,#269ae8,#4759f8,#484ff2,#484aee,#4743e7,#463de0,#4741e4,#484df0,#4465fd,#3777fe,#4369fe,#4851f3,#473fe2,#4331c7,#422fc2,#4332ca,#4536d4,#4747eb,#465efb,#2d89f5,#b0c636,#f9fb15,#f9fb15,#cdc028,#2d8df2,#484df0,#463adc,#463bdc,#4743e7,#484bef,#484cf0,#484bef,#4853f5,#3b72ff,#3a74fe,#465dfa,#4853f5,#4759f8,#4660fb,#4562fc,#4563fd)"></i><i style="left:36.50px;width:1.70px;background:linear-gradient(#416bfe,#3b73fe,#1caadf,#0cbdbc,#c2c22c,#f9fb15,#f8da2b,#35c79a,#2796eb,#4756f7,#4852f4,#4851f3,#484df1,#4740e3,#4537d6,#463de0,#4853f5,#4465fd,#475bf9,#4747eb,#4538d7,#412cbb,#402bb8,#422ebf,#4230c4,#463ada,#4851f3,#3e6fff,#29c3aa,#fec636,#fdcc32,#36c799,#3776fe,#4744e8,#4434ce,#4331c8,#4434ce,#4537d5,#4539d9,#4740e4,#4852f4,#327cfc,#2f82fa,#426afe,#475bf9,#4759f8,#4758f8,#4757f7,#4759f8)"></i><i style="left:37.91px;width:1.70px;background:linear-gradient(#4562fc,#416cfe,#1ea7e1,#0bbdbd,#c5c22a,#f9fb15,#f6de29,#3ac993,#2797eb,#4851f3,#4746ea,#4743e7,#463cde,#4537d6,#4537d6,#463ee1,#4757f7,#426afe,#4562fc,#484ff2,#463ee1,#4332cb,#422ebf,#422fc2,#4332c9,#4740e3,#4755f6,#4369fe,#13b0d7,#54cc7d,#48cb86,#1caadf,#4661fc,#463bdd,#4332c9,#4331c6,#4435d0,#4538d7,#4538d8,#463cdf,#484aee,#3c71ff,#3677fe,#4562fc,#4853f5,#4851f3,#4851f3,#4851f4,#4755f6)"></i><i style="left:39.31px;width:1.70px;background:linear-gradient(#4367fd,#3e6fff,#1da8e0,#06bcc0,#9fc941,#f5e725,#fec13a,#2dc4a5,#2896eb,#4853f5,#4850f2,#484ef1,#4745e9,#463de0,#463cdf,#4746ea,#465ffb,#3876fe,#3e6fff,#475bf9,#4849ed,#4537d6,#412dbc,#402ab3,#3f29b1,#4434ce,#484cef,#475cfa,#269ae9,#02bbc3,#02b7cb,#2b91ef,#4755f6,#4535d2,#422ebf,#412ebe,#4331c7,#43c,#4434ce,#4639d9,#484aee,#426afe,#3f6eff,#465dfb,#4755f6,#4758f8,#465dfa,#465ffb,#4561fc)"></i><i style="left:40.72px;width:1.70px;background:linear-gradient(#406dfe,#3974fe,#1baade,#01bac5,#65cd6e,#fbbc3d,#cbc029,#0bbdbc,#2d8df2,#4848ec,#473fe2,#4741e4,#463de0,#463adb,#463bdc,#4742e6,#4759f8,#406dfe,#4367fd,#4756f7,#484bef,#4741e5,#463cde,#463adb,#4435d1,#463bdd,#484ef1,#4759f9,#2b91ef,#13b0d7,#1aabdd,#2d88f6,#4854f5,#4536d5,#412dbc,#3f29b0,#3f29b2,#402bb8,#422fc1,#4536d4,#4745e9,#465efb,#465ffb,#4854f5,#484ef1,#4852f4,#4755f6,#4756f7,#4758f8)"></i><i style="left:42.12px;width:1.70px;background:linear-gradient(#406cfe,#3b73fe,#1fa6e1,#0db3d3,#2fc5a3,#9ec942,#6ecd67,#02b7cb,#2c8ef2,#484cef,#4743e8,#4743e7,#463ee0,#463adb,#463cdf,#4746ea,#475bf9,#406cfe,#4563fd,#4850f3,#463ee1,#4435d1,#4435d1,#463adb,#473fe2,#484ef1,#465ffb,#4269fe,#259be8,#0bb3d2,#1aabdd,#2d87f7,#4853f5,#4332cb,#402ab5,#412cb9,#4332c9,#463adb,#473fe3,#4744e8,#484bef,#475cfa,#465efb,#4758f8,#4854f5,#4853f5,#4852f4,#4851f3,#4853f5)"></i><i style="left:43.52px;width:1.70px;background:linear-gradient(#4660fc,#4466fd,#259be8,#1caadf,#11beba,#67cd6d,#54cc7d,#04b6cd,#2d8cf3,#4742e6,#4331c7,#402bb7,#3e26a8,#3e26a8,#3f29b0,#4537d6,#4756f6,#3f6efe,#416bfe,#475bf9,#4851f3,#4741e5,#463ada,#4434ce,#412dbc,#422fc1,#4742e6,#484df1,#2e84f9,#20a4e3,#21a3e3,#2e85f8,#4854f6,#4639da,#4331c6,#4331c6,#4230c4,#422ebf,#402bb8,#3f29b0,#402ab5,#463cdf,#463ddf,#463bdc,#463de0,#4848ec,#4853f5,#475bfa,#4561fc)"></i><i style="left:44.93px;width:1.70px;background:linear-gradient(#4368fe,#3e6fff,#20a5e2,#12b1d6,#10beba,#44cb8a,#31c6a0,#18addb,#2e86f7,#4741e4,#4434cf,#4434ce,#4331c8,#4433cd,#463bdc,#4849ed,#475bf9,#426afe,#4661fc,#484ef1,#463ee1,#4435d1,#4537d6,#4639da,#4539d9,#473fe2,#4851f4,#475bf9,#2d8df2,#1fa6e2,#23a0e5,#2f82f9,#4854f5,#4639d9,#43c,#4434cf,#4434ce,#4433cb,#4331c8,#4331c7,#43c,#4744e8,#4742e7,#4741e5,#4743e7,#484bef,#4854f6,#475bf9,#4561fc)"></i><i style="left:46.33px;width:1.70px;background:linear-gradient(#406dfe,#3777fe,#18addb,#01b8ca,#26c2ad,#62cd71,#4dcb82,#01b8c8,#2b92ee,#4849ed,#463de0,#4639d9,#4331c6,#412cba,#412cba,#4434cf,#484cef,#475bfa,#4854f5,#4743e7,#4332ca,#422ebf,#4434ce,#4537d5,#4537d5,#473ee2,#4756f7,#4466fd,#249de6,#04b6cc,#13b0d7,#2d8df2,#4756f6,#43c,#402ab4,#402ab3,#402ab3,#3f29b0,#3e27aa,#3e26a8,#3f28ae,#463bde,#4745ea,#484cf0,#4756f7,#4561fc,#4368fe,#426afe,#426afe)"></i><i style="left:47.74px;width:1.70px;background:linear-gradient(#3f6dfe,#3975fe,#1baade,#06b6ce,#1fc0b2,#57cc7a,#44cb89,#02b7cb,#2b91ef,#4745e9,#4332c9,#3f28af,#3e26a8,#3e26a8,#3e26a8,#3e26a8,#4743e7,#4757f7,#4755f6,#4746eb,#4435d0,#412dbd,#422fc1,#4331c7,#4434ce,#463de0,#4756f7,#4563fd,#2995ec,#1da9e0,#23a0e5,#2f81fa,#4851f3,#4434ce,#4230c3,#4230c4,#422ebf,#412cba,#402bb8,#412dbb,#4230c3,#4743e7,#484aee,#4853f5,#4756f7,#4660fb,#4564fd,#4563fc,#4562fc)"></i><i style="left:49.14px;width:1.70px;background:linear-gradient(#3777fe,#2f81fa,#04b6cd,#0ebebb,#2ec4a4,#5ecc74,#44cb89,#01bac6,#259be8,#4757f7,#4854f6,#484cf0,#4639d9,#422fc1,#3f29b1,#402bb7,#4743e7,#4756f7,#4853f5,#4743e7,#412dbb,#3e26a8,#3e26a8,#3e26a8,#3e26a8,#3e27aa,#4746ea,#4759f9,#2b92ee,#1aabde,#1fa6e2,#2e86f7,#4851f3,#412dbb,#3e26a8,#3e26a8,#3e26a8,#3e27ac,#3f28af,#402ab3,#412cb9,#463cde,#4741e5,#4848ec,#484df0,#4755f6,#475bfa,#465efb,#4660fc)"></i><i style="left:50.54px;width:1.70px;background:linear-gradient(#416cfe,#3e6fff,#23a1e4,#1caadf,#05b6ce,#2cc4a7,#24c2ae,#18addb,#2d8bf4,#4746ea,#463de0,#463bdd,#4331c8,#422fc2,#422ebf,#43c,#484bee,#475bf9,#4855f6,#4742e6,#402bb7,#3e26a8,#3e26a8,#3e26a8,#3f29b1,#422fc2,#484aee,#4757f7,#2d88f6,#259de7,#2798ea,#317dfc,#484df0,#412dbb,#402bb6,#412cbb,#412ebe,#422ec0,#422ebf,#412dbc,#412cb9,#4536d4,#4539d9,#473fe2,#4848ec,#4853f4,#475bf9,#4660fb,#4564fd)"></i><i style="left:51.95px;width:1.70px;background:linear-gradient(#3578fd,#2f80fa,#0fb2d4,#01b9c7,#20c1b1,#50cc80,#40ca8d,#01b8c9,#2895ec,#484bee,#463bdc,#4435d1,#412dbc,#422fc2,#43c,#463de0,#4758f8,#406dfe,#4269fe,#4757f7,#4744e8,#4639da,#4539d9,#4539d8,#4537d6,#463ada,#4854f5,#4564fd,#2797ea,#1aabde,#20a5e2,#2d88f6,#4755f6,#43c,#4434d0,#463bde,#4742e6,#4745e9,#4743e7,#463de0,#4536d3,#463adb,#4536d3,#4538d7,#4745e9,#4852f4,#465efb,#4564fd,#4368fe)"></i><i style="left:53.35px;width:1.70px;background:linear-gradient(#4466fd,#416afe,#239fe5,#1aacdd,#01b9c8,#31c6a0,#25c2ae,#1babde,#2e86f7,#473fe2,#4434cf,#4434cf,#4330c5,#4332cb,#4332ca,#4433cb,#4747eb,#4756f7,#4852f4,#4742e6,#422fc1,#3f29b2,#402ab5,#412cb9,#412dbd,#4230c4,#4848ec,#4853f5,#307ffb,#2d8df2,#2e87f7,#3f6eff,#4741e5,#3e26a8,#3e27ac,#412dbc,#4331c6,#4433cb,#4434cf,#4535d2,#4536d4,#4743e7,#4744e8,#4848ec,#484cef,#4756f7,#465efb,#4563fd,#4367fd)"></i><i style="left:54.76px;width:1.70px;background:linear-gradient(#3c71ff,#3777fe,#1da9e0,#0eb2d4,#09bcbe,#39c995,#30c5a2,#10b2d5,#2c8ff1,#4746ea,#4536d4,#4331c7,#3f28ae,#3e26a8,#3e26a8,#3f28af,#4746ea,#475cfa,#475cfa,#484ff2,#463bdc,#43c,#4332ca,#43c,#4435d1,#463adc,#4758f8,#4269fe,#259be8,#17aedb,#18addb,#2699e9,#416bfe,#484ff2,#484aee,#4746eb,#4742e6,#463ee1,#463bdc,#4538d7,#4435d0,#463bdd,#4538d8,#463ada,#4744e8,#4850f2,#4758f8,#465dfa,#4561fc)"></i><i style="left:56.16px;width:1.70px;background:linear-gradient(#3c71ff,#3579fd,#19acdc,#0bb3d2,#05bbc1,#34c79c,#29c3aa,#19acdc,#2e84f8,#4434cf,#3e27ab,#3e26a8,#3e26a8,#3e26a8,#3e26a8,#3e26a8,#463ee1,#484ff2,#484bee,#463bdc,#3f28ad,#3e26a8,#3e27ac,#3f29b1,#402ab4,#412cb9,#4848ec,#475af9,#2b91ef,#1da8e0,#1baade,#2994ed,#4660fb,#463de0,#4537d5,#4434ce,#4332c9,#4331c6,#422fc2,#412ebe,#402bb8,#4332c9,#4433cb,#4537d6,#4741e4,#484bef,#4853f5,#4757f7,#475bf9)"></i><i style="left:57.56px;width:1.70px;background:linear-gradient(#426afe,#3f6eff,#23a1e4,#1aabdd,#01b9c7,#38c896,#35c79a,#07b5cf,#2b90ef,#4747eb,#4639da,#4536d4,#4230c4,#422fc1,#412dbd,#412ebe,#4745e9,#4756f7,#4851f4,#4740e4,#412ebe,#402bb7,#412ebe,#422fc1,#422fc2,#422fc1,#4848ec,#4758f8,#2d8df2,#22a2e4,#22a2e4,#2d8af5,#4853f5,#412cba,#3f28ae,#3e27aa,#3e26a8,#3e26a8,#3e26a8,#3e26a8,#3f29b2,#4537d6,#473fe3,#4849ed,#484ef1,#4758f8,#465efb,#4660fc,#4562fc)"></i><i style="left:58.97px;width:1.70px;background:linear-gradient(#3d70ff,#3777fe,#1baade,#0db3d3,#07bcc0,#37c897,#32c69f,#09b4d1,#2b90f0,#4745e9,#4434cf,#422ebf,#3e27ab,#3e27ab,#402ab3,#422fc1,#484cf0,#4562fc,#465ffb,#484bef,#4332c8,#3e27ac,#3e26a8,#3e26a8,#3f29b1,#402cb8,#4848ec,#4757f7,#2d89f5,#259be7,#259de7,#2d8af4,#4759f8,#4538d7,#4537d6,#4537d5,#4434cf,#4331c6,#412dbc,#402ab5,#3f29b1,#4230c4,#4331c7,#4434cf,#463ee1,#4849ed,#4851f3,#4756f6,#475bf9)"></i><i style="left:60.37px;width:1.70px;background:linear-gradient(#4465fd,#416bfe,#249fe5,#1baade,#04b6cc,#29c3a9,#20c1b1,#19acdc,#2e87f7,#4537d6,#402ab3,#3e26a8,#3e26a8,#3e26a8,#3e26a8,#3e26a8,#4538d8,#484cf0,#4849ed,#463adb,#3e26a8,#3e26a8,#3e26a8,#3e26a8,#3e26a8,#3e26a8,#4741e5,#4852f4,#2f82fa,#2b92ef,#2a93ee,#2e83f9,#4756f6,#4435d1,#4435d1,#4434ce,#4433cd,#4434cf,#4435d1,#4535d2,#4435d1,#463de0,#463cdf,#463de0,#4741e5,#4848ec,#484df1,#4852f4,#4758f8)"></i><i style="left:61.78px;width:1.70px;background:linear-gradient(#4465fd,#3f6eff,#1ea6e1,#0bb3d2,#10beba,#3bc992,#33c79c,#05b6ce,#2994ed,#484bef,#463bdd,#4435d2,#422fc0,#412dbd,#412dbc,#412dbc,#4746ea,#4759f8,#4755f6,#4743e7,#412dbd,#3f29b2,#402ab4,#402bb7,#402bb6,#3f29b1,#4743e7,#4851f3,#2f82f9,#2994ed,#2796eb,#2e86f7,#4756f6,#43c,#4331c8,#4230c4,#4230c3,#4331c6,#4332ca,#43c,#4332ca,#4639d9,#463bdd,#4742e6,#484bef,#4757f7,#465efb,#4660fb,#4561fc)"></i><i style="left:63.18px;width:1.70px;background:linear-gradient(#3b73fe,#337afd,#17aeda,#01b8ca,#20c1b1,#4ecc81,#4bcb84,#0dbdbb,#249ee6,#4757f7,#4746ea,#473fe3,#4539d9,#4538d8,#4538d8,#4639da,#4853f5,#4367fd,#4563fc,#4850f2,#4538d8,#4330c5,#412cb9,#3f28ad,#3e26a8,#3e26a8,#4743e7,#4755f6,#2e87f7,#2699e9,#259ce7,#2c8ef1,#4660fc,#4740e3,#463cdf,#4536d3,#4230c4,#402bb6,#3e27ab,#3e26a8,#3e26a8,#402cb8,#422ec0,#4435d0,#4744e8,#4755f6,#4562fc,#4368fe,#416bfe)"></i><i style="left:64.58px;width:1.70px;background:linear-gradient(#4464fd,#4367fd,#2699e9,#1fa5e2,#08b4d1,#26c2ac,#27c2ac,#0eb2d4,#2c90f0,#4743e7,#4434cf,#4230c4,#402bb6,#402ab5,#412cb9,#422fc2,#484ef1,#4466fd,#4563fd,#4852f4,#463cdf,#4537d6,#4639da,#463cdf,#473fe3,#4741e5,#475af9,#4367fd,#2a93ee,#259be8,#2895ec,#2f80fa,#4850f3,#412ebe,#4330c5,#4330c5,#422ec0,#402bb8,#3f29b2,#3f28ae,#3e28ac,#422ebf,#4331c7,#4538d7,#4745ea,#4852f4,#475bf9,#465efb,#4562fc)"></i><i style="left:65.99px;width:1.70px;background:linear-gradient(#3e6fff,#3579fd,#15afd9,#01b8c8,#1cc0b3,#35c79a,#27c2ab,#17aeda,#2d8af4,#4741e4,#4537d6,#4537d5,#4433cd,#4433cd,#4332ca,#4230c4,#4747eb,#4758f8,#4853f4,#473fe2,#3e27aa,#3e26a8,#3e26a8,#3e26a8,#3e27aa,#3f29b2,#4849ed,#465efb,#2a93ed,#21a3e3,#23a1e4,#2d8af4,#4756f6,#4331c7,#4434ce,#4538d8,#463bde,#463bde,#4639da,#4537d6,#4537d6,#4741e4,#4743e7,#4747eb,#4849ed,#484ef1,#4851f3,#4851f4,#4755f6)"></i><i style="left:67.39px;width:1.70px;background:linear-gradient(#4564fd,#406cfe,#20a4e3,#0fb2d5,#0abdbd,#31c6a0,#28c2ab,#14b0d8,#2d8bf4,#4741e5,#4538d7,#4538d8,#4536d4,#4536d4,#4435d1,#4433cd,#484aee,#475cfa,#4756f7,#4743e7,#422ebf,#402bb8,#412dbb,#412cbb,#402ab5,#3f28ad,#4740e4,#4850f2,#307ffb,#2c8ef2,#2d8df3,#3578fd,#4747eb,#3e26a8,#3e27aa,#402ab4,#412dbd,#422fc2,#4230c4,#4230c3,#422ebf,#4434cd,#4435d0,#463adb,#4744e8,#4851f4,#475cfa,#4561fc,#4465fd)"></i><i style="left:68.80px;width:1.70px;background:linear-gradient(#426afe,#3a74fe,#1aacdd,#05b6cd,#12beb9,#30c5a1,#20c1b1,#1caadf,#2f80fa,#4331c7,#3f29b1,#3f29b0,#3e26a8,#3e26a8,#3e26a8,#3e26a8,#473fe2,#4854f6,#4852f4,#4742e6,#422fc2,#422fc0,#4332ca,#4435d1,#4435d0,#4332c8,#4848ec,#4755f6,#2e85f8,#2895ec,#2896eb,#2e83f9,#484ff2,#3e27aa,#3e26a8,#3e26a8,#3e26a8,#3e26a8,#3e26a8,#3e26a8,#3e26a8,#422ebe,#4434d0,#463cde,#4744e9,#484ff2,#4756f6,#4758f8,#475bf9)"></i><i style="left:70.20px;width:1.70px;background:linear-gradient(#3975fe,#337afd,#1babde,#10b2d5,#01b9c6,#24c1ae,#23c1af,#0ab4d2,#2a92ee,#4747eb,#4538d8,#43c,#412cb9,#3f28ae,#3e26a8,#3e26a8,#4743e7,#475bfa,#475dfa,#484ef1,#4639da,#4435d1,#4536d4,#4537d6,#4536d3,#4331c8,#4849ed,#4757f7,#2d89f6,#269ae9,#259be8,#2d89f5,#4757f7,#4331c7,#4230c3,#422ebf,#412dbc,#402bb8,#3f29b1,#3e27aa,#3e26a8,#422fc1,#4435d2,#473fe3,#484aee,#4755f6,#465dfa,#4561fc,#4465fd)"></i><i style="left:71.60px;width:1.70px;background:linear-gradient(#3d70ff,#3876fe,#20a5e2,#1da8e0,#19addc,#06b5cf,#05b6cd,#1ca9df,#2c8ef1,#484df0,#4745e9,#4742e6,#4538d8,#4332c8,#402ab5,#3e26a8,#463bdc,#484df0,#484aee,#463de0,#412cbb,#412cbb,#412dbb,#3f29b2,#3e26a8,#3e26a8,#463cdf,#484ef1,#2f80fa,#2b92ee,#2a93ee,#307ffb,#484cef,#3e26a8,#3e26a8,#3e26a9,#402ab5,#4230c4,#4435d0,#4536d4,#4435d2,#463adb,#463bdd,#4743e7,#484df0,#475cfa,#4367fd,#416bfe,#406dfe)"></i><i style="left:73.01px;width:1.70px;background:linear-gradient(#416bfe,#3777fe,#12b1d6,#02bac4,#20c1b1,#32c69f,#29c3aa,#0fb2d5,#2d8bf3,#473fe2,#4331c8,#412dbc,#3e27ac,#3e26a8,#3e26a8,#3e26a8,#463cdf,#4851f3,#484df0,#4639d9,#3e26a8,#3e26a8,#3e26a8,#3e26a8,#3e26a8,#3e26a8,#4740e4,#4851f3,#2f80fa,#2d8cf3,#2e85f8,#406cfe,#463adb,#3e26a8,#3e26a8,#3e26a8,#3e26a8,#3e27aa,#3f28ae,#3e27aa,#3e26a8,#3f28ae,#402ab3,#4230c4,#463adc,#4745e9,#484bef,#484df1,#4851f3)"></i><i style="left:74.41px;width:1.70px;background:linear-gradient(#416cfe,#3b72ff,#1fa6e2,#19addc,#07b5cf,#0bbdbd,#10beba,#11b2d5,#2b91ef,#484cef,#463de0,#4536d4,#422fc0,#402bb8,#3f29b1,#3e28ac,#473fe3,#4853f4,#484ef1,#463ddf,#3f28ad,#3e26a8,#3e26a8,#3f28ae,#412dbc,#4332c9,#484ff2,#4661fc,#2b92ee,#249ee6,#2798ea,#317efb,#4746ea,#3e26a8,#3e26a8,#3e26a8,#3e27ac,#3f28af,#3e27a9,#3e26a8,#3e26a8,#3f29b2,#412dbc,#4434ce,#4740e3,#484ef1,#4759f9,#465efb,#4561fc)"></i><i style="left:75.82px;width:1.70px;background:linear-gradient(#416bfe,#3c72ff,#1fa6e2,#18addb,#08b5d0,#02bac4,#01b9c8,#1ca9df,#2d89f5,#4743e7,#4537d5,#4331c7,#3f29b0,#3e26a8,#3e26a8,#3e26a8,#463adb,#484ef1,#484aee,#4639da,#3e26a8,#3e26a8,#3e26a8,#3e26a8,#3f28ad,#3f29b1,#4745e9,#4756f7,#2d89f5,#2699e9,#2797eb,#307ffb,#4849ed,#3e26a8,#3e26a8,#3e26a8,#3e26a8,#3e26a8,#3e27ac,#3f29b1,#402bb6,#4332c8,#4434ce,#4538d8,#4741e5,#484df0,#4755f6,#4759f8,#475cfa)"></i><i style="left:77.22px;width:1.70px;background:linear-gradient(#3a74fe,#347afd,#1aabdd,#0db3d3,#02bbc3,#23c1af,#24c1ae,#07b5cf,#2b92ee,#4743e8,#4434ce,#422fc1,#3f29af,#3e26a8,#3e26a8,#3e26a8,#4539d8,#484cf0,#4849ed,#463bdc,#3e27aa,#3f28ad,#412ebd,#4433cd,#4538d8,#463cde,#4758f8,#426afe,#259ce7,#1baade,#1ea8e1,#2b91ef,#475cfa,#4434cf,#4332c9,#4331c6,#4332ca,#4536d4,#463cdf,#4740e4,#4740e4,#4743e7,#463ee1,#463adb,#4740e3,#4849ed,#4853f5,#475af9,#4561fc)"></i><i style="left:78.62px;width:1.70px;background:linear-gradient(#3b72ff,#3678fe,#1ca9df,#13b0d7,#01b8c9,#11beb9,#12beb9,#13b0d7,#2d8cf3,#473ee1,#4331c6,#412dbc,#402ab4,#412dbb,#4331c7,#4435d2,#484ff2,#4562fc,#475bf9,#4745e9,#422ebf,#402bb6,#412dbb,#422ec0,#4230c3,#4331c6,#484df0,#4660fb,#2994ed,#20a5e2,#1fa6e2,#2a93ed,#4561fc,#4742e6,#4741e5,#463ee1,#463bdc,#4538d7,#4536d4,#4435d1,#4435d1,#463ee1,#4743e7,#4849ed,#484cef,#4854f5,#4758f8,#4758f8,#4759f8)"></i><i style="left:80.03px;width:1.70px;background:linear-gradient(#3579fd,#307ffb,#16afda,#08b4d1,#02bac5,#0fbeba,#0bbdbd,#13b0d7,#2b91ef,#484aee,#4742e6,#4744e8,#4741e5,#4740e3,#463cdf,#463ada,#4854f6,#416bfe,#4269fe,#4759f8,#4848ec,#4743e7,#4742e7,#4740e4,#463bdd,#4435d1,#484ef1,#475cfa,#2c8ff0,#21a3e3,#1da8e0,#269ae9,#416bfe,#484bef,#4849ed,#4743e7,#463cde,#4434ce,#412cbb,#3f28ad,#3e27a9,#4230c3,#4538d7,#4746ea,#4853f4,#465ffb,#4367fd,#426afe,#406cfe)"></i><i style="left:81.43px;width:1.70px;background:linear-gradient(#4562fc,#4466fd,#2895ec,#259ce7,#1fa5e2,#16afd9,#0ab4d1,#19acdc,#2a93ee,#4853f5,#484aee,#4745ea,#463de0,#463bde,#463bdc,#4639d9,#484ff2,#465efb,#4755f6,#4741e4,#402ab3,#3f28ae,#412cb8,#422fc0,#422ec0,#402bb7,#4743e7,#4853f4,#2e86f8,#269ae9,#239fe5,#2b91ef,#4562fc,#4744e8,#4746ea,#4745e9,#4742e6,#463ddf,#4536d3,#422fc0,#3f28ae,#3f29b2,#402ab4,#4230c4,#473fe3,#484ff2,#475cfa,#4563fc,#4367fd)"></i><i style="left:82.84px;width:1.70px;background:linear-gradient(#426afe,#3c71ff,#1ea7e1,#0bb3d2,#10beba,#2dc4a5,#2fc5a3,#01b9c6,#2798ea,#4851f3,#4743e7,#473fe2,#4538d8,#4434d0,#4230c3,#402ab5,#4740e4,#4853f5,#4850f2,#4740e4,#412dbb,#3f29b2,#3f29b0,#3f28ae,#4029b2,#412dbd,#484df1,#4562fc,#2896ec,#1fa6e2,#1fa5e2,#2b92ee,#4660fb,#4740e4,#4740e3,#463de0,#4538d8,#43c,#422fc0,#402bb7,#3f29b2,#422fc1,#4331c8,#4536d4,#4741e5,#484ff2,#475bf9,#4563fc,#4369fe)"></i><i style="left:84.24px;width:1.70px;background:linear-gradient(#426afe,#3c72ff,#1ea8e1,#12b1d6,#01b9c6,#12beb9,#11beba,#13b0d7,#2d8cf3,#473fe2,#4332ca,#4230c4,#412ebe,#422fc2,#4331c8,#4434cd,#484df0,#4660fc,#475af9,#4745e9,#402cb8,#3e26a8,#3e26a8,#3e26a8,#3e26a8,#3e26a8,#4744e8,#475af9,#2c8ff1,#249ee6,#269ae9,#2e83f9,#4850f3,#4230c4,#4434cf,#4537d7,#4538d8,#4536d3,#4331c7,#402bb7,#3e26a8,#3f28af,#402ab5,#4332c9,#473fe3,#484df1,#4756f7,#475af9,#475dfa)"></i><i style="left:85.64px;width:1.70px;background:linear-gradient(#3e6fff,#3876fe,#1baadf,#07b5cf,#15bfb8,#2ec4a4,#2ec5a4,#01b8c8,#2994ed,#4746ea,#4536d4,#4434cf,#43c,#4536d3,#4537d6,#4536d4,#484ef1,#4660fc,#475af9,#4747eb,#4330c5,#412dbd,#422fc2,#4332ca,#4435d1,#4538d7,#4854f6,#4466fd,#2798ea,#1fa6e1,#1fa5e2,#2b92ee,#4660fb,#4740e4,#4744e8,#4848ec,#484aee,#4848ec,#4744e8,#463de0,#4537d6,#463bdd,#473fe2,#484aee,#4854f5,#4563fc,#406dfe,#3d70ff,#3c71ff)"></i><i style="left:87.05px;width:1.70px;background:linear-gradient(#416cfe,#3b73fe,#1ca9e0,#09b4d1,#11beb9,#2cc4a7,#2dc4a6,#02b7cb,#2b92ee,#4743e7,#4434ce,#4331c7,#4230c4,#4332cb,#43c,#4330c5,#4745e9,#4756f6,#484ff2,#463cde,#3e26a8,#3e26a8,#3e26a8,#3e26a8,#3e26a8,#3e26a8,#4742e6,#4756f7,#2d8bf3,#249de6,#249ee6,#2d8bf3,#475af9,#4538d8,#4537d7,#4434d0,#4230c3,#402bb6,#3f28ad,#3f28af,#412cb8,#4537d6,#4740e3,#484aee,#484ef1,#4757f7,#465dfa,#465ffb,#4563fc)"></i><i style="left:88.45px;width:1.70px;background:linear-gradient(#4466fd,#406cfe,#22a1e4,#1aacdd,#07b5cf,#02bac5,#01b9c6,#1babde,#2e87f7,#463bdd,#4230c3,#412cb9,#3e28ac,#3e27ab,#3e27ab,#3f28ad,#4741e4,#4854f5,#4850f3,#473fe3,#412dbd,#412dbb,#422fc0,#422fc3,#4230c3,#4230c3,#4849ed,#475af9,#2d8bf4,#2796eb,#2b91ef,#3579fd,#4746ea,#3e26a8,#3e26a8,#3e26a8,#3e26a8,#3e26a8,#3f29af,#402bb7,#412cb8,#4230c4,#422fc0,#422fc3,#4537d6,#4741e5,#484aee,#484ff2,#4854f5)"></i><i style="left:89.86px;width:1.70px;background:linear-gradient(#426afe,#3b73fe,#1ca9df,#08b5d0,#09bdbe,#1abfb5,#0fbeba,#14b0d8,#2d8df2,#4743e8,#4539d9,#4537d5,#4332c8,#422fc0,#402bb7,#3f29b2,#4743e8,#475af9,#475af9,#484df0,#473fe3,#4740e4,#4743e7,#4745ea,#4746ea,#4744e8,#4758f8,#4465fd,#2b91ef,#269ae8,#2896ec,#2f81fa,#484ff2,#402bb6,#402bb8,#412cba,#412dbd,#422ebe,#412dbc,#402bb7,#3f29b0,#422fc0,#4434cf,#4741e5,#484ef1,#475cfa,#4561fc,#465ffb,#465ffb)"></i><i style="left:91.26px;width:1.70px;background:linear-gradient(#3a74fe,#317dfc,#14b0d8,#06b5cf,#02bac4,#0dbdbb,#12beb9,#0ab4d2,#2a92ee,#4747ec,#4537d6,#4332ca,#412ebd,#412dbc,#412cba,#412cba,#4746ea,#475cfa,#4759f9,#4848ec,#43c,#4330c5,#43c,#4536d4,#4538d8,#4537d7,#484ff1,#475bfa,#2d8af5,#2797ea,#2896eb,#2f82f9,#484ff1,#3f28af,#3e27aa,#3e26a8,#3e27aa,#3f29b0,#402bb7,#412dbc,#412ebe,#43c,#4434ce,#4537d6,#4741e5,#484df1,#4758f8,#465dfb,#4562fc)"></i><i style="left:92.66px;width:1.70px;background:linear-gradient(#3d70ff,#3677fe,#1baade,#0db3d4,#01bac5,#0abdbd,#06bcc0,#16aeda,#2c8ef1,#4747eb,#473fe2,#473fe2,#4639da,#4537d6,#4435d1,#4434cf,#484ef1,#4562fc,#475cfa,#4848ec,#4230c4,#412dbc,#4230c3,#4434ce,#4537d5,#4538d7,#4853f4,#4562fc,#2b90f0,#269ae8,#2994ed,#317efb,#484df0,#412dbb,#4434ce,#463adb,#463bdd,#4536d4,#4230c3,#3f29b2,#3e26a8,#3f29b2,#402ab5,#422ec0,#463bdd,#4747eb,#4851f3,#4758f8,#465ffb)"></i><i style="left:94.07px;width:1.70px;background:linear-gradient(#3f6efe,#3974fe,#1ca9df,#0ab4d2,#0bbdbd,#22c1b0,#1cc0b3,#0fb2d5,#2d8df2,#4742e7,#4536d2,#4331c7,#402ab3,#3e26a8,#3e26a8,#3e26a8,#463adb,#484ff2,#484ff2,#4742e6,#4331c7,#4230c3,#4230c4,#4330c4,#4331c8,#43c,#484ef1,#465efb,#2c8ef1,#259be8,#2698ea,#2e83f9,#484ff1,#3f29b0,#3e27aa,#3e26a8,#3e26a8,#3e26a8,#3e26a8,#3e26a8,#3e26a8,#3f29b0,#402ab3,#422ebf,#463bde,#484bef,#4758f8,#4660fc,#4465fd)"></i><i style="left:95.47px;width:1.70px;background:linear-gradient(#475cfa,#4562fc,#259be8,#1caadf,#01b8c8,#20c1b1,#2cc4a7,#01b9c6,#2a93ee,#4745e9,#4330c4,#3f29b0,#3e26a8,#3e26a8,#3e27aa,#3f28ae,#473fe2,#4853f5,#484ff1,#463bdd,#3e26a8,#3e26a8,#3e26a8,#3e26a8,#3e26a8,#3e26a8,#4537d5,#4848ec,#317dfc,#2b92ee,#2995ec,#2f82fa,#484ff2,#422ebe,#402ab5,#3e27ab,#3e26a8,#3e27aa,#402ab4,#412dbb,#412dbc,#4332ca,#4434ce,#4639d9,#473fe2,#484aee,#4851f3,#4853f5,#4755f6)"></i><i style="left:96.88px;width:1.70px;background:linear-gradient(#406cfe,#3975fe,#1babde,#04b6cd,#19bfb5,#2fc5a2,#32c69f,#04bbc1,#2699e9,#484ef1,#463cdf,#4537d6,#4332c9,#4330c5,#422fc2,#4230c3,#484bee,#465ffb,#475bfa,#4849ed,#4331c7,#402bb7,#3f29b0,#3f28ad,#3f28ae,#402ab3,#4847ec,#4759f8,#2d89f5,#2797eb,#2994ed,#307ffb,#484df0,#3f29b1,#412dbc,#4331c6,#4332ca,#4331c6,#412cba,#3e27ab,#3e26a8,#402ab3,#422fc2,#4538d8,#4746ea,#4854f5,#465dfa,#4561fc,#4465fd)"></i><i style="left:98.28px;width:1.70px;background:linear-gradient(#4466fd,#406cfe,#21a3e3,#18addb,#04b6cc,#03bbc2,#03bbc3,#19addc,#2d88f6,#473fe2,#4433cb,#422fc2,#402bb7,#402bb8,#412cba,#412cba,#4742e6,#4755f6,#484ff2,#463bdd,#3e26a8,#3e26a8,#3e26a8,#3e28ac,#402ab5,#402bb7,#4741e5,#484ff2,#317dfb,#2d8bf3,#2d8af5,#3a74fe,#4742e6,#3e26a8,#3e26a8,#3e26a8,#3e27ac,#3f28af,#3f28ae,#3e27ac,#3f28af,#4331c7,#4536d4,#463de0,#4743e7,#484df0,#4852f4,#4853f5,#4755f6)"></i><i style="left:99.68px;width:1.70px;background:linear-gradient(#416bfe,#3e6fff,#23a0e5,#1ca9df,#07b5cf,#0bbdbc,#1ec0b2,#01b8ca,#2798ea,#484ff2,#473fe2,#463adc,#4435d1,#4434ce,#4433cd,#4435d2,#4853f5,#416cfe,#416bfe,#4759f8,#4744e9,#463bdd,#4639d9,#463adb,#463de0,#4742e6,#465dfb,#3f6eff,#259ce7,#1ea6e1,#22a2e4,#2d8cf3,#4758f8,#4331c7,#4331c7,#4332ca,#4434cf,#4537d6,#463bdc,#473fe3,#4744e8,#4850f3,#4853f5,#4756f7,#4855f6,#475cfa,#4561fc,#4563fc,#4465fd)"></i><i style="left:101.09px;width:1.70px;background:linear-gradient(#337bfd,#2e84f8,#02b7cb,#17bfb6,#30c5a1,#36c899,#2ec5a4,#04b6cc,#2a93ee,#4848ec,#4741e5,#4747eb,#4849ed,#484aee,#4745e9,#463cdf,#4850f3,#4660fb,#4759f8,#4746ea,#412cba,#3e27ac,#3e26a9,#3e26a9,#3e28ac,#402ab5,#484bef,#465efb,#2c8ff1,#269be8,#2798ea,#2e86f7,#4757f7,#4435d0,#4536d3,#4434cf,#4331c7,#422ebe,#402bb7,#402ab4,#402bb6,#4332ca,#4435d1,#4538d8,#4743e7,#484ef1,#4758f8,#465ffb,#4466fd)"></i><i style="left:102.49px;width:1.70px;background:linear-gradient(#4465fd,#4269fe,#249ee6,#1aabdd,#01bac5,#23c1af,#28c2ab,#07b5cf,#2d8df2,#463bdc,#412cba,#3f29b1,#3e26a8,#3e26a8,#3e26a9,#3f29b0,#4747eb,#4563fc,#4465fd,#4756f6,#4743e7,#4537d6,#4331c6,#412dbb,#402bb7,#412cb9,#4848ec,#475cfa,#2c90f0,#249ee6,#269ae8,#2e83f9,#4850f2,#422fc1,#4433cd,#4639d9,#463ee1,#4740e3,#463ee0,#4538d8,#4433cb,#4434ce,#4332ca,#4434d0,#463ee1,#484cef,#4758f8,#4660fb,#4466fd)"></i><i style="left:103.90px;width:1.70px;background:linear-gradient(#3c72ff,#317dfc,#0cb3d3,#02bbc3,#1dc0b3,#28c3aa,#24c1ae,#05b6ce,#2994ed,#484ff2,#4740e4,#4538d8,#422fc3,#402bb8,#3f29af,#3e27a9,#463de0,#4851f4,#484ef1,#473ee2,#412dbd,#412ebe,#4332c9,#4435d1,#4535d2,#43c,#4848ec,#4854f6,#2f82fa,#2c8ef2,#2d8bf4,#3678fe,#4848ec,#3f28af,#402ab5,#402bb6,#402ab5,#402ab5,#412cb8,#422ebf,#4331c7,#463adb,#463cdf,#463cdf,#463de0,#4742e6,#4848ec,#484df0,#4853f5)"></i><i style="left:105.30px;width:1.70px;background:linear-gradient(#4660fc,#4465fd,#2699e9,#22a2e4,#19addc,#0eb3d4,#0db3d3,#22a2e4,#317dfc,#4332c8,#402ab5,#412dbb,#422ebe,#4331c8,#4332ca,#4331c8,#4747eb,#475af9,#4755f6,#4744e8,#4433cd,#4332c9,#4332ca,#4230c4,#412cb9,#3f28af,#4740e3,#4850f3,#2f82f9,#2a93ed,#2994ed,#2f81fa,#484ef1,#402bb7,#402ab5,#412cb9,#422fc3,#4332ca,#4332c9,#422fc1,#402bb6,#422ebf,#422fc2,#43c,#463bde,#4747eb,#4851f3,#4757f7,#475cfa)"></i><i style="left:106.70px;width:1.70px;background:linear-gradient(#406dfe,#3b72ff,#20a4e3,#17aeda,#01b9c7,#1dc0b3,#27c2ac,#01b8ca,#2994ed,#4744e8,#4331c8,#3f29b2,#3e26a8,#3e26a8,#3e26a8,#3e26a8,#4743e7,#475cfa,#475bf9,#484aee,#4435d1,#4332ca,#43c,#43c,#4331c8,#4230c3,#484bef,#465dfa,#2c8ff0,#249de6,#2699e9,#2f82f9,#484ff1,#402bb7,#4330c5,#4536d3,#4639d9,#4539d8,#4536d3,#4434cf,#4434ce,#463cde,#473fe2,#4742e6,#4848ec,#4852f4,#475af9,#465ffb,#4464fd)"></i><i style="left:108.11px;width:1.70px;background:linear-gradient(#4466fd,#3a74fe,#13b0d7,#0dbdbb,#34c79c,#48cb86,#41ca8c,#0cbdbc,#2699e9,#484ef1,#463bdc,#4434cf,#422fc2,#4230c3,#4330c5,#4230c3,#4746ea,#4757f7,#4850f3,#463cdf,#3e26a8,#3e26a8,#3e26a8,#3e26a8,#3e26a8,#3e26a8,#473fe2,#4755f6,#2d8df2,#249fe6,#249de6,#2e87f7,#4851f3,#402ab5,#3f29b0,#3f28ae,#3f28ad,#3e28ac,#3e27ac,#3e28ac,#3f29b1,#43c,#463adc,#4745ea,#484cef,#4757f7,#465ffb,#4563fc,#4366fd)"></i><i style="left:109.51px;width:1.70px;background:linear-gradient(#3f6eff,#3a73fe,#1fa5e2,#19addc,#06b5cf,#02bbc3,#02bbc3,#1aacdd,#2d88f6,#463ddf,#43c,#4332c8,#422fc1,#4230c4,#4332c9,#4435d1,#4850f2,#4367fd,#4465fd,#4851f3,#4639da,#412ebe,#3f28ae,#3e26a8,#3e27ac,#3f29b2,#4744e8,#4852f4,#3080fb,#2d8cf3,#2d8af4,#3579fd,#484aee,#402ab4,#412ebe,#4332c8,#4435d1,#4537d6,#4536d4,#4434cd,#4331c7,#4536d5,#4639d9,#463ee1,#4743e7,#484bef,#484ff2,#4850f3,#4854f5)"></i><i style="left:110.92px;width:1.70px;background:linear-gradient(#4661fc,#4465fd,#2798ea,#21a3e3,#11b1d6,#03bbc2,#11beb9,#0cb3d3,#2c8ff1,#4740e4,#4331c7,#402bb7,#3e26a8,#3e26a8,#3e26a8,#3e26a8,#4740e4,#4854f6,#4850f3,#473fe3,#412cba,#412dbc,#4433cb,#4538d7,#463adb,#4537d6,#484cf0,#4759f9,#2d8af5,#269ae8,#259ce7,#2d8cf3,#475af9,#4538d8,#4537d5,#4435d1,#4434cd,#4332c9,#422fc2,#412cba,#3f29b1,#412dbc,#422ec0,#4434cf,#4741e5,#4851f3,#475cfa,#4561fc,#4563fc)"></i><i style="left:112.32px;width:1.70px;background:linear-gradient(#347afd,#2f82fa,#08b5d0,#12beb9,#39c895,#64cd6f,#6acd6a,#2ec5a4,#1ea8e0,#4562fc,#484ef1,#4742e6,#4434cf,#422fc2,#422fc0,#4331c6,#484ef1,#4561fc,#475bf9,#4849ed,#4434cf,#4537d6,#4741e4,#4849ed,#484bef,#4849ed,#465efb,#406cfe,#269be8,#1ea8e1,#20a4e3,#2c8ff1,#475bf9,#4435d1,#4537d6,#4639da,#463bdc,#463bdd,#463bdd,#4639d9,#4435d2,#4538d8,#4538d8,#463de0,#484aed,#4756f7,#465ffb,#4562fc,#4465fd)"></i><i style="left:113.72px;width:1.70px;background:linear-gradient(#4466fd,#3f6dfe,#249ee6,#17aedb,#07bcbf,#2dc4a5,#30c5a1,#01b9c7,#2797eb,#484ff2,#4744e8,#463ee1,#4433cb,#422fc2,#412cb9,#412dbc,#4746ea,#4759f8,#4757f7,#4849ed,#4538d7,#4435d1,#463bdd,#4742e7,#4848ec,#484bef,#475cfa,#4465fd,#2d89f5,#2b91ef,#2c8ff0,#2f81fa,#4756f7,#4536d3,#4434cf,#4536d3,#4537d6,#4538d7,#4537d5,#4434d0,#4332c9,#463bdc,#463de0,#4744e8,#484bef,#4854f5,#4759f8,#475af9,#475cfa)"></i><i style="left:115.13px;width:1.70px;background:linear-gradient(#3f6efe,#3a73fe,#2994ed,#249ee6,#1aabdd,#05b6ce,#02b7cb,#1da9e0,#2d8cf3,#475af9,#484bef,#4745ea,#463adb,#4434d0,#4536d4,#4740e4,#4758f8,#4368fe,#4367fd,#475bfa,#4850f2,#4745e9,#473fe2,#463de0,#463ada,#4745e9,#475bf9,#4368fe,#2f83f9,#2d8df2,#2c8ef2,#2f83f9,#4466fd,#4746ea,#4537d6,#4434cf,#4537d6,#4538d7,#4537d5,#4536d3,#4538d8,#4847ec,#4849ed,#484ef1,#4756f7,#465ffb,#4466fd,#4269fe,#416cfe)"></i><i style="left:116.53px;width:1.70px;background:linear-gradient(#3b72ff,#3579fd,#2b90ef,#269ae8,#1da8e0,#0db3d3,#0eb2d4,#23a1e5,#2e84f8,#4758f8,#484aed,#4744e8,#4539d9,#4435d1,#4537d6,#4742e6,#4855f6,#4561fc,#465efb,#4854f5,#4745e9,#4537d5,#4331c6,#4230c3,#4331c6,#4740e4,#475cfa,#416bfe,#307ffb,#2e84f9,#2f81fa,#3876fe,#4660fb,#4746ea,#473ee1,#473fe2,#4743e7,#4744e8,#4741e5,#4742e6,#4744e9,#4851f3,#4852f4,#4756f6,#475af9,#4561fc,#4466fd,#4368fe,#416bfe)"></i><i style="left:117.94px;width:1.70px;background:linear-gradient(#4368fe,#406dfe,#2f80fa,#2d8af4,#2798ea,#1fa5e2,#1ea8e0,#259be8,#2d89f5,#426afe,#465efb,#4757f7,#484bee,#4740e4,#473fe2,#4849ed,#475cfa,#416bfe,#406cfe,#4562fc,#4755f6,#484cef,#4747eb,#4848ec,#4848ec,#484ff2,#465dfb,#4562fc,#426afe,#3f6dfe,#3d70ff,#3d71ff,#4466fd,#4852f4,#484bef,#4747eb,#4745e9,#4742e6,#463de0,#473ee2,#4744e8,#4854f5,#4757f8,#475dfa,#4562fc,#4368fe,#416bfe,#426afe,#4269fe)"></i><i style="left:119.34px;width:1.70px;background:linear-gradient(#3e6fff,#3d70ff,#3578fd,#327bfc,#2e85f8,#2a93ee,#2797eb,#2d8cf3,#327bfc,#4660fc,#4757f7,#4755f6,#484ff2,#484bef,#484bef,#4850f3,#475cfa,#4564fd,#4561fc,#475af9,#4850f3,#484aee,#4747eb,#4747eb,#4745e9,#484ef1,#475bf9,#4561fc,#4368fe,#416bfe,#406dfe,#406cfe,#4564fd,#4852f4,#484bee,#4848ec,#4849ed,#484aee,#484cef,#4850f3,#4852f4,#475bfa,#475af9,#4759f8,#4759f9,#475cfa,#465ffb,#4561fc,#4464fd)"></i><i style="left:120.74px;width:1.70px;background:linear-gradient(#4564fd,#4564fd,#426afe,#3d70ff,#307ffb,#2c8ef1,#2b91ef,#2f82f9,#3e6fff,#4758f8,#4851f4,#4851f3,#484df0,#484aee,#484aee,#484ef1,#4758f8,#465ffb,#475cfa,#4755f6,#484bee,#4743e7,#4741e5,#4743e7,#4746ea,#4850f3,#465ffb,#4368fe,#3d70ff,#3975fe,#3677fe,#3777fe,#3f6fff,#465efb,#4756f6,#4851f3,#484ff1,#484bef,#4747eb,#4848ec,#484df0,#4758f8,#475af9,#475af9,#475af9,#475cfa,#465dfb,#465ffb,#4561fc)"></i><i style="left:122.15px;width:1.70px;background:linear-gradient(#4564fd,#4563fd,#4466fd,#4269fe,#3975fe,#2e83f9,#2e86f7,#327dfc,#3e6fff,#465ffb,#4758f8,#4854f6,#484ef1,#484aee,#484bee,#484ff2,#4758f8,#465ffb,#465ffb,#475bfa,#4755f6,#484ef1,#4849ed,#4745e9,#4743e7,#4849ed,#4854f5,#475bf9,#4561fc,#4464fd,#4466fd,#4466fd,#4660fb,#4853f5,#484ef1,#484ef1,#4850f2,#484ff2,#484df0,#484ef1,#4850f3,#4759f8,#475af9,#475cfa,#465efb,#4561fc,#4564fd,#4465fd,#4367fd)"></i><i style="left:123.55px;width:1.70px;background:linear-gradient(#4758f8,#4756f7,#4759f8,#465ffb,#406dfe,#317efb,#2e83f9,#3678fd,#426afe,#475cfa,#4757f7,#4756f7,#4853f4,#4850f3,#4852f4,#4756f7,#465ffb,#4466fd,#4465fd,#4660fb,#4758f8,#4853f5,#4850f3,#4850f3,#4851f3,#4758f8,#4563fd,#416afe,#3d70ff,#3c72ff,#3d71ff,#3f6efe,#4466fd,#4757f7,#484ef1,#4848ec,#4745e9,#4743e7,#4742e6,#4745e9,#484aed,#4853f5,#4756f7,#4759f9,#475dfa,#4660fb,#4561fc,#4561fc,#4561fc)"></i><i style="left:124.96px;width:1.70px;background:linear-gradient(#4563fd,#4563fd,#4465fd,#4368fe,#3875fe,#2e86f8,#2d8af4,#3080fb,#3b72ff,#4465fd,#4660fb,#465efb,#4759f8,#4755f6,#4854f5,#4757f7,#465efb,#4464fd,#4464fd,#4561fc,#475bf9,#4755f6,#484ff2,#484bee,#4747eb,#484cef,#4755f6,#475cfa,#4562fc,#4464fd,#4465fd,#4465fd,#4660fc,#4757f7,#4853f5,#4852f4,#4852f4,#4851f3,#4850f3,#4851f3,#4853f5,#4759f8,#475af9,#475cfa,#4660fc,#4466fd,#416cfe,#3f6eff,#3f6fff)"></i><i style="left:126.36px;width:1.70px;background:linear-gradient(#406dfe,#406dfe,#3f6eff,#3c71ff,#327cfc,#2d89f5,#2d8bf3,#3080fa,#3b73fe,#4367fd,#4563fd,#4563fc,#4562fc,#4563fc,#4466fd,#416bfe,#3b72ff,#3875fe,#3b72ff,#416bfe,#4564fd,#465efb,#475cfa,#465dfa,#465ffb,#4465fd,#3f6eff,#3a73fe,#3777fe,#3677fe,#3777fe,#3776fe,#3a74fe,#3f6efe,#406cfe,#416bfe,#4269fe,#4465fd,#4660fb,#465efb,#465efb,#4564fd,#4465fd,#4367fd,#4368fe,#4369fe,#4368fe,#4368fe,#4369fe)"></i><i style="left:127.76px;width:1.70px;background:linear-gradient(#4562fc,#465ffb,#465efb,#4563fd,#3b73fe,#2e87f7,#2d8cf3,#307ffb,#3f6eff,#4660fc,#475cfa,#475bf9,#475af9,#475af9,#475cfa,#465ffb,#4465fd,#426afe,#426afe,#4465fd,#465efb,#4759f8,#4755f6,#4855f6,#4755f6,#475af9,#4561fc,#4465fd,#4367fd,#4269fe,#406cfe,#3e70ff,#3e6fff,#4269fe,#4464fd,#4660fb,#475cfa,#4757f7,#4854f5,#4854f5,#4755f6,#475af9,#475bfa,#475cfa,#465dfb,#465ffb,#4561fc,#4563fd,#4465fd)"></i><i style="left:129.17px;width:1.70px;background:linear-gradient(#4466fd,#4465fd,#4564fd,#4466fd,#3d70ff,#3080fb,#2e84f9,#3678fe,#4368fe,#475cfa,#4758f8,#4758f8,#4758f8,#4759f8,#475bf9,#465efb,#4564fd,#4368fd,#4368fe,#4466fd,#4561fc,#465dfb,#475bf9,#475af9,#475af9,#465efb,#4465fd,#4269fe,#416cfe,#406cfe,#416bfe,#426afe,#4367fd,#4660fc,#465efb,#465ffb,#4562fc,#4464fd,#4464fd,#4563fd,#4561fc,#4660fc,#465dfa,#475bfa,#475bf9,#475cfa,#475cfa,#465dfb,#465ffb)"></i><i style="left:130.57px;width:1.70px;background:linear-gradient(#4561fc,#4660fb,#4660fb,#4465fd,#3a74fe,#2e87f7,#2d8cf3,#3080fa,#3c71ff,#4466fd,#4563fd,#4563fc,#4561fc,#465ffb,#465efb,#465efb,#4660fb,#4660fc,#465ffb,#475dfa,#475af9,#4758f8,#4758f8,#4759f8,#4759f8,#475cfa,#465ffb,#4660fc,#4562fc,#4563fd,#4465fd,#4366fd,#4465fd,#465ffb,#475bfa,#475af9,#475af9,#475bf9,#475bf9,#475bf9,#475bf9,#475cfa,#475cfa,#475cfa,#465efb,#465ffb,#4660fc,#4561fc,#4563fc)"></i><i style="left:131.98px;width:1.70px;background:linear-gradient(#4563fd,#4564fd,#4564fd,#4466fd,#3f6eff,#347afd,#327cfc,#3b72ff,#4369fe,#4562fc,#4660fc,#465ffb,#475cfa,#4759f8,#4759f8,#475cfa,#4562fc,#4368fe,#416bfe,#416bfe,#4269fe,#4466fd,#4561fc,#465efb,#475cfa,#465ffb,#4563fd,#4367fd,#4269fe,#426afe,#4269fe,#4367fd,#4562fc,#475af9,#4756f7,#4755f6,#4757f7,#4759f8,#475bfa,#465efb,#4660fb,#4562fc,#4561fc,#4660fb,#465ffb,#465efb,#465efb,#465ffb,#4660fc)"></i><i style="left:133.38px;width:1.70px;background:linear-gradient(#426afe,#4368fe,#4466fd,#4368fe,#3c71ff,#307ffb,#2e83f9,#327cfc,#3a73fe,#3f6dfe,#406dfe,#3f6dfe,#406dfe,#416cfe,#4269fe,#4366fd,#4367fd,#4369fe,#426afe,#426afe,#426afe,#4269fe,#4369fe,#4368fe,#4367fd,#426afe,#3f6fff,#3a73fe,#3776fe,#3677fe,#3777fe,#3876fe,#3975fe,#3c71ff,#3e70ff,#3f6eff,#416cfe,#4369fe,#4465fd,#4564fd,#4564fd,#4466fd,#4465fd,#4465fd,#4464fd,#4465fd,#4368fe,#416bfe,#406dfe)"></i><i style="left:134.78px;width:1.70px;background:linear-gradient(#426afe,#416bfe,#406cfe,#3e6fff,#3579fd,#2e85f8,#2d88f6,#317efb,#3d71ff,#4466fd,#465ffb,#475af9,#4757f7,#4758f8,#475bf9,#465ffb,#4465fd,#4368fe,#4369fe,#4367fd,#4367fd,#4368fe,#416bfe,#3f6efe,#3f6eff,#3f6eff,#406dfe,#4269fe,#4465fd,#4562fc,#4661fc,#4660fb,#465efb,#475af9,#4758f8,#4758f8,#475af9,#475dfa,#4660fb,#4563fd,#4466fd,#4368fe,#4367fd,#4466fd,#4563fd,#4561fc,#4660fc,#4660fb,#4561fc)"></i><i style="left:136.19px;width:1.70px;background:linear-gradient(#4563fd,#4563fd,#4564fd,#4367fd,#3d70ff,#327bfc,#317dfb,#3974fe,#416bfe,#4466fd,#4465fd,#4367fd,#4368fe,#426afe,#406cfe,#3f6efe,#3e6fff,#3e6fff,#406dfe,#416bfe,#4269fe,#4367fd,#4465fd,#4564fd,#4563fd,#4465fd,#4369fe,#426afe,#416afe,#426afe,#426afe,#426afe,#4269fe,#4466fd,#4563fd,#4562fc,#4563fd,#4466fd,#4368fe,#4269fe,#4368fe,#4466fd,#4660fb,#475af9,#4757f7,#4757f7,#475af9,#465efb,#4561fc)"></i><i style="left:137.59px;width:1.70px;background:linear-gradient(#3f6eff,#3e6fff,#3e70ff,#3b73fe,#337bfc,#2e85f8,#2e87f7,#307ffb,#3975fe,#3f6eff,#406dfe,#406cfe,#416bfe,#4367fd,#4563fd,#4660fc,#4660fc,#4563fd,#4367fd,#406cfe,#3e6fff,#3c71ff,#3c71ff,#3d71ff,#3e6fff,#3e6fff,#3d70ff,#3c72ff,#3b73fe,#3a73fe,#3c72ff,#3f6eff,#426afe,#4466fd,#4367fd,#416cfe,#3d70ff,#3c71ff,#3f6fff,#426afe,#4465fd,#4563fd,#4562fc,#4464fd,#4368fe,#416bfe,#416cfe,#416bfe,#426afe)"></i><i style="left:139.00px;width:1.70px;background:linear-gradient(#406dfe,#3f6fff,#3d71ff,#3b73fe,#3677fe,#327cfc,#347afd,#3b72fe,#3f6efe,#406dfe,#3f6eff,#3e6fff,#3f6fff,#3f6dfe,#416bfe,#4368fe,#4466fd,#4563fd,#4562fc,#4563fd,#4464fd,#4466fd,#4367fd,#4269fe,#426afe,#416afe,#416bfe,#4269fe,#4368fe,#4367fd,#4367fd,#4368fe,#4369fe,#4368fe,#4368fe,#4269fe,#4269fe,#4269fe,#4269fe,#4269fe,#4369fe,#4369fe,#4368fe,#4269fe,#416bfe,#3f6eff,#3d71ff,#3c72ff,#3d70ff)"></i></div><div class="hm" style="left:223.2px;top:751.0px;width:140.8px;height:235.6px"><i style="left:0.00px;width:1.71px;background:linear-gradient(#4561fc,#4661fc,#4661fc,#4661fc,#4660fb,#465ffb,#465efb,#465dfb,#475dfa,#475cfa,#475dfa,#465efb,#4660fb,#4561fc,#4562fc,#4563fd,#4465fd,#4465fd,#4564fd,#4561fc,#465ffb,#465dfb,#465dfb,#465efb,#465ffb,#4660fb,#4561fc,#4563fd,#4465fd,#4464fd,#4562fc,#4660fc,#4660fb,#4561fc,#4563fd,#4465fd,#4367fd,#4367fd,#4368fe,#4368fd,#4367fd,#4466fd,#4465fd,#4465fd,#4466fd,#4367fd,#4368fe,#4368fe,#4368fd)"></i><i style="left:1.41px;width:1.71px;background:linear-gradient(#3e70ff,#3d71ff,#3d70ff,#3f6eff,#406cfe,#416bfe,#416bfe,#426afe,#4368fe,#4466fd,#4466fd,#4466fd,#4367fd,#4368fe,#4369fe,#4269fe,#4269fe,#4369fe,#4367fd,#4466fd,#4465fd,#4465fd,#4466fd,#4367fd,#4368fe,#4368fe,#4367fd,#4465fd,#4563fd,#4564fd,#4465fd,#4367fd,#426afe,#406dfe,#3e6fff,#3d70ff,#3e6fff,#416cfe,#4368fe,#4465fd,#4465fd,#4368fe,#406dfe,#3d71ff,#3a73fe,#3b73fe,#3d71ff,#3f6dfe,#416bfe)"></i><i style="left:2.82px;width:1.71px;background:linear-gradient(#4367fd,#4368fe,#426afe,#416bfe,#426afe,#4368fe,#4367fd,#4367fd,#4368fe,#4269fe,#4368fe,#4367fd,#4465fd,#4464fd,#4564fd,#4464fd,#4465fd,#4466fd,#4367fd,#4367fd,#4466fd,#4464fd,#4563fd,#4563fc,#4563fd,#4465fd,#4367fd,#4367fd,#4466fd,#4464fd,#4563fd,#4563fd,#4564fd,#4564fd,#4564fd,#4564fd,#4464fd,#4465fd,#4466fd,#4466fd,#4466fd,#4466fd,#4466fd,#4466fd,#4466fd,#4466fd,#4466fd,#4466fd,#4367fd)"></i><i style="left:4.22px;width:1.71px;background:linear-gradient(#4465fd,#4465fd,#4564fd,#4562fc,#4661fc,#4660fc,#4660fc,#4660fb,#465ffb,#465efb,#475cfa,#475bf9,#475bfa,#465dfb,#4660fb,#4661fc,#4660fc,#465ffb,#465efb,#465ffb,#4561fc,#4465fd,#4368fe,#4269fe,#4269fe,#4368fe,#4466fd,#4564fd,#4561fc,#465ffb,#465efb,#475dfa,#475dfa,#465efb,#465ffb,#465ffb,#465efb,#465dfa,#465dfa,#465ffb,#4561fc,#4464fd,#4466fd,#4466fd,#4466fd,#4466fd,#4466fd,#4367fd,#4368fd)"></i><i style="left:5.63px;width:1.71px;background:linear-gradient(#4854f5,#4853f5,#4853f5,#4854f5,#4854f5,#4853f5,#4852f4,#4850f3,#4851f3,#4854f5,#4758f8,#475cfa,#465dfb,#465dfb,#465dfb,#465dfa,#475cfa,#475bf9,#4759f8,#4758f8,#4759f8,#4759f9,#475af9,#475af9,#475bf9,#475cfa,#465efb,#4660fc,#4562fc,#4464fd,#4466fd,#4465fd,#4561fc,#475cfa,#4758f8,#4757f7,#4759f8,#475bfa,#465dfa,#465dfa,#475dfa,#475dfa,#465dfa,#465efb,#4660fb,#4562fc,#4563fd,#4563fd,#4562fc)"></i><i style="left:7.04px;width:1.71px;background:linear-gradient(#3f6eff,#3f6eff,#406dfe,#416bfe,#4368fe,#4466fd,#4367fd,#4369fe,#426afe,#426afe,#4368fe,#4465fd,#4564fd,#4563fd,#4465fd,#4369fe,#406dfe,#3d71ff,#3b72fe,#3b72fe,#3c71ff,#3d71ff,#3e70ff,#3f6eff,#406cfe,#426afe,#4368fe,#4367fd,#4368fe,#426afe,#406cfe,#3f6eff,#3d70ff,#3c72ff,#3b73fe,#3b73fe,#3b72ff,#3d70ff,#3f6eff,#416bfe,#4368fe,#4367fd,#4466fd,#4367fd,#4369fe,#4368fe,#4466fd,#4563fd,#4563fc)"></i><i style="left:8.45px;width:1.71px;background:linear-gradient(#4368fe,#4368fd,#4367fd,#4367fd,#4366fd,#4466fd,#4367fd,#426afe,#406dfe,#3d70ff,#3b72fe,#3a74fe,#3974fe,#3b73fe,#3e70ff,#416bfe,#4367fd,#4464fd,#4466fd,#4269fe,#3f6eff,#3b72fe,#3875fe,#3776fe,#3975fe,#3c72ff,#3f6efe,#426afe,#4367fd,#4465fd,#4563fd,#4563fd,#4464fd,#4367fd,#4269fe,#416bfe,#3f6dfe,#3e6fff,#3e6fff,#3f6dfe,#416bfe,#4369fe,#4367fd,#4466fd,#4367fd,#426afe,#3f6fff,#3b72ff,#3a73fe)"></i><i style="left:9.86px;width:1.71px;background:linear-gradient(#4561fc,#4661fc,#4660fb,#4660fb,#4660fc,#4561fc,#4561fc,#4660fc,#465ffb,#4660fb,#4561fc,#4564fd,#4465fd,#4466fd,#4466fd,#4466fd,#4564fd,#4561fc,#465efb,#465efb,#465ffb,#4562fc,#4563fc,#4562fc,#4660fb,#465efb,#475dfa,#475bfa,#475bf9,#475bfa,#475cfa,#475cfa,#465dfa,#465efb,#465ffb,#4660fb,#4561fc,#4562fc,#4564fd,#4466fd,#4368fe,#4368fe,#4367fd,#4464fd,#4562fc,#4562fc,#4562fc,#4562fc,#4562fc)"></i><i style="left:11.26px;width:1.71px;background:linear-gradient(#406cfe,#416afe,#4368fe,#4466fd,#4366fd,#426afe,#3d70ff,#3876fe,#3479fd,#327cfc,#327cfc,#327cfc,#347afd,#3777fe,#3a73fe,#3e6fff,#416bfe,#4368fe,#4367fd,#4368fe,#4269fe,#426afe,#426afe,#416afe,#416bfe,#416bfe,#416bfe,#4269fe,#4269fe,#426afe,#416cfe,#406dfe,#3f6efe,#3f6efe,#3e6fff,#3c71ff,#3a73fe,#3a74fe,#3c72ff,#3f6efe,#426afe,#4367fd,#4366fd,#4367fd,#4367fd,#4369fe,#416bfe,#3e6fff,#3c71ff)"></i><i style="left:12.67px;width:1.71px;background:linear-gradient(#4561fc,#4561fc,#4561fc,#4561fc,#4561fc,#4563fd,#4466fd,#4269fe,#416bfe,#426afe,#4367fd,#4564fd,#4660fc,#465dfb,#475cfa,#475bfa,#475cfa,#465ffb,#4561fc,#4563fd,#4465fd,#4464fd,#4563fd,#4562fc,#4561fc,#4561fc,#4561fc,#4561fc,#4561fc,#465ffb,#475cfa,#4759f8,#4758f8,#4759f8,#475cfa,#4660fb,#4563fd,#4466fd,#4466fd,#4466fd,#4465fd,#4564fd,#4563fd,#4563fd,#4464fd,#4466fd,#4368fe,#426afe,#426afe)"></i><i style="left:14.08px;width:1.71px;background:linear-gradient(#3f6efe,#406dfe,#3f6efe,#3e6fff,#3c72ff,#3a73fe,#3974fe,#3a74fe,#3b73fe,#3c71ff,#3e6fff,#3f6eff,#3f6eff,#3d70ff,#3c72ff,#3b72fe,#3d70ff,#406dfe,#4369fe,#4465fd,#4562fc,#4660fc,#4561fc,#4564fd,#4368fe,#406cfe,#3e6fff,#3c71ff,#3b72fe,#3974fe,#3677fe,#337afd,#317dfc,#307efb,#307ffb,#2f81fa,#2f82f9,#2e83f9,#2e84f8,#2e84f9,#2f82fa,#307ffb,#327bfc,#3677fe,#3a73fe,#3d70ff,#3f6efe,#406dfe,#406dfe)"></i><i style="left:15.49px;width:1.71px;background:linear-gradient(#3f6efe,#406dfe,#406cfe,#416bfe,#406cfe,#3f6dfe,#3e6fff,#3e70ff,#3d70ff,#3c71ff,#3c71ff,#3c71ff,#3d70ff,#3f6eff,#406dfe,#416bfe,#416bfe,#406cfe,#3f6eff,#3d70ff,#3c72ff,#3a74fe,#3876fe,#3777fe,#3777fe,#3974fe,#3d70ff,#416bfe,#4367fd,#4466fd,#4366fd,#4369fe,#416bfe,#3f6eff,#3c71ff,#3a74fe,#3875fe,#3975fe,#3c72ff,#416cfe,#4465fd,#4660fb,#465efb,#465ffb,#4561fc,#4563fc,#4564fd,#4465fd,#4367fd)"></i><i style="left:16.90px;width:1.71px;background:linear-gradient(#4368fd,#4368fe,#4368fe,#4367fd,#4564fd,#4660fb,#475cfa,#475bf9,#475bfa,#465efb,#4561fc,#4564fd,#4465fd,#4465fd,#4366fd,#4269fe,#406cfe,#3f6eff,#3f6eff,#406cfe,#4269fe,#4367fd,#4466fd,#4465fd,#4464fd,#4563fd,#4562fc,#4561fc,#4660fc,#4660fb,#465ffb,#465ffb,#4660fc,#4561fc,#4562fc,#4563fc,#4563fc,#4563fc,#4564fd,#4465fd,#4465fd,#4564fd,#4563fd,#4563fd,#4464fd,#4465fd,#4466fd,#4466fd,#4367fd)"></i><i style="left:18.30px;width:1.71px;background:linear-gradient(#4367fd,#4369fe,#416bfe,#3f6dfe,#3f6eff,#3f6efe,#406dfe,#416bfe,#4269fe,#4367fd,#4367fd,#4367fd,#4368fd,#4368fe,#4269fe,#416bfe,#406cfe,#406dfe,#3f6eff,#3f6eff,#3f6eff,#406cfe,#426afe,#4367fd,#4367fd,#4466fd,#4466fd,#4464fd,#4563fc,#4563fc,#4465fd,#4367fd,#426afe,#416cfe,#3f6dfe,#3e70ff,#3b72fe,#3a74fe,#3a74fe,#3c71ff,#3f6fff,#406dfe,#406dfe,#3f6dfe,#406dfe,#416cfe,#426afe,#426afe,#426afe)"></i><i style="left:19.71px;width:1.71px;background:linear-gradient(#4466fd,#4367fd,#4368fe,#426afe,#416cfe,#416cfe,#416bfe,#4269fe,#4368fe,#4367fd,#4465fd,#4564fd,#4563fd,#4563fd,#4464fd,#4466fd,#4369fe,#416bfe,#3f6eff,#3c71ff,#3c72ff,#3d70ff,#406dfe,#4369fe,#4466fd,#4466fd,#4466fd,#4367fd,#4367fd,#4367fd,#4269fe,#406cfe,#3d70ff,#3a73fe,#3974fe,#3b73fe,#3e6fff,#416bfe,#4368fe,#4465fd,#4564fd,#4464fd,#4465fd,#4367fd,#4367fd,#4367fd,#4367fd,#4367fd,#4367fd)"></i><i style="left:21.12px;width:1.71px;background:linear-gradient(#4465fd,#4465fd,#4465fd,#4466fd,#4464fd,#4561fc,#465efb,#475bf9,#475bf9,#465efb,#4561fc,#4465fd,#4368fe,#426afe,#416bfe,#426afe,#4269fe,#4269fe,#4269fe,#4269fe,#4368fe,#4367fd,#4465fd,#4465fd,#4465fd,#4466fd,#4368fe,#416bfe,#406dfe,#3f6efe,#3f6efe,#406cfe,#4269fe,#4466fd,#4564fd,#4564fd,#4465fd,#4367fd,#4366fd,#4564fd,#4660fc,#465efb,#4660fc,#4465fd,#406cfe,#3c71ff,#3a73fe,#3b72ff,#3e6fff)"></i><i style="left:22.53px;width:1.71px;background:linear-gradient(#3d70ff,#3c72ff,#3b72ff,#3c71ff,#3e6fff,#416bfe,#4466fd,#4563fc,#4661fc,#4661fc,#4562fc,#4464fd,#4465fd,#4466fd,#4466fd,#4367fd,#4368fe,#4269fe,#4269fe,#4269fe,#4369fe,#4368fe,#4368fe,#4368fe,#4368fe,#4368fe,#4367fd,#4366fd,#4465fd,#4465fd,#4465fd,#4465fd,#4564fd,#4563fc,#4562fc,#4562fc,#4562fc,#4562fc,#4561fc,#4562fc,#4564fd,#4466fd,#4369fe,#416afe,#416bfe,#416bfe,#426afe,#426afe,#4269fe)"></i><i style="left:23.94px;width:1.71px;background:linear-gradient(#4368fe,#4368fe,#4368fe,#4367fd,#4367fd,#4368fe,#4269fe,#4269fe,#4368fe,#4367fd,#4466fd,#4368fe,#416cfe,#3e6fff,#3d71ff,#3e6fff,#406cfe,#426afe,#426afe,#426afe,#426afe,#426afe,#4269fe,#4269fe,#426afe,#416cfe,#406dfe,#3f6efe,#406dfe,#406cfe,#416bfe,#4369fe,#4466fd,#4564fd,#4563fc,#4563fc,#4564fd,#4465fd,#4466fd,#4466fd,#4465fd,#4563fd,#4563fc,#4564fd,#4466fd,#4269fe,#416bfe,#416bfe,#4269fe)"></i><i style="left:25.34px;width:1.71px;background:linear-gradient(#3f6eff,#3e6fff,#3e6fff,#406cfe,#4368fe,#4465fd,#4563fd,#4563fc,#4562fc,#4561fc,#4661fc,#4661fc,#4561fc,#4561fc,#4660fc,#465ffb,#465efb,#465ffb,#4562fc,#4367fd,#416bfe,#3f6efe,#3f6eff,#406cfe,#426afe,#4368fe,#4368fe,#416bfe,#3f6eff,#3d70ff,#3e70ff,#3f6efe,#416bfe,#4369fe,#4368fe,#4269fe,#406cfe,#3e70ff,#3c71ff,#3c71ff,#3e6fff,#406dfe,#416bfe,#416bfe,#416bfe,#406dfe,#3e6fff,#3d71ff,#3d70ff)"></i><i style="left:26.75px;width:1.71px;background:linear-gradient(#3d71ff,#3b72ff,#3b73fe,#3b73fe,#3c72ff,#3d70ff,#3e6fff,#3f6eff,#3f6eff,#3f6eff,#3f6eff,#406dfe,#416bfe,#4269fe,#4269fe,#4369fe,#4368fe,#4367fd,#4367fd,#4367fd,#426afe,#3f6dfe,#3b73fe,#3678fd,#337bfd,#3579fd,#3974fe,#3f6eff,#426afe,#4466fd,#4563fd,#4561fc,#465ffb,#465efb,#465efb,#465ffb,#465ffb,#465ffb,#465ffb,#4661fc,#4564fd,#4368fe,#406dfe,#3d70ff,#3c72ff,#3d70ff,#406dfe,#426afe,#4369fe)"></i><i style="left:28.16px;width:1.71px;background:linear-gradient(#4269fe,#4368fd,#4466fd,#4466fd,#4367fd,#426afe,#406cfe,#3f6eff,#3e6fff,#3e6fff,#3e6fff,#3e6fff,#3d71ff,#3c72ff,#3c72ff,#3d70ff,#3f6eff,#406cfe,#416bfe,#426afe,#4369fe,#4368fe,#4269fe,#406dfe,#3d70ff,#3c72ff,#3c71ff,#3f6eff,#416cfe,#406cfe,#3f6fff,#3c72ff,#3b73fe,#3c71ff,#3e6fff,#406dfe,#416bfe,#4369fe,#4466fd,#4562fc,#465ffb,#475cfa,#475dfa,#4561fc,#4368fe,#3f6eff,#3c71ff,#3e70ff,#406dfe)"></i><i style="left:29.57px;width:1.71px;background:linear-gradient(#3d70ff,#3974fe,#317efb,#2e83f9,#2d88f6,#2b91ef,#2994ed,#2d8cf3,#327cfc,#3f6eff,#416cfe,#426afe,#4368fe,#426afe,#3f6eff,#3c72ff,#3a74fe,#3974fe,#3e70ff,#4368fe,#4464fd,#4564fd,#4465fd,#4367fd,#4368fe,#4269fe,#416afe,#3e70ff,#2e83f9,#21a2e4,#12b1d7,#23a0e5,#2d87f7,#3080fb,#307efb,#3579fd,#3c71ff,#4369fe,#4563fd,#4562fc,#4464fd,#4368fe,#426afe,#416afe,#426afe,#416bfe,#3f6eff,#3b72ff,#3a74fe)"></i><i style="left:30.98px;width:1.71px;background:linear-gradient(#475af9,#4466fd,#327cfc,#2e83f9,#2b92ee,#0fb2d5,#0ebdbb,#0cb3d3,#2b92ee,#3876fe,#3677fe,#3876fe,#465ffb,#4755f6,#4853f5,#4854f5,#4759f8,#4660fc,#475dfa,#484ef1,#4848ec,#4848ec,#4849ed,#484aee,#484bee,#484ff2,#4852f4,#4660fc,#16afda,#fec835,#f9fb15,#cbc129,#269ae8,#4563fc,#465dfb,#4758f8,#4854f6,#484ef1,#4747eb,#4744e8,#4744e9,#484bee,#4853f5,#475bf9,#465ffb,#475bf9,#475af9,#475bfa,#475dfa)"></i><i style="left:32.38px;width:1.71px;background:linear-gradient(#475af9,#4562fc,#3579fd,#317dfc,#2d8df2,#08b5d0,#2bc3a8,#05bbc1,#269ae8,#317dfc,#2e84f9,#2e84f9,#4563fc,#4850f3,#484ff2,#4755f6,#4561fc,#3c72ff,#3f6dfe,#4756f7,#484bef,#4848ec,#4747eb,#4849ed,#4849ed,#484ef1,#4850f2,#465efb,#11b1d6,#f6df29,#f9fb15,#fec13a,#1baade,#3e70ff,#4368fd,#475cfa,#4755f6,#484df0,#4747eb,#4746ea,#484aee,#4756f6,#4367fd,#347afd,#327cfc,#3d70ff,#3e6fff,#3d70ff,#3e6fff)"></i><i style="left:33.79px;width:1.71px;background:linear-gradient(#475bf9,#4661fc,#3876fe,#3479fd,#2d8df2,#02bbc3,#49cb85,#2dc4a6,#1fa6e2,#2e85f8,#2d8bf3,#2d8bf4,#4561fc,#4746ea,#4745e9,#484df0,#465ffb,#3777fe,#3776fe,#465dfb,#4854f5,#4757f7,#4756f7,#4758f8,#4758f8,#4759f8,#475bf9,#4562fc,#2699e9,#3eca8f,#abc739,#19bfb5,#2f81fa,#475af9,#4759f8,#4852f4,#4850f2,#484aee,#4746ea,#4741e5,#4743e7,#484ef1,#4564fd,#317dfc,#337bfc,#4368fe,#4466fd,#4368fe,#426afe)"></i><i style="left:35.20px;width:1.71px;background:linear-gradient(#4759f8,#4660fc,#3677fe,#3479fd,#2d8df2,#0abdbd,#69cd6a,#3fca8e,#18addb,#2d8af4,#2994ed,#2798ea,#406cfe,#484cef,#4746ea,#4848ec,#4755f6,#426afe,#4368fd,#484cef,#4740e4,#463cde,#4539d9,#4639da,#463bdc,#4744e9,#484aee,#4851f3,#3578fd,#249ee6,#1aacdd,#2895ec,#406dfe,#4757f7,#4756f7,#484aee,#4744e8,#463ddf,#4639d9,#4639d9,#463ee1,#484ef1,#3c71ff,#2699e9,#2797eb,#337bfd,#3d70ff,#406cfe,#4369fe)"></i><i style="left:36.61px;width:1.71px;background:linear-gradient(#4660fc,#416bfe,#2d88f6,#2c8ef1,#22a2e4,#36c899,#a9c73b,#69cd6a,#03b7cc,#2797eb,#22a2e4,#1fa5e2,#3677fe,#4850f3,#484bee,#4850f2,#4660fc,#337afd,#3479fd,#475af9,#4851f4,#484df1,#484aee,#484aee,#4849ed,#4851f3,#4757f8,#4660fb,#2f81fa,#2995ec,#259be8,#2b90f0,#3678fd,#4563fd,#4562fc,#4854f5,#484ef1,#4743e7,#4639d9,#4435d1,#463adb,#4853f5,#327bfc,#23a1e4,#249ee6,#2e84f8,#317efb,#317dfc,#327cfc)"></i><i style="left:38.02px;width:1.71px;background:linear-gradient(#475cfa,#4464fd,#317dfc,#2f80fa,#2994ed,#1bc0b4,#81cc59,#5acc77,#04b6cc,#2797eb,#22a2e4,#1fa6e2,#3678fe,#4854f5,#484bef,#4849ed,#4852f4,#4563fc,#475dfa,#463cdf,#422ec0,#422fc0,#4330c5,#4435d0,#4539d9,#484aee,#4852f4,#475cfa,#347afd,#2e85f8,#2e86f7,#307ffb,#3e6fff,#4563fc,#4464fd,#4852f4,#4747eb,#4537d5,#412ebe,#402bb6,#4331c6,#4849ed,#416cfe,#2d8df2,#2d8df2,#3479fd,#3974fe,#3a74fe,#3b72fe)"></i><i style="left:39.42px;width:1.71px;background:linear-gradient(#475bf9,#4563fc,#327bfc,#327bfc,#2d8af4,#05b6ce,#39c994,#2dc4a6,#1babde,#2d8cf3,#2896ec,#2896eb,#4564fd,#4537d5,#4230c3,#4332ca,#4745e9,#465dfa,#4660fc,#4848ec,#463ee1,#4538d8,#4433cd,#4433cb,#4433cd,#4742e6,#484bef,#4854f6,#3b73fe,#3080fb,#2f81fa,#3678fe,#4564fd,#4854f5,#4755f6,#4745e9,#463de0,#4435d2,#43c,#4538d7,#4746ea,#4757f7,#3f6eff,#307ffb,#327cfc,#406cfe,#426afe,#406dfe,#3e70ff)"></i><i style="left:40.83px;width:1.71px;background:linear-gradient(#4563fc,#406dfe,#2e86f7,#2d88f6,#2796eb,#04bbc2,#38c896,#25c2ad,#1da8e0,#2d8bf4,#2a93ed,#2a93ed,#4368fe,#4742e6,#463bde,#463de0,#4849ed,#475bfa,#465dfa,#4745e9,#463de0,#463bde,#463de0,#4743e7,#484bef,#465ffb,#465dfa,#4563fc,#317dfc,#2e85f8,#2e84f8,#327cfc,#4269fe,#4759f8,#4759f8,#4746ea,#463cdf,#4434d0,#4434ce,#4538d7,#4740e4,#4852f4,#4564fd,#406dfe,#3d70ff,#4269fe,#4269fe,#406dfe,#3d70ff)"></i><i style="left:42.24px;width:1.71px;background:linear-gradient(#465dfa,#4466fd,#2f81fa,#2e83f9,#2994ed,#04bbc2,#43ca8a,#3ac993,#03b7cb,#259be8,#239fe5,#269ae8,#3c71ff,#4854f5,#484cf0,#484bef,#484bef,#4758f8,#4756f6,#463bdd,#4433cb,#422fc2,#412dbd,#402ab4,#3e28ac,#4434ce,#4741e5,#484ff1,#3d70ff,#317efb,#2f82fa,#327cfc,#416bfe,#475bf9,#475cfa,#4747eb,#463bdd,#412cba,#3e26a8,#3e26a8,#3e26a8,#4537d5,#4849ed,#4854f5,#465ffb,#4660fc,#4660fc,#4660fc,#4561fc)"></i><i style="left:43.65px;width:1.71px;background:linear-gradient(#4854f5,#475cfa,#3578fd,#3080fb,#2a92ee,#01b8ca,#29c3a9,#0dbdbc,#22a2e4,#2f81fa,#2f81fa,#3777fe,#4853f4,#4332c9,#4332c9,#4539d9,#4742e6,#4851f3,#4850f2,#4537d6,#4230c4,#4230c4,#4331c6,#4230c3,#412ebe,#4538d7,#4740e4,#484bef,#416bfe,#3678fd,#347afd,#3d70ff,#465dfb,#484df0,#4850f2,#473fe2,#463cdf,#4434cf,#4434ce,#4332c9,#4331c6,#4741e5,#4852f4,#4758f8,#4563fd,#4466fd,#4368fe,#4269fe,#426afe)"></i><i style="left:45.06px;width:1.71px;background:linear-gradient(#4466fd,#3b73fe,#2b90ef,#2798ea,#1da9e0,#29c3a9,#45cb89,#30c5a2,#10b2d5,#2994ed,#2b92ef,#2e84f8,#465dfb,#4536d3,#4331c6,#4434d0,#4741e5,#4850f3,#4852f4,#463adb,#4434ce,#4536d4,#4538d7,#4538d7,#4536d3,#473ee1,#4746eb,#4850f3,#3d70ff,#327bfc,#327cfc,#3b73fe,#4562fc,#4755f6,#4759f8,#4744e8,#463ada,#412ebe,#412dbc,#412cb8,#3f28ae,#463adb,#4747eb,#484df0,#475bf9,#4562fc,#4367fd,#4368fe,#4368fe)"></i><i style="left:46.46px;width:1.71px;background:linear-gradient(#4660fc,#426afe,#2e85f8,#2d89f5,#2798ea,#01b8c8,#2bc3a8,#29c3aa,#09b4d1,#2798ea,#2a92ee,#2e83f9,#4660fc,#4740e3,#463de0,#4744e8,#484ef1,#4758f8,#4756f6,#4538d8,#412cba,#3f28af,#3e26a8,#3e26a8,#3e26a8,#4331c6,#4742e6,#4755f6,#317dfc,#2d8cf3,#2c8ff0,#2e87f7,#3b72fe,#465efb,#475cfa,#4745e9,#463adb,#4330c5,#4331c5,#4331c7,#4331c8,#4849ed,#465efb,#4367fd,#3a73fe,#3974fe,#3c72ff,#3f6fff,#406dfe)"></i><i style="left:47.87px;width:1.71px;background:linear-gradient(#4562fc,#406dfe,#2d88f6,#2d8af4,#2895ec,#11b1d6,#04bbc2,#04bbc1,#15afd9,#2699e9,#2798ea,#2d89f5,#4465fd,#4745e9,#473fe2,#4743e7,#4849ed,#4851f4,#484ff2,#4434cf,#422ebf,#422fc2,#4230c3,#422ebf,#402ab5,#422ebe,#4434ce,#4743e7,#4466fd,#3974fe,#3678fe,#3c71ff,#4562fc,#4755f6,#475bfa,#484ff2,#484bee,#4742e6,#4743e7,#4744e8,#4746eb,#4561fc,#416bfe,#3d70ff,#3479fd,#347afd,#3678fd,#3975fe,#3d71ff)"></i><i style="left:49.28px;width:1.71px;background:linear-gradient(#4368fd,#3875fe,#2b92ee,#2895ec,#249fe6,#03b7cc,#05bbc1,#05b6ce,#249fe5,#2f82fa,#317efb,#3c72ff,#4755f6,#4435d0,#4230c3,#4230c3,#4433cd,#4745e9,#4848ec,#4331c7,#412dbc,#412dbc,#412cba,#402ab5,#3f29b0,#4230c3,#463bdc,#484bee,#3e6fff,#317efb,#2f82f9,#327cfc,#416bfe,#475bf9,#475cfa,#4746ea,#4537d5,#402bb6,#3f28ae,#3f29af,#412cba,#4747eb,#465efb,#4269fe,#3876fe,#3777fe,#3974fe,#3c71ff,#3e6fff)"></i><i style="left:50.69px;width:1.71px;background:linear-gradient(#4853f5,#475dfa,#3479fd,#307ffb,#2d8df2,#1aacdd,#07b5d0,#11b1d6,#259de7,#2f81fa,#327cfc,#416bfe,#484aed,#3e28ac,#3e26a8,#3f29b2,#4332c8,#4741e5,#4742e6,#3f28af,#3e26a8,#3e26a8,#3e26a8,#3e26a8,#3e26a8,#3e26a8,#4435d0,#4746eb,#406dfe,#317efb,#2f82f9,#337afd,#4466fd,#4850f3,#484df0,#4230c4,#3e26a8,#3e26a8,#3e26a8,#3e26a8,#3e26a8,#4332c8,#484cef,#4755f6,#465ffb,#465ffb,#465efb,#465efb,#465ffb)"></i><i style="left:52.10px;width:1.71px;background:linear-gradient(#4562fc,#406dfe,#2d88f6,#2d89f5,#2a93ee,#15afd9,#01b9c6,#01bac5,#1babde,#2c8ff1,#2d88f6,#3875fe,#4852f4,#422fc1,#412cbb,#4433cd,#463ee1,#484aee,#4746ea,#3e26a8,#3e26a8,#3e26a8,#3e26a8,#3e26a8,#3e26a8,#4330c5,#463ee1,#484bef,#3e6fff,#317dfc,#2f81fa,#347afd,#4368fe,#4757f7,#4759f8,#4746ea,#463ddf,#4536d5,#4536d3,#4434cf,#4433cb,#4747eb,#475af9,#4562fc,#416bfe,#426afe,#4368fd,#4466fd,#4465fd)"></i><i style="left:53.50px;width:1.71px;background:linear-gradient(#475bfa,#4564fd,#307ffb,#2f82f9,#2c8ff0,#19addc,#05b6cd,#0bb3d2,#239fe5,#2e83f9,#317dfc,#406dfe,#4850f2,#4332ca,#4536d4,#4742e6,#484ff2,#4758f8,#4759f9,#4747eb,#4743e7,#4740e4,#463adb,#4433cd,#422ebf,#4331c6,#463cde,#484bef,#3c71ff,#3080fb,#2f82f9,#347afd,#4367fd,#4756f6,#4758f8,#4741e5,#4536d3,#422fc2,#422fc1,#422ebe,#412cba,#463bdc,#484ef1,#4854f5,#475cfa,#465dfa,#465efb,#4561fc,#4465fd)"></i><i style="left:54.91px;width:1.71px;background:linear-gradient(#475cfa,#4368fe,#2d88f6,#2c8ff1,#249de6,#01b8c8,#16bfb7,#08bcbe,#1babde,#2d8df2,#2e87f7,#3875fe,#4854f6,#4332c9,#4332c8,#4639d9,#4744e8,#4850f2,#484ef1,#4230c4,#402bb6,#402ab4,#412cba,#4230c4,#4433cd,#4639da,#4744e8,#484df0,#3e6fff,#317dfc,#2f81fa,#337bfd,#4367fd,#4854f5,#4755f6,#473ee1,#4538d8,#4537d6,#463cdf,#4740e4,#4742e6,#4756f7,#4563fc,#4368fe,#3c72ff,#3c71ff,#3e70ff,#3f6efe,#406cfe)"></i><i style="left:56.32px;width:1.71px;background:linear-gradient(#426afe,#3975fe,#2c8ef1,#2c90f0,#2699e9,#0fb2d5,#01b9c7,#01b8ca,#1caadf,#2a92ee,#2b91ef,#2e84f8,#4466fd,#4747ec,#4746ea,#484bee,#4851f3,#4759f8,#4759f8,#4740e4,#473ee1,#473ee1,#473ee2,#4740e3,#4741e5,#4747eb,#4852f4,#4759f8,#327cfc,#2e85f8,#2e83f9,#3875fe,#465efb,#484aee,#484df0,#4434cf,#4331c7,#4330c4,#4331c6,#4230c3,#422fc1,#4742e6,#475cfa,#4368fd,#3876fe,#3579fd,#3579fd,#3677fe,#3875fe)"></i><i style="left:57.73px;width:1.71px;background:linear-gradient(#4853f5,#475af9,#3974fe,#337afd,#2d88f6,#21a4e3,#1aacdd,#1da8e0,#2796eb,#307efb,#327cfc,#406cfe,#484cef,#3e27ab,#3e26a8,#402bb6,#4433cb,#4744e8,#4747eb,#4230c4,#4230c4,#422fc0,#412cb9,#3f29b2,#3f28ae,#402bb7,#4435d2,#4745ea,#406dfe,#307ffb,#2e86f7,#2f81fa,#3f6eff,#475bf9,#475af9,#4742e6,#4434ce,#412cb9,#3e27ac,#3e26a8,#3e26a8,#4331c8,#484bee,#4853f5,#465efb,#4660fc,#4563fc,#4465fd,#4367fd)"></i><i style="left:59.14px;width:1.71px;background:linear-gradient(#4851f3,#4661fc,#2e87f7,#2895ec,#1ca9df,#26c2ac,#39c895,#2ec5a4,#0ab4d2,#2a92ee,#2d88f6,#3876fe,#4755f6,#4536d3,#4537d5,#473fe2,#4848ec,#4850f3,#4850f3,#4639d9,#463bdd,#463ddf,#463bdd,#4536d3,#422fc2,#412dbd,#4537d5,#4848ec,#3d71ff,#2f81fa,#2e85f8,#327cfc,#4369fe,#4756f7,#4759f8,#4747eb,#463de0,#4536d4,#4330c4,#3f29b0,#3e26a8,#4331c6,#484bef,#4756f7,#4563fc,#4464fd,#4563fd,#4562fc,#4563fc)"></i><i style="left:60.54px;width:1.71px;background:linear-gradient(#4367fd,#3c71ff,#2d8cf3,#2c8ff0,#259be8,#04b6cd,#13beb8,#15bfb8,#09b4d1,#249ee6,#259de7,#2c8ff1,#3f6efe,#484cef,#4743e7,#4744e8,#4848ec,#4851f3,#4850f2,#4433cb,#4332cb,#43c,#4434ce,#4434cd,#4433cd,#4537d5,#4746ea,#4853f5,#3579fd,#2e85f8,#2e87f7,#307ffb,#406cfe,#4759f8,#4759f8,#463ddf,#4331c7,#412cba,#402bb7,#402bb8,#412dbc,#473fe2,#4758f8,#4660fb,#426afe,#426afe,#4269fe,#4368fe,#4368fe)"></i><i style="left:61.95px;width:1.71px;background:linear-gradient(#475dfa,#4368fe,#2e86f7,#2d8df2,#259ce7,#01b9c7,#1ec0b2,#11beb9,#19acdc,#2c8ef2,#2d88f6,#347afd,#475af9,#4536d3,#4331c8,#4434cf,#463adc,#484bee,#484ef1,#4536d4,#4537d5,#4434ce,#4230c3,#412dbb,#402bb8,#422fc0,#463bdd,#484cef,#3975fe,#2e86f7,#2d8df2,#2e87f7,#3a73fe,#475cfa,#4759f8,#4741e4,#463ada,#463cde,#4740e3,#4740e3,#463de0,#484ef1,#465dfa,#4562fc,#426afe,#4269fe,#4368fe,#4368fe,#4368fe)"></i><i style="left:63.36px;width:1.71px;background:linear-gradient(#475af9,#4561fc,#337afd,#317dfc,#2d8bf4,#1da9e0,#13b0d7,#1ca9df,#2b90ef,#3b72ff,#3f6eff,#4561fc,#4743e7,#3e26a8,#3e26a8,#402ab3,#4435d1,#4747eb,#4849ed,#4331c6,#4330c5,#4230c3,#4230c3,#4331c6,#4332c8,#4434ce,#463de0,#4747eb,#416bfe,#3678fd,#327cfc,#3975fe,#4563fd,#4851f4,#4853f4,#463adb,#4330c4,#422ebf,#422fc2,#422fc1,#412cbb,#4538d7,#484cef,#4851f4,#475af9,#475af9,#475af9,#475cfa,#465ffb)"></i><i style="left:64.77px;width:1.71px;background:linear-gradient(#465ffb,#426afe,#2d88f6,#2c8ff0,#259de7,#06b5cf,#01b9c6,#09b4d1,#22a2e4,#2d8af4,#2d88f6,#3579fd,#4758f8,#4434d0,#4537d6,#4744e8,#4850f3,#4759f8,#4755f6,#4434cf,#4230c4,#412dbc,#412cb9,#412dbc,#4230c4,#4536d2,#4745e9,#4853f4,#337bfd,#2d8bf4,#2b91ef,#2d8af4,#3678fe,#4561fc,#465efb,#4742e6,#4535d2,#4434ce,#4536d2,#4536d2,#43c,#473ee2,#4854f5,#475af9,#4465fd,#4368fd,#4368fe,#4368fe,#4269fe)"></i><i style="left:66.18px;width:1.71px;background:linear-gradient(#465efb,#416bfe,#2d8af5,#2d8df2,#2797eb,#13b1d7,#01b8c9,#03b7cc,#1da8e0,#2c8ff0,#2d8cf3,#317dfc,#475cfa,#463ada,#4537d6,#463de0,#4745e9,#484ef1,#484cf0,#4230c4,#422fc1,#422fc0,#422ebf,#412dbc,#402bb8,#412cba,#4537d6,#4747eb,#3d70ff,#2f82fa,#2d88f6,#2f80fa,#416cfe,#4755f6,#4850f3,#4230c4,#3e26a8,#3e26a8,#3e26a8,#3f29b1,#422ebf,#4744e8,#4759f9,#4660fc,#4367fd,#4562fc,#465dfa,#475cfa,#465efb)"></i><i style="left:67.58px;width:1.71px;background:linear-gradient(#4465fd,#3e70ff,#2d88f6,#2d88f6,#2b91ef,#18addb,#02b7ca,#03b7cc,#1fa5e2,#2d89f6,#2f82fa,#3e6fff,#484df1,#3f28ae,#3e28ac,#422fc2,#463cde,#484df1,#484ff2,#4435d1,#4433cb,#4331c6,#4330c5,#4330c5,#4331c7,#4434ce,#4741e5,#484df0,#3c71ff,#307efb,#2f82fa,#337bfd,#4269fe,#4758f8,#475cfa,#4847ec,#463adb,#4434ce,#4330c5,#412dbd,#402bb6,#4537d6,#484df1,#4854f5,#475cfa,#475cfa,#475cfa,#465ffb,#4562fc)"></i><i style="left:68.99px;width:1.71px;background:linear-gradient(#4756f6,#465ffb,#327cfc,#2f80fa,#2d8cf3,#1da8e0,#13b0d7,#17aeda,#249de6,#2e86f8,#2e85f8,#3777fe,#4756f6,#4230c4,#402ab3,#3f29b2,#412cba,#463bdc,#463cdf,#3e26a8,#3f29b2,#412cba,#412cb8,#3f28ae,#3e26a8,#3e26a8,#422fc2,#4742e6,#416bfe,#317efb,#2e84f8,#317efb,#416bfe,#4757f7,#4757f7,#463cdf,#4230c4,#402bb6,#3f28af,#3e26a8,#3e27a9,#4538d7,#4853f5,#465efb,#4269fe,#426afe,#426afe,#426afe,#426afe)"></i><i style="left:70.40px;width:1.71px;background:linear-gradient(#4563fd,#3d71ff,#2c8ff1,#2995ec,#23a1e4,#01b9c7,#10beba,#02bac3,#1caadf,#2b91ef,#2c8ef1,#3080fb,#465dfb,#4538d7,#4434d0,#4537d6,#463ddf,#4849ed,#4849ed,#422ebf,#4230c4,#4230c3,#412dbc,#402bb6,#402bb8,#4332c9,#4746ea,#4756f7,#307ffb,#2d8af5,#2d88f6,#327bfc,#4563fd,#484df0,#484bef,#412ebe,#3e26a8,#3e26a8,#3e26a8,#3e26a9,#402ab4,#473fe3,#475af9,#4464fd,#3f6eff,#3f6fff,#3f6eff,#3f6eff,#3f6dfe)"></i><i style="left:71.81px;width:1.71px;background:linear-gradient(#4563fd,#3f6dfe,#2d8af5,#2b90f0,#23a0e5,#04bbc2,#22c1b0,#0ebdbb,#1aabdd,#2c8ff1,#2d8af4,#327cfc,#475cfa,#4538d8,#4537d5,#463bde,#4744e8,#4852f4,#4755f6,#463cdf,#473ee1,#463de0,#463ada,#4537d5,#4536d3,#4639da,#4849ed,#4855f6,#347afd,#2e85f8,#2e86f7,#317dfc,#4368fe,#4855f6,#4756f6,#463bdc,#4331c8,#422ec0,#412dbc,#412cba,#412dbd,#4740e3,#475af9,#4564fd,#3d70ff,#3c72ff,#3c72ff,#3d71ff,#3d70ff)"></i><i style="left:73.22px;width:1.71px;background:linear-gradient(#3d70ff,#327cfc,#2994ed,#2c90f0,#2994ed,#1ca9df,#16afda,#1babde,#2798ea,#307ffb,#327cfc,#406dfe,#484ef1,#402bb6,#412cba,#4434cd,#463ee1,#484cef,#484df0,#4434d0,#4537d7,#463bdd,#463ddf,#463bdd,#4538d8,#4537d6,#4741e6,#484bef,#406dfe,#3975fe,#3a74fe,#416bfe,#475cfa,#484cf0,#4850f3,#4538d7,#4331c6,#4330c5,#4332c8,#4331c8,#422fc2,#463bdd,#4850f3,#4758f8,#4464fd,#4368fe,#426afe,#426afe,#4269fe)"></i><i style="left:74.62px;width:1.71px;background:linear-gradient(#465ffb,#4465fd,#317efb,#2f81fa,#2c8ff1,#19addc,#05b6cd,#0ab4d2,#22a1e4,#2d88f6,#2e87f7,#327cfc,#465efb,#473ee1,#463cde,#463ee1,#4742e6,#484cef,#484aee,#412dbb,#412dbc,#422ebf,#422fc1,#4230c4,#4331c8,#4535d2,#4743e7,#484ff2,#3a73fe,#317efb,#317dfb,#3c71ff,#475cfa,#4848ec,#484aee,#4332c9,#422ebf,#422fc2,#4331c6,#4331c5,#4230c4,#4740e4,#4757f7,#4660fb,#406cfe,#3d70ff,#3a74fe,#3777fe,#3777fe)"></i><i style="left:76.03px;width:1.71px;background:linear-gradient(#4660fb,#426afe,#2e86f8,#2d89f5,#2896eb,#0db3d4,#03bbc2,#01b9c7,#1ea7e1,#2d8af5,#2e84f9,#3b73fe,#4852f4,#422fc1,#412ebe,#4332c8,#4537d6,#4745e9,#4744e8,#402ab3,#402bb6,#412cb9,#412dbb,#422ec0,#4331c7,#4536d4,#4746ea,#4850f3,#3975fe,#3080fa,#2f81fa,#3677fe,#4563fd,#4850f2,#4850f3,#4435d0,#412cb9,#402bb7,#412ebe,#4331c8,#4536d3,#484df0,#4660fc,#426afe,#3776fe,#3777fe,#3974fe,#3d70ff,#406cfe)"></i><i style="left:77.44px;width:1.71px;background:linear-gradient(#426afe,#3974fe,#2c8ff1,#2a92ee,#249ee6,#01b8c9,#17bfb6,#11beb9,#11b2d5,#269ae8,#2798ea,#2d8af5,#4367fd,#473fe2,#463adb,#473fe3,#484bee,#4759f9,#475cfa,#4744e8,#4746ea,#4744e9,#4740e4,#463bdc,#4435d2,#4433cd,#463bde,#484bef,#3d70ff,#317dfc,#2f82fa,#317efb,#3e70ff,#465ffb,#4660fc,#4744e8,#4536d5,#4535d2,#463bdd,#4745e9,#484ef1,#4466fd,#3c72ff,#3975fe,#337bfd,#3579fd,#3579fd,#3479fd,#3479fd)"></i><i style="left:78.85px;width:1.71px;background:linear-gradient(#3e6fff,#337bfd,#2a93ee,#2b92ee,#2798ea,#16aeda,#0ab4d2,#14b0d8,#249ee6,#2e87f7,#2d88f6,#307efb,#4562fc,#4740e4,#463cde,#463bdd,#463cdf,#4848ec,#4744e8,#3e26a8,#3e26a8,#3e26a8,#3e26a8,#3e26a8,#3e27ab,#402ab4,#4535d2,#4849ed,#3c71ff,#2f82fa,#2e86f7,#317efb,#4368fe,#4851f3,#484ff2,#4331c8,#402bb7,#412cba,#422fc2,#4332ca,#4537d5,#4850f3,#4368fe,#3a74fe,#317efb,#327cfc,#3777fe,#3c71ff,#3f6eff)"></i><i style="left:80.26px;width:1.71px;background:linear-gradient(#4563fc,#4269fe,#3080fb,#307ffb,#2d8af4,#1ea7e1,#14b0d8,#1caadf,#2994ed,#327bfc,#327cfc,#3d71ff,#4850f3,#3f28ad,#3e26a8,#3e26a8,#422fc1,#4741e5,#4741e5,#3e26a8,#3e26a8,#3f28ad,#402bb6,#412ebe,#422fc0,#4230c3,#4639da,#4747eb,#3f6efe,#317efb,#2e83f9,#327bfc,#4367fd,#4853f5,#4852f4,#4535d2,#402ab4,#3e26a8,#3e26a8,#3e26a8,#3f28ad,#4539d9,#4853f5,#465efb,#416afe,#406dfe,#406dfe,#416cfe,#426afe)"></i><i style="left:81.66px;width:1.71px;background:linear-gradient(#4269fe,#3a73fe,#2d8bf4,#2d8bf4,#2994ed,#16afd9,#02b7cb,#07b5cf,#21a4e3,#2d8bf4,#2d89f5,#327cfc,#475cfa,#4536d3,#4332ca,#4434d0,#463bdd,#484bef,#484ef1,#4537d5,#463ddf,#4741e4,#4742e6,#4741e5,#4741e5,#4744e9,#4854f5,#475bf9,#3080fa,#2d8af4,#2d8bf3,#2e83f9,#3c71ff,#465efb,#465efb,#4745e9,#463adc,#463adb,#463cde,#4639da,#4433cb,#4538d7,#4849ed,#484aed,#4850f2,#4851f3,#4756f6,#465dfb,#4466fd)"></i><i style="left:83.07px;width:1.71px;background:linear-gradient(#4561fc,#416cfe,#2d89f5,#2c90f0,#249fe6,#01b9c6,#1cc0b4,#15bfb7,#0eb2d4,#269be8,#2797eb,#2e86f8,#4660fc,#4537d6,#4435d0,#463ddf,#484df0,#475cfa,#465ffb,#484aee,#4747eb,#4741e5,#4639da,#4332ca,#412cb9,#3f29b0,#4230c3,#4740e3,#4465fd,#3a73fe,#347afd,#3677fe,#426afe,#475af9,#475cfa,#4740e4,#4331c7,#402bb6,#3f29b0,#402ab5,#4230c4,#4848ec,#4660fc,#4368fe,#3d71ff,#3e6fff,#406dfe,#406cfe,#406dfe)"></i><i style="left:84.48px;width:1.71px;background:linear-gradient(#416bfe,#3876fe,#2c8ff1,#2c8ff1,#2797ea,#12b1d6,#01b8c8,#03b7cc,#20a5e3,#2d87f7,#307ffb,#416bfe,#484bee,#3f28ad,#412cb8,#4536d2,#4742e6,#4850f2,#484ff2,#43c,#43c,#4434cf,#4536d5,#4538d7,#4537d5,#4435d0,#463bdd,#4848ec,#3f6fff,#3080fa,#2e86f7,#307ffb,#416bfe,#4757f7,#4758f8,#4740e3,#4538d8,#463ada,#463bdd,#4539d9,#43c,#463cde,#4851f3,#475af9,#4368fd,#3f6dfe,#3c71ff,#3974fe,#3876fe)"></i><i style="left:85.89px;width:1.71px;background:linear-gradient(#4758f8,#4563fd,#2f82fa,#2d89f6,#2798ea,#06b5cf,#11beba,#0dbdbc,#16aeda,#2b92ef,#2d89f5,#3974fe,#484ef1,#3e26a8,#3e26a8,#3e26a8,#412dbc,#4740e4,#4744e8,#3f29b2,#3e26a8,#3e26a8,#3e26a8,#3e26a8,#3e26a8,#3e28ac,#4539d8,#484bee,#3b73fe,#2f81fa,#2e83f9,#337bfc,#4367fd,#4853f5,#4853f5,#4639d9,#4332c9,#4433cd,#4537d5,#4538d7,#4537d6,#4746ea,#4756f7,#475bf9,#4464fd,#4367fd,#416cfe,#3e70ff,#3c71ff)"></i><i style="left:87.30px;width:1.71px;background:linear-gradient(#475cfa,#4367fd,#2e83f9,#2e86f7,#2b91ef,#18addb,#05b6ce,#0bb3d2,#22a1e4,#2d88f6,#2e85f8,#3776fe,#4755f6,#422ebf,#3f29b1,#402ab3,#422ec0,#4740e4,#4744e8,#422ebf,#4434cf,#463adc,#473fe2,#4740e4,#463de0,#463bdc,#4744e8,#484df0,#3a73fe,#2f82f9,#2e87f7,#307efb,#4269fe,#4853f5,#4853f5,#463ada,#4332cb,#4332c9,#4331c8,#422fc1,#412cb9,#4537d6,#484ff2,#4759f8,#4367fd,#416bfe,#406dfe,#406dfe,#406cfe)"></i><i style="left:88.70px;width:1.71px;background:linear-gradient(#4562fc,#406cfe,#2d89f5,#2c8ff1,#259de7,#01b8ca,#10beba,#02bac3,#1ca9e0,#2c8ff1,#2d8cf3,#317efb,#475cfa,#4537d6,#4536d4,#473fe2,#484cef,#4757f8,#4758f8,#463de0,#463cde,#463bde,#463bdd,#4539d8,#4434cd,#422fc1,#43c,#4740e4,#4564fd,#3b72ff,#3579fd,#3876fe,#4367fd,#4755f6,#4756f6,#4539d9,#422ec0,#412cb8,#402bb6,#402ab4,#402ab4,#463adb,#4755f6,#465efb,#416bfe,#406dfe,#3e6fff,#3d70ff,#3c71ff)"></i><i style="left:90.11px;width:1.71px;background:linear-gradient(#475cfa,#4661fc,#3777fe,#3677fe,#2e84f8,#20a4e3,#0db3d3,#06b5cf,#1da9e0,#2b92ee,#2c8ff0,#307ffb,#475bf9,#4433cd,#4230c3,#4434ce,#463cde,#484bef,#484bee,#422ebf,#422fc0,#4230c3,#4331c7,#43c,#4434cf,#4536d4,#4741e5,#484cf0,#3d71ff,#307ffb,#2e84f9,#307efb,#406dfe,#475af9,#475bfa,#4742e6,#4536d3,#43c,#4433cd,#4434ce,#4433cd,#4743e7,#4757f7,#465efb,#416bfe,#3e6fff,#3c71ff,#3c71ff,#3e6fff)"></i><i style="left:91.52px;width:1.71px;background:linear-gradient(#4465fd,#3d70ff,#2d8af5,#2d89f5,#2b92ee,#1aacdd,#07b5cf,#0bb3d2,#23a0e5,#2f82fa,#347afd,#4269fe,#484aee,#3f29b2,#412cba,#4434cf,#463ee1,#484aee,#4848ec,#402ab5,#3f28af,#3f28ae,#402ab3,#412dbc,#4331c8,#4537d6,#4746ea,#484ef1,#3c72ff,#307ffb,#2e84f9,#3080fb,#3e70ff,#475dfa,#475bf9,#463ee1,#412dbd,#3e27ab,#3e26a8,#3e26a8,#3e26a8,#4434cf,#484ff2,#475bf9,#416bfe,#3d71ff,#3a73fe,#3b73fe,#3c71ff)"></i><i style="left:92.93px;width:1.71px;background:linear-gradient(#4562fc,#416cfe,#2e86f8,#2d88f6,#2994ed,#11b1d6,#03bbc2,#02bac3,#19addc,#2995ec,#2a93ee,#2e85f8,#4562fc,#463cde,#4435d1,#4536d5,#463ee1,#484df0,#484ef1,#4433cd,#4433cb,#422fc3,#402bb8,#4029b3,#402bb7,#4331c7,#4742e6,#4850f3,#3875fe,#3080fa,#307ffb,#3a73fe,#465efb,#484bef,#484ef1,#4433cb,#402bb6,#3f29b0,#3f29b2,#402ab5,#402bb7,#463ada,#4852f4,#4759f8,#4564fd,#4466fd,#4368fe,#426afe,#406dfe)"></i><i style="left:94.34px;width:1.71px;background:linear-gradient(#465efb,#426afe,#2e87f7,#2d88f6,#2b91ef,#1ca9df,#13b0d7,#19acdc,#2798ea,#317dfc,#3578fd,#4269fe,#4849ed,#3e26a8,#3f29af,#4435d0,#4848ec,#4756f7,#4758f8,#4740e4,#463de0,#463adb,#4536d4,#4332c9,#412dbb,#402ab5,#4434ce,#4744e8,#3e6fff,#2e83f9,#2d8bf4,#2e85f8,#3b72ff,#465efb,#465efb,#4848ec,#4538d8,#4332c8,#412dbc,#3f28af,#3e26a8,#422fc1,#4746ea,#484ff2,#475cfa,#4561fc,#4465fd,#4368fd,#4269fe)"></i><i style="left:95.74px;width:1.71px;background:linear-gradient(#4756f7,#4561fc,#3080fb,#2e86f7,#2895ec,#0fb2d5,#01b9c8,#09b4d1,#249fe5,#2f82fa,#317dfc,#3f6efe,#484ff2,#422fc1,#422fc2,#4435d2,#463de0,#4746ea,#4740e4,#3e26a8,#3e26a8,#3e26a8,#3e26a8,#3e26a8,#3e26a8,#3e26a8,#422ebe,#4740e4,#416bfe,#327cfc,#2f80fa,#3678fe,#4464fd,#4852f4,#4854f5,#4740e3,#4537d5,#4435d1,#4433cd,#422fc2,#3f29b2,#4331c8,#4744e8,#484bef,#4757f7,#475cfa,#4660fb,#4561fc,#4562fc)"></i><i style="left:97.15px;width:1.71px;background:linear-gradient(#475bf9,#4564fd,#317efb,#2f81fa,#2d8cf3,#1ea7e1,#14b0d8,#16afda,#249fe5,#2d88f6,#2d88f6,#337bfd,#475af9,#4536d4,#4434ce,#4435d2,#4538d8,#4745e9,#4743e7,#3f28ad,#402ab4,#412dbc,#4230c3,#4330c5,#422ebf,#412dbb,#4435d0,#4746ea,#3e70ff,#2e83f9,#2d8af4,#2e84f9,#3d70ff,#475bf9,#475bf9,#4741e5,#4435d0,#4332c9,#4332c9,#4433cb,#4332cb,#473fe3,#4852f4,#4756f6,#465efb,#4561fc,#4465fd,#4368fd,#426afe)"></i><i style="left:98.56px;width:1.71px;background:linear-gradient(#4562fc,#406cfe,#2d87f6,#2d8bf4,#2797eb,#11b1d6,#01b9c8,#04b6cc,#1fa5e2,#2d8bf4,#2e86f7,#3876fe,#4755f6,#422fc3,#422fc2,#4435d1,#473fe2,#484ff2,#4850f3,#4434cf,#43c,#4331c7,#4230c4,#4230c4,#4332c9,#4539d9,#484ef1,#475cfa,#2e84f8,#2c8ff1,#2c8ef1,#2f82f9,#3f6eff,#465dfa,#4562fc,#4850f2,#4742e6,#463bdd,#4537d5,#4435d0,#4435d0,#4746eb,#475cfa,#4464fd,#3e6fff,#3d70ff,#3e6fff,#406dfe,#406cfe)"></i><i style="left:99.97px;width:1.71px;background:linear-gradient(#3e70ff,#327cfc,#2a93ee,#2c90f0,#2a93ee,#1da8e0,#14b0d8,#13b0d7,#21a3e3,#2d8cf3,#2d89f5,#337bfc,#475cfa,#463bdd,#463bdc,#473ee2,#4744e8,#484ff2,#4850f2,#4435d1,#4435d0,#43c,#4331c7,#4230c4,#4230c3,#4433cb,#4741e5,#4850f2,#3777fe,#2e84f8,#2e87f7,#317efb,#416bfe,#475af9,#465dfa,#4746ea,#4537d7,#4332ca,#4331c6,#4331c7,#4330c5,#463cde,#4850f3,#4757f7,#4464fd,#406cfe,#3a74fe,#3677fe,#3777fe)"></i><i style="left:101.38px;width:1.71px;background:linear-gradient(#4269fe,#3974fe,#2c90f0,#2994ed,#249ee6,#08b5d0,#04b6cd,#19addc,#2994ed,#3479fd,#3777fe,#416bfe,#484ff2,#412cba,#4330c5,#4639d9,#4744e8,#4851f4,#4850f2,#4230c4,#412dbc,#402ab4,#3f28ad,#3e27aa,#3f28af,#422ec0,#4740e4,#4854f5,#307efb,#2d8cf3,#2d8df2,#2f82fa,#406cfe,#4757f7,#475af9,#4742e6,#463bdd,#463bdd,#463ada,#4434cd,#412cb9,#4434ce,#484df0,#4757f7,#4465fd,#4369fe,#416bfe,#406cfe,#3f6eff)"></i><i style="left:102.78px;width:1.71px;background:linear-gradient(#416afe,#3678fe,#2994ed,#2798ea,#22a2e4,#01b7ca,#04bbc1,#03b7cc,#21a4e3,#2d89f5,#2e86f8,#3579fd,#475af9,#4538d7,#463adb,#4743e7,#484ef1,#475bf9,#475dfa,#4746eb,#4848ec,#4745e9,#473fe2,#4538d8,#4434ce,#4434cf,#4742e6,#4854f5,#317efb,#2c8ff1,#2994ed,#2d8cf3,#3677fe,#4660fb,#465ffb,#4745e9,#4538d7,#43c,#4330c5,#422fc0,#422ebe,#463ddf,#4756f6,#475cfa,#4465fd,#4466fd,#4368fd,#4269fe,#416bfe)"></i><i style="left:104.19px;width:1.71px;background:linear-gradient(#4564fd,#3d70ff,#2c8ef2,#2a93ed,#23a0e5,#01b9c7,#0cbdbc,#01b8c9,#21a3e3,#2d87f6,#2e85f8,#347afd,#465efb,#4742e7,#484bee,#4759f8,#4367fd,#4367fd,#4464fd,#484df0,#4848ec,#4745e9,#4744e8,#4743e7,#4743e7,#4743e7,#484ef1,#4755f6,#337bfc,#2d89f5,#2c8ef1,#2d88f6,#3678fd,#4464fd,#4564fd,#484bef,#463ada,#43c,#4230c4,#422ebe,#412cba,#463adc,#4853f5,#465dfa,#416bfe,#3e6fff,#3b72ff,#3b73fe,#3c72ff)"></i><i style="left:105.60px;width:1.71px;background:linear-gradient(#465dfb,#4367fd,#2f81fa,#2f82f9,#2d8df2,#1ca9df,#0ab4d2,#0bb3d2,#21a3e4,#2d88f6,#2f82fa,#3e6fff,#484ff2,#412ebe,#4331c6,#4538d7,#463cdf,#4743e7,#463bde,#3e26a8,#3e26a8,#3e26a8,#3e26a8,#3e28ad,#402bb7,#422fc1,#463ada,#4746ea,#426afe,#3776fe,#337afd,#3b73fe,#4561fc,#484df0,#484bef,#422ebf,#3e27aa,#3f28ae,#412cba,#422fc2,#4330c5,#473fe3,#4854f5,#475bf9,#4466fd,#4368fd,#426afe,#406cfe,#3f6eff)"></i><i style="left:107.01px;width:1.71px;background:linear-gradient(#4661fc,#3f6efe,#2d8df2,#2994ed,#21a3e3,#09bdbe,#28c3ab,#1dc0b3,#11b1d5,#2796eb,#2b92ee,#2f82f9,#465ffb,#4539d9,#4434cf,#4538d8,#4742e6,#4850f2,#4851f3,#4535d2,#4434ce,#4332c9,#4331c6,#4230c3,#422ec0,#422fc2,#463adc,#484aee,#3a74fe,#2e86f7,#2d8df2,#2d88f6,#3776fe,#4562fc,#4561fc,#4848ec,#4538d7,#4331c6,#412cba,#3f29b0,#3e28ac,#4537d5,#4851f4,#475af9,#4564fd,#4465fd,#4465fd,#4367fd,#4369fe)"></i><i style="left:108.42px;width:1.71px;background:linear-gradient(#475af9,#4465fd,#2e84f8,#2d8af4,#269ae9,#04b6cd,#09bcbe,#01b8c8,#20a5e3,#2d89f6,#2e85f8,#3876fe,#4755f6,#4331c8,#4230c4,#4435d1,#463ddf,#4848ec,#4747eb,#412dbb,#412cb8,#402ab5,#3f29b1,#3f29b0,#402ab4,#422fc0,#463ddf,#4849ed,#3e6fff,#317efb,#3080fa,#3876fe,#4561fc,#484df0,#484cf0,#4332c9,#402ab3,#402ab5,#422fc0,#4434ce,#4639da,#4850f3,#4660fb,#4466fd,#3e70ff,#3d71ff,#3c72ff,#3c72ff,#3e6fff)"></i><i style="left:109.82px;width:1.71px;background:linear-gradient(#4660fb,#4269fe,#2e84f8,#2d89f5,#2797eb,#0cb3d3,#02bac3,#01b9c8,#1da9e0,#2c8ff1,#2d8af5,#3678fe,#4854f5,#412cb9,#3f28ae,#402bb8,#4433cb,#4745e9,#4849ed,#4434ce,#463adb,#463ee1,#463de0,#4539d8,#4332c9,#412cba,#4331c6,#463ee1,#4465fd,#3678fe,#2f81fa,#317dfc,#416cfe,#4759f8,#475af9,#473fe2,#4332c8,#402bb7,#3e26a8,#3e26a8,#3e26a8,#3f28af,#4744e8,#484ef1,#475af9,#475af9,#475af9,#475af9,#475cfa)"></i><i style="left:111.23px;width:1.71px;background:linear-gradient(#475cfa,#4564fd,#317efb,#2f82fa,#2b90ef,#15afd9,#01b8c8,#07b5d0,#249ee6,#307ffb,#3777fe,#4465fd,#4744e9,#3e26a8,#3e26a8,#412dbd,#4539d9,#484aee,#484aee,#4230c3,#4331c7,#4332cb,#4332ca,#4230c4,#412dbd,#412ebe,#4639d9,#484aee,#3b73fe,#2e84f9,#2e85f8,#3678fd,#4562fc,#484ef1,#484ef1,#43c,#402ab5,#3f28ae,#3e26a9,#3e26a8,#3e26a8,#412dbc,#4747eb,#484ff2,#4759f9,#475cfa,#4660fb,#4563fd,#4367fd)"></i><i style="left:112.64px;width:1.71px;background:linear-gradient(#4563fd,#406dfe,#2d88f6,#2d8cf3,#269be8,#03b7cc,#11beb9,#05bbc1,#1caadf,#2d8df2,#2e86f7,#3a73fe,#4850f3,#4029b2,#3f29b0,#422fc2,#4538d7,#4848ec,#4747ec,#412cbb,#422fc1,#4332c9,#4434cf,#4433cd,#422fc1,#402ab5,#4330c5,#4740e4,#416bfe,#2f81fa,#2d88f6,#307ffb,#416bfe,#4758f8,#4757f7,#4538d7,#402ab4,#3e26a8,#3e27a9,#3f28ae,#3f29b0,#4537d5,#4850f3,#475af9,#4368fd,#406dfe,#3e6fff,#3f6efe,#416bfe)"></i><i style="left:114.05px;width:1.71px;background:linear-gradient(#426afe,#3b72fe,#2e85f8,#2e83f9,#2d88f6,#259de7,#1fa5e2,#1fa6e2,#259be8,#2d8af5,#2d8af5,#307ffb,#4561fc,#473fe3,#463bde,#473fe3,#4744e9,#4850f3,#4850f2,#4433cd,#4230c3,#412ebe,#412cb9,#402bb7,#402bb8,#4332ca,#4742e6,#4854f5,#317dfc,#2c8ef2,#2c90f0,#2e84f9,#3b73fe,#4563fc,#4465fd,#484df0,#4538d7,#402ab3,#3e26a8,#3e26a8,#3e26a8,#4536d2,#4852f4,#475cfa,#416bfe,#3a74fe,#307ffb,#3080fa,#327cfc)"></i><i style="left:115.46px;width:1.71px;background:linear-gradient(#465efb,#465ffb,#406cfe,#406dfe,#3876fe,#2d8bf4,#2a93ed,#2a92ee,#2d88f6,#347afd,#3579fd,#3f6efe,#4758f8,#4434ce,#4230c3,#4537d6,#473fe3,#484df0,#484ff2,#4639d9,#4330c5,#402ab5,#3e27aa,#3e26a8,#3e26a8,#4330c5,#463ee0,#484df0,#4369fe,#337bfc,#307efb,#3c72ff,#4564fd,#465dfa,#4660fb,#484bef,#4741e5,#412dbd,#3e26a8,#3e26a8,#3e26a8,#463adb,#484ef1,#4854f5,#4854f5,#4758f8,#4368fd,#4465fd,#475cfa)"></i><i style="left:116.86px;width:1.71px;background:linear-gradient(#4562fc,#4561fc,#426afe,#3f6eff,#337bfd,#2d8df2,#2a93ed,#2c8ff1,#2e83f9,#3777fe,#3975fe,#3e6fff,#4563fc,#484aed,#484df0,#4756f7,#475af9,#4561fc,#465efb,#4745e9,#4536d3,#422ebf,#402ab5,#422fc1,#4537d7,#484ff2,#465dfb,#426afe,#2f81fa,#2d8df2,#2c8ef2,#307ffb,#3d70ff,#4367fd,#4368fe,#4758f8,#4852f4,#4849ed,#463ee1,#4639da,#4740e4,#4855f6,#4465fd,#416afe,#416cfe,#3479fd,#2699e9,#2c8ef2,#3a74fe)"></i><i style="left:118.27px;width:1.71px;background:linear-gradient(#4561fc,#4561fc,#4367fd,#416bfe,#3876fe,#2e85f8,#2d8af5,#2e84f8,#3479fd,#3e6fff,#406dfe,#4368fe,#4660fc,#484df1,#4755f6,#465ffb,#475af9,#4758f8,#4853f4,#473fe3,#4538d8,#463cdf,#4743e7,#484bee,#484df0,#4852f4,#4757f7,#465dfa,#3d70ff,#2f81fa,#2f82f9,#3c71ff,#4562fc,#4759f8,#475af9,#484ef1,#484bef,#4747eb,#4744e8,#4745e9,#484df1,#475af9,#4368fe,#3f6efe,#3f6eff,#2f81fa,#1aacdd,#2895ec,#4269fe)"></i><i style="left:119.68px;width:1.71px;background:linear-gradient(#4466fd,#4562fc,#4562fc,#4465fd,#3d71ff,#2e83f9,#2d8bf4,#2e87f7,#307ffb,#3678fe,#3876fe,#3b73fe,#426afe,#4757f7,#4660fb,#406cfe,#4564fd,#465ffb,#465efb,#4850f2,#484aee,#4848ec,#4746ea,#4746ea,#4745e9,#4850f3,#4756f7,#465efb,#3c71ff,#2e83f9,#2e87f7,#3479fd,#406cfe,#4563fd,#4660fc,#4852f4,#484cf0,#4746ea,#4743e7,#4745e9,#484bef,#475af9,#4368fe,#3b73fe,#3875fe,#2d8cf3,#02bac4,#22a2e4,#406cfe)"></i><i style="left:121.09px;width:1.71px;background:linear-gradient(#4367fd,#4368fd,#406cfe,#3b72ff,#317dfc,#2d89f5,#2d89f5,#2f81fa,#3678fd,#3c72ff,#3d70ff,#406cfe,#4563fd,#4854f5,#4563fc,#3876fe,#4367fd,#465dfa,#475bf9,#484ef1,#4849ed,#4746eb,#4745e9,#4746eb,#4848ec,#4853f5,#4759f8,#4660fb,#3d71ff,#2f81fa,#2e83f9,#3b72ff,#4466fd,#4660fc,#4660fb,#4855f6,#4850f3,#484aee,#4746ea,#4746ea,#484aee,#4757f7,#4564fd,#3e6fff,#3e6fff,#2e83f9,#07b5d0,#249ee6,#426afe)"></i><i style="left:122.50px;width:1.71px;background:linear-gradient(#4660fc,#4561fc,#4564fd,#4368fe,#3c71ff,#337bfd,#3578fd,#406dfe,#4563fc,#465ffb,#4660fc,#4562fc,#4561fc,#475af9,#3d71ff,#2d89f6,#3678fe,#4368fe,#4562fc,#4854f5,#484cf0,#4747eb,#4744e8,#4744e8,#4745e9,#484df1,#4852f4,#4758f8,#4368fe,#327cfc,#307ffb,#406dfe,#4660fc,#475cfa,#465ffb,#4759f9,#4759f9,#4757f7,#4755f6,#4854f6,#4757f7,#465ffb,#426afe,#3678fe,#3974fe,#317dfc,#1fa5e2,#2c8ff0,#4564fd)"></i><i style="left:123.90px;width:1.71px;background:linear-gradient(#426afe,#416bfe,#3f6eff,#3b72ff,#337afd,#2f82fa,#307ffb,#3a73fe,#426afe,#4369fe,#416cfe,#3f6eff,#416bfe,#4562fc,#3776fe,#2d8bf4,#337bfd,#416bfe,#4466fd,#4759f9,#4852f4,#484df1,#484bee,#484cef,#484ef1,#4756f7,#475bf9,#4562fc,#3974fe,#2d89f5,#2c8ff1,#2f80fa,#3875fe,#3d71ff,#3e70ff,#4465fd,#465dfb,#4755f6,#484ff2,#484ff2,#4854f5,#465ffb,#3e6fff,#2f82fa,#317dfc,#3678fd,#2b90f0,#2e83f9,#4368fe)"></i><i style="left:125.31px;width:1.71px;background:linear-gradient(#416bfe,#406dfe,#3f6fff,#3c71ff,#3579fd,#2f81fa,#307ffb,#3974fe,#416bfe,#4465fd,#4563fc,#4561fc,#465efb,#4758f8,#4369fe,#337bfd,#416cfe,#4661fc,#4660fc,#475af9,#4758f8,#4756f7,#4755f6,#4756f6,#4757f7,#465dfa,#4561fc,#4367fd,#3678fd,#2d8df2,#2c90f0,#327cfc,#406dfe,#4466fd,#4465fd,#465ffb,#475cfa,#4758f8,#4755f6,#4854f5,#4756f6,#465efb,#3d70ff,#2d8bf4,#2d89f6,#327cfc,#2e85f8,#327cfc,#416bfe)"></i><i style="left:126.72px;width:1.71px;background:linear-gradient(#4368fd,#4466fd,#4465fd,#4368fe,#3c72ff,#317dfc,#317efb,#3776fe,#3e70ff,#3f6efe,#406dfe,#406cfe,#4368fe,#4660fb,#4269fe,#3a74fe,#4368fd,#4660fb,#4661fc,#465efb,#465efb,#465efb,#465ffb,#4561fc,#4564fd,#426afe,#406cfe,#3e6fff,#337bfc,#2d8bf4,#2d8cf3,#3678fd,#426afe,#4466fd,#4366fd,#4561fc,#4660fb,#465efb,#465efb,#4660fb,#4562fc,#4369fe,#3579fd,#2c8ff0,#2e87f7,#3d70ff,#3f6fff,#406cfe,#4269fe)"></i><i style="left:128.13px;width:1.71px;background:linear-gradient(#4466fd,#4563fd,#4563fc,#4466fd,#3c71ff,#317dfc,#317dfc,#3b72ff,#4368fd,#4561fc,#465efb,#475dfa,#475bf9,#4757f7,#4660fb,#416afe,#4367fd,#4464fd,#4465fd,#4661fc,#4660fb,#465ffb,#475dfa,#475af9,#4757f7,#4759f8,#475af9,#465efb,#406dfe,#2f82fa,#2e85f8,#3b72ff,#4464fd,#465ffb,#465ffb,#465dfa,#465efb,#465ffb,#465efb,#465dfa,#475cfa,#465ffb,#3f6eff,#2d88f6,#2e84f9,#3f6eff,#4369fe,#4367fd,#4564fd)"></i><i style="left:129.54px;width:1.71px;background:linear-gradient(#4464fd,#4563fd,#4464fd,#4368fe,#3c71ff,#347afd,#3677fe,#406dfe,#4563fd,#465efb,#475cfa,#475cfa,#475dfa,#475bf9,#4562fc,#4369fe,#4367fd,#4466fd,#4464fd,#465efb,#475bf9,#475af9,#4759f8,#4759f8,#475af9,#465ffb,#4562fc,#4466fd,#3c71ff,#2f81fa,#2f81fa,#3f6fff,#4563fd,#4660fb,#4660fc,#475cfa,#475bf9,#4758f8,#4756f7,#4757f7,#475af9,#4562fc,#3974fe,#2c8ef2,#2d89f5,#3974fe,#3f6efe,#416cfe,#4269fe)"></i><i style="left:130.94px;width:1.71px;background:linear-gradient(#4367fd,#4368fe,#416bfe,#3c72ff,#317dfc,#2e86f8,#2e85f8,#327cfc,#3b72ff,#406cfe,#4269fe,#4367fd,#4465fd,#465ffb,#465ffb,#4562fc,#4562fc,#4564fd,#4465fd,#4563fd,#4563fc,#4562fc,#4562fc,#4562fc,#4660fc,#4561fc,#4660fc,#4563fc,#3e6fff,#2e83f9,#2d89f5,#337bfc,#3d70ff,#416cfe,#416bfe,#4367fd,#4564fd,#4660fc,#465efb,#465ffb,#4563fc,#416bfe,#337bfc,#2c8ef1,#2e87f7,#3c71ff,#4368fd,#4465fd,#4564fd)"></i><i style="left:132.35px;width:1.71px;background:linear-gradient(#3e6fff,#3e6fff,#3e6fff,#3c71ff,#3678fe,#317efb,#317efb,#3578fd,#3975fe,#3a74fe,#3a74fe,#3b72fe,#3d71ff,#3f6efe,#3c71ff,#3776fe,#3578fd,#3678fe,#3a74fe,#416cfe,#4367fd,#4466fd,#4366fd,#4368fe,#4369fe,#416afe,#416afe,#406cfe,#3776fe,#2e87f7,#2d8cf3,#2f80fa,#3777fe,#3b72fe,#3d70ff,#416bfe,#426afe,#4368fe,#4369fe,#426afe,#416cfe,#3f6eff,#3876fe,#2e83f9,#3080fb,#3a74fe,#3d70ff,#3e6fff,#3f6eff)"></i><i style="left:133.76px;width:1.71px;background:linear-gradient(#4367fd,#4466fd,#4465fd,#4466fd,#426afe,#3f6eff,#416cfe,#4465fd,#4660fc,#465ffb,#4561fc,#4464fd,#4368fd,#4367fd,#4367fd,#4465fd,#4562fc,#4561fc,#4660fc,#465ffb,#4661fc,#4562fc,#4562fc,#4660fc,#465efb,#465dfb,#465efb,#4562fc,#3f6efe,#307ffb,#2f82f9,#3875fe,#416bfe,#4368fe,#4368fe,#4367fd,#4367fd,#4368fe,#426afe,#406dfe,#3d71ff,#3974fe,#3579fd,#307ffb,#3479fd,#3e6fff,#416cfe,#416cfe,#406cfe)"></i><i style="left:135.17px;width:1.71px;background:linear-gradient(#4660fb,#4661fc,#4464fd,#4269fe,#3e70ff,#3975fe,#3974fe,#3d71ff,#3e70ff,#3c71ff,#3b72fe,#3b72ff,#3d71ff,#406dfe,#406cfe,#416bfe,#426afe,#426afe,#426afe,#4368fe,#4269fe,#426afe,#426afe,#4269fe,#4367fd,#4466fd,#4464fd,#4465fd,#406cfe,#3677fe,#3579fd,#3f6eff,#4368fd,#4466fd,#4465fd,#4562fc,#4660fb,#465dfa,#475bf9,#475af9,#475cfa,#4561fc,#4269fe,#3b73fe,#3a74fe,#3d70ff,#3e6fff,#3e6fff,#3e6fff)"></i><i style="left:136.58px;width:1.71px;background:linear-gradient(#4464fd,#4464fd,#4466fd,#4368fe,#406cfe,#3d70ff,#3e6fff,#416bfe,#4269fe,#416bfe,#406dfe,#3e6fff,#3e6fff,#406cfe,#416cfe,#3f6dfe,#3d70ff,#3b72ff,#3b72ff,#3e6fff,#3f6efe,#3f6efe,#3f6eff,#3e6fff,#3d71ff,#3a74fe,#3777fe,#347afd,#3080fb,#2e86f7,#2e85f8,#3579fd,#3d70ff,#406dfe,#406cfe,#416bfe,#416bfe,#426afe,#4269fe,#4368fe,#4367fd,#4367fd,#4367fd,#4269fe,#4269fe,#4368fe,#4269fe,#426afe,#416bfe)"></i><i style="left:137.98px;width:1.71px;background:linear-gradient(#4466fd,#4563fc,#4661fc,#4561fc,#4466fd,#406cfe,#3f6eff,#406cfe,#416bfe,#416bfe,#406dfe,#3f6eff,#3f6eff,#426afe,#4465fd,#4660fc,#475cfa,#475cfa,#465dfa,#465dfb,#465dfa,#475cfa,#475af9,#475af9,#475cfa,#465ffb,#4660fc,#4562fc,#4466fd,#406dfe,#3f6fff,#4369fe,#4465fd,#4465fd,#4466fd,#4563fd,#4660fc,#465ffb,#465ffb,#4562fc,#4465fd,#4368fd,#426afe,#3f6dfe,#3e70ff,#3c72ff,#3a73fe,#3a73fe,#3c71ff)"></i><i style="left:139.39px;width:1.71px;background:linear-gradient(#426afe,#416cfe,#406dfe,#3f6fff,#3c71ff,#3b72ff,#3e6fff,#4269fe,#4564fd,#4561fc,#4660fb,#4660fb,#4660fc,#4660fb,#4561fc,#4563fd,#4465fd,#4368fd,#4368fe,#4367fd,#4367fd,#4367fd,#4368fe,#4269fe,#4269fe,#4368fe,#4465fd,#4563fd,#4465fd,#426afe,#416cfe,#4368fe,#4466fd,#4366fd,#4368fd,#4368fd,#4368fe,#4368fe,#4368fe,#4269fe,#416bfe,#406cfe,#406cfe,#426afe,#4367fd,#4466fd,#4367fd,#4368fe,#4269fe)"></i></div>
<svg width="685" height="1711" viewBox="0 0 685 1711" font-family="Liberation Sans, Arial, sans-serif">
<path d="M142.5 298.8v-2.8M142.5 63.8v2.8M60.6 93h2.8M197 93h-2.8M60.6 122.6h2.8M197 122.6h-2.8M60.6 152.1h2.8M197 152.1h-2.8M60.6 181.7h2.8M197 181.7h-2.8M60.6 211.2h2.8M197 211.2h-2.8M60.6 240.8h2.8M197 240.8h-2.8M60.6 270.3h2.8M197 270.3h-2.8" stroke="#222" stroke-width="2.8" fill="none"/>
<line x1="86.8" y1="62.8" x2="86.8" y2="299.8" stroke="#dedef6" stroke-width="4.1" stroke-dasharray="4.9 3.96" stroke-dashoffset="-.4"/>
<line x1="170.4" y1="62.8" x2="170.4" y2="299.8" stroke="#dedef6" stroke-width="4.1" stroke-dasharray="4.9 3.96" stroke-dashoffset="-.4"/>
<rect x="59.1" y="62.2" width="139.4" height="238" fill="none" stroke="#222" stroke-width="3.0"/>
<path d="M60.2 86.1L72.2 93L60.2 100Z" fill="#d5d6f6" fill-opacity=".93"/>
<path d="M307.1 298.8v-2.8M307.1 63.8v2.8M225.2 93h2.8M362 93h-2.8M225.2 122.6h2.8M362 122.6h-2.8M225.2 152.1h2.8M362 152.1h-2.8M225.2 181.7h2.8M362 181.7h-2.8M225.2 211.2h2.8M362 211.2h-2.8M225.2 240.8h2.8M362 240.8h-2.8M225.2 270.3h2.8M362 270.3h-2.8" stroke="#222" stroke-width="2.8" fill="none"/>
<line x1="251.2" y1="62.8" x2="251.2" y2="299.8" stroke="#dedef6" stroke-width="4.1" stroke-dasharray="4.9 3.96" stroke-dashoffset="-.4"/>
<line x1="335" y1="62.8" x2="335" y2="299.8" stroke="#dedef6" stroke-width="4.1" stroke-dasharray="4.9 3.96" stroke-dashoffset="-.4"/>
<rect x="223.8" y="62.2" width="139.8" height="238" fill="none" stroke="#222" stroke-width="3.0"/>
<path d="M224.8 115.7L236.8 122.6L224.8 129.5Z" fill="#d5d6f6" fill-opacity=".93"/>
<text x="131.5" y="56.4" font-size="16.5" font-weight="bold" text-anchor="middle">Go</text>
<text x="291.9" y="56.4" font-size="16.5" font-weight="bold" text-anchor="middle">NoGo</text>
<text x="55" y="66.5" font-size="16.5" text-anchor="end">0</text>
<text x="54.5" y="97.8" font-size="16.5" font-weight="bold" text-anchor="end">45</text>
<text x="55" y="127.3" font-size="16.5" text-anchor="end">90</text>
<text x="55" y="156.8" font-size="16.5" text-anchor="end">135</text>
<text x="55" y="186.4" font-size="16.5" text-anchor="end">180</text>
<text x="55" y="215.9" font-size="16.5" text-anchor="end">225</text>
<text x="55" y="245.5" font-size="16.5" text-anchor="end">270</text>
<text x="55" y="275" font-size="16.5" text-anchor="end">315</text>
<text x="55" y="304.6" font-size="16.5" text-anchor="end">360</text>
<text x="220.8" y="128.3" font-size="16.5" font-weight="bold" text-anchor="end">90</text>
<text x="85.3" y="320" font-size="16.5" text-anchor="middle">0</text>
<text x="141.2" y="320" font-size="16.5" text-anchor="middle">2</text>
<text x="196.8" y="320" font-size="16.5" text-anchor="middle">4</text>
<text x="249.8" y="320" font-size="16.5" text-anchor="middle">0</text>
<text x="305.4" y="320" font-size="16.5" text-anchor="middle">2</text>
<text x="361.3" y="320" font-size="16.5" text-anchor="middle">4</text>
<text x="13.1" y="182.2" font-size="16.5" text-anchor="middle" textLength="149.5" transform="rotate(-90 13.1 182.2)">Preferred orientation</text>
<path d="M142.5 648.9v-2.8M142.5 416.9v2.8M60.6 444.7h2.8M197 444.7h-2.8M60.6 474.1h2.8M197 474.1h-2.8M60.6 503.4h2.8M197 503.4h-2.8M60.6 532.8h2.8M197 532.8h-2.8M60.6 562.2h2.8M197 562.2h-2.8M60.6 591.5h2.8M197 591.5h-2.8M60.6 620.9h2.8M197 620.9h-2.8" stroke="#222" stroke-width="2.8" fill="none"/>
<line x1="86.8" y1="415.9" x2="86.8" y2="649.9" stroke="#dedef6" stroke-width="4.1" stroke-dasharray="4.9 3.96" stroke-dashoffset="-.4"/>
<line x1="170.4" y1="415.9" x2="170.4" y2="649.9" stroke="#dedef6" stroke-width="4.1" stroke-dasharray="4.9 3.96" stroke-dashoffset="-.4"/>
<rect x="59.1" y="415.4" width="139.4" height="235" fill="none" stroke="#222" stroke-width="3.0"/>
<path d="M60.2 437.8L72.2 444.7L60.2 451.6Z" fill="#d5d6f6" fill-opacity=".93"/>
<path d="M307.1 648.9v-2.8M307.1 416.9v2.8M225.2 444.7h2.8M362 444.7h-2.8M225.2 474.1h2.8M362 474.1h-2.8M225.2 503.4h2.8M362 503.4h-2.8M225.2 532.8h2.8M362 532.8h-2.8M225.2 562.2h2.8M362 562.2h-2.8M225.2 591.5h2.8M362 591.5h-2.8M225.2 620.9h2.8M362 620.9h-2.8" stroke="#222" stroke-width="2.8" fill="none"/>
<line x1="251.2" y1="415.9" x2="251.2" y2="649.9" stroke="#dedef6" stroke-width="4.1" stroke-dasharray="4.9 3.96" stroke-dashoffset="-.4"/>
<line x1="335" y1="415.9" x2="335" y2="649.9" stroke="#dedef6" stroke-width="4.1" stroke-dasharray="4.9 3.96" stroke-dashoffset="-.4"/>
<rect x="223.8" y="415.4" width="139.8" height="235" fill="none" stroke="#222" stroke-width="3.0"/>
<path d="M224.8 455.3L236.8 462.2L224.8 469.1Z" fill="#d5d6f6" fill-opacity=".93"/>
<text x="133.5" y="408.9" font-size="16.5" font-weight="bold" text-anchor="middle">Go</text>
<text x="293.5" y="408.9" font-size="16.5" font-weight="bold" text-anchor="middle">NoGo</text>
<text x="55" y="419.7" font-size="16.5" text-anchor="end">0</text>
<text x="54.5" y="449.7" font-size="16.5" font-weight="bold" text-anchor="end">45</text>
<text x="55" y="479.1" font-size="16.5" text-anchor="end">90</text>
<text x="55" y="508.4" font-size="16.5" text-anchor="end">135</text>
<text x="55" y="537.8" font-size="16.5" text-anchor="end">180</text>
<text x="55" y="567.2" font-size="16.5" text-anchor="end">225</text>
<text x="55" y="596.5" font-size="16.5" text-anchor="end">270</text>
<text x="55" y="625.9" font-size="16.5" text-anchor="end">315</text>
<text x="55" y="655.3" font-size="16.5" text-anchor="end">360</text>
<text x="220.8" y="467.9" font-size="16.5" font-weight="bold" text-anchor="end">65</text>
<text x="85.3" y="669.6" font-size="16.5" text-anchor="middle">0</text>
<text x="141.2" y="669.6" font-size="16.5" text-anchor="middle">2</text>
<text x="196.8" y="669.6" font-size="16.5" text-anchor="middle">4</text>
<text x="249.8" y="669.6" font-size="16.5" text-anchor="middle">0</text>
<text x="305.4" y="669.6" font-size="16.5" text-anchor="middle">2</text>
<text x="361.3" y="669.6" font-size="16.5" text-anchor="middle">4</text>
<text x="12.4" y="527.9" font-size="16.5" text-anchor="middle" textLength="149.5" transform="rotate(-90 12.4 527.9)">Preferred orientation</text>
<path d="M142.5 984.6v-2.8M142.5 753v2.8M60.6 780.6h2.8M197 780.6h-2.8M60.6 810h2.8M197 810h-2.8M60.6 839.4h2.8M197 839.4h-2.8M60.6 868.9h2.8M197 868.9h-2.8M60.6 898.3h2.8M197 898.3h-2.8M60.6 927.7h2.8M197 927.7h-2.8M60.6 957.1h2.8M197 957.1h-2.8" stroke="#222" stroke-width="2.8" fill="none"/>
<line x1="86.8" y1="752" x2="86.8" y2="985.6" stroke="#dedef6" stroke-width="4.1" stroke-dasharray="4.9 3.96" stroke-dashoffset="-.4"/>
<line x1="170.4" y1="752" x2="170.4" y2="985.6" stroke="#dedef6" stroke-width="4.1" stroke-dasharray="4.9 3.96" stroke-dashoffset="-.4"/>
<rect x="59.1" y="751.5" width="139.4" height="234.6" fill="none" stroke="#222" stroke-width="3.0"/>
<path d="M60.2 773.7L72.2 780.6L60.2 787.5Z" fill="#d5d6f6" fill-opacity=".93"/>
<path d="M307.1 984.6v-2.8M307.1 753v2.8M225.2 780.6h2.8M362 780.6h-2.8M225.2 810h2.8M362 810h-2.8M225.2 839.4h2.8M362 839.4h-2.8M225.2 868.9h2.8M362 868.9h-2.8M225.2 898.3h2.8M362 898.3h-2.8M225.2 927.7h2.8M362 927.7h-2.8M225.2 957.1h2.8M362 957.1h-2.8" stroke="#222" stroke-width="2.8" fill="none"/>
<line x1="251.2" y1="752" x2="251.2" y2="985.6" stroke="#dedef6" stroke-width="4.1" stroke-dasharray="4.9 3.96" stroke-dashoffset="-.4"/>
<line x1="335" y1="752" x2="335" y2="985.6" stroke="#dedef6" stroke-width="4.1" stroke-dasharray="4.9 3.96" stroke-dashoffset="-.4"/>
<rect x="223.8" y="751.5" width="139.8" height="234.6" fill="none" stroke="#222" stroke-width="3.0"/>
<path d="M224.8 788.2L236.8 795.1L224.8 802Z" fill="#d5d6f6" fill-opacity=".93"/>
<text x="134" y="744.5" font-size="16.5" font-weight="bold" text-anchor="middle">Go</text>
<text x="294.1" y="744.5" font-size="16.5" font-weight="bold" text-anchor="middle">NoGo</text>
<text x="55" y="755.9" font-size="16.5" text-anchor="end">0</text>
<text x="54.5" y="785.3" font-size="16.5" font-weight="bold" text-anchor="end">45</text>
<text x="55" y="814.7" font-size="16.5" text-anchor="end">90</text>
<text x="55" y="844.1" font-size="16.5" text-anchor="end">135</text>
<text x="55" y="873.6" font-size="16.5" text-anchor="end">180</text>
<text x="55" y="903" font-size="16.5" text-anchor="end">225</text>
<text x="55" y="932.4" font-size="16.5" text-anchor="end">270</text>
<text x="55" y="961.8" font-size="16.5" text-anchor="end">315</text>
<text x="55" y="991.2" font-size="16.5" text-anchor="end">360</text>
<text x="220.8" y="800.8" font-size="16.5" font-weight="bold" text-anchor="end">60</text>
<text x="85.3" y="1006" font-size="16.5" text-anchor="middle">0</text>
<text x="141.2" y="1006" font-size="16.5" text-anchor="middle">2</text>
<text x="196.8" y="1006" font-size="16.5" text-anchor="middle">4</text>
<text x="249.8" y="1006" font-size="16.5" text-anchor="middle">0</text>
<text x="305.4" y="1006" font-size="16.5" text-anchor="middle">2</text>
<text x="361.3" y="1006" font-size="16.5" text-anchor="middle">4</text>
<text x="13.5" y="867.9" font-size="16.5" text-anchor="middle" textLength="149.5" transform="rotate(-90 13.5 867.9)">Preferred orientation</text>
<text x="208" y="12.2" font-size="16.5" textLength="115.7">Go/NoGo Angle</text>
<text x="329.8" y="12.2" font-size="16" font-weight="bold" textLength="23.7">45°</text>
<text x="362.5" y="12.5" font-size="16.5">-</text>
<text x="373.9" y="12.5" font-size="16.5" textLength="106.3">mean D’ : 2.5</text>
<text x="208" y="365.8" font-size="16.5" textLength="115.7">Go/NoGo Angle</text>
<text x="330.5" y="365.8" font-size="18.5" font-weight="bold" textLength="27.5">20°</text>
<text x="362.3" y="366.1" font-size="16.5">-</text>
<text x="373.2" y="366.1" font-size="16.5" textLength="106.3">mean D’ : 1.4</text>
<text x="203" y="710" font-size="16.5" textLength="115.7">Go/NoGo Angle</text>
<text x="325.8" y="710" font-size="18.5" font-weight="bold" textLength="28">15°</text>
<text x="357.3" y="710.3" font-size="16.5">-</text>
<text x="368.2" y="710.3" font-size="16.5" textLength="117">mean D’ : 0.73</text>
<text x="7" y="38" font-size="21.5" font-weight="bold">a</text>
<text x="384.5" y="38" font-size="21.5" font-weight="bold">b</text>
<text x="7" y="390.7" font-size="23" font-weight="bold">c</text>
<text x="384.5" y="389.8" font-size="20.5" font-weight="bold">d</text>
<text x="7" y="732.5" font-size="21.5" font-weight="bold">e</text>
<text x="387" y="732.5" font-size="20" font-weight="bold">f</text>
<text x="7.5" y="1100" font-size="21.5" font-weight="bold">g</text>
<text x="8" y="1406.7" font-size="21" font-weight="bold">h</text>
<text x="362.5" y="1406.7" font-size="21" font-weight="bold">i</text>
<clipPath id="cb"><rect x="439.6" y="61.5" width="235" height="237.6"/></clipPath>
<g clip-path="url(#cb)">
<path d="M439.5 188.6L440.8 189.2L442.1 190.1L443.4 191.3L444.7 192.3L446 193.7L447.3 194.6L448.6 195.3L449.9 196.7L451.2 197.9L452.5 198.5L453.8 199.4L455.1 199.9L456.4 199L457.7 196.7L459 193.1L460.3 188.7L461.6 184.3L462.9 180.2L464.2 176.5L465.5 172.5L466.8 166.5L468.1 159.8L469.4 153.4L470.7 146L472 138.5L473.3 131.3L474.6 124.8L475.9 119.4L477.2 114.2L478.5 109.7L479.8 106L481.1 102.2L482.4 99L483.7 95.9L485 93.4L486.3 92.1L487.6 91.6L488.9 90.8L490.2 89.7L491.5 89.6L492.8 90.2L494.1 91.2L495.4 92.3L496.7 93.8L498 96.7L499.3 101.1L500.6 105.2L501.9 108L503.2 111.8L504.5 117.1L505.8 122.6L507.1 129.3L508.4 137.3L509.7 145.3L511 153.4L512.3 161.9L513.6 170.5L514.9 178.3L516.2 185.3L517.5 190.5L518.8 194.8L520.1 199.9L521.4 204.7L522.7 207.9L524 210.7L525.3 213.7L526.6 216.8L527.9 219.7L529.2 222.4L530.5 225L531.8 226.6L533.1 228.1L534.4 230.2L535.7 231.5L537 232.3L538.3 233.7L539.6 235.2L540.9 235.8L542.2 236.7L543.5 238.6L544.8 240.1L546.1 240.6L547.4 241L548.7 241.8L550 242.5L551.3 243.3L552.6 244.4L553.9 244.7L555.2 243.9L556.5 243.1L557.8 242.1L559.1 240.9L560.4 239.7L561.7 238.8L563 239L564.3 239.5L565.6 238.9L566.9 237.9L568.2 237.4L569.5 237.5L570.8 238L572.1 238.2L573.4 238.3L574.7 239L576 240L577.3 240.9L578.6 241.5L579.9 241.7L581.2 241.3L582.5 241.1L583.8 241.6L585.1 241.9L586.4 241.3L587.7 240.6L589 240.6L590.3 240.4L591.6 239.6L592.9 239.2L594.2 239L595.5 237.8L596.8 236.9L598.1 236.9L599.4 236.7L600.7 236.8L602 237.5L603.3 238.2L604.6 239.1L605.9 240.2L607.2 240.9L608.5 241.3L609.8 242.1L611.1 243L612.4 243.7L613.7 243.8L615 244.3L616.3 245.3L617.6 245.6L618.9 246.1L620.2 247.2L621.5 247.9L622.8 248.3L624.1 248.2L625.4 248L626.7 248.2L628 248.8L629.3 249.3L630.6 249.6L631.9 250L633.2 250.7L634.5 251.6L635.8 252.3L637.1 253.6L638.4 255.1L639.7 256L641 255.6L642.3 254.7L643.6 254.8L644.9 255L646.2 253.9L647.5 252.3L648.8 251.5L650.1 249.9L651.4 247L652.7 245L654 243.2L655.3 241.1L656.6 239.6L657.9 238.2L659.2 237L660.5 236.6L661.8 236.4L663.1 236.2L664.4 235.8L665.7 235.2L667 235.3L668.3 235.8L669.6 235.5L670.9 235.1L672.2 235.4L672.2 288.1L670.9 288.8L669.6 289.1L668.3 289.2L667 290.3L665.7 290.8L664.4 290.8L663.1 292.2L661.8 294.2L660.5 294.5L659.2 294L657.9 294.4L656.6 294.6L655.3 294.3L654 293.8L652.7 293.6L651.4 293.7L650.1 293.8L648.8 294.7L647.5 295.9L646.2 296.1L644.9 295.8L643.6 295.9L642.3 296.2L641 296.3L639.7 296.1L638.4 295.5L637.1 295L635.8 294.7L634.5 293.9L633.2 293.2L631.9 292.9L630.6 292L629.3 290.6L628 290.4L626.7 290.4L625.4 289.6L624.1 289.4L622.8 289.9L621.5 290.1L620.2 289.7L618.9 289L617.6 289.3L616.3 289.8L615 288.6L613.7 287.6L612.4 287.9L611.1 287.7L609.8 286.5L608.5 285.6L607.2 284.9L605.9 284.7L604.6 284.9L603.3 284.1L602 283.3L600.7 283.1L599.4 282.5L598.1 281.9L596.8 282.6L595.5 283.6L594.2 284.6L592.9 286L591.6 287.1L590.3 288.4L589 289.1L587.7 289.5L586.4 290.8L585.1 292.6L583.8 293.3L582.5 292.9L581.2 291.4L579.9 288.7L578.6 286.5L577.3 285.1L576 283.7L574.7 282.6L573.4 280.8L572.1 278.9L570.8 277.9L569.5 278.3L568.2 278.5L566.9 278L565.6 278.7L564.3 280.2L563 281.8L561.7 282.8L560.4 283.6L559.1 285.5L557.8 287.5L556.5 288.7L555.2 289.3L553.9 289.4L552.6 289L551.3 288.3L550 287.9L548.7 287.6L547.4 286.3L546.1 285L544.8 285L543.5 284.8L542.2 283.8L540.9 282.6L539.6 281.9L538.3 282.3L537 283.2L535.7 283.7L534.4 284L533.1 284.2L531.8 284.3L530.5 283.9L529.2 283.5L527.9 283.3L526.6 283.3L525.3 282.8L524 281.6L522.7 280.3L521.4 278.9L520.1 276.4L518.8 273.3L517.5 271.1L516.2 269.1L514.9 266.5L513.6 264.2L512.3 262.1L511 259L509.7 255L508.4 250.9L507.1 246.8L505.8 242.2L504.5 237.5L503.2 232.7L501.9 227.6L500.6 223.4L499.3 221.2L498 219.4L496.7 218L495.4 217.6L494.1 218.2L492.8 219.3L491.5 219.9L490.2 220.5L488.9 221.4L487.6 222.5L486.3 223.7L485 225.5L483.7 227.5L482.4 229.5L481.1 231.5L479.8 233.1L478.5 234.8L477.2 237.1L475.9 239.9L474.6 242.9L473.3 245.9L472 248.8L470.7 251.4L469.4 254.2L468.1 258.6L466.8 264.2L465.5 269.5L464.2 274.8L462.9 279.4L461.6 282.1L460.3 284.3L459 286.2L457.7 286L456.4 285.6L455.1 285.3L453.8 283.7L452.5 282.3L451.2 281.1L449.9 279.6L448.6 278.5L447.3 277.1L446 276.4L444.7 276.9L443.4 277L442.1 276L440.8 274.5L439.5 272.9Z" fill="#0000ff" fill-opacity=".225"/>
<path d="M439.5 237.5L440.8 238.1L442.1 238.3L443.4 238.6L444.7 238.9L446 239.3L447.3 240.1L448.6 240.7L449.9 240.3L451.2 240.3L452.5 241L453.8 241.4L455.1 242.4L456.4 243.4L457.7 243L459 242.3L460.3 242.7L461.6 243.8L462.9 244.1L464.2 244.2L465.5 244.3L466.8 243.8L468.1 243.2L469.4 242.3L470.7 241.3L472 241.7L473.3 242.3L474.6 242.3L475.9 241.8L477.2 240.9L478.5 240L479.8 238.5L481.1 236.5L482.4 234.3L483.7 232.7L485 231.6L486.3 230.3L487.6 229.1L488.9 228.2L490.2 226.7L491.5 225L492.8 223.5L494.1 222L495.4 221.3L496.7 220.4L498 219.6L499.3 219.6L500.6 219.4L501.9 219L503.2 218.9L504.5 219L505.8 218.6L507.1 217.2L508.4 216.5L509.7 216.9L511 216.9L512.3 215.9L513.6 214.8L514.9 213.2L516.2 210.8L517.5 209.1L518.8 207.6L520.1 205.9L521.4 203.5L522.7 201.3L524 199.4L525.3 197.2L526.6 194.9L527.9 191.6L529.2 187.2L530.5 182.2L531.8 177L533.1 171.8L534.4 166.8L535.7 161.7L537 156.6L538.3 152L539.6 147.3L540.9 141.9L542.2 136.1L543.5 130.8L544.8 126.6L546.1 122.7L547.4 118.3L548.7 114.8L550 112.4L551.3 111L552.6 110.7L553.9 110.5L555.2 110.3L556.5 111.1L557.8 111.5L559.1 112.2L560.4 115.2L561.7 122.8L563 133.3L564.3 141L565.6 146.3L566.9 152.3L568.2 158.4L569.5 163.1L570.8 166.8L572.1 170.3L573.4 174.8L574.7 180.2L576 184.9L577.3 188.6L578.6 192L579.9 195.5L581.2 198.5L582.5 200.9L583.8 202.6L585.1 204.1L586.4 205.7L587.7 207.2L589 209.1L590.3 210.3L591.6 210.5L592.9 210.8L594.2 211L595.5 211.3L596.8 211.2L598.1 210.7L599.4 210.7L600.7 210.7L602 210.9L603.3 211.6L604.6 212.6L605.9 213.7L607.2 214.9L608.5 216.4L609.8 218.7L611.1 220.8L612.4 222.2L613.7 224.1L615 226.8L616.3 228.7L617.6 229.2L618.9 229.9L620.2 231.6L621.5 232.5L622.8 232.6L624.1 233.3L625.4 234L626.7 234.4L628 234.8L629.3 235L630.6 235.7L631.9 236.4L633.2 236L634.5 235.2L635.8 234.9L637.1 235L638.4 235.9L639.7 236.9L641 236.5L642.3 235.2L643.6 234L644.9 232.9L646.2 231.5L647.5 230.2L648.8 229L650.1 227L651.4 225.1L652.7 224.1L654 223.2L655.3 221.8L656.6 220.5L657.9 220.2L659.2 220.6L660.5 221.1L661.8 221.3L663.1 221.1L664.4 221.5L665.7 222.2L667 223.1L668.3 224.5L669.6 225.4L670.9 226.2L672.2 228L672.2 272.2L670.9 272.6L669.6 272.9L668.3 273.9L667 274.6L665.7 274.7L664.4 274.5L663.1 273.2L661.8 271.4L660.5 271L659.2 271.5L657.9 271.7L656.6 271.7L655.3 271.6L654 272.1L652.7 272.5L651.4 273.1L650.1 275.1L648.8 277.1L647.5 278.7L646.2 280.6L644.9 282.3L643.6 283.5L642.3 285L641 286.3L639.7 287.2L638.4 287.9L637.1 288.2L635.8 287.6L634.5 286.4L633.2 285.7L631.9 285.5L630.6 284.8L629.3 283L628 281.4L626.7 281.3L625.4 281.7L624.1 281.1L622.8 279.8L621.5 279.2L620.2 279.2L618.9 278.7L617.6 278L616.3 277.6L615 277.1L613.7 277L612.4 277.1L611.1 276.6L609.8 275.6L608.5 274L607.2 272.8L605.9 272.4L604.6 272.1L603.3 271.3L602 270.3L600.7 270.1L599.4 270.5L598.1 270.3L596.8 269.2L595.5 268.1L594.2 268.4L592.9 269.4L591.6 269.7L590.3 270.1L589 271.1L587.7 272L586.4 272.2L585.1 272.3L583.8 272.7L582.5 272L581.2 270.6L579.9 269.2L578.6 267.1L577.3 264.8L576 262L574.7 258.5L573.4 254.9L572.1 251.8L570.8 248.9L569.5 245.2L568.2 241.1L566.9 236.4L565.6 231.7L564.3 227.6L563 223.8L561.7 220.5L560.4 217.7L559.1 215.2L557.8 212.6L556.5 210.9L555.2 209.7L553.9 208.5L552.6 208.2L551.3 208.8L550 210.1L548.7 211.2L547.4 212.4L546.1 214.9L544.8 217.6L543.5 220L542.2 222.9L540.9 225.8L539.6 228.2L538.3 230.7L537 233.3L535.7 235.9L534.4 238.8L533.1 241.7L531.8 244.6L530.5 247.9L529.2 251.1L527.9 254.1L526.6 257.3L525.3 259.6L524 260.9L522.7 262.4L521.4 263.3L520.1 264.1L518.8 265.6L517.5 266.9L516.2 267.8L514.9 268.3L513.6 267.8L512.3 266.7L511 265.5L509.7 265L508.4 264.9L507.1 264.2L505.8 263.4L504.5 262.6L503.2 262.3L501.9 262.7L500.6 262.7L499.3 262.7L498 263.7L496.7 265.1L495.4 266.3L494.1 267.2L492.8 267.6L491.5 268.4L490.2 269.7L488.9 271.4L487.6 273.1L486.3 273.9L485 274.3L483.7 275.5L482.4 277.1L481.1 278.1L479.8 278.9L478.5 279.7L477.2 280.8L475.9 282L474.6 282.7L473.3 283.3L472 284.3L470.7 284.9L469.4 284.5L468.1 284.6L466.8 285.5L465.5 286.3L464.2 286.3L462.9 285.4L461.6 285.3L460.3 286L459 285.9L457.7 284.8L456.4 284.2L455.1 283.9L453.8 283.3L452.5 282.9L451.2 282.2L449.9 281.4L448.6 280.5L447.3 279.5L446 278.3L444.7 276.6L443.4 275.8L442.1 275.6L440.8 274.4L439.5 272.7Z" fill="#b00f2c" fill-opacity=".225"/>
</g>
<line x1="438.2" y1="245.9" x2="673.6" y2="245.9" stroke="#1a1a1a" stroke-width="1.5"/>
<line x1="496.6" y1="90" x2="496.6" y2="299.1" stroke="#0000ff" stroke-width="1.7" stroke-dasharray="4.6 2.8"/>
<line x1="555.6" y1="90" x2="555.6" y2="299.1" stroke="#c0566e" stroke-width="1.7" stroke-dasharray="4.6 2.8"/>
<path d="M490.5 66.6h12.6L496.8 76.4Z" fill="#7878ff"/>
<circle cx="496.8" cy="69.2" r=".8" fill="#0000ff" fill-opacity=".7"/>
<path d="M549.2 66.6h12.6L555.5 76.4Z" fill="#cc7085"/>
<circle cx="555.5" cy="69.2" r=".8" fill="#a01030" fill-opacity=".7"/>
<g clip-path="url(#cb)">
<path d="M438.5 237.5C438.7 237.4 438.4 237.3 439.5 236.9C440.6 236.5 443.3 234.8 445.2 235C447.1 235.2 449.2 237.1 450.9 237.9C452.6 238.7 454 240.3 455.6 239.8C457.2 239.3 458.8 238 460.4 235C462 232 463.5 226.9 465.1 221.8C466.7 216.8 468.3 210.1 469.9 204.7C471.5 199.3 473 194.6 474.6 189.5C476.2 184.4 477.6 178.7 479.3 173.9C481 169.1 482.8 163.9 485 160.6C487.2 157.3 490.2 154.3 492.6 154.3C495 154.3 497.4 157.3 499.3 160.6C501.2 163.9 502.6 169 504 173.9C505.4 178.8 506.9 185.8 507.8 190C508.8 194.2 508.4 193.7 509.7 199C511 204.3 513.6 215.2 515.4 221.8C517.1 228.4 518.6 234.1 520.2 238.8C521.8 243.5 523.2 247.3 524.9 250.2C526.6 253 528.4 254.8 530.6 255.9C532.8 257 536 256.3 538.2 256.9C540.4 257.5 542 258.3 543.9 259.7C545.8 261.1 547.7 264.1 549.6 265.4C551.5 266.7 553.1 268.3 555.3 267.7C557.5 267.1 560.1 263.2 562.6 261.6C565.1 260 567.7 257.5 570.2 257.8C572.7 258.1 575.3 261.9 577.8 263.5C580.3 265.1 582.9 267.7 585.4 267.7C587.9 267.7 590.5 264.9 593 263.5C595.5 262.1 598 259.4 600.5 259.3C603 259.2 605.6 261.3 608.1 262.6C610.6 263.9 612.9 265.9 615.7 266.9C618.6 267.9 622 267.6 625.2 268.8C628.4 270 631.7 272.3 634.7 273.9C637.7 275.4 640.8 277.9 643.3 278.1C645.8 278.3 647.5 276.5 649.9 274.9C652.3 273.3 655 270 657.5 268.3C660 266.6 662.5 265.6 665.1 264.5C667.7 263.4 671.7 262.4 673 262" fill="none" stroke="#0000ff" stroke-width="3.8" stroke-linejoin="round"/>
<path d="M438.5 255.2C438.7 255.2 438.4 255.2 439.5 255.5C440.6 255.8 443 255.9 445.2 256.9C447.4 257.9 449.9 260.3 452.8 261.6C455.7 262.9 459.1 264.2 462.3 264.5C465.5 264.8 468.7 263.7 471.8 263.1C474.9 262.5 478.4 262.2 481.2 260.7C484 259.2 486.3 256.7 488.8 254C491.3 251.3 493.9 246.7 496.4 244.5C498.9 242.3 501.1 241.2 504 240.7C506.9 240.2 511 242.3 513.5 241.7C516 241.1 517.3 239.3 519.2 236.9C521.1 234.5 522.7 231.8 524.9 227.4C527.1 223 530.1 216.4 532.5 210.4C534.9 204.4 537.2 197 539.1 191.4C541 185.8 542.5 181.2 543.9 177C545.3 172.8 546.1 168.8 547.5 166C548.9 163.2 550.7 160.2 552.4 160.2C554.1 160.2 555.8 162.4 557.5 166C559.2 169.6 561.3 177.5 562.6 181.5C563.9 185.5 564.5 187.1 565.4 190C566.3 192.9 566.9 194.3 568.3 199C569.7 203.7 572.1 212.3 574 218C575.9 223.7 577.8 229.6 579.7 233.1C581.6 236.6 583.5 238 585.4 239.2C587.3 240.4 588.7 240.6 591.1 240.4C593.5 240.2 597.2 237.9 599.6 237.9C602 237.9 603.2 238.8 605.3 240.7C607.3 242.6 609.5 246.9 611.9 249.3C614.3 251.7 616.6 253.5 619.5 255C622.4 256.5 625.8 257 629 258.2C632.2 259.4 636 261.9 638.5 262C641 262.1 642.3 260.8 644.2 258.8C646.1 256.8 648 252.3 649.9 250.2C651.8 248.1 653.4 246.5 655.6 246C657.8 245.5 660.3 246.6 663.2 247.4C666.1 248.2 671.4 250.1 673 250.6" fill="none" stroke="#a6142f" stroke-width="3.8" stroke-linejoin="round"/>
</g>
<line x1="438.2" y1="61.5" x2="438.2" y2="301.3" stroke="#000" stroke-width="3.2"/>
<line x1="436.6" y1="300.3" x2="675" y2="300.3" stroke="#111" stroke-width="2.8"/>
<line x1="438.2" y1="99.7" x2="442.2" y2="99.7" stroke="#000" stroke-width="2.6"/>
<text x="430.1" y="107.1" font-size="16.5" text-anchor="end">0.04</text>
<line x1="438.2" y1="172.7" x2="442.2" y2="172.7" stroke="#000" stroke-width="2.6"/>
<text x="430.1" y="180.1" font-size="16.5" text-anchor="end">0.02</text>
<line x1="438.2" y1="245.9" x2="442.2" y2="245.9" stroke="#000" stroke-width="2.6"/>
<text x="430.1" y="253.3" font-size="16.5" text-anchor="end">0</text>
<text x="436.5" y="320" font-size="16.5" text-anchor="middle">0</text>
<line x1="496.8" y1="300.1" x2="496.8" y2="296.1" stroke="#111" stroke-width="2.6"/>
<text x="494.2" y="320" font-size="16.5" text-anchor="middle">45</text>
<line x1="555.6" y1="300.1" x2="555.6" y2="296.1" stroke="#111" stroke-width="2.6"/>
<text x="552.2" y="320" font-size="16.5" text-anchor="middle">90</text>
<line x1="614.6" y1="300.1" x2="614.6" y2="296.1" stroke="#111" stroke-width="2.6"/>
<text x="610.3" y="320" font-size="16.5" text-anchor="middle">135</text>
<line x1="673.4" y1="300.1" x2="673.4" y2="296.1" stroke="#111" stroke-width="2.6"/>
<text x="669.9" y="320" font-size="16.5" text-anchor="middle">180</text>
<text x="392.3" y="192.2" font-size="16.5" text-anchor="middle" textLength="70.5" transform="rotate(-90 392.3 192.2)">APrE/trial</text>
<line x1="496.6" y1="295.5" x2="496.6" y2="299.3" stroke="#0000ff" stroke-width="2.2"/>
<line x1="555.6" y1="295.5" x2="555.6" y2="299.3" stroke="#c0566e" stroke-width="2.2"/>
<clipPath id="cd"><rect x="439.6" y="414.2" width="235" height="234.9"/></clipPath>
<g clip-path="url(#cd)">
<path d="M439.5 579.1L440.8 577.2L442.1 575.3L443.4 573.5L444.7 570.9L446 566.8L447.3 563L448.6 558.7L449.9 552.9L451.2 547L452.5 541.7L453.8 537.4L455.1 534.5L456.4 532.7L457.7 529.8L459 523.1L460.3 514.6L461.6 508.7L462.9 505.6L464.2 503.2L465.5 500.7L466.8 499.2L468.1 499.2L469.4 498.8L470.7 498.5L472 499.3L473.3 500.3L474.6 499.9L475.9 497.9L477.2 496.5L478.5 496.2L479.8 495L481.1 493.5L482.4 492.5L483.7 492.3L485 492.5L486.3 491.5L487.6 490.2L488.9 489.3L490.2 488.3L491.5 486.6L492.8 485.2L494.1 484.2L495.4 483.4L496.7 483.4L498 484.8L499.3 486.3L500.6 487.1L501.9 488.2L503.2 490.5L504.5 493.7L505.8 497L507.1 500.4L508.4 503.9L509.7 507.6L511 512.3L512.3 517L513.6 522L514.9 527.9L516.2 534.6L517.5 541.7L518.8 548.8L520.1 555.2L521.4 560.2L522.7 564.2L524 568.3L525.3 572.3L526.6 575.5L527.9 578.2L529.2 580.8L530.5 582.8L531.8 584.7L533.1 586L534.4 586.8L535.7 587.7L537 588.8L538.3 589.9L539.6 590.5L540.9 591.1L542.2 592.1L543.5 592.5L544.8 592.3L546.1 592.6L547.4 593.5L548.7 594L550 593.8L551.3 593.5L552.6 593.3L553.9 593.5L555.2 593.6L556.5 593.2L557.8 592.6L559.1 592.1L560.4 592L561.7 591.7L563 591.7L564.3 592.5L565.6 593.5L566.9 594L568.2 594.4L569.5 594.7L570.8 595.4L572.1 596.2L573.4 596.5L574.7 597.4L576 598.9L577.3 599.9L578.6 600.2L579.9 599.9L581.2 600L582.5 600.7L583.8 601.4L585.1 601.6L586.4 601.4L587.7 601.1L589 601.3L590.3 601.3L591.6 600.5L592.9 600.4L594.2 600.4L595.5 599.3L596.8 597.9L598.1 596.8L599.4 595.6L600.7 594.9L602 595L603.3 593.9L604.6 592.2L605.9 592.2L607.2 592.1L608.5 590.9L609.8 590.3L611.1 589.9L612.4 588.7L613.7 587.5L615 585.9L616.3 584.2L617.6 583.4L618.9 582.9L620.2 582.6L621.5 582.4L622.8 581.6L624.1 581L625.4 581.3L626.7 581.9L628 582L629.3 581.4L630.6 580.9L631.9 581.1L633.2 581.8L634.5 581.8L635.8 581.1L637.1 580.8L638.4 580.6L639.7 580.5L641 580.5L642.3 580.8L643.6 581.3L644.9 581.1L646.2 580.8L647.5 581.7L648.8 583.1L650.1 584.1L651.4 585.1L652.7 586.6L654 587.8L655.3 588.4L656.6 589.5L657.9 591.5L659.2 593.8L660.5 595.4L661.8 596.3L663.1 597.8L664.4 599.3L665.7 600L667 600.2L668.3 599.8L669.6 598L670.9 596.7L672.2 596.2L672.2 649.2L670.9 649.4L669.6 649.9L668.3 650L667 650.9L665.7 652L664.4 651.7L663.1 651.1L661.8 651.1L660.5 651L659.2 649.9L657.9 648L656.6 645.7L655.3 644.5L654 642.9L652.7 640.1L651.4 637.7L650.1 636.1L648.8 634.1L647.5 631.9L646.2 630L644.9 628.5L643.6 627.8L642.3 627.1L641 626.7L639.7 627L638.4 627.2L637.1 627.3L635.8 627.9L634.5 628.4L633.2 628.9L631.9 629.4L630.6 629.8L629.3 630L628 629.5L626.7 629L625.4 628.9L624.1 628.4L622.8 627.9L621.5 628L620.2 628.7L618.9 629.4L617.6 629.9L616.3 631L615 632.6L613.7 633.6L612.4 633.6L611.1 634.2L609.8 635.5L608.5 636.2L607.2 636.3L605.9 636.4L604.6 636.6L603.3 637.1L602 637.9L600.7 638.3L599.4 638.6L598.1 638.9L596.8 638.8L595.5 639.5L594.2 641.1L592.9 641.5L591.6 641.5L590.3 642.7L589 643.7L587.7 643.9L586.4 644.4L585.1 645.5L583.8 645.9L582.5 645.5L581.2 645.2L579.9 644.9L578.6 643.9L577.3 643.3L576 643.1L574.7 642.2L573.4 641L572.1 639.8L570.8 638.4L569.5 637.2L568.2 635.7L566.9 634.4L565.6 633.7L564.3 633.5L563 632.9L561.7 632.8L560.4 633.5L559.1 633.5L557.8 632.8L556.5 632.4L555.2 632.7L553.9 633.9L552.6 634.8L551.3 635.2L550 635.4L548.7 634.9L547.4 634.4L546.1 634.6L544.8 635.2L543.5 636L542.2 636.7L540.9 637L539.6 636.9L538.3 637L537 637.7L535.7 637.9L534.4 637.4L533.1 637.1L531.8 636.3L530.5 635.7L529.2 635.3L527.9 633.8L526.6 631.6L525.3 629.6L524 627L522.7 623.5L521.4 619.4L520.1 615L518.8 610.9L517.5 606.9L516.2 603.1L514.9 600L513.6 597.4L512.3 594.9L511 592.3L509.7 590.6L508.4 589.4L507.1 587.7L505.8 586.8L504.5 586.6L503.2 585.1L501.9 583.8L500.6 584L499.3 584.6L498 585.1L496.7 585.8L495.4 586.6L494.1 587.6L492.8 589L491.5 590.4L490.2 591.3L488.9 592L487.6 593.2L486.3 595L485 597.6L483.7 599.3L482.4 599.9L481.1 600.8L479.8 602L478.5 602.5L477.2 602.4L475.9 601.8L474.6 600.7L473.3 599.3L472 598.3L470.7 597.8L469.4 598L468.1 599.2L466.8 600.3L465.5 600.8L464.2 601.6L462.9 602.9L461.6 604.2L460.3 605.5L459 607.4L457.7 609.5L456.4 611.4L455.1 613.3L453.8 615.6L452.5 617.9L451.2 619.1L449.9 619.8L448.6 620.8L447.3 621.1L446 620.3L444.7 618.6L443.4 616.2L442.1 613.9L440.8 612.2L439.5 610.7Z" fill="#0000ff" fill-opacity=".225"/>
<path d="M439.5 586.1L440.8 584.3L442.1 583L443.4 581.5L444.7 579.9L446 578.4L447.3 576.6L448.6 575.2L449.9 574.9L451.2 574.9L452.5 574.2L453.8 573L455.1 571.9L456.4 570.7L457.7 569.2L459 567.2L460.3 564.7L461.6 563.1L462.9 562.7L464.2 562.3L465.5 560.9L466.8 559.2L468.1 558.2L469.4 557.9L470.7 558.5L472 558.6L473.3 558.1L474.6 558.3L475.9 558.5L477.2 558.3L478.5 558L479.8 557L481.1 555.2L482.4 552.8L483.7 549.6L485 546.2L486.3 543.3L487.6 539.8L488.9 535.7L490.2 531.9L491.5 528L492.8 523.9L494.1 520.5L495.4 517.5L496.7 514.8L498 512.7L499.3 510.7L500.6 509.1L501.9 508.2L503.2 507.2L504.5 506.6L505.8 505.9L507.1 504.5L508.4 503.3L509.7 503L511 503.9L512.3 505.4L513.6 506.3L514.9 507.2L516.2 509.6L517.5 513.4L518.8 517.5L520.1 521.4L521.4 525.4L522.7 529.8L524 533.2L525.3 535L526.6 536.4L527.9 538.2L529.2 540.3L530.5 542.1L531.8 543.6L533.1 545L534.4 546.5L535.7 547.1L537 546.1L538.3 545.2L539.6 544.7L540.9 543.6L542.2 542.5L543.5 541.7L544.8 540.5L546.1 538.5L547.4 536.7L548.7 535L550 533L551.3 530.4L552.6 527.4L553.9 524L555.2 521.5L556.5 519.5L557.8 517.7L559.1 517.4L560.4 518.5L561.7 519.9L563 521.9L564.3 524.8L565.6 528.1L566.9 531.9L568.2 535.4L569.5 538.5L570.8 542.6L572.1 546.7L573.4 549.3L574.7 551.8L576 555.8L577.3 559.1L578.6 562.1L579.9 565.9L581.2 569.5L582.5 573L583.8 576.1L585.1 578.6L586.4 580.9L587.7 582.6L589 584.4L590.3 585.9L591.6 587.6L592.9 589.1L594.2 589.1L595.5 588.8L596.8 589.1L598.1 589.3L599.4 589.6L600.7 589.9L602 590L603.3 589.8L604.6 589.7L605.9 590L607.2 589.9L608.5 589.2L609.8 588.7L611.1 588.7L612.4 588.6L613.7 587.7L615 586.3L616.3 585.1L617.6 584L618.9 583.6L620.2 583.8L621.5 584.1L622.8 583.9L624.1 583L625.4 582.6L626.7 582.9L628 583.1L629.3 583.1L630.6 583.2L631.9 583.1L633.2 583L634.5 582.5L635.8 581.9L637.1 581.6L638.4 581.1L639.7 581.3L641 581.7L642.3 581.2L643.6 580.9L644.9 582L646.2 582.9L647.5 583.3L648.8 583.6L650.1 584.1L651.4 584.7L652.7 586L654 587.6L655.3 588.8L656.6 590.2L657.9 592.6L659.2 595.1L660.5 596.4L661.8 596.8L663.1 597.8L664.4 598.9L665.7 598.9L667 598L668.3 596.7L669.6 594.3L670.9 591L672.2 588.2L672.2 649.3L670.9 649.5L669.6 650.6L668.3 651.8L667 652.2L665.7 651.5L664.4 650.7L663.1 651.2L661.8 652.6L660.5 652.3L659.2 650.1L657.9 648L656.6 645.7L655.3 643.7L654 642.5L652.7 640.6L651.4 638.2L650.1 635.1L648.8 632.2L647.5 630.4L646.2 628.8L644.9 627L643.6 625.3L642.3 623.9L641 622.8L639.7 622.2L638.4 622.1L637.1 622.3L635.8 622.9L634.5 622.9L633.2 622.2L631.9 622.3L630.6 623L629.3 623.4L628 623.1L626.7 622.5L625.4 622.4L624.1 622.3L622.8 623L621.5 624L620.2 624.4L618.9 624.4L617.6 624.4L616.3 625.1L615 626.3L613.7 627.2L612.4 627.7L611.1 627.3L609.8 626.9L608.5 626.9L607.2 627.4L605.9 628L604.6 628.3L603.3 628L602 627.4L600.7 627.8L599.4 628.6L598.1 628.8L596.8 628.8L595.5 629.6L594.2 630.4L592.9 631.1L591.6 632.3L590.3 633.3L589 634L587.7 634.3L586.4 633.9L585.1 633.2L583.8 632.3L582.5 630.9L581.2 629.4L579.9 627.6L578.6 624.3L577.3 620.1L576 615.9L574.7 611.1L573.4 607.1L572.1 604.4L570.8 601.6L569.5 598.3L568.2 595.6L566.9 594.1L565.6 593.1L564.3 592.7L563 593.1L561.7 593.1L560.4 592.9L559.1 592.9L557.8 593.3L556.5 594.8L555.2 596.4L553.9 597.3L552.6 598.9L551.3 601.4L550 603.9L548.7 605.7L547.4 606.8L546.1 607.9L544.8 609.1L543.5 609.8L542.2 609.8L540.9 610.3L539.6 611.5L538.3 613.1L537 614.9L535.7 615.6L534.4 616.2L533.1 617.2L531.8 617.2L530.5 615.6L529.2 612.7L527.9 610L526.6 608.5L525.3 606.7L524 603.9L522.7 601.2L521.4 599L520.1 597.2L518.8 595L517.5 592.6L516.2 590.8L514.9 589.6L513.6 588.7L512.3 587.4L511 586.4L509.7 586.1L508.4 585.9L507.1 585.5L505.8 585L504.5 584.5L503.2 584.5L501.9 585L500.6 585.1L499.3 585.1L498 584.9L496.7 584.9L495.4 585.7L494.1 586.7L492.8 588L491.5 591.5L490.2 596L488.9 599.5L487.6 603.6L486.3 607.8L485 610.5L483.7 612L482.4 612.9L481.1 612.9L479.8 613.3L478.5 613.9L477.2 613.8L475.9 613.7L474.6 612.6L473.3 610.8L472 609.5L470.7 609L469.4 609.5L468.1 610.1L466.8 610.5L465.5 610.7L464.2 610.8L462.9 610.8L461.6 610.9L460.3 611.8L459 612.4L457.7 612.3L456.4 613L455.1 614.7L453.8 616.4L452.5 619L451.2 622.5L449.9 624.6L448.6 625.3L447.3 625.5L446 623.9L444.7 621.2L443.4 618.9L442.1 617L440.8 615.6L439.5 613.7Z" fill="#b00f2c" fill-opacity=".225"/>
</g>
<line x1="438.2" y1="596.4" x2="673.6" y2="596.4" stroke="#1a1a1a" stroke-width="1.5"/>
<line x1="496.8" y1="417" x2="496.8" y2="649.1" stroke="#0000ff" stroke-width="1.7" stroke-dasharray="4.6 2.8"/>
<line x1="523" y1="417" x2="523" y2="649.1" stroke="#c0566e" stroke-width="1.7" stroke-dasharray="4.6 2.8"/>
<line x1="555.8" y1="417" x2="555.8" y2="649.1" stroke="#555" stroke-width="2.2" stroke-dasharray="2.6 3.1"/>
<path d="M490.5 407.2h12.6L496.8 417Z" fill="#7878ff"/>
<circle cx="496.8" cy="409.8" r=".8" fill="#0000ff" fill-opacity=".7"/>
<path d="M516.7 407.2h12.6L523 417Z" fill="#cc7085"/>
<circle cx="523" cy="409.8" r=".8" fill="#a01030" fill-opacity=".7"/>
<g clip-path="url(#cd)">
<path d="M438.5 585.5C438.7 585.7 438.4 585.9 439.5 586.9C440.6 587.9 443.6 591.4 445.2 591.7C446.8 592 447.4 591.8 449 588.8C450.6 585.8 452.8 579.1 454.7 573.7C456.6 568.3 458.5 560.9 460.4 556.6C462.3 552.3 463.6 549.1 466.1 548C468.6 546.9 472.7 550.4 475.5 549.9C478.3 549.4 480.6 547.4 483.1 545.2C485.6 543 488.5 538.5 490.7 536.6C492.9 534.7 494.2 533.3 496.4 533.8C498.6 534.3 501.5 536 504 539.5C506.5 543 509.4 549.3 511.6 554.7C513.8 560.1 515.4 565.8 517.3 571.8C519.2 577.8 521.1 585 523 590.7C524.9 596.4 526.8 602.4 528.7 605.9C530.6 609.4 531.9 610.2 534.4 611.6C536.9 613 540.7 614.3 543.9 614.5C547.1 614.7 550.3 613.1 553.4 612.6C556.5 612.1 559.8 611.1 562.6 611.6C565.4 612.1 567.7 613.8 570.2 615.4C572.7 617 575.3 619.7 577.8 621.1C580.3 622.5 582.9 624 585.4 624C587.9 624 590.2 622.5 593 621.1C595.8 619.7 599.2 617.3 602.4 615.4C605.5 613.5 608.7 611.4 611.9 609.7C615.1 608 618.2 605.5 621.4 605C624.6 604.5 627.7 607.1 630.9 606.9C634.1 606.7 637.9 604.2 640.4 604C642.9 603.8 644.2 604.3 646.1 605.9C648 607.5 649.6 610.8 651.8 613.5C654 616.2 656.9 619.9 659.4 622C661.9 624.1 664.7 625.6 667 626.4C669.3 627.2 672 626.7 673 626.8" fill="none" stroke="#0000ff" stroke-width="3.8" stroke-linejoin="round"/>
<path d="M438.5 595C438.7 595.2 438.1 595.2 439.5 596.4C440.9 597.6 444.9 602.4 447.1 602.1C449.3 601.8 450.9 597.5 452.8 594.5C454.7 591.5 456.3 586.6 458.5 584.1C460.7 581.6 463.3 579.8 466.1 579.3C468.9 578.8 472.7 581.4 475.5 581.2C478.3 581.1 480.6 580.9 483.1 578.4C485.6 575.9 488.2 570.7 490.7 566.1C493.2 561.5 495.8 554.4 498.3 550.9C500.8 547.4 503.7 546.2 505.9 545.2C508.1 544.2 509.7 544.1 511.6 545.2C513.5 546.3 515.4 548.6 517.3 551.8C519.2 555 521.1 560.2 523 564.2C524.9 568.2 526.7 572.8 528.7 575.6C530.8 578.4 533.1 580.6 535.3 580.9C537.5 581.2 539.6 579.5 542 577.4C544.4 575.2 547.4 571.1 549.6 568C551.8 564.9 553 560.7 555 558.5C557 556.3 559.7 554.7 561.6 554.7C563.5 554.7 564.6 555.6 566.4 558.5C568.1 561.4 570.2 566.4 572.1 571.8C574 577.2 575.9 585.3 577.8 590.7C579.7 596.1 581.3 600.8 583.5 604C585.7 607.2 588.3 609 591.1 609.7C593.9 610.4 597.4 608.4 600.5 608.2C603.6 608.1 606.8 609.3 610 608.8C613.2 608.3 616.3 606 619.5 605C622.7 604 625.8 603 629 602.5C632.2 602 636 601.6 638.5 601.7C641 601.8 642.3 601.8 644.2 603C646.1 604.2 648 606.4 649.9 608.8C651.8 611.2 653.4 614.8 655.6 617.3C657.8 619.8 661 623.2 663.2 624C665.4 624.8 667.3 622.8 668.9 622C670.5 621.2 672.3 619.7 673 619.2" fill="none" stroke="#a6142f" stroke-width="3.8" stroke-linejoin="round"/>
</g>
<line x1="438.2" y1="414.2" x2="438.2" y2="651.3" stroke="#000" stroke-width="3.2"/>
<line x1="436.6" y1="650.3" x2="675" y2="650.3" stroke="#111" stroke-width="2.8"/>
<line x1="438.2" y1="451.6" x2="442.2" y2="451.6" stroke="#000" stroke-width="2.6"/>
<text x="431" y="459" font-size="16.5" text-anchor="end">0.04</text>
<line x1="438.2" y1="524.5" x2="442.2" y2="524.5" stroke="#000" stroke-width="2.6"/>
<text x="431" y="531.9" font-size="16.5" text-anchor="end">0.02</text>
<line x1="438.2" y1="596.4" x2="442.2" y2="596.4" stroke="#000" stroke-width="2.6"/>
<text x="431" y="603.8" font-size="16.5" text-anchor="end">0</text>
<text x="436.5" y="669.5" font-size="16.5" text-anchor="middle">0</text>
<line x1="496.8" y1="650.1" x2="496.8" y2="646.1" stroke="#111" stroke-width="2.6"/>
<text x="494.2" y="669.5" font-size="16.5" text-anchor="middle">45</text>
<line x1="555.6" y1="650.1" x2="555.6" y2="646.1" stroke="#111" stroke-width="2.6"/>
<text x="552.2" y="669.5" font-size="16.5" text-anchor="middle">90</text>
<line x1="614.6" y1="650.1" x2="614.6" y2="646.1" stroke="#111" stroke-width="2.6"/>
<text x="610.3" y="669.5" font-size="16.5" text-anchor="middle">135</text>
<line x1="673.4" y1="650.1" x2="673.4" y2="646.1" stroke="#111" stroke-width="2.6"/>
<text x="669.9" y="669.5" font-size="16.5" text-anchor="middle">180</text>
<text x="390.6" y="532.2" font-size="16.5" text-anchor="middle" textLength="70.5" transform="rotate(-90 390.6 532.2)">APrE/trial</text>
<line x1="496.8" y1="645.5" x2="496.8" y2="649.3" stroke="#0000ff" stroke-width="2.2"/>
<line x1="523" y1="645.5" x2="523" y2="649.3" stroke="#c0566e" stroke-width="2.2"/>
<clipPath id="cf"><rect x="439.6" y="750.4" width="235" height="233.8"/></clipPath>
<g clip-path="url(#cf)">
<path d="M439.5 928.5L440.8 925.5L442.1 922.6L443.4 917.5L444.7 910.8L446 904.6L447.3 898.2L448.6 889.7L449.9 880.8L451.2 873.3L452.5 867.5L453.8 862.8L455.1 859.1L456.4 856L457.7 853.1L459 850.9L460.3 849.2L461.6 847.4L462.9 845.4L464.2 843.8L465.5 841.8L466.8 839.6L468.1 837.1L469.4 835.6L470.7 834.5L472 832.1L473.3 829.4L474.6 826.7L475.9 824L477.2 820.8L478.5 816.5L479.8 810.8L481.1 805.9L482.4 803.3L483.7 801.1L485 798.5L486.3 796.6L487.6 795.6L488.9 794.8L490.2 793.5L491.5 792.8L492.8 793.5L494.1 794.6L495.4 796.1L496.7 798.7L498 801.5L499.3 804.9L500.6 808.5L501.9 812.7L503.2 817.5L504.5 821.9L505.8 826.6L507.1 832.2L508.4 837.7L509.7 842.5L511 847.6L512.3 853.5L513.6 858.9L514.9 862.3L516.2 864.3L517.5 867L518.8 871.8L520.1 879.2L521.4 888.4L522.7 896.9L524 903.7L525.3 910.5L526.6 917.6L527.9 924L529.2 928.7L530.5 931.9L531.8 934.3L533.1 936.3L534.4 937.5L535.7 938.5L537 940.2L538.3 940.7L539.6 940.1L540.9 940.1L542.2 940L543.5 939.6L544.8 939.3L546.1 938.7L547.4 938.8L548.7 938.4L550 937.1L551.3 936.8L552.6 937.1L553.9 936.7L555.2 936.3L556.5 936.7L557.8 937.6L559.1 938.6L560.4 939.1L561.7 939.5L563 940.4L564.3 941.2L565.6 941.7L566.9 941.8L568.2 941.9L569.5 942.3L570.8 942.3L572.1 942.2L573.4 942.2L574.7 941.4L576 939.9L577.3 938.2L578.6 937.2L579.9 936.6L581.2 935.6L582.5 933.8L583.8 932L585.1 930.6L586.4 929.6L587.7 928L589 926.1L590.3 925.4L591.6 924.6L592.9 923.5L594.2 923.5L595.5 923.3L596.8 922.3L598.1 921.6L599.4 921.3L600.7 919.9L602 918.5L603.3 917.8L604.6 916.6L605.9 915.6L607.2 914.2L608.5 912.8L609.8 912.5L611.1 911.9L612.4 911.4L613.7 911.2L615 910.8L616.3 911.2L617.6 911.9L618.9 912.4L620.2 912.8L621.5 913.1L622.8 913.9L624.1 915.6L625.4 918.5L626.7 921.2L628 922.1L629.3 922.9L630.6 924.8L631.9 926.9L633.2 928.3L634.5 929.6L635.8 931.6L637.1 933.4L638.4 934.3L639.7 934.6L641 935.8L642.3 937.3L643.6 938.1L644.9 939.4L646.2 940.5L647.5 941.1L648.8 941.8L650.1 942.3L651.4 942.6L652.7 942.6L654 943.5L655.3 944.5L656.6 944.3L657.9 943.5L659.2 942.9L660.5 942.2L661.8 941.9L663.1 941.6L664.4 940.8L665.7 939L667 937.4L668.3 937L669.6 936.9L670.9 935.8L672.2 932.7L673.5 929.1L673.5 977.7L672.2 978.5L670.9 978.7L669.6 978.7L668.3 979L667 979.8L665.7 980.9L664.4 981.3L663.1 981.2L661.8 980.9L660.5 980.7L659.2 980.6L657.9 980.8L656.6 980.8L655.3 980.4L654 980.9L652.7 981.3L651.4 980.6L650.1 979.9L648.8 979.1L647.5 978.6L646.2 978.4L644.9 977.4L643.6 975.9L642.3 975.1L641 974.2L639.7 973.3L638.4 972.9L637.1 972.2L635.8 970.9L634.5 969.5L633.2 968.4L631.9 967.6L630.6 966.8L629.3 965.7L628 964.3L626.7 963.2L625.4 961.9L624.1 960.5L622.8 959.9L621.5 959.7L620.2 959.2L618.9 957.9L617.6 956.4L616.3 956L615 956L613.7 955.9L612.4 956.1L611.1 956.8L609.8 957.6L608.5 958.8L607.2 960.1L605.9 960.6L604.6 961.6L603.3 963.2L602 964.3L600.7 965.3L599.4 966.2L598.1 967.2L596.8 967.9L595.5 967.9L594.2 967.7L592.9 967.9L591.6 968.1L590.3 967.8L589 967.8L587.7 969.3L586.4 970.4L585.1 970.4L583.8 970.6L582.5 971.7L581.2 973L579.9 973.8L578.6 974.1L577.3 974.5L576 975.4L574.7 976.3L573.4 976.7L572.1 976.5L570.8 976L569.5 975.4L568.2 974.9L566.9 974.9L565.6 974.5L564.3 972.7L563 971.4L561.7 971.2L560.4 970.8L559.1 969.9L557.8 968.7L556.5 967.9L555.2 967.1L553.9 966.5L552.6 966.8L551.3 967.3L550 967.4L548.7 967.3L547.4 966.8L546.1 967.3L544.8 969L543.5 969.9L542.2 970.3L540.9 971.2L539.6 971.8L538.3 971.8L537 971.6L535.7 971.6L534.4 970.8L533.1 969L531.8 967.3L530.5 965L529.2 962L527.9 958.2L526.6 954L525.3 950.6L524 947.9L522.7 944.7L521.4 941L520.1 936.9L518.8 933.5L517.5 931L516.2 928.8L514.9 926.9L513.6 925.4L512.3 924.5L511 923.8L509.7 922.5L508.4 921.2L507.1 921.1L505.8 921.2L504.5 921L503.2 920.7L501.9 920.4L500.6 920.1L499.3 920.3L498 920.3L496.7 920.1L495.4 920.2L494.1 920.9L492.8 922.4L491.5 924.2L490.2 926.1L488.9 927.8L487.6 928.9L486.3 930L485 932.4L483.7 935.4L482.4 937.7L481.1 939.9L479.8 943L478.5 945.7L477.2 947.6L475.9 949.2L474.6 950.1L473.3 950.5L472 950.8L470.7 951.3L469.4 951.3L468.1 949.7L466.8 948.1L465.5 946.2L464.2 944.1L462.9 943L461.6 942.2L460.3 941.6L459 942.4L457.7 943.4L456.4 944.3L455.1 945.6L453.8 946.6L452.5 948.4L451.2 950.4L449.9 951.3L448.6 951.6L447.3 951.8L446 950.6L444.7 948.2L443.4 946.1L442.1 944.4L440.8 942.8L439.5 941.7Z" fill="#0000ff" fill-opacity=".225"/>
<path d="M439.5 929.4L440.8 927.6L442.1 925L443.4 921L444.7 916.4L446 911.6L447.3 907L448.6 902.8L449.9 899.2L451.2 895.9L452.5 892.4L453.8 888.6L455.1 885.8L456.4 884L457.7 882.8L459 881.9L460.3 881.1L461.6 880.6L462.9 880.5L464.2 881L465.5 881.8L466.8 881.8L468.1 881.3L469.4 880.7L470.7 879.8L472 879.4L473.3 879L474.6 878.2L475.9 877.1L477.2 875.1L478.5 872.7L479.8 870.9L481.1 869.7L482.4 868.6L483.7 866.2L485 862.4L486.3 858.1L487.6 854L488.9 850.5L490.2 847.4L491.5 844.9L492.8 842.5L494.1 840L495.4 837.7L496.7 835.6L498 834.7L499.3 834.5L500.6 833.2L501.9 832.8L503.2 834L504.5 834.9L505.8 835.2L507.1 836.3L508.4 838.9L509.7 841.9L511 844.7L512.3 847L513.6 848.5L514.9 849.1L516.2 849.9L517.5 852.8L518.8 857.8L520.1 863.3L521.4 867.9L522.7 871.9L524 875.9L525.3 879L526.6 881.5L527.9 884.6L529.2 887.3L530.5 888.9L531.8 890.9L533.1 893.6L534.4 896.4L535.7 898.3L537 900.1L538.3 902.9L539.6 904.2L540.9 903.3L542.2 902.7L543.5 903.2L544.8 903.7L546.1 903.9L547.4 903.6L548.7 903.1L550 903L551.3 904.4L552.6 905.7L553.9 906.6L555.2 908.3L556.5 910.4L557.8 912.2L559.1 914.3L560.4 916.5L561.7 918.5L563 920.8L564.3 922.5L565.6 923.9L566.9 925.3L568.2 926.7L569.5 927.9L570.8 928.6L572.1 928.5L573.4 928.2L574.7 928.2L576 927.5L577.3 926.3L578.6 925.4L579.9 925L581.2 925L582.5 924.9L583.8 925.2L585.1 925.6L586.4 924.9L587.7 924.3L589 924.3L590.3 924.1L591.6 924.2L592.9 924.8L594.2 924.2L595.5 922.7L596.8 922.4L598.1 922L599.4 921.3L600.7 920.7L602 919.7L603.3 918.8L604.6 917.5L605.9 916.6L607.2 916L608.5 915.1L609.8 914.3L611.1 913.6L612.4 913.6L613.7 914.2L615 914.1L616.3 913.5L617.6 914.2L618.9 915.5L620.2 915.4L621.5 915.7L622.8 916.8L624.1 917.7L625.4 919.2L626.7 921.4L628 923L629.3 924.5L630.6 926.1L631.9 927.3L633.2 928.5L634.5 930L635.8 931.6L637.1 933.3L638.4 934.4L639.7 935.3L641 936.4L642.3 937.4L643.6 938.2L644.9 939.5L646.2 940.7L647.5 941.4L648.8 942.2L650.1 942.5L651.4 942L652.7 941.5L654 941.6L655.3 942.2L656.6 942.8L657.9 942.6L659.2 942L660.5 942.2L661.8 942.9L663.1 942.6L664.4 941.2L665.7 939.4L667 937.8L668.3 936.5L669.6 935.1L670.9 933.4L672.2 931.3L673.5 929.1L673.5 976.8L672.2 977.6L670.9 978.3L669.6 978.9L668.3 978.9L667 979.3L665.7 980.3L664.4 980.6L663.1 981.2L661.8 981.2L660.5 980.2L659.2 980.6L657.9 981.3L656.6 980.5L655.3 979.6L654 980.1L652.7 980.5L651.4 979.4L650.1 978.3L648.8 977.7L647.5 977.5L646.2 977.3L644.9 976.8L643.6 975.7L642.3 974.3L641 973.9L639.7 973.5L638.4 972.2L637.1 970.5L635.8 968.8L634.5 967.8L633.2 967L631.9 965.9L630.6 964.5L629.3 962.8L628 962L626.7 960.9L625.4 959.8L624.1 959.2L622.8 958L621.5 957.1L620.2 956.8L618.9 956.5L617.6 956.4L616.3 956.3L615 955.9L613.7 955.7L612.4 956L611.1 956.3L609.8 956.2L608.5 956.5L607.2 957.9L605.9 959.4L604.6 961L603.3 962.5L602 963.2L600.7 964.2L599.4 965.5L598.1 965.9L596.8 965.9L595.5 965.8L594.2 965.3L592.9 965.1L591.6 965L590.3 964.5L589 964.3L587.7 964.1L586.4 963.7L585.1 963.8L583.8 963.8L582.5 963.3L581.2 962.6L579.9 962.2L578.6 962.7L577.3 963.4L576 964L574.7 964.3L573.4 964.5L572.1 965.5L570.8 966L569.5 964.5L568.2 962.6L566.9 961.6L565.6 961.2L564.3 961L563 960L561.7 958L560.4 955.8L559.1 954.3L557.8 952.6L556.5 950.7L555.2 948.9L553.9 947.7L552.6 947.7L551.3 948.4L550 949.2L548.7 949.9L547.4 950.5L546.1 951.6L544.8 953L543.5 953.7L542.2 953.9L540.9 954.4L539.6 954.4L538.3 954.4L537 955.3L535.7 956.3L534.4 956.4L533.1 955.8L531.8 954.6L530.5 953.4L529.2 952.4L527.9 951.1L526.6 949L525.3 946L524 943.2L522.7 940.3L521.4 937L520.1 933.9L518.8 931.3L517.5 929.3L516.2 926.8L514.9 924.2L513.6 922.1L512.3 921.1L511 920.8L509.7 920.6L508.4 920.1L507.1 919.1L505.8 918.9L504.5 918.7L503.2 918L501.9 917.8L500.6 917.9L499.3 917.7L498 917.1L496.7 916.1L495.4 915.8L494.1 915.4L492.8 913.9L491.5 913.7L490.2 915.7L488.9 918.7L487.6 922.5L486.3 927.4L485 932.9L483.7 939.3L482.4 945.7L481.1 951.6L479.8 956.8L478.5 960L477.2 962.2L475.9 963.4L474.6 963.3L473.3 963.1L472 963.4L470.7 962.9L469.4 960.8L468.1 957.8L466.8 954.9L465.5 952.4L464.2 949.7L462.9 947.2L461.6 945L460.3 943.8L459 944.2L457.7 946L456.4 948.5L455.1 950.2L453.8 951.4L452.5 953.6L451.2 955.8L449.9 957.6L448.6 958.5L447.3 957.9L446 957L444.7 954.8L443.4 951.8L442.1 949.3L440.8 947.2L439.5 945Z" fill="#b00f2c" fill-opacity=".225"/>
</g>
<line x1="438.2" y1="932.6" x2="673.6" y2="932.6" stroke="#1a1a1a" stroke-width="1.5"/>
<line x1="497.8" y1="755" x2="497.8" y2="984.2" stroke="#0000ff" stroke-width="1.7" stroke-dasharray="4.6 2.8"/>
<line x1="517.3" y1="755" x2="517.3" y2="984.2" stroke="#c0566e" stroke-width="1.7" stroke-dasharray="4.6 2.8"/>
<line x1="556.6" y1="752" x2="556.6" y2="984.2" stroke="#444" stroke-width="1.3" stroke-dasharray="2.6 3.1"/>
<path d="M491.5 745.3h12.6L497.8 755.1Z" fill="#7878ff"/>
<circle cx="497.8" cy="747.9" r=".8" fill="#0000ff" fill-opacity=".7"/>
<path d="M511 745.3h12.6L517.3 755.1Z" fill="#cc7085"/>
<circle cx="517.3" cy="747.9" r=".8" fill="#a01030" fill-opacity=".7"/>
<g clip-path="url(#cf)">
<path d="M438.5 934.5C438.7 934.5 438.4 935.5 439.5 934.5C440.6 933.5 443.3 932.6 445.2 928.8C447.1 925 449 917.2 450.9 911.8C452.8 906.4 454.7 899.9 456.6 896.6C458.5 893.3 460.4 892.3 462.3 891.8C464.2 891.3 466.1 894 468 893.7C469.9 893.4 471.8 892.6 473.7 889.9C475.6 887.2 477.7 881.2 479.3 877.6C480.9 874 481.8 871.2 483.1 868C484.4 864.8 485.5 860.9 486.9 858.6C488.3 856.3 489.9 854.3 491.7 854.3C493.4 854.3 495.5 856 497.4 858.6C499.3 861.2 501.1 865.6 503.1 870C505.2 874.4 507.6 880.1 509.7 885.2C511.8 890.3 513.5 895 515.4 900.4C517.3 905.8 519.2 911.7 521.1 917.4C523 923.1 524.9 929.4 526.8 934.5C528.7 939.6 530.6 944.7 532.5 947.8C534.4 950.9 536 952.5 538.2 953.1C540.4 953.7 543.3 952.2 545.8 951.6C548.3 951 550.6 949.2 553.4 949.7C556.2 950.2 559.6 952.9 562.6 954.5C565.6 956.1 568.6 958.9 571.1 959.2C573.6 959.5 575.4 957.7 577.8 956.4C580.2 955.1 582.9 952.9 585.4 951.6C587.9 950.3 590.5 950.1 593 948.8C595.5 947.5 598 945.9 600.5 944C603 942.1 605.7 938.8 608.1 937.4C610.5 936 612.6 935.5 614.8 935.5C617 935.5 618.7 935.7 621.4 937.4C624.1 939.1 627.7 942.9 630.9 945.9C634.1 948.9 637.2 953 640.4 955.4C643.6 957.8 646.7 959.2 649.9 960.2C653.1 961.2 656.5 961.4 659.4 961.1C662.2 960.8 664.6 959.7 667 958.3C669.4 956.9 672.5 953.5 673.6 952.6" fill="none" stroke="#0000ff" stroke-width="3.8" stroke-linejoin="round"/>
<path d="M438.5 935.5C438.7 935.6 438.4 936.2 439.5 936.4C440.6 936.6 443.3 938.4 445.2 936.8C447.1 935.2 449 930.1 450.9 926.9C452.8 923.7 454.9 919.4 456.6 917.4C458.3 915.4 459.4 914.7 461.3 915C463.2 915.3 466.1 918.1 468 919.3C469.9 920.5 470.8 922.8 472.7 922.2C474.6 921.6 477.2 918.8 479.3 915.5C481.4 912.2 483.1 906.7 485 902.3C486.9 897.9 488.8 892.8 490.7 889C492.6 885.2 494.5 881.5 496.4 879.5C498.3 877.5 500.2 877 502.1 877C504 877 505.9 878 507.8 879.5C509.7 881 511.6 882.9 513.5 886.1C515.4 889.3 517.3 894.2 519.2 898.5C521.1 902.8 523 908 524.9 911.8C526.8 915.6 528.7 918.5 530.6 921.2C532.5 923.9 534.4 926.6 536.3 927.9C538.2 929.2 539.8 929.5 542 929.2C544.2 929 547.4 926.5 549.6 926.4C551.8 926.3 553.4 927 555.3 928.8C557.1 930.6 558.9 934.7 560.7 937.4C562.6 940.1 564.5 943.3 566.4 945C568.3 946.7 570.2 947.4 572.1 947.4C574 947.4 575.9 945.7 577.8 945C579.7 944.3 581.3 943.3 583.5 943.1C585.7 942.9 588.7 943.8 591.1 944C593.5 944.2 595.5 945.2 597.7 944.6C599.9 944 602.2 941.6 604.3 940.2C606.3 938.8 608.1 937.2 610 936.4C611.9 935.6 613.5 935.2 615.7 935.5C617.9 935.8 620.8 936.6 623.3 938.3C625.8 940 628 943 630.9 945.9C633.8 948.8 637.2 953.1 640.4 955.4C643.6 957.7 646.7 958.6 649.9 959.6C653.1 960.6 656.5 961.6 659.4 961.5C662.2 961.4 664.6 960.6 667 959.2C669.4 957.8 672.5 954 673.6 953" fill="none" stroke="#a6142f" stroke-width="3.8" stroke-linejoin="round"/>
</g>
<line x1="438.2" y1="750.4" x2="438.2" y2="986.4" stroke="#000" stroke-width="3.2"/>
<line x1="436.6" y1="985.4" x2="675" y2="985.4" stroke="#111" stroke-width="2.8"/>
<line x1="438.2" y1="787.4" x2="442.2" y2="787.4" stroke="#000" stroke-width="2.6"/>
<text x="431.4" y="794.8" font-size="16.5" text-anchor="end">0.04</text>
<line x1="438.2" y1="860.1" x2="442.2" y2="860.1" stroke="#000" stroke-width="2.6"/>
<text x="431.4" y="867.5" font-size="16.5" text-anchor="end">0.02</text>
<line x1="438.2" y1="932.6" x2="442.2" y2="932.6" stroke="#000" stroke-width="2.6"/>
<text x="431.4" y="940" font-size="16.5" text-anchor="end">0</text>
<text x="436.5" y="1006" font-size="16.5" text-anchor="middle">0</text>
<line x1="496.8" y1="985.2" x2="496.8" y2="981.2" stroke="#111" stroke-width="2.6"/>
<text x="494.2" y="1006" font-size="16.5" text-anchor="middle">45</text>
<line x1="555.6" y1="985.2" x2="555.6" y2="981.2" stroke="#111" stroke-width="2.6"/>
<text x="552.2" y="1006" font-size="16.5" text-anchor="middle">90</text>
<line x1="614.6" y1="985.2" x2="614.6" y2="981.2" stroke="#111" stroke-width="2.6"/>
<text x="610.3" y="1006" font-size="16.5" text-anchor="middle">135</text>
<line x1="673.4" y1="985.2" x2="673.4" y2="981.2" stroke="#111" stroke-width="2.6"/>
<text x="669.9" y="1006" font-size="16.5" text-anchor="middle">180</text>
<text x="392" y="869.8" font-size="16.5" text-anchor="middle" textLength="70.5" transform="rotate(-90 392 869.8)">APrE/trial</text>
<line x1="497.8" y1="980.6" x2="497.8" y2="984.4" stroke="#0000ff" stroke-width="2.2"/>
<line x1="517.3" y1="980.6" x2="517.3" y2="984.4" stroke="#c0566e" stroke-width="2.2"/>
<text x="475.8" y="57" font-size="16.5" textLength="157.2">Activity profile 0-2 s</text>
<text x="479.7" y="84.7" font-size="13.8" textLength="94.5">presented ori.</text>
<rect x="597.1" y="91.3" width="19.2" height="10.1" fill="#c4c4fb"/>
<line x1="597.1" y1="96.4" x2="616.3" y2="96.4" stroke="#0000ff" stroke-width="3.8"/>
<rect x="597.1" y="111.2" width="19.2" height="10.1" fill="#efc8cd"/>
<line x1="597.1" y1="116.4" x2="616.3" y2="116.4" stroke="#a6142f" stroke-width="3.8"/>
<text x="622.4" y="100.8" font-size="16" style="fill:#0000ff;stroke:#0000ff" textLength="21.8">Go</text>
<text x="621.8" y="121.1" font-size="16" style="fill:#a6142f;stroke:#a6142f" textLength="43">NoGo</text>
<text x="115.7" y="1031.7" font-size="16.5" textLength="175.6">Time relative to stim. (s)</text>
<text x="474.3" y="1031.7" font-size="16.5" textLength="173.4">Preferred orientation (°)</text>
<linearGradient id="cbg"><stop offset="0" stop-color="#3e26a8"/><stop offset="0.0625" stop-color="#4536d5"/><stop offset="0.125" stop-color="#484cef"/><stop offset="0.1875" stop-color="#4562fc"/><stop offset="0.25" stop-color="#347afd"/><stop offset="0.3125" stop-color="#2c90f0"/><stop offset="0.375" stop-color="#21a3e3"/><stop offset="0.4375" stop-color="#0cb3d3"/><stop offset="0.5" stop-color="#12beb9"/><stop offset="0.5625" stop-color="#34c79c"/><stop offset="0.625" stop-color="#5ccc76"/><stop offset="0.6875" stop-color="#94ca4a"/><stop offset="0.75" stop-color="#c8c129"/><stop offset="0.8125" stop-color="#f1ba37"/><stop offset="0.875" stop-color="#feca33"/><stop offset="0.9375" stop-color="#f5e327"/><stop offset="1" stop-color="#f9fb15"/></linearGradient>
<rect x="305.8" y="1037.2" width="126" height="6.8" fill="url(#cbg)" stroke="#333" stroke-width="1.2"/>
<line x1="330.7" y1="1043.5" x2="330.7" y2="1042" stroke="#333" stroke-width="1"/>
<line x1="381.5" y1="1043.5" x2="381.5" y2="1042" stroke="#333" stroke-width="1"/>
<line x1="406.9" y1="1043.5" x2="406.9" y2="1042" stroke="#333" stroke-width="1"/>
<text x="359.7" y="1034.3" font-size="16" textLength="75">APrE/Trial</text>
<text x="304.2" y="1056.7" font-size="13.6" text-anchor="middle" textLength="29">-0.01</text>
<text x="332" y="1056.7" font-size="13.6" text-anchor="middle">0</text>
<text x="380.5" y="1056.7" font-size="13.6" text-anchor="middle" textLength="25.2">0.02</text>
<text x="429.2" y="1056.7" font-size="13.6" text-anchor="middle" textLength="25.7">0.04</text>
<line x1="56.1" y1="1126.7" x2="56.1" y2="1299" stroke="#111" stroke-width="3"/>
<line x1="56.1" y1="1297.5" x2="63.4" y2="1297.5" stroke="#111" stroke-width="3"/>
<text x="52.7" y="1302.1" font-size="16.5" text-anchor="end">0</text>
<line x1="56.1" y1="1255.2" x2="63.4" y2="1255.2" stroke="#111" stroke-width="3"/>
<text x="52.7" y="1259.8" font-size="16.5" text-anchor="end">45</text>
<line x1="56.1" y1="1212.8" x2="63.4" y2="1212.8" stroke="#111" stroke-width="3"/>
<text x="52.7" y="1217.4" font-size="16.5" text-anchor="end">90</text>
<line x1="56.1" y1="1170.5" x2="63.4" y2="1170.5" stroke="#111" stroke-width="3"/>
<text x="52.7" y="1175.1" font-size="16.5" text-anchor="end">135</text>
<line x1="56.1" y1="1128.2" x2="63.4" y2="1128.2" stroke="#111" stroke-width="3"/>
<text x="52.7" y="1132.8" font-size="16.5" text-anchor="end">180</text>
<text x="18.4" y="1216.9" font-size="16.5" text-anchor="middle" textLength="103.2" transform="rotate(-90 18.4 1216.9)">Orientation (°)</text>
<text x="239" y="1107.3" font-size="16.5" textLength="199">Pseudo-trials peak location</text>
<line x1="65" y1="1212.8" x2="650" y2="1212.8" stroke="#808080" stroke-width="3" stroke-dasharray="11.7 7.3"/>
<line x1="97" y1="1255.2" x2="580" y2="1255.2" stroke="#1eb4e6" stroke-width="3" stroke-dasharray="11.7 7.3"/>
<path d="M78.9 1126.4C78.9 1134.2 78.7 1162.7 78.7 1178.4C78.6 1194.1 78.5 1222.2 78.4 1230.9C78.2 1239.7 77.9 1235.3 77.5 1236.8C77.1 1238.3 76.5 1239.9 75.7 1241.2C75 1242.5 73.6 1244.2 72.5 1245.5C71.4 1246.9 69.5 1248.7 68.4 1249.9C67.4 1251.2 66.1 1252.6 65.5 1253.7C64.9 1254.8 64.7 1256 64.6 1257.2C64.6 1258.4 64.8 1260.3 65.2 1261.6C65.7 1262.9 66.8 1264.7 67.6 1266C68.3 1267.3 69.4 1269.1 70.2 1270.4C70.9 1271.7 71.8 1273.2 72.5 1274.7C73.2 1276.3 74.2 1278.6 74.9 1280.6C75.5 1282.6 76.4 1285.7 76.9 1287.9C77.4 1290.1 78 1293.6 78.4 1295.2C78.7 1296.8 79.1 1298.2 79.2 1298.7L82.2 1298.7C82.3 1298.2 82.7 1296.8 83 1295.2C83.4 1293.6 84 1290.1 84.5 1287.9C85 1285.7 85.9 1282.6 86.5 1280.6C87.2 1278.6 88.2 1276.3 88.9 1274.7C89.6 1273.2 90.5 1271.7 91.2 1270.4C92 1269.1 93.1 1267.3 93.8 1266C94.6 1264.7 95.7 1262.9 96.2 1261.6C96.6 1260.3 96.8 1258.4 96.8 1257.2C96.7 1256 96.5 1254.8 95.9 1253.7C95.3 1252.6 94 1251.2 93 1249.9C91.9 1248.7 90 1246.9 88.9 1245.5C87.8 1244.2 86.4 1242.5 85.7 1241.2C84.9 1239.9 84.3 1238.3 83.9 1236.8C83.5 1235.3 83.2 1239.7 83 1230.9C82.9 1222.2 82.8 1194.1 82.7 1178.4C82.7 1162.7 82.5 1134.2 82.5 1126.4Z" fill="#0000ff"/>
<path d="M128.6 1126.4C128.4 1127.4 128 1131.5 127.7 1133.1C127.4 1134.8 127 1136.2 126.5 1137.5C126 1138.8 125.2 1140.6 124.5 1141.9C123.7 1143.2 122.5 1145.1 121.6 1146.3C120.6 1147.5 119.2 1149 118.3 1150.1C117.5 1151.2 116.3 1152.4 115.7 1153.6C115.1 1154.8 114.5 1156.6 114.5 1158C114.6 1159.3 115.7 1161 116.3 1162.3C116.9 1163.6 118.2 1165.4 118.6 1166.7C119.1 1168 119 1169.6 119.2 1171.1C119.4 1172.6 119.3 1175.2 119.8 1176.9C120.3 1178.7 121.7 1181 122.7 1182.8C123.8 1184.5 125.9 1186.9 126.8 1188.6C127.7 1190.4 128.5 1191.6 128.9 1194.5C129.3 1197.3 129.4 1201.2 129.4 1207.6C129.5 1213.9 129.4 1223.1 129.4 1236.8C129.4 1250.5 129.4 1289.4 129.4 1298.7L132.4 1298.7C132.4 1289.4 132.4 1250.5 132.4 1236.8C132.4 1223.1 132.3 1213.9 132.4 1207.6C132.4 1201.2 132.5 1197.3 132.9 1194.5C133.3 1191.6 134.1 1190.4 135 1188.6C135.9 1186.9 138 1184.5 139.1 1182.8C140.1 1181 141.5 1178.7 142 1176.9C142.5 1175.2 142.4 1172.6 142.6 1171.1C142.8 1169.6 142.7 1168 143.2 1166.7C143.6 1165.4 144.9 1163.6 145.5 1162.3C146.1 1161 147.2 1159.3 147.3 1158C147.3 1156.6 146.7 1154.8 146.1 1153.6C145.5 1152.4 144.3 1151.2 143.5 1150.1C142.6 1149 141.2 1147.5 140.2 1146.3C139.3 1145.1 138.1 1143.2 137.3 1141.9C136.6 1140.6 135.8 1138.8 135.3 1137.5C134.8 1136.2 134.4 1134.8 134.1 1133.1C133.8 1131.5 133.4 1127.4 133.2 1126.4Z" fill="#9e1530"/>
<path d="M178.7 1126.4C178.7 1134.2 178.2 1166.2 178.2 1178.4C178.1 1190.6 178.5 1199.7 178.5 1207.6C178.5 1215.5 178.3 1226.6 178.2 1230.9C178 1235.3 177.7 1235.3 177.3 1236.8C176.9 1238.3 176.3 1239.9 175.5 1241.2C174.8 1242.5 173.4 1244.2 172.3 1245.5C171.2 1246.9 169.3 1248.7 168.2 1249.9C167.2 1251.2 165.9 1252.6 165.3 1253.7C164.7 1254.8 164.5 1256 164.4 1257.2C164.4 1258.4 164.6 1260.3 165 1261.6C165.5 1262.9 166.6 1264.7 167.4 1266C168.1 1267.3 169.2 1269.1 170 1270.4C170.7 1271.7 171.6 1273.2 172.3 1274.7C173 1276.3 174 1278.6 174.7 1280.6C175.3 1282.6 176.2 1285.7 176.7 1287.9C177.2 1290.1 177.8 1293.6 178.2 1295.2C178.5 1296.8 178.9 1298.2 179 1298.7L182 1298.7C182.1 1298.2 182.5 1296.8 182.8 1295.2C183.2 1293.6 183.8 1290.1 184.3 1287.9C184.8 1285.7 185.7 1282.6 186.3 1280.6C187 1278.6 188 1276.3 188.7 1274.7C189.4 1273.2 190.3 1271.7 191 1270.4C191.8 1269.1 192.9 1267.3 193.6 1266C194.4 1264.7 195.5 1262.9 196 1261.6C196.4 1260.3 196.6 1258.4 196.6 1257.2C196.5 1256 196.3 1254.8 195.7 1253.7C195.1 1252.6 193.8 1251.2 192.8 1249.9C191.7 1248.7 189.8 1246.9 188.7 1245.5C187.6 1244.2 186.2 1242.5 185.5 1241.2C184.7 1239.9 184.1 1238.3 183.7 1236.8C183.3 1235.3 183 1235.3 182.8 1230.9C182.7 1226.6 182.5 1215.5 182.5 1207.6C182.5 1199.7 182.9 1190.6 182.8 1178.4C182.8 1166.2 182.3 1134.2 182.3 1126.4Z" fill="#0000ff"/>
<path d="M228.7 1126.4C228.7 1132 228.5 1153.8 228.4 1163.8C228.4 1173.8 228.8 1187.8 228.4 1193C228.1 1198.2 227.2 1196.9 226.4 1198.2C225.6 1199.6 224.2 1200.7 223.2 1201.8C222.1 1202.8 220.4 1204.2 219.4 1205.3C218.3 1206.4 217 1207.8 216.2 1209.1C215.4 1210.3 214.2 1212.1 214.1 1213.4C214.1 1214.7 214.9 1216.5 215.6 1217.8C216.3 1219.1 217.6 1220.9 218.5 1222.2C219.4 1223.5 220.8 1225.3 221.7 1226.6C222.7 1227.9 223.8 1229.4 224.7 1230.9C225.5 1232.5 226.7 1234.6 227.3 1236.8C227.8 1239 228.2 1236.3 228.4 1245.5C228.7 1254.8 228.7 1290.7 228.7 1298.7L231.7 1298.7C231.7 1290.7 231.7 1254.8 232 1245.5C232.2 1236.3 232.6 1239 233.1 1236.8C233.7 1234.6 234.9 1232.5 235.7 1230.9C236.6 1229.4 237.7 1227.9 238.7 1226.6C239.6 1225.3 241 1223.5 241.9 1222.2C242.8 1220.9 244.1 1219.1 244.8 1217.8C245.5 1216.5 246.3 1214.7 246.3 1213.4C246.2 1212.1 245 1210.3 244.2 1209.1C243.4 1207.8 242.1 1206.4 241 1205.3C240 1204.2 238.3 1202.8 237.2 1201.8C236.2 1200.7 234.8 1199.6 234 1198.2C233.2 1196.9 232.3 1198.2 232 1193C231.6 1187.8 232 1173.8 232 1163.8C231.9 1153.8 231.7 1132 231.7 1126.4Z" fill="#9e1530"/>
<path d="M278.3 1126.4C278.3 1129.8 277.8 1139.2 277.8 1149.2C277.8 1159.2 278.3 1180.5 278.3 1193C278.3 1205.5 278 1225.8 277.8 1232.4C277.5 1239 277.3 1235.5 276.9 1236.8C276.5 1238.1 275.7 1239.9 274.8 1241.2C274 1242.5 272.5 1244.2 271.3 1245.5C270.2 1246.9 268.2 1248.7 267.3 1249.9C266.3 1251.2 265.4 1252.5 264.9 1253.7C264.4 1254.9 264 1256.5 264 1257.8C264 1259.1 264.4 1261 264.9 1262.2C265.4 1263.4 266.6 1264.8 267.3 1266C268 1267.2 269 1269.1 269.6 1270.4C270.2 1271.7 270.8 1273.2 271.3 1274.7C271.9 1276.3 272.7 1278.6 273.4 1280.6C274.1 1282.6 275.4 1285.7 276 1287.9C276.7 1290.1 277.4 1293.6 277.8 1295.2C278.2 1296.8 278.5 1298.2 278.6 1298.7L281.6 1298.7C281.7 1298.2 282 1296.8 282.4 1295.2C282.8 1293.6 283.5 1290.1 284.2 1287.9C284.8 1285.7 286.1 1282.6 286.8 1280.6C287.5 1278.6 288.3 1276.3 288.9 1274.7C289.4 1273.2 290 1271.7 290.6 1270.4C291.2 1269.1 292.2 1267.2 292.9 1266C293.6 1264.8 294.8 1263.4 295.3 1262.2C295.8 1261 296.2 1259.1 296.2 1257.8C296.2 1256.5 295.8 1254.9 295.3 1253.7C294.8 1252.5 293.9 1251.2 292.9 1249.9C292 1248.7 290 1246.9 288.9 1245.5C287.7 1244.2 286.2 1242.5 285.4 1241.2C284.5 1239.9 283.7 1238.1 283.3 1236.8C282.9 1235.5 282.7 1239 282.4 1232.4C282.2 1225.8 281.9 1205.5 281.9 1193C281.9 1180.5 282.4 1159.2 282.4 1149.2C282.4 1139.2 281.9 1129.8 281.9 1126.4Z" fill="#0000ff"/>
<path d="M327.1 1126.4C327.1 1129.8 327 1143.6 327.1 1149.2C327.2 1154.8 327.7 1159.4 327.7 1163.8C327.7 1168.2 327.4 1175.3 327.1 1178.4C326.7 1181.5 325.9 1182.7 325.3 1184.2C324.8 1185.8 324 1186.9 323.6 1188.6C323.2 1190.4 323.2 1194.2 322.7 1195.9C322.2 1197.7 321 1199 320.1 1200.3C319.2 1201.6 317.4 1203.4 316.6 1204.7C315.7 1206 314.6 1208 314.2 1209.1C313.8 1210.1 313.8 1210.9 313.9 1212C314.1 1213.1 314.7 1215 315.4 1216.4C316.1 1217.7 317.5 1219.4 318.3 1220.7C319.2 1222 320.4 1223.8 320.9 1225.1C321.5 1226.4 321.8 1227.7 321.8 1229.5C321.9 1231.2 321.2 1234.4 321.2 1236.8C321.2 1239.2 321.6 1242.9 321.8 1245.5C322.1 1248.2 322.6 1251.2 323 1254.3C323.4 1257.4 324.2 1262.5 324.7 1266C325.3 1269.5 326.3 1274.6 326.8 1277.7C327.3 1280.7 327.7 1283.3 328 1286.4C328.2 1289.6 328.5 1296.8 328.5 1298.7L331.5 1298.7C331.5 1296.8 331.8 1289.6 332 1286.4C332.3 1283.3 332.7 1280.7 333.2 1277.7C333.7 1274.6 334.7 1269.5 335.3 1266C335.8 1262.5 336.6 1257.4 337 1254.3C337.4 1251.2 337.9 1248.2 338.2 1245.5C338.4 1242.9 338.8 1239.2 338.8 1236.8C338.8 1234.4 338.1 1231.2 338.2 1229.5C338.2 1227.7 338.5 1226.4 339.1 1225.1C339.6 1223.8 340.8 1222 341.7 1220.7C342.5 1219.4 343.9 1217.7 344.6 1216.4C345.3 1215 345.9 1213.1 346.1 1212C346.2 1210.9 346.2 1210.1 345.8 1209.1C345.4 1208 344.3 1206 343.4 1204.7C342.6 1203.4 340.8 1201.6 339.9 1200.3C339 1199 337.8 1197.7 337.3 1195.9C336.8 1194.2 336.8 1190.4 336.4 1188.6C336 1186.9 335.2 1185.8 334.7 1184.2C334.1 1182.7 333.3 1181.5 332.9 1178.4C332.6 1175.3 332.3 1168.2 332.3 1163.8C332.3 1159.4 332.8 1154.8 332.9 1149.2C333 1143.6 332.9 1129.8 332.9 1126.4Z" fill="#9e1530"/>
<path d="M376.8 1126.4C376.9 1129.8 377.4 1141.4 377.4 1149.2C377.4 1157 376.7 1171.8 376.8 1178.4C376.8 1185 377.6 1185.1 377.7 1193C377.7 1200.9 377.6 1224.5 377.4 1230.9C377.1 1237.4 376.7 1234.8 376.2 1236.2C375.7 1237.6 374.7 1239.1 373.9 1240.3C373 1241.5 371.5 1242.9 370.4 1244.1C369.3 1245.2 367.4 1246.8 366.6 1247.9C365.7 1249 365 1250.2 364.5 1251.4C364.1 1252.6 363.6 1254.5 363.6 1255.8C363.6 1257.1 364 1258.8 364.5 1260.1C365 1261.5 366.4 1263.2 367.1 1264.5C367.9 1265.8 368.8 1267.4 369.5 1268.9C370.1 1270.4 371 1272.6 371.5 1274.7C372.1 1276.9 372.7 1281.1 373.3 1283.5C373.9 1285.9 375 1289.1 375.6 1290.8C376.2 1292.6 376.7 1294 377.1 1295.2C377.4 1296.4 377.8 1298.2 377.9 1298.7L381.5 1298.7C381.6 1298.2 382 1296.4 382.3 1295.2C382.7 1294 383.2 1292.6 383.8 1290.8C384.4 1289.1 385.5 1285.9 386.1 1283.5C386.7 1281.1 387.3 1276.9 387.9 1274.7C388.4 1272.6 389.3 1270.4 389.9 1268.9C390.6 1267.4 391.5 1265.8 392.3 1264.5C393 1263.2 394.4 1261.5 394.9 1260.1C395.4 1258.8 395.8 1257.1 395.8 1255.8C395.8 1254.5 395.3 1252.6 394.9 1251.4C394.4 1250.2 393.7 1249 392.8 1247.9C392 1246.8 390.1 1245.2 389 1244.1C387.9 1242.9 386.4 1241.5 385.5 1240.3C384.7 1239.1 383.7 1237.6 383.2 1236.2C382.7 1234.8 382.3 1237.4 382 1230.9C381.8 1224.5 381.7 1200.9 381.7 1193C381.8 1185.1 382.6 1185 382.6 1178.4C382.7 1171.8 382 1157 382 1149.2C382 1141.4 382.5 1129.8 382.6 1126.4Z" fill="#0000ff"/>
<path d="M425.2 1126.4C425.4 1128.1 426.3 1131.9 426.4 1137.5C426.5 1143.1 426 1157.7 425.8 1163.8C425.6 1169.9 425.4 1175.1 424.9 1178.4C424.5 1181.7 423.5 1183.7 422.9 1185.7C422.2 1187.7 421.1 1189.3 420.5 1191.5C420 1193.7 419.9 1198.3 419.4 1200.3C418.8 1202.3 417.8 1203.4 417 1204.7C416.2 1206 414.7 1207.7 414.1 1209.1C413.5 1210.4 412.9 1212.1 412.9 1213.4C412.9 1214.7 413.5 1216.5 414.1 1217.8C414.7 1219.1 416.1 1220.9 417 1222.2C418 1223.5 419.6 1225.1 420.5 1226.6C421.5 1228 423.5 1230.5 423.5 1231.8C423.5 1233.1 421.6 1234.1 420.5 1235.3C419.4 1236.5 417.2 1238.5 416.2 1239.7C415.2 1240.9 414.3 1242.1 413.8 1243.2C413.4 1244.3 413 1245.8 413.2 1247C413.5 1248.2 414.7 1249.9 415.6 1251.4C416.4 1252.9 418 1255 418.8 1257.2C419.6 1259.4 420.6 1263.4 421.1 1266C421.7 1268.6 421.9 1272.1 422.3 1274.7C422.7 1277.4 423.5 1280.9 424 1283.5C424.6 1286.1 425.4 1290 425.8 1292.3C426.2 1294.5 426.8 1297.7 427 1298.7L431.6 1298.7C431.8 1297.7 432.4 1294.5 432.8 1292.3C433.2 1290 434 1286.1 434.6 1283.5C435.1 1280.9 435.9 1277.4 436.3 1274.7C436.7 1272.1 436.9 1268.6 437.5 1266C438 1263.4 439 1259.4 439.8 1257.2C440.6 1255 442.2 1252.9 443 1251.4C443.9 1249.9 445.1 1248.2 445.4 1247C445.6 1245.8 445.2 1244.3 444.8 1243.2C444.3 1242.1 443.4 1240.9 442.4 1239.7C441.4 1238.5 439.2 1236.5 438.1 1235.3C437 1234.1 435.1 1233.1 435.1 1231.8C435.1 1230.5 437.1 1228 438.1 1226.6C439 1225.1 440.6 1223.5 441.6 1222.2C442.5 1220.9 443.9 1219.1 444.5 1217.8C445.1 1216.5 445.7 1214.7 445.7 1213.4C445.7 1212.1 445.1 1210.4 444.5 1209.1C443.9 1207.7 442.4 1206 441.6 1204.7C440.8 1203.4 439.8 1202.3 439.2 1200.3C438.7 1198.3 438.6 1193.7 438.1 1191.5C437.5 1189.3 436.4 1187.7 435.7 1185.7C435.1 1183.7 434.1 1181.7 433.7 1178.4C433.2 1175.1 433 1169.9 432.8 1163.8C432.6 1157.7 432.1 1143.1 432.2 1137.5C432.3 1131.9 433.2 1128.1 433.4 1126.4Z" fill="#9e1530"/>
<path d="M476.9 1126.4C476.8 1134.2 476.2 1166.2 476.3 1178.4C476.3 1190.6 477.1 1199.9 477.2 1207.6C477.2 1215.3 476.9 1225.5 476.6 1229.5C476.2 1233.5 475.5 1233.1 474.8 1234.5C474.1 1235.8 473 1237 471.9 1238.2C470.8 1239.5 468.7 1241.3 467.5 1242.6C466.3 1243.9 464.7 1245.7 464 1247C463.3 1248.3 463 1249.9 462.8 1251.4C462.7 1252.9 462.9 1255.7 463.1 1257.2C463.4 1258.8 464.1 1260.3 464.6 1261.6C465.1 1262.9 466.2 1264.7 466.6 1266C467.1 1267.3 467.3 1269.1 467.5 1270.4C467.8 1271.7 468 1273.4 468.4 1274.7C468.7 1276.1 469.3 1277.8 469.9 1279.1C470.4 1280.4 471 1281.8 471.9 1283.5C472.8 1285.3 474.9 1288.5 475.7 1290.8C476.5 1293.1 477.2 1297.5 477.4 1298.7L481 1298.7C481.2 1297.5 481.9 1293.1 482.7 1290.8C483.5 1288.5 485.6 1285.3 486.5 1283.5C487.4 1281.8 488 1280.4 488.5 1279.1C489.1 1277.8 489.7 1276.1 490 1274.7C490.4 1273.4 490.6 1271.7 490.9 1270.4C491.1 1269.1 491.3 1267.3 491.8 1266C492.2 1264.7 493.3 1262.9 493.8 1261.6C494.3 1260.3 495 1258.8 495.3 1257.2C495.5 1255.7 495.7 1252.9 495.6 1251.4C495.4 1249.9 495.1 1248.3 494.4 1247C493.7 1245.7 492.1 1243.9 490.9 1242.6C489.7 1241.3 487.6 1239.5 486.5 1238.2C485.4 1237 484.3 1235.8 483.6 1234.5C482.9 1233.1 482.2 1233.5 481.8 1229.5C481.5 1225.5 481.2 1215.3 481.2 1207.6C481.3 1199.9 482.1 1190.6 482.1 1178.4C482.2 1166.2 481.6 1134.2 481.5 1126.4Z" fill="#0000ff"/>
<path d="M525.4 1126.4C525.5 1128.1 526.1 1134.1 526 1137.5C525.9 1140.9 524.7 1145.3 524.8 1149.2C524.9 1153.1 526.4 1158.1 526.6 1163.8C526.7 1169.5 526.5 1183 526 1187.2C525.5 1191.3 524.1 1190.3 523.1 1191.5C522.1 1192.8 520.4 1194.2 519.3 1195.3C518.2 1196.4 516.6 1197.6 515.8 1198.8C514.9 1200 513.9 1201.9 513.4 1203.2C513 1204.5 512.6 1206.4 512.8 1207.6C513.1 1208.8 514.1 1210 514.9 1211.1C515.7 1212.2 517.3 1213.8 518.4 1214.9C519.4 1216 521.1 1217.6 521.9 1218.7C522.7 1219.8 523.5 1221 523.6 1222.2C523.8 1223.4 523.2 1225.3 522.8 1226.6C522.3 1227.9 521.5 1229.6 520.7 1230.9C520 1232.3 518.5 1234 517.8 1235.3C517.1 1236.6 516.2 1238.2 515.8 1239.7C515.3 1241.2 514.6 1243.8 514.6 1245.5C514.5 1247.3 515 1249.6 515.5 1251.4C516 1253.1 517 1255 517.8 1257.2C518.6 1259.4 519.9 1262.9 520.7 1266C521.5 1269.1 522.4 1274.2 523.1 1277.7C523.8 1281.2 524.8 1286.2 525.4 1289.3C526 1292.5 526.6 1297.3 526.9 1298.7L530.9 1298.7C531.2 1297.3 531.8 1292.5 532.4 1289.3C533 1286.2 534 1281.2 534.7 1277.7C535.4 1274.2 536.3 1269.1 537.1 1266C537.9 1262.9 539.2 1259.4 540 1257.2C540.8 1255 541.8 1253.1 542.3 1251.4C542.8 1249.6 543.3 1247.3 543.2 1245.5C543.2 1243.8 542.5 1241.2 542 1239.7C541.6 1238.2 540.7 1236.6 540 1235.3C539.3 1234 537.8 1232.3 537.1 1230.9C536.3 1229.6 535.5 1227.9 535 1226.6C534.6 1225.3 534 1223.4 534.2 1222.2C534.3 1221 535.1 1219.8 535.9 1218.7C536.7 1217.6 538.4 1216 539.4 1214.9C540.5 1213.8 542.1 1212.2 542.9 1211.1C543.7 1210 544.7 1208.8 545 1207.6C545.2 1206.4 544.8 1204.5 544.4 1203.2C543.9 1201.9 542.9 1200 542 1198.8C541.2 1197.6 539.6 1196.4 538.5 1195.3C537.4 1194.2 535.7 1192.8 534.7 1191.5C533.7 1190.3 532.3 1191.3 531.8 1187.2C531.3 1183 531.1 1169.5 531.2 1163.8C531.4 1158.1 532.9 1153.1 533 1149.2C533.1 1145.3 531.9 1140.9 531.8 1137.5C531.7 1134.1 532.3 1128.1 532.4 1126.4Z" fill="#9e1530"/>
<path d="M576.7 1126.4C576.7 1134.2 576.3 1162.7 576.2 1178.4C576.1 1194.1 576.4 1222.3 576.2 1230.9C575.9 1239.6 575.2 1234.8 574.7 1236.2C574.2 1237.6 573.5 1239 572.7 1240.3C571.8 1241.6 569.9 1243.6 568.9 1245C567.8 1246.3 566.4 1247.9 565.7 1249.1C564.9 1250.2 564.3 1251.6 563.9 1252.8C563.5 1254.1 563 1255.9 562.7 1257.2C562.5 1258.5 562.1 1260.3 562.4 1261.6C562.7 1262.9 564 1264.7 564.8 1266C565.6 1267.3 567 1269.1 567.7 1270.4C568.4 1271.7 569.1 1272.8 569.7 1274.7C570.4 1276.7 571.2 1280.9 572.1 1283.5C573 1286.1 574.8 1290 575.6 1292.3C576.3 1294.5 576.8 1297.7 577 1298.7L580 1298.7C580.2 1297.7 580.7 1294.5 581.4 1292.3C582.2 1290 584 1286.1 584.9 1283.5C585.8 1280.9 586.6 1276.7 587.3 1274.7C587.9 1272.8 588.6 1271.7 589.3 1270.4C590 1269.1 591.4 1267.3 592.2 1266C593 1264.7 594.3 1262.9 594.6 1261.6C594.9 1260.3 594.5 1258.5 594.3 1257.2C594 1255.9 593.5 1254.1 593.1 1252.8C592.7 1251.6 592.1 1250.2 591.3 1249.1C590.6 1247.9 589.2 1246.3 588.1 1245C587.1 1243.6 585.2 1241.6 584.3 1240.3C583.5 1239 582.8 1237.6 582.3 1236.2C581.8 1234.8 581.1 1239.6 580.8 1230.9C580.6 1222.3 580.9 1194.1 580.8 1178.4C580.7 1162.7 580.3 1134.2 580.3 1126.4Z" fill="#0000ff"/>
<path d="M626.4 1126.4C626.3 1129.8 626 1141.4 625.8 1149.2C625.6 1157 625.3 1169.6 625.2 1178.4C625.1 1187.2 625.4 1201.7 625.2 1207.6C625 1213.5 624.4 1215.6 624 1217.8C623.6 1220 623.1 1220.9 622.6 1222.2C622 1223.5 621 1225.3 620.2 1226.6C619.4 1227.9 618.1 1229.6 617.3 1230.9C616.5 1232.3 615.5 1234 615 1235.3C614.4 1236.6 613.9 1238.4 613.5 1239.7C613.2 1241 612.8 1242.6 612.6 1244.1C612.5 1245.6 612.4 1248.2 612.6 1249.9C612.9 1251.7 613.6 1254.2 614.1 1255.8C614.6 1257.3 615.4 1258.6 616.1 1260.1C616.9 1261.7 618.5 1264.5 619.4 1266C620.2 1267.5 621.1 1269.1 621.7 1270.4C622.3 1271.7 623 1272.8 623.4 1274.7C623.9 1276.7 624.3 1280.9 624.6 1283.5C625 1286.1 625.4 1290 625.8 1292.3C626.1 1294.5 626.8 1297.7 626.9 1298.7L630.5 1298.7C630.6 1297.7 631.3 1294.5 631.6 1292.3C632 1290 632.4 1286.1 632.8 1283.5C633.1 1280.9 633.5 1276.7 634 1274.7C634.4 1272.8 635.1 1271.7 635.7 1270.4C636.3 1269.1 637.2 1267.5 638 1266C638.9 1264.5 640.5 1261.7 641.3 1260.1C642 1258.6 642.8 1257.3 643.3 1255.8C643.8 1254.2 644.5 1251.7 644.8 1249.9C645 1248.2 644.9 1245.6 644.8 1244.1C644.6 1242.6 644.2 1241 643.9 1239.7C643.5 1238.4 643 1236.6 642.4 1235.3C641.9 1234 640.9 1232.3 640.1 1230.9C639.3 1229.6 638 1227.9 637.2 1226.6C636.4 1225.3 635.4 1223.5 634.8 1222.2C634.3 1220.9 633.8 1220 633.4 1217.8C633 1215.6 632.4 1213.5 632.2 1207.6C632 1201.7 632.3 1187.2 632.2 1178.4C632.1 1169.6 631.8 1157 631.6 1149.2C631.4 1141.4 631.1 1129.8 631 1126.4Z" fill="#9e1530"/>
<polyline points="130.9,1170.5 230.2,1212.8 330,1227 429.3,1231.7 528.9,1236.4 628.7,1241.1" fill="none" stroke="#ffb400" stroke-width="3" stroke-dasharray="9.5 5.5"/>
<path d="M130.9 1162.4L133 1168.1L139.1 1168.4L134.3 1172.1L136 1178L130.9 1174.6L125.8 1178L127.5 1172.1L122.7 1168.4L128.8 1168.1Z" fill="#ffae42"/>
<path d="M230.2 1204.8L232.3 1210.4L238.4 1210.7L233.6 1214.5L235.3 1220.3L230.2 1217L225.1 1220.3L226.8 1214.5L222 1210.7L228.1 1210.4Z" fill="#ffae42"/>
<path d="M330 1218.9L332.1 1224.5L338.2 1224.8L333.4 1228.6L335.1 1234.4L330 1231.1L324.9 1234.4L326.6 1228.6L321.8 1224.8L327.9 1224.5Z" fill="#ffae42"/>
<path d="M429.3 1223.6L431.4 1229.2L437.5 1229.5L432.7 1233.3L434.4 1239.1L429.3 1235.8L424.2 1239.1L425.9 1233.3L421.1 1229.5L427.2 1229.2Z" fill="#ffae42"/>
<path d="M528.9 1228.3L531 1233.9L537.1 1234.2L532.3 1238L534 1243.8L528.9 1240.5L523.8 1243.8L525.5 1238L520.7 1234.2L526.8 1233.9Z" fill="#ffae42"/>
<path d="M628.7 1233L630.8 1238.6L636.9 1238.9L632.1 1242.7L633.8 1248.5L628.7 1245.2L623.6 1248.5L625.3 1242.7L620.5 1238.9L626.6 1238.6Z" fill="#ffae42"/>
<path d="M80.7 1247.1L82.8 1252.8L88.9 1253L84.1 1256.8L85.8 1262.6L80.7 1259.3L75.6 1262.6L77.3 1256.8L72.5 1253L78.6 1252.8Z" fill="#1fe0ee"/>
<path d="M180.5 1247.1L182.6 1252.8L188.7 1253L183.9 1256.8L185.6 1262.6L180.5 1259.3L175.4 1262.6L177.1 1256.8L172.3 1253L178.4 1252.8Z" fill="#1fe0ee"/>
<path d="M280.1 1247.1L282.2 1252.8L288.3 1253L283.5 1256.8L285.2 1262.6L280.1 1259.3L275 1262.6L276.7 1256.8L271.9 1253L278 1252.8Z" fill="#1fe0ee"/>
<path d="M379.7 1247.1L381.8 1252.8L387.9 1253L383.1 1256.8L384.8 1262.6L379.7 1259.3L374.6 1262.6L376.3 1256.8L371.5 1253L377.6 1252.8Z" fill="#1fe0ee"/>
<path d="M479.2 1247.1L481.3 1252.8L487.4 1253L482.6 1256.8L484.3 1262.6L479.2 1259.3L474.1 1262.6L475.8 1256.8L471 1253L477.1 1252.8Z" fill="#1fe0ee"/>
<path d="M578.5 1247.1L580.6 1252.8L586.7 1253L581.9 1256.8L583.6 1262.6L578.5 1259.3L573.4 1262.6L575.1 1256.8L570.3 1253L576.4 1252.8Z" fill="#1fe0ee"/>
<line x1="61" y1="1314.3" x2="145.7" y2="1314.3" stroke="#222" stroke-width="3.2"/>
<text x="103.8" y="1337.7" font-size="19.5" text-anchor="middle">90°</text>
<line x1="162.3" y1="1314.3" x2="247" y2="1314.3" stroke="#222" stroke-width="3.2"/>
<text x="205.2" y="1337.7" font-size="19.5" text-anchor="middle">45°</text>
<line x1="262.5" y1="1314.3" x2="347" y2="1314.3" stroke="#222" stroke-width="3.2"/>
<text x="305.2" y="1337.7" font-size="19.5" text-anchor="middle">30°</text>
<line x1="363" y1="1314.3" x2="447.5" y2="1314.3" stroke="#222" stroke-width="3.2"/>
<text x="405.8" y="1337.7" font-size="19.5" text-anchor="middle">25°</text>
<line x1="463" y1="1314.3" x2="547.5" y2="1314.3" stroke="#222" stroke-width="3.2"/>
<text x="505.8" y="1337.7" font-size="19.5" text-anchor="middle">20°</text>
<line x1="563.5" y1="1314.3" x2="647.5" y2="1314.3" stroke="#222" stroke-width="3.2"/>
<text x="606" y="1337.7" font-size="19.5" text-anchor="middle">15°</text>
<text x="280.3" y="1361.7" font-size="16.5" textLength="116">Go/NoGo Angle</text>
<path d="M555.5 1082.2L557.3 1087L562.4 1087.2L558.4 1090.4L559.8 1095.4L555.5 1092.6L551.2 1095.4L552.6 1090.4L548.6 1087.2L553.7 1087Z" fill="#ffae42"/>
<path d="M563.5 1097.2L565.3 1102L570.4 1102.2L566.4 1105.4L567.8 1110.4L563.5 1107.6L559.2 1110.4L560.6 1105.4L556.6 1102.2L561.7 1102Z" fill="#1fe0ee"/>
<text x="571.5" y="1095.5" font-size="16.5" textLength="80">Actual stim</text>
<text x="571.5" y="1112" font-size="16.5" textLength="76.5">orientation</text>
<line x1="74" y1="1614.8" x2="309.2" y2="1614.8" stroke="#222" stroke-width="1.5"/>
<line x1="132.8" y1="1431.5" x2="132.8" y2="1668.3" stroke="#b4b4fa" stroke-width="1.3" stroke-dasharray="5 3.5"/>
<line x1="152.4" y1="1431.5" x2="152.4" y2="1668.3" stroke="#ffe000" stroke-width="1.9" stroke-dasharray="4.4 4"/>
<line x1="158.9" y1="1431.5" x2="158.9" y2="1668.3" stroke="#f39a2b" stroke-width="1.9" stroke-dasharray="4.4 4"/>
<line x1="191.6" y1="1431.5" x2="191.6" y2="1668.3" stroke="#ad5a5a" stroke-width="1.5" stroke-dasharray="4.4 4"/>
<line x1="250.4" y1="1540.5" x2="250.4" y2="1668.3" stroke="#333" stroke-width="1.7" stroke-dasharray="4.6 4"/>
<path d="M75.2 1607.6C76.2 1607.1 78.7 1604.6 80.9 1604.8C83.1 1605 86.1 1608.4 88.5 1608.6C90.9 1608.8 93 1608.4 95.1 1605.7C97.1 1603 99.1 1597.8 100.8 1592.4C102.5 1587 103.9 1579.5 105.5 1573.5C107.1 1567.5 108.9 1561.2 110.3 1556.4C111.7 1551.7 112.7 1548.8 114.1 1545C115.5 1541.2 117.1 1537 118.8 1533.9C120.5 1530.8 122.8 1528 124.5 1526.3C126.2 1524.6 127.1 1523.8 128.7 1524C130.3 1524.2 132.5 1525.2 134 1527.2C135.5 1529.2 136.6 1532.5 137.8 1535.8C139 1539.1 140.1 1542.9 141 1547C141.9 1551.1 142.4 1555.2 143.5 1560.2C144.6 1565.2 146 1571.6 147.3 1577.3C148.6 1583 149.8 1589.2 151.1 1594.3C152.4 1599.3 153.6 1603.6 154.9 1607.6C156.2 1611.6 157.1 1615.2 158.7 1618.1C160.3 1620.9 161.9 1623.3 164.4 1624.7C166.9 1626.1 171.1 1625.5 173.9 1626.6C176.8 1627.7 178.7 1629.7 181.5 1631.4C184.3 1633.1 187.9 1636.8 190.7 1637C193.5 1637.2 195.8 1633.7 198.3 1632.3C200.8 1630.9 203.4 1628.3 205.9 1628.5C208.4 1628.7 211 1631.8 213.5 1633.3C216 1634.8 218.6 1637.6 221.1 1637.6C223.6 1637.6 226.2 1634.6 228.7 1633.3C231.2 1632 233.7 1629.7 236.2 1629.5C238.7 1629.3 241.3 1631 243.8 1632.3C246.3 1633.5 248.6 1635.9 251.4 1637C254.2 1638.1 257.7 1637.8 260.9 1638.9C264.1 1640 267.4 1642.3 270.4 1643.7C273.4 1645.1 276 1647.7 278.9 1647.5C281.8 1647.3 284.5 1644.6 287.5 1642.7C290.5 1640.8 293.4 1638 297 1636.1C300.6 1634.2 307.2 1632.2 309.3 1631.4" fill="none" stroke="#ccccfc" stroke-width="3.5" stroke-linejoin="round"/>
<path d="M76.1 1623.8C76.9 1624.1 79.2 1624.6 80.9 1625.7C82.7 1626.8 84.4 1629.1 86.6 1630.4C88.8 1631.7 91.7 1632.8 94.2 1633.3C96.7 1633.8 99.3 1633.6 101.8 1633.3C104.3 1633 106.8 1632.3 109.3 1631.7C111.8 1631.1 114.4 1631 116.9 1629.5C119.4 1628 122 1625.5 124.5 1622.8C127 1620.1 129.9 1615.5 132.1 1613.3C134.3 1611.1 135.9 1610.2 137.8 1609.5C139.7 1608.8 141.6 1608.9 143.5 1609.1C145.4 1609.3 147.3 1610.9 149.2 1610.5C151.1 1610.1 153 1608.8 154.9 1606.7C156.8 1604.6 158.7 1601.7 160.6 1598.1C162.5 1594.5 164.4 1589.6 166.3 1584.9C168.2 1580.2 170.1 1575.2 172 1569.7C173.9 1564.2 175.8 1558 177.7 1552C179.6 1546 181.6 1537.8 183.4 1533.9C185.2 1530 187.1 1528.6 188.8 1528.6C190.5 1528.6 191.9 1530.8 193.5 1533.9C195.1 1537.1 196.7 1543.1 198.3 1547.5C199.9 1551.9 201.3 1555.2 203 1560.2C204.7 1565.2 206.8 1571.9 208.7 1577.3C210.6 1582.7 212.7 1588 214.4 1592.4C216.2 1596.8 217.4 1601.1 219.2 1603.8C220.9 1606.5 223 1607.9 224.9 1608.6C226.8 1609.3 228.6 1608.2 230.5 1608C232.4 1607.8 234.3 1606.7 236.2 1607.3C238.1 1607.9 240 1609.6 241.9 1611.4C243.8 1613.2 245.7 1616.2 247.6 1618.1C249.5 1620 251.1 1621.5 253.3 1622.8C255.5 1624.1 258.4 1624.6 260.9 1625.7C263.4 1626.8 266.1 1628.5 268.5 1629.5C270.9 1630.5 273.2 1631.7 275.1 1631.4C277 1631.1 278.1 1629.8 279.9 1627.6C281.6 1625.4 283.7 1620.3 285.6 1618.1C287.5 1615.9 289.4 1614.8 291.3 1614.3C293.2 1613.8 295.1 1614.3 297 1614.8C298.9 1615.3 300.6 1616.4 302.7 1617.1C304.8 1617.8 308.2 1618.7 309.3 1619" fill="none" stroke="#b01217" stroke-width="3.5" stroke-linejoin="round"/>
<path d="M76.1 1615.2C76.9 1616.2 79.2 1620.9 80.9 1620.9C82.7 1620.9 84.7 1618.1 86.6 1615.2C88.5 1612.3 90.4 1606.5 92.3 1603.8C94.2 1601.1 96.1 1599.9 98 1599.1C99.9 1598.3 101.5 1598.8 103.7 1599.1C105.9 1599.4 109 1601.2 111.2 1601C113.4 1600.8 115 1599.8 116.9 1598.1C118.8 1596.3 120.7 1593.7 122.6 1590.5C124.5 1587.3 126.4 1582.7 128.3 1579.2C130.2 1575.7 132.1 1572.1 134 1569.7C135.9 1567.3 137.8 1565.7 139.7 1564.9C141.6 1564.1 143.5 1564.1 145.4 1564.9C147.3 1565.7 149.2 1567 151.1 1569.7C153 1572.4 154.9 1577.3 156.8 1581.1C158.7 1584.9 160.6 1589.4 162.5 1592.4C164.4 1595.4 166.5 1597.8 168.2 1599.1C169.9 1600.4 171 1600.5 172.9 1600C174.8 1599.5 177.5 1598.1 179.6 1596.2C181.7 1594.3 183.5 1591.5 185.3 1588.7C187.2 1585.9 188.7 1581.6 190.7 1579.2C192.7 1576.8 195.2 1574.1 197.3 1574.4C199.4 1574.7 201.1 1577.1 203 1581.1C204.9 1585 206.8 1592.4 208.7 1598.1C210.6 1603.8 212.5 1610.8 214.4 1615.2C216.3 1619.6 218 1622.6 220.1 1624.7C222.2 1626.8 224.1 1627.5 226.8 1628.1C229.5 1628.7 233 1628.1 236.2 1628.1C239.3 1628.1 242.8 1628.5 245.7 1628.1C248.5 1627.7 250.8 1626.7 253.3 1625.7C255.8 1624.8 258.4 1623 260.9 1622.4C263.4 1621.8 266 1622 268.5 1621.9C271 1621.8 273.9 1621.4 276.1 1621.9C278.3 1622.4 279.9 1623 281.8 1624.7C283.7 1626.4 285.6 1629.8 287.5 1632.3C289.4 1634.8 291.3 1638.2 293.2 1639.9C295.1 1641.6 297 1642.6 298.9 1642.7C300.8 1642.8 302.9 1641.6 304.6 1640.8C306.3 1640 308.5 1638.5 309.3 1638" fill="none" stroke="#f28e1c" stroke-width="3.5" stroke-linejoin="round"/>
<path d="M76.1 1620.9C76.9 1620.6 79.2 1620.9 80.9 1619C82.7 1617.1 84.9 1612.5 86.6 1609.5C88.3 1606.5 89.7 1602.9 91.3 1601C92.9 1599.1 94.3 1597.9 96.1 1598.1C97.8 1598.2 99.9 1600.6 101.8 1601.9C103.7 1603.2 105.5 1605.7 107.4 1605.7C109.3 1605.7 111.2 1604.7 113.1 1601.9C115 1599.1 116.9 1593.4 118.8 1588.7C120.7 1584 122.6 1577.8 124.5 1573.5C126.4 1569.2 128.3 1565.2 130.2 1563C132.1 1560.8 134 1560.5 135.9 1560.2C137.8 1559.9 139.7 1560.1 141.6 1561.1C143.5 1562 145.4 1563.4 147.3 1565.9C149.2 1568.4 151.1 1572.2 153 1576.3C154.9 1580.4 156.8 1585.9 158.7 1590.5C160.6 1595.1 162.5 1600.3 164.4 1603.8C166.3 1607.3 168.2 1610 170.1 1611.4C172 1612.8 173.6 1612.7 175.8 1612.4C178 1612.1 180.9 1609.2 183.4 1609.5C185.9 1609.8 188.5 1612.1 190.7 1614.3C192.9 1616.5 194.5 1620.3 196.4 1622.8C198.3 1625.3 200.2 1628.2 202.1 1629.5C204 1630.8 205.9 1630.6 207.8 1630.4C209.7 1630.2 211.4 1628.7 213.5 1628.1C215.6 1627.5 217.6 1626.5 220.1 1626.6C222.6 1626.7 226 1628.7 228.7 1628.5C231.4 1628.3 233.7 1627.1 236.2 1625.7C238.7 1624.3 241.4 1621.3 243.8 1620C246.2 1618.7 248.3 1617.9 250.5 1618.1C252.7 1618.2 254.7 1619.2 257.1 1620.9C259.5 1622.6 262.2 1626 264.7 1628.5C267.2 1631 269.8 1634 272.3 1636.1C274.8 1638.1 277.4 1639.5 279.9 1640.8C282.4 1642.1 285 1643.1 287.5 1643.7C290 1644.3 292.6 1644.9 295.1 1644.6C297.6 1644.3 300.3 1643.1 302.7 1641.8C305.1 1640.5 308.2 1637.8 309.3 1637" fill="none" stroke="#ffec00" stroke-width="3.5" stroke-linejoin="round"/>
<line x1="74" y1="1431" x2="74" y2="1670.5" stroke="#000" stroke-width="3.0"/>
<line x1="72.5" y1="1669.3" x2="310.4" y2="1669.3" stroke="#111" stroke-width="2.4"/>
<line x1="74" y1="1468.6" x2="78" y2="1468.6" stroke="#000" stroke-width="2.6"/>
<text x="66" y="1475.8" font-size="16.5" text-anchor="end">0.04</text>
<line x1="74" y1="1541.5" x2="78" y2="1541.5" stroke="#000" stroke-width="2.6"/>
<text x="66" y="1548.7" font-size="16.5" text-anchor="end">0.02</text>
<line x1="74" y1="1614.8" x2="78" y2="1614.8" stroke="#000" stroke-width="2.6"/>
<text x="66" y="1622" font-size="16.5" text-anchor="end">0</text>
<text x="72.2" y="1688.6" font-size="16.5" text-anchor="middle">0</text>
<line x1="132.8" y1="1669.3" x2="132.8" y2="1665.3" stroke="#111" stroke-width="2.6"/>
<text x="130.4" y="1688.6" font-size="16.5" text-anchor="middle">45</text>
<line x1="191.6" y1="1669.3" x2="191.6" y2="1665.3" stroke="#111" stroke-width="2.6"/>
<text x="188.7" y="1688.6" font-size="16.5" text-anchor="middle">90</text>
<line x1="250.4" y1="1669.3" x2="250.4" y2="1665.3" stroke="#111" stroke-width="2.6"/>
<text x="246.9" y="1688.6" font-size="16.5" text-anchor="middle">135</text>
<line x1="309.2" y1="1669.3" x2="309.2" y2="1665.3" stroke="#111" stroke-width="2.6"/>
<text x="305.2" y="1688.6" font-size="16.5" text-anchor="middle">180</text>
<text x="108.7" y="1707" font-size="16.5" textLength="173.4">Preferred orientation (°)</text>
<text x="27.7" y="1545.2" font-size="16.5" text-anchor="middle" textLength="69.6" transform="rotate(-90 27.7 1545.2)">APrE/trial</text>
<line x1="406.4" y1="1615.3" x2="642.8" y2="1615.3" stroke="#222" stroke-width="1.5"/>
<line x1="465.5" y1="1433.5" x2="465.5" y2="1669" stroke="#a0a0ff" stroke-width="1.3" stroke-dasharray="5 3.5"/>
<line x1="485.2" y1="1433.5" x2="485.2" y2="1669" stroke="#ffe000" stroke-width="1.9" stroke-dasharray="4.4 4"/>
<line x1="491.8" y1="1433.5" x2="491.8" y2="1669" stroke="#f39a2b" stroke-width="1.9" stroke-dasharray="4.4 4"/>
<line x1="524.6" y1="1433.5" x2="524.6" y2="1669" stroke="#ad5a5a" stroke-width="1.5" stroke-dasharray="4.4 4"/>
<line x1="583.7" y1="1435" x2="583.7" y2="1669" stroke="#333" stroke-width="1.7" stroke-dasharray="4.6 4"/>
<path d="M407.6 1588.3C408.9 1587.2 412.7 1584.6 415.2 1581.6C417.7 1578.6 420.3 1575 422.8 1570.2C425.3 1565.5 427.9 1558.1 430.4 1553.1C432.9 1548 435.5 1544 438 1539.9C440.5 1535.8 443 1532.9 445.5 1528.5C448 1524.1 450.9 1517.3 453.1 1513.3C455.3 1509.3 457.2 1506.5 458.8 1504.7C460.4 1502.9 461.3 1502.3 462.6 1502.3C463.9 1502.3 464.8 1502.2 466.4 1504.7C468 1507.2 470.2 1511.5 472.1 1517.1C474 1522.6 475.9 1531 477.8 1538C479.7 1545 481.6 1553.4 483.5 1558.8C485.4 1564.2 487.3 1567.3 489.2 1570.2C491.1 1573.1 493 1573.7 494.9 1575.9C496.8 1578.1 498.7 1580 500.6 1583.5C502.5 1587 504.4 1592.7 506.3 1596.8C508.2 1600.9 510.1 1605.3 512 1608.2C513.9 1611.1 515.5 1612.7 517.7 1613.9C519.9 1615.1 523.3 1614.9 525.3 1615.2C527.3 1615.5 527.2 1615.1 529.5 1615.8C531.8 1616.5 535.8 1618.7 539 1619.6C542.2 1620.5 545.3 1621 548.5 1621.1C551.7 1621.2 554.9 1619.9 558 1620C561.1 1620.1 564.2 1620.6 567.4 1621.5C570.5 1622.4 574 1624.7 576.9 1625.6C579.8 1626.5 581.3 1626.8 584.5 1626.8C587.7 1626.8 592.4 1626.2 595.9 1625.6C599.4 1625 602.2 1623.9 605.4 1623.4C608.6 1622.9 611.7 1622.7 614.9 1622.4C618.1 1622.1 621.2 1622.1 624.4 1621.5C627.6 1620.9 630.9 1619.5 633.9 1618.6C636.9 1617.6 641 1616.3 642.4 1615.8" fill="none" stroke="#adadff" stroke-width="3.5" stroke-linejoin="round"/>
<path d="M407.6 1587.3C408.6 1587.9 411.1 1590.1 413.3 1591.1C415.5 1592 418.4 1592.7 420.9 1593C423.4 1593.3 426 1593.6 428.5 1593C431 1592.4 433.9 1591.4 436.1 1589.2C438.3 1587 440.2 1582.9 441.8 1579.7C443.4 1576.5 444.2 1573.4 445.5 1570.2C446.8 1567 447.7 1562.9 449.3 1560.7C450.9 1558.5 453.1 1557.7 455 1556.9C456.9 1556.1 458.8 1556.3 460.7 1556C462.6 1555.7 464.5 1555.8 466.4 1555C468.3 1554.2 470.2 1552.6 472.1 1551.2C474 1549.8 475.9 1547.3 477.8 1546.5C479.7 1545.7 481.6 1545.7 483.5 1546.5C485.4 1547.3 487.3 1549.5 489.2 1551.2C491.1 1552.9 493 1555 494.9 1556.9C496.8 1558.8 498.7 1560.5 500.6 1562.6C502.5 1564.7 504.4 1566.4 506.3 1569.3C508.2 1572.2 510.1 1575.8 512 1579.7C513.9 1583.7 515.8 1589.2 517.7 1593C519.6 1596.8 521.1 1600.3 523.4 1602.5C525.7 1604.7 529.1 1605.7 531.4 1605.9C533.7 1606.2 535 1604.6 537.1 1604C539.2 1603.4 541.7 1602.3 543.7 1602.5C545.8 1602.7 547.5 1603.7 549.4 1605.3C551.3 1606.9 553.2 1610.1 555.1 1612C557 1613.9 558.8 1615.4 560.8 1616.7C562.8 1618 565 1619 567.4 1619.6C569.8 1620.1 572.5 1620.2 575 1620C577.5 1619.8 580.1 1618.7 582.6 1618.6C585.1 1618.5 587.7 1619.2 590.2 1619.6C592.7 1620 595.3 1620.9 597.8 1621.1C600.3 1621.2 602.5 1620.7 605.4 1620.5C608.2 1620.3 611.7 1619.8 614.9 1620C618.1 1620.2 621.2 1621.5 624.4 1621.5C627.6 1621.5 630.9 1620.6 633.9 1620C636.9 1619.4 641 1618.1 642.4 1617.7" fill="none" stroke="#ffec00" stroke-width="3.5" stroke-linejoin="round"/>
<path d="M407.6 1609.1C408.9 1608.5 412.4 1606.6 415.2 1605.3C418 1604 421.8 1603.2 424.7 1601.5C427.6 1599.8 429.8 1597.4 432.3 1594.9C434.8 1592.4 437.4 1589.6 439.9 1586.4C442.4 1583.2 445.2 1579.6 447.4 1575.9C449.6 1572.2 451.2 1568.3 453.1 1564.5C455 1560.7 456.9 1556.6 458.8 1553.1C460.7 1549.6 462.4 1545.9 464.5 1543.7C466.6 1541.5 469 1540.1 471.2 1539.9C473.4 1539.7 475.8 1542 477.8 1542.7C479.9 1543.4 481.6 1543.5 483.5 1544C485.4 1544.5 487.3 1544.8 489.2 1545.5C491.1 1546.2 493 1547.4 494.9 1548.4C496.8 1549.4 498.7 1550.8 500.6 1551.6C502.5 1552.4 504.4 1552.8 506.3 1553.5C508.2 1554.2 510.1 1554.5 512 1556C513.9 1557.5 516.1 1560.3 517.7 1562.6C519.3 1564.9 520.3 1566.8 521.5 1570C522.7 1573.2 523.4 1577.8 524.7 1581.6C526 1585.4 527.8 1589.7 529.5 1593C531.2 1596.3 533.3 1599.5 535.2 1601.5C537.1 1603.5 539 1603.9 540.9 1605.3C542.8 1606.7 544.7 1608 546.6 1610.1C548.5 1612.2 550.4 1615.7 552.3 1617.7C554.2 1619.8 556.1 1621.5 558 1622.4C559.9 1623.4 561.8 1623.6 563.7 1623.4C565.6 1623.2 567.4 1622.4 569.3 1621.5C571.2 1620.6 573.1 1618.8 575 1618C576.9 1617.2 578.8 1616.6 580.7 1616.7C582.6 1616.8 584.2 1617.6 586.4 1618.6C588.6 1619.5 591.8 1621.9 594 1622.4C596.2 1622.9 597.5 1622 599.7 1621.5C601.9 1621 604.8 1619.6 607.3 1619.2C609.8 1618.8 612.4 1619 614.9 1619.2C617.4 1619.4 620 1620.4 622.5 1620.5C625 1620.6 627.6 1620.7 630.1 1620C632.6 1619.3 635.7 1617.1 637.7 1616.2C639.8 1615.3 641.6 1615 642.4 1614.8" fill="none" stroke="#f28e1c" stroke-width="3.5" stroke-linejoin="round"/>
<path d="M407.6 1618C408.6 1617.7 411.4 1616.8 413.3 1616.2C415.2 1615.6 417.1 1614.6 419 1614.4C420.9 1614.2 422.8 1614.8 424.7 1614.8C426.6 1614.8 428.5 1614.9 430.4 1614.4C432.3 1613.9 434.2 1612.6 436.1 1611.6C438 1610.6 439.9 1609 441.8 1608.2C443.7 1607.4 445.2 1606.8 447.4 1606.7C449.6 1606.6 452.5 1607.6 455 1607.6C457.5 1607.6 460.1 1607.2 462.6 1606.7C465.1 1606.2 467.7 1605.7 470.2 1604.8C472.7 1603.9 475.6 1603 477.8 1601.5C480 1600 481.6 1598.5 483.5 1595.8C485.4 1593.1 487.3 1590 489.2 1585.4C491.1 1580.8 493 1574.6 494.9 1568.3C496.8 1562 498.7 1554 500.6 1547.4C502.5 1540.8 504.4 1534 506.3 1528.5C508.2 1523 509.9 1517.5 512 1514.2C514 1510.9 516.4 1508.5 518.6 1508.5C520.9 1508.5 523.4 1511.5 525.5 1514.5C527.6 1517.5 529.5 1523.3 531.4 1526.6C533.3 1529.9 535.2 1532 537.1 1534.2C539 1536.4 540.9 1537.4 542.8 1539.9C544.7 1542.4 546.6 1545.2 548.5 1549.3C550.4 1553.4 552.3 1559.4 554.2 1564.5C556.1 1569.6 558 1575 559.9 1579.7C561.8 1584.5 563.6 1589.5 565.5 1593C567.4 1596.5 569.3 1598.2 571.2 1600.6C573.1 1603 575 1604.7 576.9 1607.2C578.8 1609.7 580.7 1613.3 582.6 1615.8C584.5 1618.3 586.4 1620.8 588.3 1622.4C590.2 1624 591.8 1624.8 594 1625.3C596.2 1625.8 599.1 1625.5 601.6 1625.3C604.1 1625.1 606.4 1624.5 609.2 1624.3C612.1 1624.1 615.9 1624.5 618.7 1624.3C621.6 1624.1 623.8 1624 626.3 1623C628.8 1622 631.2 1619.9 633.9 1618.6C636.6 1617.3 641 1615.9 642.4 1615.4" fill="none" stroke="#b01217" stroke-width="3.5" stroke-linejoin="round"/>
<line x1="406.4" y1="1433" x2="406.4" y2="1671.2" stroke="#000" stroke-width="3.0"/>
<line x1="404.9" y1="1670" x2="644" y2="1670" stroke="#111" stroke-width="2.4"/>
<line x1="406.4" y1="1470.3" x2="410.4" y2="1470.3" stroke="#000" stroke-width="2.6"/>
<text x="398.4" y="1477.5" font-size="16.5" text-anchor="end">0.04</text>
<line x1="406.4" y1="1543" x2="410.4" y2="1543" stroke="#000" stroke-width="2.6"/>
<text x="398.4" y="1550.2" font-size="16.5" text-anchor="end">0.02</text>
<line x1="406.4" y1="1615.3" x2="410.4" y2="1615.3" stroke="#000" stroke-width="2.6"/>
<text x="398.4" y="1622.5" font-size="16.5" text-anchor="end">0</text>
<text x="407.4" y="1688.1" font-size="16.5" text-anchor="middle">0</text>
<line x1="465.5" y1="1670" x2="465.5" y2="1666" stroke="#111" stroke-width="2.6"/>
<text x="466.5" y="1688.1" font-size="16.5" text-anchor="middle">45</text>
<line x1="524.6" y1="1670" x2="524.6" y2="1666" stroke="#111" stroke-width="2.6"/>
<text x="525.6" y="1688.1" font-size="16.5" text-anchor="middle">90</text>
<line x1="583.7" y1="1670" x2="583.7" y2="1666" stroke="#111" stroke-width="2.6"/>
<text x="584.7" y="1688.1" font-size="16.5" text-anchor="middle">135</text>
<line x1="642.8" y1="1670" x2="642.8" y2="1666" stroke="#111" stroke-width="2.6"/>
<text x="643.8" y="1688.1" font-size="16.5" text-anchor="middle">180</text>
<text x="450.5" y="1706.5" font-size="16.5" textLength="173.4">Preferred orientation (°)</text>
<text x="358.9" y="1545.2" font-size="16.5" text-anchor="middle" textLength="69.6" transform="rotate(-90 358.9 1545.2)">APrE/trial</text>
<text x="157.5" y="1411.7" font-size="21" font-weight="bold" textLength="75">Trained</text>
<text x="496" y="1401.7" font-size="21" font-weight="bold" textLength="56">Naive</text>
<text x="436.3" y="1422.3" font-size="15" textLength="180">(no training / no behavior)</text>
<text x="218.6" y="1451.3" font-size="16" textLength="63.2">Stimulus</text>
<line x1="221" y1="1466.5" x2="239.5" y2="1466.5" stroke="#b01217" stroke-width="3"/>
<text x="245.7" y="1471.1" font-size="16" style="fill:#b01217;stroke:#b01217" textLength="24.3">90°</text>
<line x1="221" y1="1486.5" x2="239.5" y2="1486.5" stroke="#f28e1c" stroke-width="3"/>
<text x="245.7" y="1491" font-size="16" style="fill:#f28e1c;stroke:#f28e1c" textLength="24.3">65°</text>
<line x1="221" y1="1506.4" x2="239.5" y2="1506.4" stroke="#ffe600" stroke-width="3"/>
<text x="245.7" y="1511" font-size="16" style="fill:#ffe600;stroke:#ffe600" textLength="24.3">60°</text>
<line x1="221" y1="1526.3" x2="239.5" y2="1526.3" stroke="#ccccfc" stroke-width="3"/>
<text x="245.7" y="1530.9" font-size="16" style="fill:#ccccfc;stroke:#ccccfc" textLength="24.3">45°</text>
</svg>
</div></body></html>
